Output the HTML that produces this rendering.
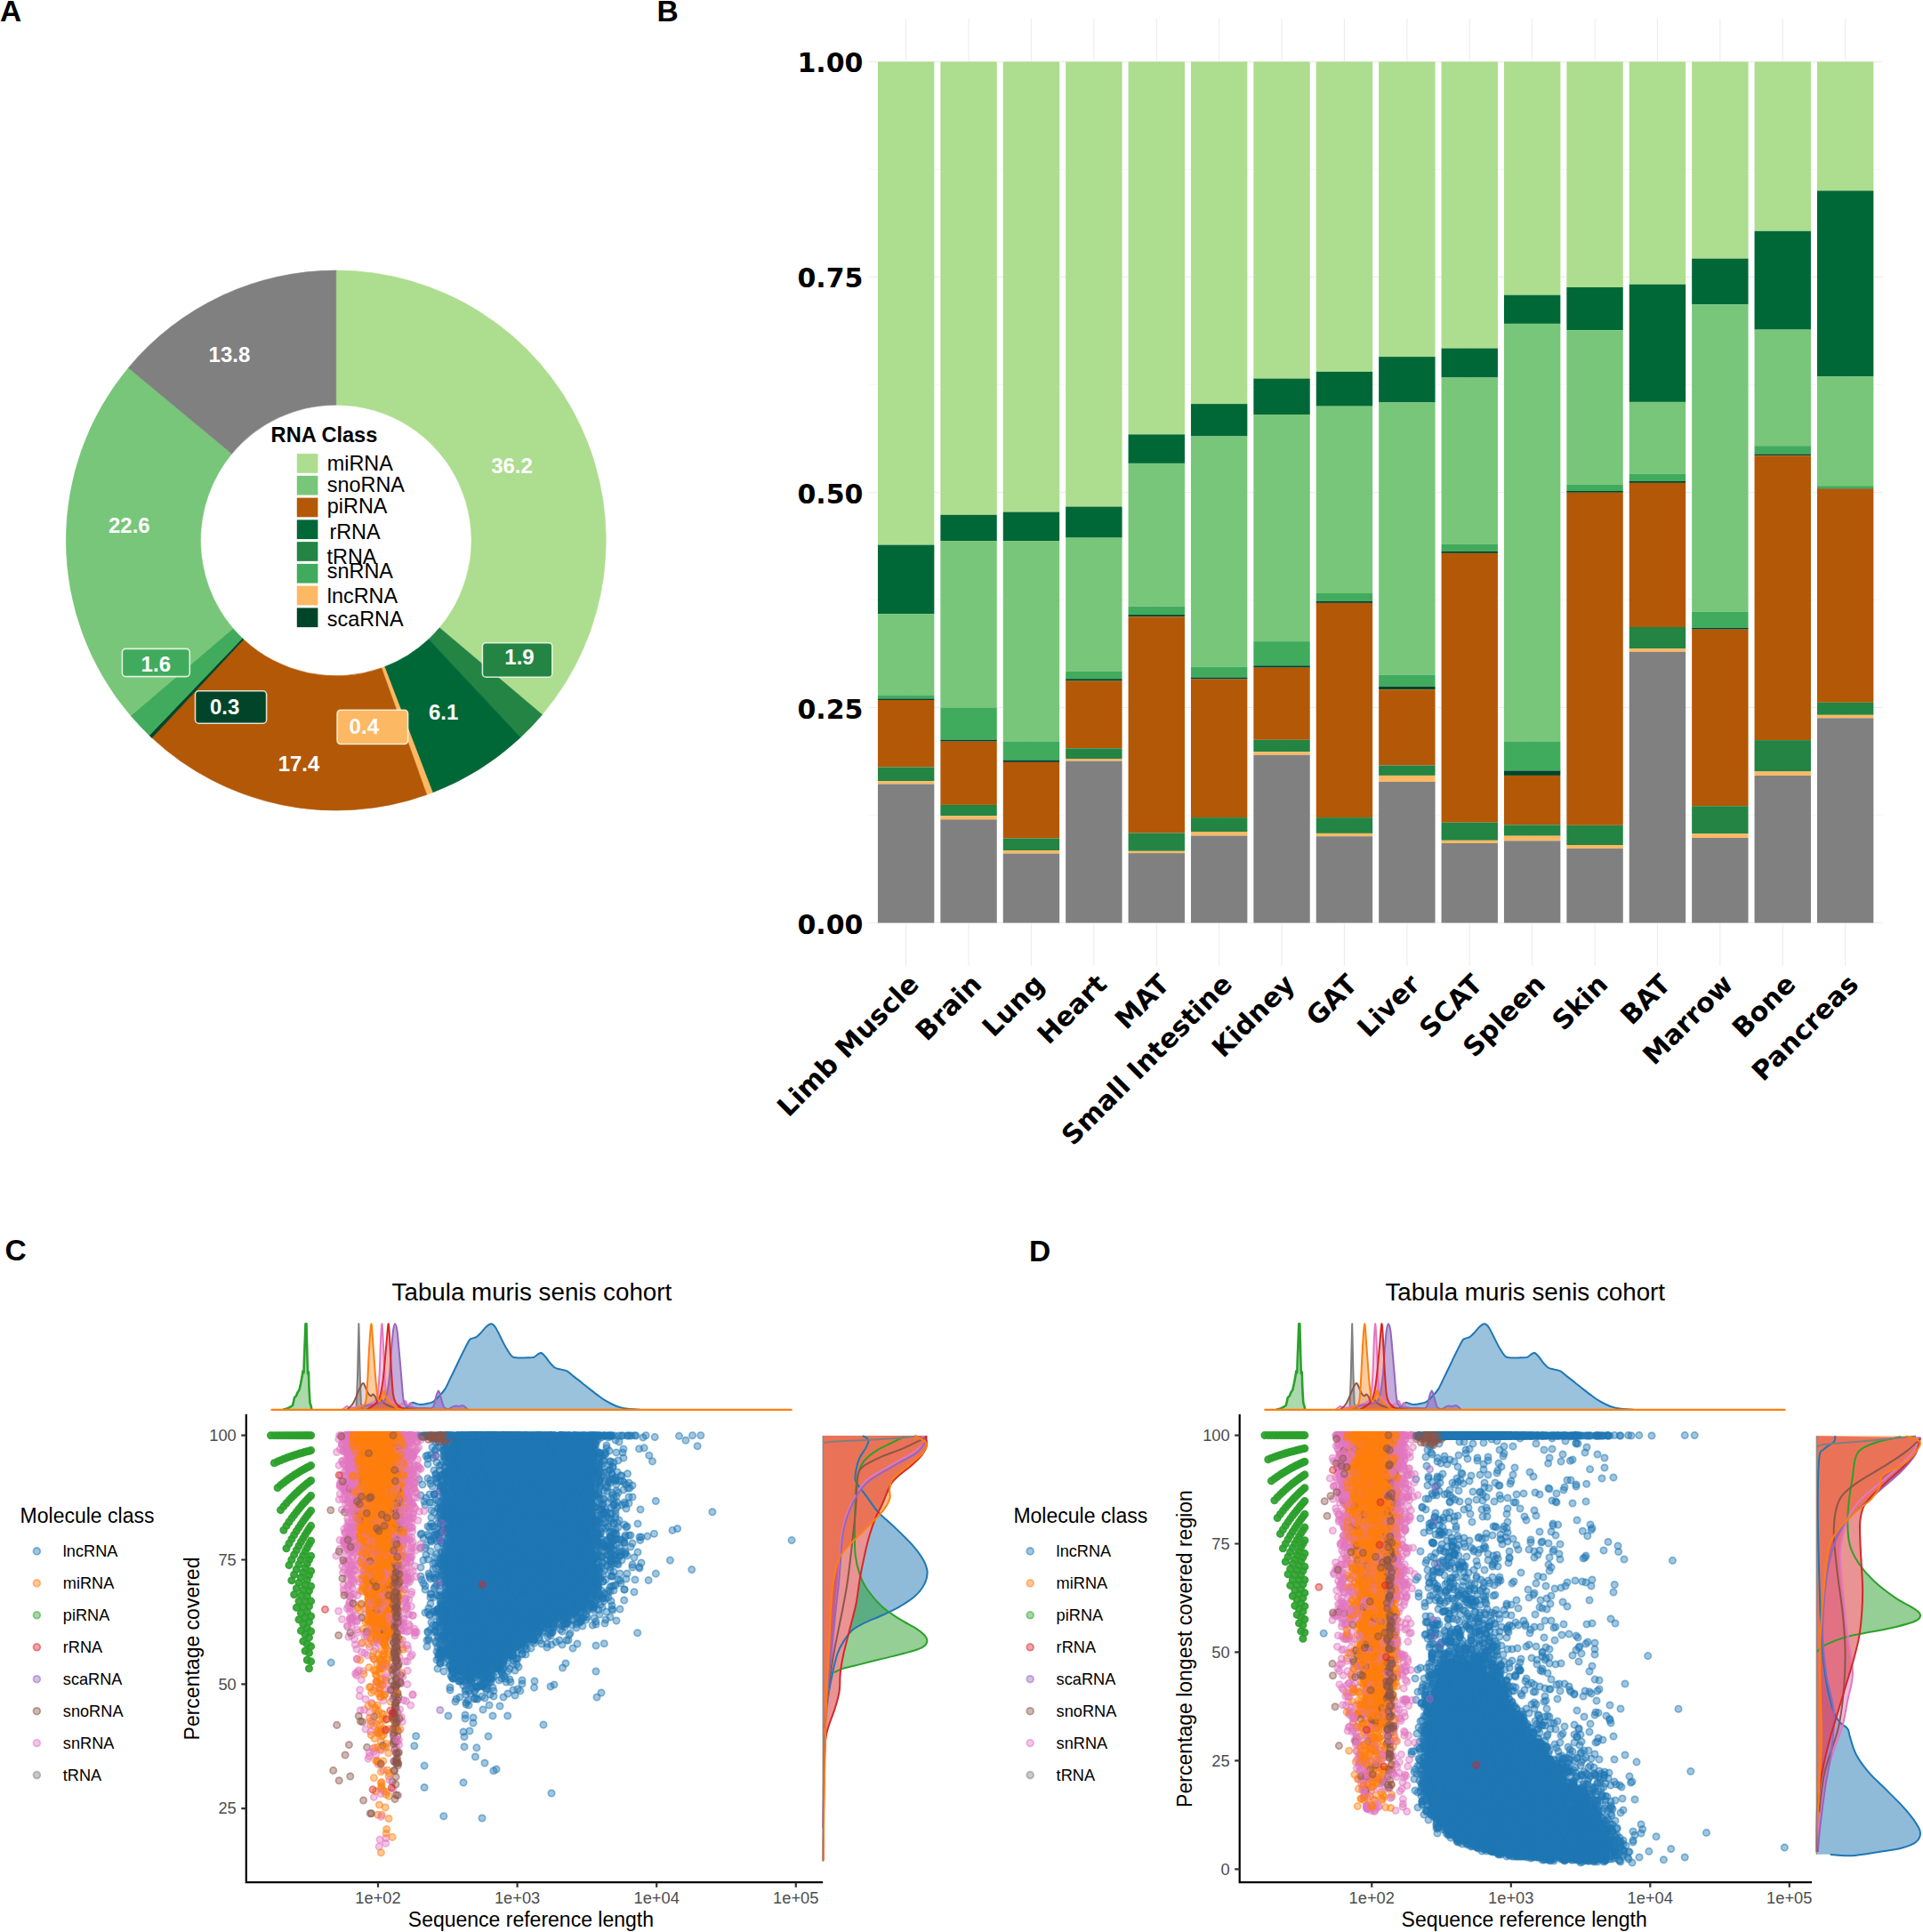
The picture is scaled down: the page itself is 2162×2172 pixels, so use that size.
<!DOCTYPE html>
<html><head><meta charset="utf-8"><title>Figure</title>
<style>
html,body{margin:0;padding:0;background:#fff}
svg{display:block}
.ls{font-family:"Liberation Sans",Arial,Helvetica,sans-serif}
.dj{font-family:"DejaVu Sans",Verdana,sans-serif;font-weight:bold}
</style></head><body>
<svg width="2162" height="2172" viewBox="0 0 2162 2172">
<rect width="2162" height="2172" fill="#fff"/>
<text x="0" y="23.7" font-size="33.5" font-weight="bold" class="ls">A</text><text x="738.6" y="24.2" font-size="33.5" font-weight="bold" class="ls">B</text><text x="5.5" y="1416.6" font-size="33.5" font-weight="bold" class="ls">C</text><text x="1157" y="1417.5" font-size="33.5" font-weight="bold" class="ls">D</text>
<g id="panelA"><path d="M377.80 304.00A303.5 303.5 0 0 1 609.61 803.40L494.13 705.80A152.3 152.3 0 0 0 377.80 455.20Z" fill="#addd8e" stroke="#addd8e" stroke-width="0.6"/>
<path d="M609.61 803.40A303.5 303.5 0 0 1 585.25 829.03L481.90 718.67A152.3 152.3 0 0 0 494.13 705.80Z" fill="#238443" stroke="#238443" stroke-width="0.6"/>
<path d="M585.25 829.03A303.5 303.5 0 0 1 486.32 890.94L432.26 749.73A152.3 152.3 0 0 0 481.90 718.67Z" fill="#006837" stroke="#006837" stroke-width="0.6"/>
<path d="M486.32 890.94A303.5 303.5 0 0 1 479.71 893.38L428.94 750.96A152.3 152.3 0 0 0 432.26 749.73Z" fill="#fdb863" stroke="#fdb863" stroke-width="0.6"/>
<path d="M479.71 893.38A303.5 303.5 0 0 1 170.85 829.50L273.95 718.90A152.3 152.3 0 0 0 428.94 750.96Z" fill="#b35806" stroke="#b35806" stroke-width="0.6"/>
<path d="M170.85 829.50A303.5 303.5 0 0 1 167.85 826.66L272.44 717.48A152.3 152.3 0 0 0 273.95 718.90Z" fill="#004529" stroke="#004529" stroke-width="0.6"/>
<path d="M167.85 826.66A303.5 303.5 0 0 1 146.98 804.57L261.97 706.39A152.3 152.3 0 0 0 272.44 717.48Z" fill="#41ab5d" stroke="#41ab5d" stroke-width="0.6"/>
<path d="M146.98 804.57A303.5 303.5 0 0 1 144.39 413.51L260.67 510.15A152.3 152.3 0 0 0 261.97 706.39Z" fill="#78c679" stroke="#78c679" stroke-width="0.6"/>
<path d="M144.39 413.51A303.5 303.5 0 0 1 377.80 304.00L377.80 455.20A152.3 152.3 0 0 0 260.67 510.15Z" fill="#808080" stroke="#808080" stroke-width="0.6"/>
<text x="304.6" y="496.6" font-size="23.6" font-weight="bold" class="ls">RNA Class</text>
<rect x="333.8" y="510.10" width="23.6" height="21.7" fill="#addd8e"/>
<text x="367.8" y="529.3" font-size="23.4" class="ls">miRNA</text>
<rect x="333.8" y="534.86" width="23.6" height="21.7" fill="#78c679"/>
<text x="367.8" y="552.9" font-size="23.4" class="ls">snoRNA</text>
<rect x="333.8" y="559.62" width="23.6" height="21.7" fill="#b35806"/>
<text x="367.8" y="577.4" font-size="23.4" class="ls">piRNA</text>
<rect x="333.8" y="584.38" width="23.6" height="21.7" fill="#006837"/>
<text x="370.4" y="606" font-size="23.4" class="ls">rRNA</text>
<rect x="333.8" y="609.14" width="23.6" height="21.7" fill="#238443"/>
<text x="367.5" y="633.6" font-size="23.4" class="ls">tRNA</text>
<rect x="333.8" y="633.90" width="23.6" height="21.7" fill="#41ab5d"/>
<text x="367.8" y="650" font-size="23.4" class="ls">snRNA</text>
<rect x="333.8" y="658.66" width="23.6" height="21.7" fill="#fdb863"/>
<text x="367.8" y="678.3" font-size="23.4" class="ls">lncRNA</text>
<rect x="333.8" y="683.42" width="23.6" height="21.7" fill="#004529"/>
<text x="367.8" y="704.3" font-size="23.4" class="ls">scaRNA</text>
<text x="257.9" y="406.8" font-size="24" font-weight="bold" fill="#fff" text-anchor="middle" class="ls">13.8</text>
<text x="145.3" y="599.4" font-size="24" font-weight="bold" fill="#fff" text-anchor="middle" class="ls">22.6</text>
<text x="575.5" y="531.5" font-size="24" font-weight="bold" fill="#fff" text-anchor="middle" class="ls">36.2</text>
<text x="336" y="866.5" font-size="24" font-weight="bold" fill="#fff" text-anchor="middle" class="ls">17.4</text>
<text x="498.7" y="809.3" font-size="24" font-weight="bold" fill="#fff" text-anchor="middle" class="ls">6.1</text>
<rect x="137.4" y="729.4" width="75.9" height="31.2" rx="4" fill="#41ab5d" stroke="#f7fcf0" stroke-opacity=".85" stroke-width="1.6"/>
<text x="175.3" y="755.2" font-size="24" font-weight="bold" fill="#fff" text-anchor="middle" class="ls">1.6</text>
<rect x="219.5" y="776.8" width="80.1" height="36.4" rx="4" fill="#004529" stroke="#f7fcf0" stroke-opacity=".85" stroke-width="1.6"/>
<text x="252.6" y="803.1" font-size="24" font-weight="bold" fill="#fff" text-anchor="middle" class="ls">0.3</text>
<rect x="379.1" y="798.2" width="79.5" height="38.3" rx="4" fill="#fdb863" stroke="#f7fcf0" stroke-opacity=".85" stroke-width="1.6"/>
<text x="409.3" y="824.9" font-size="24" font-weight="bold" fill="#fff" text-anchor="middle" class="ls">0.4</text>
<rect x="542.4" y="722.7" width="78.4" height="38.5" rx="4" fill="#238443" stroke="#f7fcf0" stroke-opacity=".85" stroke-width="1.6"/>
<text x="584" y="746.9" font-size="24" font-weight="bold" fill="#fff" text-anchor="middle" class="ls">1.9</text></g>
<g id="panelB"><path d="M1018.65 21.0V1086.0M1089.05 21.0V1086.0M1159.45 21.0V1086.0M1229.85 21.0V1086.0M1300.25 21.0V1086.0M1370.65 21.0V1086.0M1441.05 21.0V1086.0M1511.45 21.0V1086.0M1581.85 21.0V1086.0M1652.25 21.0V1086.0M1722.65 21.0V1086.0M1793.05 21.0V1086.0M1863.45 21.0V1086.0M1933.85 21.0V1086.0M2004.25 21.0V1086.0M2074.65 21.0V1086.0M976.4 1037.50H2116.9M976.4 795.48H2116.9M976.4 553.45H2116.9M976.4 311.42H2116.9M976.4 69.40H2116.9" stroke="#ededed" stroke-width="1.1" fill="none"/>
<path d="M976.4 916.49H2116.9M976.4 674.46H2116.9M976.4 432.44H2116.9M976.4 190.41H2116.9" stroke="#f2f2f2" stroke-width="0.7" fill="none"/>
<rect x="986.95" y="69.40" width="63.4" height="543.20" fill="#addd8e"/>
<rect x="986.95" y="612.60" width="63.4" height="77.80" fill="#006837"/>
<rect x="986.95" y="690.40" width="63.4" height="91.00" fill="#78c679"/>
<rect x="986.95" y="781.40" width="63.4" height="4.00" fill="#41ab5d"/>
<rect x="986.95" y="785.40" width="63.4" height="1.60" fill="#004529"/>
<rect x="986.95" y="787.00" width="63.4" height="75.50" fill="#b35806"/>
<rect x="986.95" y="862.50" width="63.4" height="15.80" fill="#238443"/>
<rect x="986.95" y="878.30" width="63.4" height="3.20" fill="#fdb863"/>
<rect x="986.95" y="881.50" width="63.4" height="156.00" fill="#808080"/>
<rect x="1057.35" y="69.40" width="63.4" height="509.40" fill="#addd8e"/>
<rect x="1057.35" y="578.80" width="63.4" height="29.30" fill="#006837"/>
<rect x="1057.35" y="608.10" width="63.4" height="187.30" fill="#78c679"/>
<rect x="1057.35" y="795.40" width="63.4" height="36.20" fill="#41ab5d"/>
<rect x="1057.35" y="831.60" width="63.4" height="2.10" fill="#004529"/>
<rect x="1057.35" y="833.70" width="63.4" height="71.20" fill="#b35806"/>
<rect x="1057.35" y="904.90" width="63.4" height="12.40" fill="#238443"/>
<rect x="1057.35" y="917.30" width="63.4" height="4.00" fill="#fdb863"/>
<rect x="1057.35" y="921.30" width="63.4" height="116.20" fill="#808080"/>
<rect x="1127.75" y="69.40" width="63.4" height="506.20" fill="#addd8e"/>
<rect x="1127.75" y="575.60" width="63.4" height="32.50" fill="#006837"/>
<rect x="1127.75" y="608.10" width="63.4" height="225.30" fill="#78c679"/>
<rect x="1127.75" y="833.40" width="63.4" height="21.10" fill="#41ab5d"/>
<rect x="1127.75" y="854.50" width="63.4" height="2.40" fill="#004529"/>
<rect x="1127.75" y="856.90" width="63.4" height="85.50" fill="#b35806"/>
<rect x="1127.75" y="942.40" width="63.4" height="13.70" fill="#238443"/>
<rect x="1127.75" y="956.10" width="63.4" height="3.50" fill="#fdb863"/>
<rect x="1127.75" y="959.60" width="63.4" height="77.90" fill="#808080"/>
<rect x="1198.15" y="69.40" width="63.4" height="500.20" fill="#addd8e"/>
<rect x="1198.15" y="569.60" width="63.4" height="35.00" fill="#006837"/>
<rect x="1198.15" y="604.60" width="63.4" height="149.90" fill="#78c679"/>
<rect x="1198.15" y="754.50" width="63.4" height="8.70" fill="#41ab5d"/>
<rect x="1198.15" y="763.20" width="63.4" height="2.40" fill="#004529"/>
<rect x="1198.15" y="765.60" width="63.4" height="75.70" fill="#b35806"/>
<rect x="1198.15" y="841.30" width="63.4" height="11.70" fill="#238443"/>
<rect x="1198.15" y="853.00" width="63.4" height="2.60" fill="#fdb863"/>
<rect x="1198.15" y="855.60" width="63.4" height="181.90" fill="#808080"/>
<rect x="1268.55" y="69.40" width="63.4" height="419.00" fill="#addd8e"/>
<rect x="1268.55" y="488.40" width="63.4" height="32.50" fill="#006837"/>
<rect x="1268.55" y="520.90" width="63.4" height="160.70" fill="#78c679"/>
<rect x="1268.55" y="681.60" width="63.4" height="9.50" fill="#41ab5d"/>
<rect x="1268.55" y="691.10" width="63.4" height="2.30" fill="#004529"/>
<rect x="1268.55" y="693.40" width="63.4" height="243.10" fill="#b35806"/>
<rect x="1268.55" y="936.50" width="63.4" height="20.30" fill="#238443"/>
<rect x="1268.55" y="956.80" width="63.4" height="2.30" fill="#fdb863"/>
<rect x="1268.55" y="959.10" width="63.4" height="78.40" fill="#808080"/>
<rect x="1338.95" y="69.40" width="63.4" height="384.70" fill="#addd8e"/>
<rect x="1338.95" y="454.10" width="63.4" height="36.40" fill="#006837"/>
<rect x="1338.95" y="490.50" width="63.4" height="259.10" fill="#78c679"/>
<rect x="1338.95" y="749.60" width="63.4" height="11.90" fill="#41ab5d"/>
<rect x="1338.95" y="761.50" width="63.4" height="2.10" fill="#004529"/>
<rect x="1338.95" y="763.60" width="63.4" height="155.50" fill="#b35806"/>
<rect x="1338.95" y="919.10" width="63.4" height="15.90" fill="#238443"/>
<rect x="1338.95" y="935.00" width="63.4" height="4.50" fill="#fdb863"/>
<rect x="1338.95" y="939.50" width="63.4" height="98.00" fill="#808080"/>
<rect x="1409.35" y="69.40" width="63.4" height="356.20" fill="#addd8e"/>
<rect x="1409.35" y="425.60" width="63.4" height="40.40" fill="#006837"/>
<rect x="1409.35" y="466.00" width="63.4" height="255.10" fill="#78c679"/>
<rect x="1409.35" y="721.10" width="63.4" height="27.20" fill="#41ab5d"/>
<rect x="1409.35" y="748.30" width="63.4" height="2.40" fill="#004529"/>
<rect x="1409.35" y="750.70" width="63.4" height="81.10" fill="#b35806"/>
<rect x="1409.35" y="831.80" width="63.4" height="13.50" fill="#238443"/>
<rect x="1409.35" y="845.30" width="63.4" height="3.50" fill="#fdb863"/>
<rect x="1409.35" y="848.80" width="63.4" height="188.70" fill="#808080"/>
<rect x="1479.75" y="69.40" width="63.4" height="348.50" fill="#addd8e"/>
<rect x="1479.75" y="417.90" width="63.4" height="38.80" fill="#006837"/>
<rect x="1479.75" y="456.70" width="63.4" height="210.30" fill="#78c679"/>
<rect x="1479.75" y="667.00" width="63.4" height="8.70" fill="#41ab5d"/>
<rect x="1479.75" y="675.70" width="63.4" height="2.20" fill="#004529"/>
<rect x="1479.75" y="677.90" width="63.4" height="241.20" fill="#b35806"/>
<rect x="1479.75" y="919.10" width="63.4" height="17.80" fill="#238443"/>
<rect x="1479.75" y="936.90" width="63.4" height="3.30" fill="#fdb863"/>
<rect x="1479.75" y="940.20" width="63.4" height="97.30" fill="#808080"/>
<rect x="1550.15" y="69.40" width="63.4" height="331.70" fill="#addd8e"/>
<rect x="1550.15" y="401.10" width="63.4" height="51.40" fill="#006837"/>
<rect x="1550.15" y="452.50" width="63.4" height="306.00" fill="#78c679"/>
<rect x="1550.15" y="758.50" width="63.4" height="13.20" fill="#41ab5d"/>
<rect x="1550.15" y="771.70" width="63.4" height="3.60" fill="#004529"/>
<rect x="1550.15" y="775.30" width="63.4" height="85.20" fill="#b35806"/>
<rect x="1550.15" y="860.50" width="63.4" height="11.40" fill="#238443"/>
<rect x="1550.15" y="871.90" width="63.4" height="7.00" fill="#fdb863"/>
<rect x="1550.15" y="878.90" width="63.4" height="158.60" fill="#808080"/>
<rect x="1620.55" y="69.40" width="63.4" height="322.20" fill="#addd8e"/>
<rect x="1620.55" y="391.60" width="63.4" height="32.90" fill="#006837"/>
<rect x="1620.55" y="424.50" width="63.4" height="187.40" fill="#78c679"/>
<rect x="1620.55" y="611.90" width="63.4" height="7.90" fill="#41ab5d"/>
<rect x="1620.55" y="619.80" width="63.4" height="2.10" fill="#004529"/>
<rect x="1620.55" y="621.90" width="63.4" height="302.80" fill="#b35806"/>
<rect x="1620.55" y="924.70" width="63.4" height="20.10" fill="#238443"/>
<rect x="1620.55" y="944.80" width="63.4" height="3.20" fill="#fdb863"/>
<rect x="1620.55" y="948.00" width="63.4" height="89.50" fill="#808080"/>
<rect x="1690.95" y="69.40" width="63.4" height="262.30" fill="#addd8e"/>
<rect x="1690.95" y="331.70" width="63.4" height="32.20" fill="#006837"/>
<rect x="1690.95" y="363.90" width="63.4" height="469.50" fill="#78c679"/>
<rect x="1690.95" y="833.40" width="63.4" height="33.00" fill="#41ab5d"/>
<rect x="1690.95" y="866.40" width="63.4" height="5.50" fill="#004529"/>
<rect x="1690.95" y="871.90" width="63.4" height="55.40" fill="#b35806"/>
<rect x="1690.95" y="927.30" width="63.4" height="12.40" fill="#238443"/>
<rect x="1690.95" y="939.70" width="63.4" height="5.60" fill="#fdb863"/>
<rect x="1690.95" y="945.30" width="63.4" height="92.20" fill="#808080"/>
<rect x="1761.35" y="69.40" width="63.4" height="253.60" fill="#addd8e"/>
<rect x="1761.35" y="323.00" width="63.4" height="48.20" fill="#006837"/>
<rect x="1761.35" y="371.20" width="63.4" height="173.70" fill="#78c679"/>
<rect x="1761.35" y="544.90" width="63.4" height="7.10" fill="#41ab5d"/>
<rect x="1761.35" y="552.00" width="63.4" height="1.80" fill="#004529"/>
<rect x="1761.35" y="553.80" width="63.4" height="374.00" fill="#b35806"/>
<rect x="1761.35" y="927.80" width="63.4" height="22.20" fill="#238443"/>
<rect x="1761.35" y="950.00" width="63.4" height="3.90" fill="#fdb863"/>
<rect x="1761.35" y="953.90" width="63.4" height="83.60" fill="#808080"/>
<rect x="1831.75" y="69.40" width="63.4" height="250.30" fill="#addd8e"/>
<rect x="1831.75" y="319.70" width="63.4" height="132.20" fill="#006837"/>
<rect x="1831.75" y="451.90" width="63.4" height="81.00" fill="#78c679"/>
<rect x="1831.75" y="532.90" width="63.4" height="7.90" fill="#41ab5d"/>
<rect x="1831.75" y="540.80" width="63.4" height="2.10" fill="#004529"/>
<rect x="1831.75" y="542.90" width="63.4" height="162.10" fill="#b35806"/>
<rect x="1831.75" y="705.00" width="63.4" height="24.30" fill="#238443"/>
<rect x="1831.75" y="729.30" width="63.4" height="3.50" fill="#fdb863"/>
<rect x="1831.75" y="732.80" width="63.4" height="304.70" fill="#808080"/>
<rect x="1902.15" y="69.40" width="63.4" height="221.30" fill="#addd8e"/>
<rect x="1902.15" y="290.70" width="63.4" height="51.70" fill="#006837"/>
<rect x="1902.15" y="342.40" width="63.4" height="345.10" fill="#78c679"/>
<rect x="1902.15" y="687.50" width="63.4" height="18.30" fill="#41ab5d"/>
<rect x="1902.15" y="705.80" width="63.4" height="1.90" fill="#004529"/>
<rect x="1902.15" y="707.70" width="63.4" height="198.50" fill="#b35806"/>
<rect x="1902.15" y="906.20" width="63.4" height="31.20" fill="#238443"/>
<rect x="1902.15" y="937.40" width="63.4" height="4.60" fill="#fdb863"/>
<rect x="1902.15" y="942.00" width="63.4" height="95.50" fill="#808080"/>
<rect x="1972.55" y="69.40" width="63.4" height="190.40" fill="#addd8e"/>
<rect x="1972.55" y="259.80" width="63.4" height="110.80" fill="#006837"/>
<rect x="1972.55" y="370.60" width="63.4" height="130.60" fill="#78c679"/>
<rect x="1972.55" y="501.20" width="63.4" height="9.30" fill="#41ab5d"/>
<rect x="1972.55" y="510.50" width="63.4" height="1.80" fill="#004529"/>
<rect x="1972.55" y="512.30" width="63.4" height="319.80" fill="#b35806"/>
<rect x="1972.55" y="832.10" width="63.4" height="35.30" fill="#238443"/>
<rect x="1972.55" y="867.40" width="63.4" height="4.60" fill="#fdb863"/>
<rect x="1972.55" y="872.00" width="63.4" height="165.50" fill="#808080"/>
<rect x="2042.95" y="69.40" width="63.4" height="145.00" fill="#addd8e"/>
<rect x="2042.95" y="214.40" width="63.4" height="209.00" fill="#006837"/>
<rect x="2042.95" y="423.40" width="63.4" height="122.80" fill="#78c679"/>
<rect x="2042.95" y="546.20" width="63.4" height="2.80" fill="#41ab5d"/>
<rect x="2042.95" y="549.00" width="63.4" height="0.60" fill="#004529"/>
<rect x="2042.95" y="549.60" width="63.4" height="240.20" fill="#b35806"/>
<rect x="2042.95" y="789.80" width="63.4" height="14.00" fill="#238443"/>
<rect x="2042.95" y="803.80" width="63.4" height="3.50" fill="#fdb863"/>
<rect x="2042.95" y="807.30" width="63.4" height="230.20" fill="#808080"/>
<text x="970.5" y="1049.5" font-size="30" text-anchor="end" class="dj">0.00</text>
<text x="970.5" y="807.5" font-size="30" text-anchor="end" class="dj">0.25</text>
<text x="970.5" y="565.5" font-size="30" text-anchor="end" class="dj">0.50</text>
<text x="970.5" y="323.4" font-size="30" text-anchor="end" class="dj">0.75</text>
<text x="970.5" y="81.4" font-size="30" text-anchor="end" class="dj">1.00</text>
<text transform="translate(1019.6 1093) rotate(-45)" x="0" y="21.7" font-size="30" text-anchor="end" class="dj">Limb Muscle</text>
<text transform="translate(1090.0 1093) rotate(-45)" x="0" y="21.7" font-size="30" text-anchor="end" class="dj">Brain</text>
<text transform="translate(1160.5 1093) rotate(-45)" x="0" y="21.7" font-size="30" text-anchor="end" class="dj">Lung</text>
<text transform="translate(1230.8 1093) rotate(-45)" x="0" y="21.7" font-size="30" text-anchor="end" class="dj">Heart</text>
<text transform="translate(1301.2 1093) rotate(-45)" x="0" y="21.7" font-size="30" text-anchor="end" class="dj">MAT</text>
<text transform="translate(1371.7 1093) rotate(-45)" x="0" y="21.7" font-size="30" text-anchor="end" class="dj">Small Intestine</text>
<text transform="translate(1442.0 1093) rotate(-45)" x="0" y="21.7" font-size="30" text-anchor="end" class="dj">Kidney</text>
<text transform="translate(1512.5 1093) rotate(-45)" x="0" y="21.7" font-size="30" text-anchor="end" class="dj">GAT</text>
<text transform="translate(1582.8 1093) rotate(-45)" x="0" y="21.7" font-size="30" text-anchor="end" class="dj">Liver</text>
<text transform="translate(1653.2 1093) rotate(-45)" x="0" y="21.7" font-size="30" text-anchor="end" class="dj">SCAT</text>
<text transform="translate(1723.7 1093) rotate(-45)" x="0" y="21.7" font-size="30" text-anchor="end" class="dj">Spleen</text>
<text transform="translate(1794.1 1093) rotate(-45)" x="0" y="21.7" font-size="30" text-anchor="end" class="dj">Skin</text>
<text transform="translate(1864.5 1093) rotate(-45)" x="0" y="21.7" font-size="30" text-anchor="end" class="dj">BAT</text>
<text transform="translate(1934.8 1093) rotate(-45)" x="0" y="21.7" font-size="30" text-anchor="end" class="dj">Marrow</text>
<text transform="translate(2005.2 1093) rotate(-45)" x="0" y="21.7" font-size="30" text-anchor="end" class="dj">Bone</text>
<text transform="translate(2075.7 1093) rotate(-45)" x="0" y="21.7" font-size="30" text-anchor="end" class="dj">Pancreas</text></g>
<defs>
<marker id="m_lncRNA" markerWidth="12" markerHeight="12" refX="6" refY="6" markerUnits="userSpaceOnUse"><circle cx="6" cy="6" r="3.7" fill="#1f77b4" fill-opacity=".42" stroke="#1f77b4" stroke-opacity=".5" stroke-width="1.7"/></marker>
<marker id="m_miRNA" markerWidth="12" markerHeight="12" refX="6" refY="6" markerUnits="userSpaceOnUse"><circle cx="6" cy="6" r="3.7" fill="#ff7f0e" fill-opacity=".42" stroke="#ff7f0e" stroke-opacity=".5" stroke-width="1.7"/></marker>
<marker id="m_piRNA" markerWidth="12" markerHeight="12" refX="6" refY="6" markerUnits="userSpaceOnUse"><circle cx="6" cy="6" r="3.7" fill="#2ca02c" fill-opacity=".9" stroke="#2ca02c" stroke-opacity=".9" stroke-width="1.7"/></marker>
<marker id="m_rRNA" markerWidth="12" markerHeight="12" refX="6" refY="6" markerUnits="userSpaceOnUse"><circle cx="6" cy="6" r="3.7" fill="#d62728" fill-opacity=".42" stroke="#d62728" stroke-opacity=".5" stroke-width="1.7"/></marker>
<marker id="m_scaRNA" markerWidth="12" markerHeight="12" refX="6" refY="6" markerUnits="userSpaceOnUse"><circle cx="6" cy="6" r="3.7" fill="#9467bd" fill-opacity=".42" stroke="#9467bd" stroke-opacity=".5" stroke-width="1.7"/></marker>
<marker id="m_snoRNA" markerWidth="12" markerHeight="12" refX="6" refY="6" markerUnits="userSpaceOnUse"><circle cx="6" cy="6" r="3.7" fill="#8c564b" fill-opacity=".42" stroke="#8c564b" stroke-opacity=".5" stroke-width="1.7"/></marker>
<marker id="m_snRNA" markerWidth="12" markerHeight="12" refX="6" refY="6" markerUnits="userSpaceOnUse"><circle cx="6" cy="6" r="3.7" fill="#e377c2" fill-opacity=".42" stroke="#e377c2" stroke-opacity=".5" stroke-width="1.7"/></marker>
<marker id="m_tRNA" markerWidth="12" markerHeight="12" refX="6" refY="6" markerUnits="userSpaceOnUse"><circle cx="6" cy="6" r="3.7" fill="#7f7f7f" fill-opacity=".42" stroke="#7f7f7f" stroke-opacity=".5" stroke-width="1.7"/></marker>
</defs>
<g id="panelC"><path d="M511.9 1612.5L518.9 1619.1L525.9 1614.6L532.9 1616.1L540.0 1615.9L547.0 1615.6L554.0 1618.3L561.0 1615.6L568.1 1616.5L575.1 1612.5L582.1 1614.9L589.2 1615.8L596.2 1615.7L603.2 1616.2L610.2 1616.8L617.3 1615.8L624.3 1614.5L631.3 1615.6L638.3 1613.8L645.4 1615.5L652.4 1615.2L661.7 1615.1L660.6 1622.3L659.5 1629.5L660.4 1636.6L661.9 1643.7L664.4 1650.7L661.5 1658.0L661.9 1665.2L664.2 1672.3L661.3 1679.4L662.1 1686.5L663.7 1693.7L663.1 1700.8L662.3 1707.9L663.1 1715.1L657.7 1722.1L663.4 1729.4L660.3 1736.4L659.1 1743.3L661.3 1750.7L661.2 1757.8L658.8 1764.7L657.2 1771.6L658.1 1778.9L657.3 1785.9L658.2 1794.5L650.6 1800.6L643.1 1806.9L636.9 1811.6L629.1 1813.3L621.8 1815.7L615.9 1821.2L609.1 1824.6L601.7 1827.0L593.9 1830.5L587.4 1836.1L577.7 1837.1L574.1 1845.6L567.5 1849.9L558.9 1852.1L553.9 1860.8L546.1 1866.4L540.8 1873.7L534.2 1875.1L522.0 1873.0L515.6 1869.1L510.1 1863.0L514.7 1855.1L511.8 1847.6L510.2 1840.0L511.2 1832.3L507.5 1824.8L511.3 1817.0L508.6 1809.4L510.7 1802.1L507.1 1794.8L509.3 1787.5L509.9 1780.2L512.0 1772.9L506.9 1765.5L508.4 1758.2L508.4 1750.9L507.9 1743.6L509.1 1736.3L510.7 1729.0L511.0 1721.7L511.0 1714.3L507.8 1707.0L512.1 1699.8L511.0 1692.7L510.7 1685.6L510.1 1678.6L509.7 1671.5L512.6 1664.6L513.5 1657.5L511.1 1650.4L509.4 1643.4L510.2 1636.3L511.2 1629.3L512.2 1622.3Z" fill="#1f77b4" stroke="#1f77b4" stroke-width="5" stroke-linejoin="round"/>
<polyline points="657,1770 515,1614 564,1862 663,1632 671,1716 511,1850 513,1866 499,1728 658,1695 630,1817 517,1616 505,1761 515,1869 591,1836 662,1629 505,1791 546,1880 665,1657 665,1749 542,1873 526,1881 661,1618 650,1617 674,1720 514,1802 545,1617 661,1723 578,1617 506,1650 669,1695 668,1765 510,1695 498,1849 547,1614 504,1691 509,1826 507,1729 501,1641 510,1877 508,1741 505,1703 512,1746 666,1637 512,1815 608,1826 493,1757 663,1663 588,1615 582,1845 557,1875 637,1813 517,1856 666,1699 661,1638 514,1878 510,1771 495,1796 666,1761 667,1627 513,1680 657,1754 637,1620 664,1674 548,1614 667,1677 565,1862 578,1616 542,1618 510,1661 666,1752 660,1622 648,1805 539,1877 599,1836 568,1851 622,1819 658,1776 494,1653 503,1670 571,1857 588,1836 662,1713 664,1729 580,1847 510,1784 498,1806 663,1700 507,1781 506,1661 669,1793 582,1850 663,1671 604,1832 510,1785 505,1719 568,1616 526,1617 511,1635 549,1869 577,1847 509,1695 501,1632 506,1800 510,1648 623,1824 663,1759 614,1615 598,1833 663,1656 642,1813 592,1834 503,1625 592,1614 509,1701 514,1726 506,1680 504,1780 624,1814 667,1732 663,1755 528,1881 532,1878 513,1663 504,1851 672,1655 509,1867 501,1844 507,1862 659,1649 499,1716 547,1870 507,1785 506,1794 495,1713 657,1711 508,1668 521,1615 499,1754 549,1877 515,1644 511,1738 656,1790 551,1862 514,1832 662,1618 657,1808 655,1800 514,1801 536,1878 501,1682 508,1803 661,1635 570,1852 663,1767 529,1879 497,1821 660,1631 592,1839 548,1871 508,1731 660,1744 667,1640 665,1683 499,1637 501,1709 668,1669 631,1816 563,1865 657,1642 674,1633 666,1645 663,1727 510,1725 663,1700 516,1873 570,1618 599,1836 536,1881 511,1699 557,1868 601,1825 498,1674 636,1810 556,1617 503,1852 674,1707 509,1705 642,1807 674,1665 502,1776 507,1821 582,1615 507,1828 508,1717 666,1654 504,1634 502,1774 528,1886 583,1615 509,1816 659,1742 507,1693 512,1630 575,1844 643,1821 539,1878 660,1788 589,1837 571,1860 558,1869 511,1774 501,1797 679,1685 507,1618 608,1615 622,1615 556,1872 512,1741 673,1663 501,1622 660,1734 509,1719 671,1727 575,1849 515,1843 655,1805 661,1760 629,1812 607,1831 571,1852 608,1614 511,1624 499,1771 664,1739 671,1724 507,1632 668,1743 507,1710 628,1817 676,1697 675,1664 505,1815 665,1644 505,1780 533,1614 510,1850 513,1874 511,1744 603,1826 525,1875 664,1789 664,1694 670,1649 609,1824 509,1689 582,1839 502,1809 560,1854 520,1617 636,1818 644,1805 661,1667 573,1846 526,1885 665,1714 664,1706 501,1637 559,1863 505,1717 626,1619 501,1833 655,1797 506,1778 598,1831 506,1872 664,1727 673,1638 503,1664 668,1628 664,1680 555,1861 506,1791 665,1707 571,1861 625,1815 645,1812 640,1807 562,1852 507,1708 512,1625 617,1820 662,1705 622,1817 513,1712 508,1618 662,1674 510,1682 664,1675 510,1783 510,1729 562,1615 511,1870 492,1809 505,1709 514,1838 511,1828 551,1616 509,1765 520,1880 508,1748 663,1719 627,1824 659,1759 502,1738 515,1653 500,1747 509,1640 621,1835 575,1845 506,1649 500,1840 506,1733 660,1777 658,1761 504,1764 504,1725 629,1621 617,1826 515,1628 654,1780 509,1767 576,1841 517,1872 676,1616 570,1849 666,1625 563,1855 512,1859 500,1621 660,1745 505,1727 644,1615 627,1816 502,1847 505,1780 501,1792 666,1685 586,1617 630,1620 570,1617 638,1809 501,1687 501,1790 656,1620 504,1745 653,1805 657,1765 517,1868 511,1856 663,1672 661,1800 542,1877 562,1618 548,1867 501,1619 640,1811 666,1692 545,1873 637,1812 657,1727 511,1646 601,1830 669,1616 666,1676 514,1615 641,1804 663,1659 653,1783 504,1643 664,1710 658,1778 557,1624 654,1739 624,1614 507,1746 670,1659 602,1829 512,1795 591,1840 670,1774 659,1764 593,1830 580,1849 660,1767 512,1668 633,1814 670,1656 677,1697 505,1808 504,1827 664,1647 499,1700 541,1870 671,1737 511,1819 509,1862 658,1702 614,1830 510,1852 620,1818 499,1811 663,1689 564,1859 648,1614 663,1655 663,1685 495,1673 666,1639 515,1622 671,1749 662,1675 668,1770 674,1666 662,1630 503,1822 510,1735 619,1824 662,1782 657,1783 609,1824 502,1832 502,1630 650,1803 513,1823 666,1733 593,1845 509,1858 659,1707 665,1743 584,1836 510,1753 505,1698 512,1673 495,1782 508,1647 511,1831 669,1752 570,1848 509,1676 675,1773 498,1657 676,1691 503,1802 507,1853 664,1741 664,1643 654,1652 503,1662 645,1802 600,1616 509,1761 510,1625 508,1750 677,1650 664,1715 502,1825 509,1671 645,1814 594,1618 545,1887 658,1787 619,1614 663,1687 677,1718 513,1685 510,1760 500,1813 562,1851 511,1617 571,1615 665,1757 636,1825 494,1820 508,1638 520,1615 661,1625 511,1690 662,1757 663,1721 506,1814 599,1829 553,1860 512,1645 670,1635 506,1847 511,1691 504,1720 502,1707 581,1838 666,1618 540,1614 664,1738 500,1690 675,1730 640,1812 660,1751 657,1792 646,1806 600,1832 647,1807 515,1857 653,1786 667,1714 667,1786 501,1810 511,1627 508,1836 510,1835 656,1776 510,1728 625,1820 667,1731 528,1615 673,1658 507,1793 635,1810 664,1781 672,1619 507,1731 512,1832 558,1856 511,1719 655,1803 650,1797 619,1836 514,1854 670,1662 540,1617 500,1656 653,1797 585,1847 570,1845 508,1812 499,1793 667,1784 518,1614 511,1680 537,1880 508,1711 505,1658 665,1691 628,1813 552,1864 666,1734 668,1753 510,1740 665,1745 671,1753 674,1653 664,1669 663,1728 660,1616 601,1615 673,1737 537,1882 669,1623 617,1827 506,1848 508,1623 675,1634 648,1809 510,1754 510,1616 580,1617 672,1762 510,1620 673,1704 509,1651 668,1652 506,1767 542,1876 493,1859 679,1701 509,1641 596,1614 666,1718 521,1877 657,1785 658,1746 665,1670 502,1692 503,1684 507,1675 559,1862 497,1759 517,1872 585,1842 673,1679 548,1869 505,1675 507,1634 514,1870 634,1618 587,1835 634,1816 508,1680 516,1865 664,1704 508,1795 597,1834 507,1856 666,1683 506,1758 669,1673 506,1734 503,1696 665,1624 497,1840 510,1632 499,1705 507,1743 501,1763 660,1746 672,1695 552,1856 508,1700 659,1796 503,1723 511,1816 502,1679 648,1809 660,1800 662,1698 501,1685 659,1772 671,1776 637,1616 569,1614 674,1647 662,1634 508,1665 514,1879 666,1720 616,1821 663,1769 651,1800 560,1873 532,1881 512,1829 513,1655 503,1645 511,1865 501,1774 503,1737 496,1843 653,1800 668,1717 505,1734 673,1679 661,1620 514,1666 506,1788 527,1878 497,1735 511,1782 650,1617 657,1789 505,1692 507,1821 605,1828 658,1614 581,1614 501,1649 563,1614 544,1868 508,1824 611,1825 659,1774 568,1853 508,1648 574,1851 514,1842 513,1642 513,1706 664,1781 608,1825 509,1824 587,1840 497,1806 628,1816 512,1761 501,1838 614,1825 510,1758 663,1643 511,1673 499,1679 503,1622 577,1849 558,1616 638,1818 526,1872 663,1665 497,1752 501,1784 502,1830 521,1874 665,1737 588,1615 538,1616 640,1615 619,1818 508,1642 666,1661 542,1870 496,1647 670,1713 673,1660 510,1722 513,1656 579,1851 668,1784 507,1766 511,1616 649,1804 508,1702 662,1620 664,1688 663,1792 656,1614 561,1867 564,1850 663,1633 518,1873 662,1730 665,1626 595,1838 676,1741 523,1881 607,1825 505,1638 619,1819 674,1792 512,1723 656,1771 659,1741 505,1686 632,1813 503,1786 601,1616 512,1615 665,1681 505,1801 665,1666 667,1690 567,1858 511,1755 508,1818 655,1807 505,1831 512,1747 662,1710 669,1621 661,1636 498,1827 600,1843 662,1645 506,1696 659,1717 670,1671 560,1860 504,1740 501,1750 658,1799 509,1731 496,1665 548,1863 495,1803 543,1618 533,1615 509,1806 664,1687 670,1630 583,1614 586,1848 655,1724 574,1614 502,1836 604,1832 511,1868 664,1773 509,1852 498,1716 623,1814 615,1817 506,1792 673,1724 614,1824 508,1798 506,1773 633,1822 664,1662 579,1837 502,1803 558,1860 504,1756 506,1710 656,1677 553,1870 513,1721 658,1764 545,1880 507,1765 566,1618 539,1870 642,1615 505,1860 651,1618 511,1687 505,1848 666,1640 507,1752 503,1760 587,1844 503,1733 590,1619 660,1640 670,1758 659,1770 504,1699 524,1873 513,1864 580,1616 500,1812 535,1870 504,1811 587,1618 510,1845 525,1877 665,1707 513,1752 593,1834 506,1837 518,1875 503,1683 669,1681 509,1654 665,1720 668,1681 595,1828 503,1757 503,1662 502,1838 508,1788 605,1825 511,1697 506,1859 543,1616 506,1671 505,1770 666,1767 507,1817 513,1713 510,1778 509,1802 678,1685 506,1770 665,1702 510,1714 670,1723 623,1826 502,1666 511,1627 509,1677 658,1794 664,1753 506,1768 595,1833 612,1821 534,1874 671,1733 658,1746 611,1834 664,1650 548,1873 673,1711 673,1734 497,1722 506,1841 664,1703 493,1695 502,1750 504,1787 505,1776 584,1839 603,1827 506,1702 655,1795 667,1708 508,1798 659,1626 572,1844 512,1631 666,1627 658,1749 674,1690 510,1870 512,1717 507,1771 532,1877 513,1659 578,1837 507,1629 503,1767 506,1688 564,1859 514,1862 509,1637 565,1851 604,1616 508,1636 501,1655 662,1646 670,1645 660,1678 512,1708 507,1668 514,1712 506,1796 588,1842 616,1821 506,1740 510,1653 500,1742 505,1677 653,1763 502,1777 620,1615 563,1855 659,1654 507,1776 502,1655 507,1854 552,1865 505,1740 506,1660 492,1725 594,1842 512,1667 658,1781 611,1826 668,1694 673,1757 666,1777 510,1844 524,1874" fill="none" stroke="none" marker-start="url(#m_lncRNA)" marker-mid="url(#m_lncRNA)" marker-end="url(#m_lncRNA)"/>
<polyline points="542,1835 610,1794 579,1802 552,1670 561,1756 705,1769 549,1727 519,1829 613,1614 601,1713 566,1818 639,1681 608,1698 537,1814 536,1745 504,1723 608,1614 623,1742 509,1835 665,1744 668,1785 558,1667 637,1813 634,1762 537,1672 557,1614 525,1828 513,1794 516,1843 556,1772 629,1669 574,1736 535,1843 721,1728 685,1749 564,1753 601,1736 554,1631 634,1821 550,1782 534,1771 547,1761 543,1731 668,1614 646,1655 615,1753 542,1771 579,1810 569,1810 632,1828 577,1867 614,1742 538,1855 558,1732 508,1821 574,1778 544,1710 558,1842 548,1735 552,1826 556,1767 505,1700 646,1691 526,1789 620,1615 540,1735 557,1614 631,1777 679,1676 562,1725 519,1827 559,1764 545,1718 563,1701 568,1887 632,1809 615,1803 511,1697 512,1710 534,1846 546,1749 687,1730 692,1731 552,1826 572,1644 558,1853 522,1688 564,1879 536,1792 529,1711 532,1761 490,1845 523,1665 615,1726 670,1710 655,1799 523,1699 650,1742 562,1802 619,1640 523,1614 568,1815 495,1800 693,1737 501,1657 523,1838 551,1614 560,1871 638,1614 585,1657 535,1798 569,1891 562,1745 649,1681 602,1742 549,1683 595,1830 563,1632 607,1727 516,1685 551,1860 527,1821 598,1666 612,1746 547,1768 636,1699 547,1626 539,1780 580,1734 563,1695 662,1659 549,1841 541,1792 608,1819 644,1705 704,1717 642,1614 506,1739 491,1770 604,1622 537,1808 541,1866 562,1704 488,1680 626,1766 514,1838 530,1804 532,1832 535,1813 526,1858 577,1900 569,1814 618,1629 528,1614 654,1614 629,1826 517,1814 527,1753 536,1795 579,1667 562,1839 509,1823 555,1789 590,1791 634,1802 588,1650 520,1855 612,1636 559,1783 537,1708 554,1661 532,1827 541,1667 517,1796 473,1681 593,1737 681,1697 514,1758 565,1614 665,1614 533,1614 497,1614 570,1844 580,1865 673,1784 597,1633 489,1833 625,1671 513,1845 574,1731 591,1614 531,1836 624,1714 505,1873 644,1781 529,1832 617,1638 692,1619 570,1849 699,1744 541,1720 562,1681 663,1708 627,1621 595,1713 512,1886 594,1769 596,1614 538,1699 635,1797 597,1703 521,1842 560,1711 508,1876 539,1716 578,1830 539,1758 566,1723 649,1773 527,1717 693,1725 584,1780 579,1878 561,1724 589,1705 605,1709 633,1693 511,1749 542,1862 496,1852 526,1813 604,1679 563,1711 586,1793 638,1621 549,1789 576,1751 550,1730 656,1756 544,1754 544,1614 544,1696 546,1823 587,1697 601,1807 535,1851 531,1832 654,1735 686,1729 660,1671 539,1780 632,1818 680,1700 538,1812 539,1650 518,1878 557,1819 645,1768 541,1844 670,1803 524,1713 689,1732 582,1743 570,1834 690,1712 670,1751 707,1726 619,1839 540,1617 558,1805 584,1693 540,1673 631,1734 539,1614 609,1631 527,1640 554,1877 661,1754 540,1749 552,1696 564,1809 675,1670 582,1671 511,1614 562,1821 593,1614 565,1676 572,1756 544,1628 546,1854 631,1705 600,1675 622,1831 680,1614 673,1683 498,1750 622,1682 595,1827 542,1678 565,1779 523,1928 481,1662 546,1614 524,1846 632,1695 583,1667 553,1627 541,1828 538,1796 575,1649 548,1811 626,1750 621,1702 510,1870 529,1758 519,1829 543,1806 534,1815 544,1894 574,1689 544,1779 541,1812 513,1880 567,1849 602,1805 687,1800 548,1636 533,1840 623,1627 519,1796 519,1837 548,1865 563,1678 570,1693 603,1728 602,1740 510,1879 660,1677 539,1695 621,1749 590,1695 545,1734 692,1782 510,1740 653,1823 518,1670 662,1799 562,1745 533,1825 534,1864 522,1771 639,1614 648,1811 641,1697 512,1779 553,1834 598,1717 560,1777 545,1806 575,1681 635,1716 566,1908 559,1853 506,1784 542,1799 551,1836 553,1807 527,1801 499,1879 529,1843 689,1810 523,1747 526,1766 579,1721 552,1811 531,1897 582,1614 563,1826 503,1829 553,1793 672,1763 525,1871 547,1765 607,1827 650,1824 547,1804 555,1769 589,1833 505,1721 569,1698 560,1629 536,1896 525,1807 666,1678 701,1675 499,1829 618,1694 544,1871 674,1645 580,1726 574,1699 603,1643 533,1901 572,1669 626,1783 615,1663 600,1747 660,1793 521,1699 550,1760 549,1772 705,1749 551,1784 502,1776 544,1781 643,1786 590,1852 499,1753 688,1614 570,1732 647,1614 579,1614 557,1614 497,1734 617,1837 630,1714 545,1777 637,1680 552,1806 533,1665 635,1756 616,1797 543,1820 605,1767 543,1882 690,1692 604,1614 557,1735 533,1727 579,1614 689,1649 564,1698 494,1676 621,1614 687,1685 551,1847 681,1634 524,1714 636,1780 619,1768 619,1819 568,1782 597,1789 565,1614 581,1733 611,1939 638,1642 665,1651 531,1802 513,1790 675,1795 645,1734 646,1753 550,1855 539,1739 559,1614 523,1769 564,1860 537,1721 556,1705 631,1797 567,1784 612,1708 669,1779 481,1812 478,1813 563,1699 632,1704 515,1833 559,1855 567,1705 576,1828 552,1629 559,1667 512,1837 589,1712 513,1633 568,1845 543,1896 545,1660 503,1720 578,1809 597,1669 640,1614 541,1718 690,1724 550,1712 585,1719 657,1811 527,1614 550,1854 554,1742 574,1839 574,1860 652,1824 697,1769 581,1815 503,1793 655,1686 553,1685 662,1717 649,1801 543,1892 619,1796 607,1614 613,1661 581,1816 548,1614 647,1626 683,1677 571,1725 656,1718 576,1845 495,1870 537,1614 638,1759 620,1727 685,1647 552,1779 592,1614 509,1851 583,1751 637,1669 717,1713 499,1751 556,1835 607,1669 669,1732 597,1836 521,1881 548,1777 594,1813 601,1844 604,1768 591,1711 592,1658 638,1822 542,1796 525,1768 546,1707 699,1614 548,1835 533,1614 636,1715 559,1836 496,1707 561,1816 650,1745 539,1874 548,1884 481,1640 691,1749 640,1733 509,1887 675,1775 717,1745 620,1805 565,1650 499,1843 546,1645 549,1851 637,1806 530,1763 557,1731 603,1694 577,1835 478,1740 653,1620 505,1746 702,1689 620,1774 640,1659 584,1614 548,1687 555,1836 493,1830 555,1801 502,1759 613,1826 523,1739 545,1805 647,1692 550,1614 548,1733 598,1804 569,1729 620,1614 537,1831 618,1691 614,1780 660,1755 577,1758 564,1738 561,1861 534,1743 537,1759 571,1669 554,1827 540,1627 617,1631 608,1688 542,1701 547,1732 564,1820 556,1773 534,1676 585,1671 673,1750 576,1787 552,1719 548,1844 526,1884 536,1741 534,1815 607,1652 550,1806 573,1818 607,1614 605,1697 618,1614 656,1637 582,1865 539,1632 581,1718 591,1815 692,1664 653,1738 584,1756 516,1852 641,1614 542,1721 627,1638 537,1697 576,1813 529,1756 544,1689 500,1810 578,1754 506,1614 562,1832 534,1653 585,1701 613,1772 512,1870 495,1779 664,1736 566,1783 576,1780 536,1644 581,1614 524,1760 624,1721 581,1814 580,1666 525,1696 595,1744 607,1772 530,1838 509,1642 537,1739 506,1719 644,1789 554,1693 624,1742 671,1764 588,1721 567,1741 635,1744 542,1834 655,1712 570,1820 595,1787 624,1804 530,1662 513,1754 552,1886 507,1770 547,1900 622,1807 621,1614 556,1755 527,1862 548,1674 494,1616 566,1832 589,1782 542,1732 650,1678 545,1677 521,1641 492,1696 580,1826 640,1794 551,1793 498,1719 609,1787 528,1806 663,1798 584,1778 616,1805 533,1837 676,1734 522,1817 509,1875 541,1614 609,1626 634,1792 578,1659 544,1749 606,1768 510,1776 536,1710 522,1778 549,1769 601,1672 546,1864 537,1783 524,1675 549,1614 576,1742 513,1712 567,1660 542,1731 646,1759 511,1809 597,1743 538,1614 613,1614 558,1869 553,1816 570,1857 529,1840 556,1836 580,1790 605,1795 539,1779 634,1634 503,1797 561,1739 554,1783 560,1767 572,1614 551,1793 564,1788 524,1899 532,1824 505,1758 579,1781 493,1861 542,1614 561,1717 589,1719 524,1757 546,1614 629,1815 489,1751 555,1679 514,1841 575,1614 618,1753 508,1614 662,1746 529,1764 612,1817 611,1760 669,1614 623,1781 650,1725 521,1698 568,1679 635,1680 574,1705 594,1713 616,1818 546,1885 575,1713 509,1830 633,1691 588,1658 518,1878 586,1726 606,1835 512,1761 551,1786 549,1779 618,1819 549,1614 530,1614 556,1752 599,1734 539,1725 698,1659 543,1866 617,1762 550,1855 552,1755 563,1683 540,1614 561,1778 617,1716 641,1736 601,1696 543,1699 536,1696 540,1758 569,1792 607,1777 556,1752 559,1761 493,1771 609,1771 559,1874 611,1772 560,1641 581,1697 561,1764 556,1741 674,1815 527,1763 612,1795 647,1670 606,1656 574,1747 564,1660 629,1614 536,1770 496,1614 496,1768 570,1838 641,1836 573,1625 636,1697 551,1773 573,1614 553,1809 516,1673 619,1817 621,1719 546,1760 619,1687 561,1716 546,1662 654,1774 573,1829 541,1614 532,1616 636,1730 569,1723 534,1732 666,1790 591,1626 523,1796 580,1640 671,1681 515,1829 583,1811 664,1618 519,1808 645,1793 615,1710 533,1768 558,1774 606,1614 657,1637 537,1862 649,1848 538,1687 667,1735 679,1800 533,1864 583,1697 695,1759 659,1815 614,1708 577,1703 531,1856 537,1862 651,1709 490,1813 626,1725 503,1766 666,1794 550,1709 660,1756 577,1667 545,1785 532,1819 523,1737 585,1654 552,1614 610,1820 554,1730 500,1799 557,1850 557,1745 526,1773 617,1735 513,1841 502,1823 523,1705 607,1763 583,1700 566,1756 582,1771 488,1716 547,1614 631,1734 560,1762 568,1674 573,1615 515,1761 625,1626 518,1725 577,1820 528,1894 558,1850 518,1794 608,1778 520,1827 664,1734 653,1632 506,1668 527,1876 588,1701 573,1876 612,1701 527,1882 590,1820 546,1880 703,1744 546,1646 557,1654 636,1797 543,1675 516,1645 529,1615 530,1614 655,1614 556,1842 513,1788 653,1733 499,1863 542,1715 624,1794 679,1655 574,1689 623,1794 671,1768 599,1795 573,1757 630,1614 565,1614 564,1754 579,1614 617,1668 629,1804 644,1802 567,1681 646,1712 508,1877 621,1678 564,1841 516,1858 542,1879 548,1677 552,1751 569,1786 539,1664 575,1824 531,1659 541,1756 558,1876 703,1728 545,1767 657,1631 557,1642 513,1872 619,1775 531,1614 521,1811 481,1716 550,1829 503,1694 519,1813 555,1668 572,1750 495,1689 672,1785 654,1614 570,1657 479,1637 547,1614 531,1648 589,1810 576,1713 489,1680 602,1730 606,1779 636,1703 545,1804 549,1754 561,1800 688,1809 531,1815 620,1757 540,1677 533,1624 609,1815 586,1740 558,1850 538,1614 574,1771 636,1685 513,1910 568,1831 581,1722 659,1710 523,1712 569,1682 678,1691 529,1715 526,1722 545,1669 535,1842 558,1871 510,1737 525,1846 527,1798 543,1773 692,1665 584,1614 559,1810 495,1759 673,1734 586,1614 512,1614 531,1614 533,1810 662,1726 565,1733 524,1683 570,1614 544,1686 527,1614 484,1614 546,1737 539,1864 582,1681 487,1827 662,1641 603,1831 541,1713 479,1737 523,1614 569,1806 544,1713 521,1798 621,1717 603,1794 520,1698 667,1808 680,1712 529,1819 532,1683 563,1795 640,1766 559,1862 675,1761 541,1614 588,1629 658,1756 553,1683 556,1767 543,1631 563,1837 578,1651 538,1800 599,1750 643,1724 648,1750 591,1700 562,1614 611,1646 610,1797 537,1794 568,1643 572,1767 532,1710 554,1839 552,1790 525,1672 559,1872 503,1830 603,1728 583,1662 572,1800 529,1826 636,1691 696,1709 575,1652 523,1614 570,1654 536,1675 689,1753 530,1847 559,1666 660,1691 567,1614 573,1854 586,1754 656,1819 668,1774 530,1789 538,1847 546,1664 552,1888 514,1872 519,1698 553,1853 558,1815 562,1875 605,1679 510,1627 578,1788 613,1673 687,1614 650,1614 574,1836 590,1614 524,1774 702,1734 553,1748 542,1802 619,1614 541,1689 532,1804 523,1708 548,1696 633,1784 582,1835 567,1692 539,1673 584,1777 499,1626 538,1876 553,1831 606,1770 505,1769 665,1703 596,1632 511,1878 648,1826 541,1865 496,1805 561,1775 574,1614 660,1788 566,1830 539,1719 530,1614 581,1864 570,1846 523,1637 532,1805 523,1764 645,1752 611,1614 626,1674 543,1764 516,1666 596,1701 521,1871 562,1802 671,1651 616,1743 543,1878 585,1618 565,1724 544,1632 641,1713 540,1815 556,1782 564,1688 557,1822 671,1614 596,1700 566,1645 571,1614 539,1783 591,1794 491,1857 543,1820 591,1655 586,1772 574,1812 485,1635 681,1718 544,1788 552,1738 553,1810 535,1830 614,1662 558,1771 585,1614 530,1785 551,1614 581,1697 517,1778 541,1803 533,1773 606,1741 613,1818 631,1694 523,1765 529,1825 550,1668 482,1844 596,1673 666,1807 586,1738 561,1683 488,1700 694,1655 500,1745 616,1701 661,1727 536,1724 568,1673 659,1762 576,1750 538,1780 594,1747 550,1614 666,1704 493,1761 588,1649 587,1849 501,1825 693,1682 498,1804 671,1709 535,1646 474,1776 496,1856 629,1614 571,1614 635,1792 536,1614 540,1711 637,1785 509,1872 626,1663 508,1846 579,1773 614,1614 548,1614 556,1815 596,1777 608,1683 533,1865 531,1825 498,1861 551,1688 666,1682 528,1710 576,1749 639,1682 580,1821 599,1711 595,1617 553,1797 684,1716 648,1647 529,1672 659,1661 509,1879 595,1829 631,1811 561,1705 593,1614 624,1614 539,1614 533,1763 553,1614 653,1714 565,1774 529,1892 549,1853 500,1779 565,1687 589,1734 605,1614 663,1670 552,1626 694,1689 523,1768 514,1765 558,1711 542,1875 607,1765 620,1726 554,1614 508,1828 549,1835 649,1669 556,1723 524,1833 589,1821 539,1728 557,1867 644,1795 516,1614 541,1614 542,1847 629,1811 496,1817 502,1801 588,1759 538,1719 587,1859 499,1636 559,1787 645,1614 549,1726 518,1800 609,1848 579,1656 558,1820 694,1712 635,1796 517,1814 524,1755 662,1732 604,1643 540,1752 556,1780 632,1614 581,1746 503,1856 562,1616 638,1757 484,1792 583,1614 649,1747 535,1723 620,1632 529,1705 550,1614 568,1698 568,1841 644,1745 540,1890 625,1791 609,1819 552,1644 670,1879 499,1835 513,1690 640,1614 628,1614 582,1817 667,1760 549,1799 678,1614 558,1784 559,1794 610,1760 542,1690 531,1797 487,1614 524,1914 531,1823 618,1832 530,1842 481,1725 528,1781 529,1849 573,1845 496,1695 648,1753 529,1847 663,1681 547,1696 620,1709 534,1660 567,1614 601,1754 564,1880 562,1728 573,1631 498,1709 671,1728 536,1780 521,1724 551,1697 541,1807 553,1815 564,1748 588,1723 526,1802 580,1773 562,1861 549,1721 627,1755 593,1668 626,1750 538,1783 584,1841 663,1764 545,1764 543,1836 605,1806 566,1818 535,1809 625,1766 556,1829 705,1614 635,1749 525,1627 556,1846 569,1762 631,1812 704,1669 564,1802 495,1723 559,1815 533,1797 530,1875 625,1629 485,1713 655,1703 637,1672 524,1720 624,1735 571,1803 592,1780 532,1677 661,1809 513,1735 541,1745 562,1772 494,1614 651,1756 523,1719 538,1693 544,1753 659,1775 566,1827 683,1655 623,1631 665,1690 677,1730 590,1737 521,1614 537,1781 528,1800 599,1742 544,1798 615,1826 624,1742 533,1873 634,1806 518,1720 510,1705 644,1688 636,1629 601,1655 502,1815 543,1764 582,1680 503,1861 615,1634 568,1646 566,1702 546,1871 597,1711 502,1635 601,1685 687,1709 624,1699 561,1614 583,1619 522,1854 541,1764 588,1793 611,1728 612,1773 633,1816 517,1786 538,1822 640,1614 544,1805 550,1837 584,1747 496,1754 507,1631 560,1770 563,1794 585,1786 638,1736 557,1855 573,1738 591,1860 593,1820 500,1765 556,1742 635,1743 492,1835 557,1709 576,1727 561,1675 495,1855 563,1695 550,1798 647,1709 520,1807 530,1786 543,1860 608,1745 534,1772 516,1707 504,1690 583,1789 501,1708 623,1614 633,1811 565,1755 676,1793 564,1817 580,1674 570,1734 534,1902 574,1795 629,1666 590,1689 550,1614 592,1782 602,1727 556,1855 567,1843 573,1696 600,1689 574,1614 685,1739 573,1739 578,1817 571,1879 566,1871 663,1627 683,1614 504,1756 669,1614 703,1691 550,1811 621,1693 555,1778 616,1840 687,1695 579,1694 566,1832 642,1809 618,1652 595,1811 588,1722 564,1777 545,1829 557,1700 612,1829 556,1713 538,1801 524,1689 565,1657 554,1824 496,1856 538,1614 532,1704 623,1614 550,1704 519,1614 483,1773 556,1859 545,1861 668,1777 563,1823 567,1661 650,1638 563,1877 656,1666 529,1630 667,1657 550,1844 596,1826 528,1789 558,1624 538,1755 553,1712 555,1796 545,1696 509,1815 552,1860 531,1809 529,1812 550,1860 670,1799 570,1772 555,1868 483,1717 557,1850 542,1802 685,1663 614,1750 554,1689 692,1753 620,1769 538,1765 531,1742 543,1614 555,1862 543,1880 544,1832 652,1683 581,1824 526,1740 534,1823 659,1689 569,1699 647,1715 609,1818 662,1715 630,1816 594,1741 639,1786 551,1631 629,1759 582,1794 583,1773 553,1825 680,1636 535,1858 650,1678 562,1852 518,1790 692,1724 588,1765 567,1676 496,1863 604,1614 550,1917 633,1709 580,1712 559,1652 614,1811 682,1700 580,1614 507,1839 649,1819 501,1805 637,1706 641,1794 492,1614 601,1814 547,1712 531,1746 541,1753 490,1827 559,1860 531,1659 529,1867 512,1881 560,1839 560,1876 536,1614 480,1851 552,1858 526,1740 569,1614 551,1642 506,1781 551,1778 563,1867 604,1753 559,1614 616,1614 539,1688 638,1663 579,1747 638,1692 551,1838 561,1780 573,1663 493,1842 645,1714 497,1671 629,1760 580,1676 586,1683 560,1662 649,1717 517,1807 631,1791 504,1820 566,1627 574,1812 674,1766 555,1871 667,1732 655,1759 508,1664 509,1833 535,1614 530,1855 651,1614 664,1750 517,1841 575,1691 637,1763 636,1870 676,1636 628,1755 543,1630 484,1744 527,1691 691,1690 587,1656 556,1833 523,1626 678,1796 571,1809 559,1866 544,1757 499,1677 547,1614 650,1671 561,1765 609,1712 544,1754 575,1819 551,1764 657,1634 556,1775 577,1817 625,1765 602,1679 585,1818 535,1630 708,1614 603,1802 549,1701 710,1614 690,1644 571,1749 590,1735 688,1657 556,1841 566,1727 620,1720 651,1742 600,1800 643,1765 538,1725 507,1629 581,1729 606,1835 546,1753 544,1846 549,1614 543,1761 636,1826 610,1709 520,1614 523,1815 608,1739 593,1663 477,1614 668,1728 568,1788 631,1682 629,1729 526,1726 501,1621 532,1862 562,1711 604,1659 562,1796 547,1882 574,1831 516,1890 544,1647 679,1614 539,1614 509,1869 611,1776 559,1690 679,1642 592,1843 666,1753 495,1839 595,1748 563,1754 541,1809 564,1762 600,1715 552,1771 598,1733 572,1864 611,1728 496,1614 553,1691 572,1674 555,1698 643,1785 585,1835 531,1793 576,1835 553,1832 566,1636 632,1749 597,1680 525,1786 664,1668 616,1734 512,1722 506,1748 542,1836 495,1614 670,1770 487,1758 544,1757 530,1682 503,1762 536,1713 534,1788 552,1680 623,1757 519,1888 500,1815 527,1842 573,1614 634,1758 551,1706 552,1662 608,1751 505,1614 624,1809 622,1784 600,1742 583,1704 700,1633 592,1706 583,1811 592,1854 551,1735 546,1734 523,1839 574,1815 575,1817 596,1795 525,1740 529,1637 565,1673 611,1802 542,1685 517,1877 647,1784 553,1705 666,1758 634,1636 492,1667 577,1852 566,1717 517,1908 626,1682 652,1793 548,1834 559,1718 593,1763 576,1689 566,1743 577,1816 564,1695 580,1766 501,1628 586,1677 545,1731 650,1774 622,1793 558,1835 639,1811 571,1800 692,1663 636,1654 557,1833 560,1734 525,1811 548,1862 543,1614 605,1668 611,1683 586,1826 592,1758 639,1692 544,1680 551,1695 586,1728 617,1820 568,1780 621,1678 561,1677 571,1776 601,1679 519,1614 500,1649 595,1728 562,1683 653,1746 530,1814 661,1657 694,1694 531,1862 678,1778 543,1708 561,1625 543,1771 507,1754 641,1685 542,1742 513,1763 605,1776 521,1895 541,1848 640,1722 629,1671 501,1845 535,1614 663,1614 524,1769 670,1733 481,1636 535,1627 683,1672 548,1810 496,1732 551,1694 597,1800 510,1727 569,1830 547,1841 628,1699 617,1787 534,1728 570,1729 567,1835 548,1852 557,1807 484,1731 554,1789 542,1825 555,1831 645,1768 585,1666 578,1825 580,1644 495,1758 610,1614 522,1784 518,1890 486,1716 671,1711 601,1768 667,1734 518,1843 511,1848 549,1822 630,1614 537,1772 670,1776 558,1831 566,1614 644,1662 638,1816 562,1614 537,1614 640,1717 562,1918 615,1729 539,1690 603,1800 633,1699 520,1749 538,1855 524,1757 549,1666 655,1651 502,1614 524,1774 568,1757 584,1705 583,1614 562,1802 505,1631 559,1704 552,1614 603,1821 521,1825 562,1660 541,1695 558,1879 538,1841 604,1831 560,1667 619,1793 560,1645 622,1817 527,1743 553,1754 626,1805 561,1729 529,1830 564,1887 511,1664 510,1875 633,1685 537,1869 527,1759 670,1744 537,1820 550,1614 613,1772 676,1661 566,1756 613,1614 551,1905 615,1757 558,1779 537,1805 558,1796 536,1614 498,1672 603,1691 522,1871 683,1716 494,1827 525,1826 666,1764 550,1660 576,1758 584,1697 575,1783 547,1846 571,1761 564,1856 534,1835 529,1837 616,1791 530,1829 535,1716 647,1730 616,1779 536,1671 590,1630 545,1825 551,1745 544,1771 515,1614 569,1835 590,1850 666,1623 543,1809 635,1657 607,1755 621,1814 590,1817 536,1648 579,1653 518,1723 638,1779 582,1754 560,1788 524,1746 557,1666 613,1680 509,1773 585,1674 516,1776 567,1689 553,1825 537,1813 505,1805 566,1732 530,1717 552,1614 506,1793 624,1780 609,1800 559,1739 662,1705 559,1847 593,1771 530,1843 667,1718 591,1792 619,1807 557,1839 581,1813 609,1820 611,1714 546,1707 511,1832 574,1765 678,1797 659,1671 612,1700 586,1614 537,1774 569,1677 586,1696 519,1703 650,1779 555,1819 544,1883 585,1791 648,1760 577,1810 529,1614 537,1850 532,1723 513,1705 671,1908 608,1750 520,1647 587,1654 605,1751 492,1739 552,1827 541,1674 560,1773 564,1814 660,1811 487,1639 511,1839 682,1738 565,1639 653,1811 644,1659 543,1786 529,1782 509,1805 555,1614 673,1797 560,1684 493,1812 603,1669 526,1789 561,1742 513,1865 514,1844 542,1660 591,1700 640,1772 678,1770 559,1708 660,1818 587,1893 585,1825 660,1681 651,1680 678,1736 603,1651 572,1859 586,1743 646,1628 541,1674 578,1651 566,1614 553,1665 508,1885 615,1638 576,1725 620,1685 499,1822 612,1759 549,1952 554,1679 540,1614 633,1667 512,1658 535,1691 618,1774 501,1614 616,1825 564,1769 591,1651 604,1635 607,1776 550,1768 538,1651 616,1695 528,1946 667,1634 539,1865 544,1668 537,1710 573,1741 562,1628 539,1848 542,1723 545,1614 496,1745 593,1831 508,1681 603,1634 561,1828 660,1777 608,1765 630,1698 585,1842 529,1866 541,1834 672,1710 596,1808 666,1777 699,1659 570,1806 573,1645 577,1614 582,1795 614,1816 561,1845 686,1755 576,1640 641,1685 551,1664 629,1733 614,1614 570,1803 550,1871 598,1702 473,1762 625,1777 629,1777 641,1677 555,1749 625,1737 505,1692 568,1712 497,1853 516,1786 603,1839 633,1794 548,1785 546,1877 532,1808 640,1775 620,1819 683,1760 633,1754 503,1694 527,1744 554,1876 540,1795 621,1830 626,1707 663,1715 629,1706 639,1666 527,1856 585,1852 561,1731 490,1817 630,1730 603,1740 530,1880 527,1614 549,1614 572,1861 491,1614 526,1687 507,1631 637,1781 538,1830 498,1681 504,1695 527,1614 555,1614 619,1749 523,1748 578,1776 632,1769 566,1774 697,1777 531,1875 682,1739 612,1740 566,1614 514,1832 604,1753 496,1707 641,1739 518,1853 558,1614 618,1701 543,1668 593,1707 651,1675 627,1735 552,1614 515,1850 607,1761 514,1614 497,1861 499,1764 587,1752 678,1659 593,1629 604,1799 550,1614 650,1743 520,1760 592,1636 526,1799 598,1726 533,1635 609,1734 559,1765 592,1735 690,1692 585,1833 553,1833 551,1741 585,1656 516,1732 613,1699 540,1702 536,1817 562,1639 505,1745 571,1732 683,1748 569,1681 509,1677 549,1766 585,1754 642,1784 535,1744 576,1843 544,1886 661,1702 682,1748 553,1799 557,1673 697,1665 552,1725 637,1777 547,1768 538,1746 581,1685 532,1826 656,1614 484,1664 580,1760 555,1614 676,1712 610,1700 653,1741 535,1839 664,1657 547,1818 684,1689 544,1822 576,1846 536,1700 586,1681 545,1844 591,1619 579,1727 564,1794 647,1810 638,1614 604,1649 492,1661 634,1669 566,1766 473,1740 542,1828 630,1641 674,1671 558,1801 548,1652 568,1781 629,1800 636,1664 497,1696 558,1796 607,1711 569,1614 618,1614 483,1689 553,1667 572,1794 576,1693 531,1853 639,1745 713,1751 564,1810 577,1675 634,1656 566,1746 520,1858 554,1791 583,1778 528,1802 559,1718 534,1777 653,1820 544,1872 494,1824 533,1849 558,1789 506,1835 641,1664 543,1829 685,1631 533,1663 559,1649 554,1725 599,1614 505,1722 634,1614 530,1679 592,1693 498,1763 554,1781 565,1819 648,1793 610,1713 552,1731 546,1870 605,1614 495,1659 644,1789 532,1745 520,1614 601,1837 599,1774 558,1782 533,1854 547,1758 652,1614 558,1614 502,1813 533,1841 576,1616 595,1687 485,1733 565,1786 596,1766 552,1800 549,1833 543,1732 586,1620 693,1669 630,1810 650,1619 661,1633 554,1844 616,1717 501,1739 548,1797 557,1865 527,1819 532,1614 527,1704 618,1785 556,1850 557,1645 598,1614 568,1835 633,1720 560,1694 595,1658 578,1853 570,1614 518,1739 636,1618 641,1798 608,1671 538,1830 471,1663 545,1860 576,1862 543,1629 524,1781 550,1706 575,1614 664,1750 560,1737 536,1746 624,1757 656,1660 560,1693 553,1737 573,1809 606,1771 552,1678 536,1832 505,1754 567,1705 572,1703 550,1859 483,1771 563,1840 584,1703 503,1856 580,1642 555,1798 612,1797 632,1679 537,1818 658,1750 633,1773 491,1782 688,1740 547,1730 562,1614 556,1777 607,1786 555,1633 541,1869 535,1774 503,1653 597,1699 557,1730 553,1650 519,1614 565,1814 506,1900 565,1883 626,1754 554,1722 560,1856 522,1748 652,1703 664,1687 625,1653 540,1791 562,1765 596,1821 580,1847 593,1659 489,1631 534,1665 649,1768 627,1689 664,1758 671,1715 543,1769 645,1729 550,1887 613,1778 700,1614 615,1787 591,1760 599,1639 571,1843 618,1759 535,1856 641,1647 484,1832 509,1850 577,1741 550,1818 546,1815 508,1824 544,1849 498,1860 530,1614 634,1614 513,1631 518,1818 614,1685 548,1820 558,1798 520,1813 687,1747 676,1750 690,1684 545,1823 554,1897 602,1657 538,1806 596,1814 550,1791 582,1694 556,1710 560,1869 500,1639 596,1785 519,1654 577,1754 621,1628 574,1767 605,1671 556,1799 550,1816 565,1852 521,1668 555,1687 533,1656 538,1695 522,1844 695,1642 623,1648 692,1720 500,1855 653,1758 560,1818 525,1862 515,1614 548,1845 524,1777 575,1753 558,1652 665,1704 570,1820 553,1762 536,1676 527,1797 507,1693 580,1664 538,1735 649,1666 559,1665 649,1614 613,1818 496,1820 497,1804 515,1861 576,1614 542,1821 558,1811 549,1715 524,1689 624,1808 638,1704 612,1650 677,1750 524,1675 560,1846 602,1798 481,1753 646,1666 535,1798 681,1797 645,1696 606,1816 635,1791 504,1752 614,1810 571,1827 686,1789 643,1778 570,1697 564,1619 571,1752 660,1745 499,1752 653,1822 544,1674 524,1745 625,1790 519,1690 617,1628 588,1797 562,1625 601,1699 596,1832 557,1719 514,1614 592,1765 680,1739 534,1753 537,1624 544,1639 551,1764 549,1750 655,1624 528,1675 543,1659 536,1673 545,1751 584,1837 543,1699 529,1664 554,1844 522,1649 519,1861 551,1754 574,1823 681,1672 525,1735 533,1697 538,1825 626,1745 582,1732 532,1614 555,1831 558,1989 658,1654 556,1614 540,1835 644,1730 630,1767 555,1614 591,1798 548,1849 579,1728 493,1706 578,1841 681,1821 514,1781 606,1841 616,1744 659,1788 552,1618 648,1644 588,1699 534,1678 707,1667 592,1614 511,1853 662,1762 625,1614 680,1614 552,1719 645,1650 579,1710 509,1818 584,1838 554,1697 604,1772 621,1772 653,1785 614,1798 664,1807 565,1614 581,1624 544,1804 555,1807 620,1668 553,1796 607,1614 619,1614 668,1802 530,1790 541,1895 619,1712 560,1836 593,1694 592,1614 598,1757 530,1614 578,1743 703,1746 600,1614 579,1684 682,1812 529,1817 566,1759 562,1658 509,1797 633,1793 538,1773 531,1808 664,1634 544,1868 641,1812 526,1614 645,1683 561,1825 563,1864 609,1685 572,1851 558,1857 609,1614 642,1719 504,1745 634,1674 476,1780 650,1645 568,1678 578,1717 607,1614 566,1850 687,1756 624,1759 533,1614 563,1837 491,1732 509,1733 564,1640 524,1617 547,1760 639,1638 651,1643 635,1619 549,1869 512,1805 507,1696 508,1614 563,1675 570,1844 607,1790 628,1732 511,1725 611,1643 578,1614 618,1700 603,1728 615,1848 568,1832 564,1857 563,1729 499,1858 631,1706 542,1864 606,1721 612,1764 695,1678 555,1787 648,1644 501,1618 642,1675 566,1858 573,1614 483,1680 653,1712 556,1687 689,1722 550,1807 566,1692 549,1684 519,1877 529,1678 518,1830 546,1887 620,1765 485,1706 534,1667 566,1822 622,1776 595,1686 612,1741 598,1775 549,1888 557,1646 546,1794 513,1800 522,1678 542,1802 633,1692 598,1674 502,1817 661,1723 509,1808 531,1673 560,1872 663,1711 669,1793 558,1805 559,1774 563,1792 532,1858 618,1819 559,1743 543,1750 500,1656 555,1740 557,1760 671,1785 629,1720 552,1747 588,1822 597,1792 580,1637 670,1823 621,1742 613,1813 607,1776 590,1787 507,1643 548,1784 570,1614 581,1746 577,1702 491,1812 573,1614 637,1761 629,1702 597,1746 678,1778 563,1781 527,1691 530,1885 568,1740 660,1687 560,1839 671,1770 572,1852 587,1733 621,1768 654,1700 531,1691 600,1701 581,1761 548,1820 640,1723 556,1669 549,1806 565,1848 515,1614 665,1746 554,1813 538,1766 530,1803 575,1697 546,1818 564,1660 541,1838 488,1835 645,1749 526,1710 555,1614 499,1614 495,1716 541,1623 582,1692 520,1614 645,1736 548,1827 669,1695 580,1735 552,1676 557,1663 541,1884 673,1654 711,1762 546,1814 482,1842 592,1714 557,1714 569,1655 539,1661 557,1720 550,1716 616,1826 605,1784 547,1655 573,1815 564,1734 553,1823 514,1660 505,1695 663,1633 673,1779 610,1758 678,1757 612,1703 617,1779 588,1614 532,1668 508,1853 526,1858 553,1884 548,1693 581,1661 507,1884 536,1861 636,1614 559,1614 544,1745 639,1671 530,1783 493,1614 563,1841 614,1697 572,1772 495,1614 599,1812 537,1702 510,1754 662,1663 558,1631 663,1659 616,1614 593,1751 556,1614 555,1789 626,1713 672,1614 542,1759 603,1623 643,1715 659,1659 550,1696 578,1839 560,1651 561,1739 646,1717 532,1778 554,1817 539,1815 479,1748 629,1614 559,1841 553,1698 531,1779 631,1614 610,1763 540,1683 602,1614 539,1717 671,1795 585,1815 528,1807 495,1752 615,1710 523,1815 586,1614 643,1687 554,1643 688,1783 542,1787 576,1794 534,1865 695,1717 561,1839 518,1864 558,1827 545,1845 661,1784 495,1671 605,1732 537,1704 551,1614 568,1713 573,1705 637,1733 520,1705 556,1771 503,1660 573,1822 567,1864 541,1773 552,1614 636,1754 557,1695 574,1727 602,1828 565,1775 661,1709 610,1770 654,1744 528,1859 615,1716 619,1802 621,1790 532,1795 565,1635 557,1683 651,1665 601,1824 566,1854 542,1814 499,1813 523,1775 555,1656 515,1848 517,1860 590,1792 635,1689 499,1839 526,1659 510,1674 652,1805 605,1690 512,1913 644,1765 548,1898 644,1795 659,1795 503,1712 498,1823 615,1765 558,1614 493,1794 551,1771 654,1795 519,1767 567,1720 631,1614 521,1775 519,1879 653,1808 694,1730 537,1746 549,1838 609,1722 547,1743 585,1767 671,1618 527,1763 671,1682 624,1760 574,1832 611,1786 588,1724 525,1701 579,1727 628,1656 504,1819 519,1728 562,1646 502,1770 520,1679 529,1763 509,1759 537,1865 685,1614 664,1697 554,1817 580,1799 571,1771 535,1614 670,1624 572,1614 550,1785 691,1614 601,1796 510,1778 614,1617 568,1614 515,1825 637,1789 578,1793 598,1712 549,1836 616,1773 622,1658 522,1614 542,1887 529,1735 541,1766 600,1816 592,1786 532,1728 684,1616 567,1884 567,1690 628,1771 559,1747 541,1825 542,1657 614,1700 515,1614 553,1809 513,1840 583,1623 516,1752 537,1853 605,1789 540,1740 577,1679 569,1614 551,1741 591,1833 623,1614 614,1632 548,1782 540,1875 483,1816 524,1821 536,1910 558,1677 532,1647 703,1726 550,1827 562,1811 589,1839 645,1614 610,1662 564,1614 524,1614 514,1839 662,1757 493,1864 502,1629 558,1744 548,1659 558,1765 589,1619 502,1826 554,1691 540,1705 582,1699 514,1714 558,1640 575,1824 507,1740 641,1706 637,1706 600,1781 662,1681 563,1678 607,1614 515,1766 649,1775 529,1627 602,1623 674,1614 537,1666 556,1614 517,1802 576,1662 598,1712 516,1763 711,1670 583,1654 526,1730 519,1742 566,1831 544,1732 599,1748 546,1838 566,1823 600,1614 512,1697 533,1858 620,1729 630,1702 539,1822 509,1765 654,1728 603,1680 504,1746 534,1614 557,1783 542,1674 576,1856 564,1711 689,1662 487,1796 577,1809 555,1812 514,1624 539,1614 503,1614 530,1869 540,1893 556,1770 528,1763 676,1788 520,1805 550,1634 558,1848 685,1665 532,1673 521,1726 622,1806 567,1661 557,1717 536,1690 541,1809 507,1872 531,1854 581,1797 537,1614 589,1817 491,1666 573,1820 543,1662 586,1855 692,1706 548,1660 547,1776 563,1850 547,1714 548,1686 524,1916 632,1817 598,1750 524,1694 537,1614 620,1767 481,1834 543,1633 547,1891 521,1614 639,1645 597,1679 560,1862 643,1745 673,1810 573,1822 554,1929 610,1764 503,1836 651,1673 572,1823 519,1800 549,1614 622,1688 545,1768 618,1614 561,1846 645,1708 642,1748 668,1763 636,1614 613,1826 663,1772 573,1838 616,1708 577,1774 560,1614 588,1805 534,1736 607,1844 648,1830 529,1886 552,1816 562,1724 547,1772 572,1646 515,1849 653,1699 503,1721 517,1734 530,1870 659,1821 551,1630 675,1614 600,1807 672,1747 510,1743 643,1681 588,1757 550,1614 555,1901 535,1782 543,1869 506,1770 522,1658 654,1748 528,1889 590,1614 536,1856 591,1656 517,1669 691,1758 519,1769 534,1850 614,1664 525,1855 621,1826 562,1700 595,1782 606,1796 563,1664 626,1802 652,1774 584,1681 518,1878 542,1614 587,1846 548,1851 620,1807 485,1824 583,1620 501,1758 482,1769 599,1614 539,1865 614,1630 560,1649 561,1750 597,1828 553,1860 610,1705 634,1826 515,1804 597,1741 582,1619 550,1858 686,1765 668,1793 551,1708 584,1780 613,1658 509,1773 643,1827 622,1766 591,1835 510,1749 599,1635 674,1674 556,1836 550,1880 663,1700 560,1849 620,1757 552,1655 535,1884 666,1804 547,1688 563,1867 521,1827 551,1774 541,1895 579,1788 580,1744 601,1890 706,1614 559,1856 559,1740 506,1783 689,1681 601,1798 613,1800 598,1830 638,1669 659,1741 555,1670 647,1760 555,1859 648,1678 685,1653 503,1761 558,1846 666,1776 563,1714 547,1724 614,1699 552,1614 670,1731 522,1698 644,1655 537,1691 557,1825 498,1684 599,1766 540,1842 558,1739 537,1614 642,1714 640,1724 551,1619 517,1682 568,1770 523,1819 640,1655 600,1842 620,1792 567,1709 602,1614 558,1817 549,1781 535,1701 557,1754 569,1836 541,1864 572,1750 518,1688 642,1745 686,1727 554,1754 625,1813 569,1836 544,1668 526,1614 503,1779 561,1688 589,1614 587,1846 526,1755 515,1878 490,1834 503,1729 584,1614 643,1792 634,1798 714,1776 585,1785 531,1796 613,1768 566,1816 591,1614 679,1708 607,1614 520,1844 584,1614 592,1834 662,1614 564,1766 569,1702 641,1791 551,1718 536,1795 593,1818 606,1808 632,1660 532,1756 517,1686 614,1668 670,1850 532,1773 566,1614 608,1647 602,1764 517,1813 615,1614 642,1708 537,1861 485,1792 623,1894 547,1765 632,1685 496,1806 571,1813 638,1794 564,1770 485,1698 568,1753 585,1826 649,1700 620,1766 652,1799 599,1845 601,1641 521,1890 625,1655 543,1614 563,1637 524,1846 562,1702 507,1863 490,1658 662,1764 564,1667 645,1666 494,1731 516,1828 657,1772 620,1753 541,1854 582,1836 498,1815 644,1672 561,1744 547,1733 588,1614 589,1644 506,1641 646,1667 548,1812 580,1737 573,1807 568,1727 551,1616 642,1803 553,1758 582,1614 603,1756 536,1882 593,1749 609,1818 552,1857 653,1686 654,1712 568,1653 539,1866 653,1801 504,1690 531,1698 537,1655 583,1750 602,1674 533,1680 570,1614 647,1751 544,1862 575,1669 604,1790 642,1737 545,1666 628,1622 588,1837 579,1799 558,1859 529,1659 604,1758 537,1854 551,1816 639,1791 544,1837 559,1840 608,1774 572,1768 509,1827 667,1642 493,1812 565,1838 609,1710 527,1710 645,1822 575,1651 559,1614 641,1700 547,1881 653,1799 675,1804 503,1865 572,1820 534,1830 556,1795 564,1791 556,1614 561,1867 649,1801 542,1834 607,1737 583,1614 535,1847 529,1882 530,1795 555,1641 539,1673 528,1674 639,1784 581,1693 519,1614 611,1661 616,1644 486,1671 538,1634 542,1708 628,1749 583,1770 542,1724 490,1662 531,1614 585,1614 701,1639 638,1648 555,1814 613,1614 560,1710 576,1858 518,1693 665,1722 637,1758 549,1727 676,1903 667,1810 676,1737 556,1614 688,1657 590,1633 598,1775 536,1629 549,1831 514,1821 550,1732 548,1811 585,1755 539,1614 595,1843 537,1855 657,1628 632,1711 560,1758 575,1655 481,1646 490,1629 487,1812 635,1807 562,1777 538,1696 539,1793 554,1675 573,1614 577,1861 537,1877 565,1804 545,1661 578,1723 721,1757 677,1807 560,1833 529,1639 559,1699 555,1794 588,1614 631,1814 519,1854 675,1749 539,1749 628,1631 498,1687 562,1771 652,1762 548,1634 614,1619 686,1643 625,1686 501,1779 596,1811 528,1881 583,1734 553,1857 554,1841 518,1817 570,1830 686,1643 556,1805 555,1769 503,1817 526,1755 535,1725 582,1748 672,1782 522,1742 543,1791 520,1675 580,1619 709,1726 518,1784 634,1732 538,1785 571,1837 561,1816 623,1772 594,1801 549,1718 654,1765 523,1614 473,1772 551,1623 528,1741 610,1676 647,1682 639,1727 615,1730 535,1765 610,1799 639,1844 514,1762 549,1849 513,1883 549,1641 520,1854 503,1614 580,1684 674,1712 510,1878 553,1614 509,1663 504,1666 593,1680 585,1767 584,1735 531,1800 629,1702 511,1631 551,1843 525,1640 497,1844 552,1634 601,1626 548,1836 544,1697 531,1795 549,1725 510,1614 665,1655 699,1754 566,1876 531,1669 536,1614 576,1650 551,1735 567,1763 530,1614 668,1614 586,1723 489,1756 556,1812 533,1910 594,1643 653,1645 582,1755 536,1656 602,1644 556,1793 477,1688 485,1614 557,1725 672,1773 547,1614 538,1635 547,1752 560,1821 547,1857 570,1792 605,1711 638,1825 537,1770 639,1628 573,1776 506,1735 692,1698 615,1763 602,1757 610,1699 572,1751 594,1778 566,1645 637,1674 506,1767 595,1753 640,1767 698,1748 547,1653 603,1614 546,1833 544,1715 547,1758 575,1792 558,1815 702,1714 559,1728 542,1822 544,1716 670,1826 537,1631 636,1691 531,1671 622,1754 542,1683 541,1767 533,1798 535,1788 509,1722 575,1736 513,1626 532,1699 618,1674 484,1796 547,1853 591,1743 504,1798 595,1746 686,1614 661,1658 572,1785 655,1661 654,1705 531,1893 501,1794 667,1650 493,1621 543,1805 528,1718 571,1666 571,1680 673,1614 556,1821 588,1737 682,1663 602,1828 545,1849 519,1644 550,1863 542,1648 684,1707 609,1747 547,1614 653,1671 587,1666 535,1896 626,1749 521,1678 561,1889 613,1643 576,1794 615,1816 545,1625 588,1771 511,1814 538,1879 610,1726 635,1829 593,1825 629,1796 542,1672 551,1881 671,1723 531,1614 571,1904 622,1763 673,1643 509,1823 596,1766 644,1638 603,1741 564,1759 552,1856 707,1683 551,1869 553,1638 573,1614 491,1827 672,1633 591,1811 690,1743 533,1796 578,1659 603,1816 658,1723 551,1868 567,1824 523,1823 584,1840 563,1840 525,1816 497,1858 581,1701 539,1877 542,1661 677,1646 558,1714 538,1786 557,1700 598,1659 549,1614 573,1697 559,1776 592,1724 570,1822 520,1885 687,1759 567,1661 555,1811 526,1792 575,1830 623,1614 553,1840 683,1792 587,1662 678,1757 556,1834 677,1693 660,1737 550,1645 602,1755 686,1728 700,1665 554,1749 645,1778 538,1779 543,1808 530,1627 527,1783 541,1614 628,1675 567,1820 557,1667 669,1680 616,1774 720,1697 657,1630 562,1631 517,1798 660,1658 620,1716 552,1614 547,1709 581,1736 547,1779 605,1776 596,1830 547,1880 528,1866 499,1630 659,1736 508,1854 603,1795 551,1677 551,1698 641,1717 543,1729 612,1830 682,1754 613,1664 523,1659 625,1821 530,1873 597,1773 499,1669 519,1840 568,1818 549,1744 541,1826 690,1749 564,1855 549,1712 546,1876 553,1742 569,1856 668,1805 639,1802 537,1675 552,1833 556,1745 652,1813 563,1716 497,1746 635,1732 702,1787 565,1869 667,1634 677,1762 508,1876 696,1750 578,1687 529,1872 591,1820 529,1657 662,1678 541,1806 661,1754 568,1785 671,1777 495,1829 595,1673 530,1758 631,1810 568,1631 538,1896 697,1749 654,1728 605,1726 672,1668 515,1822 550,1834 564,1818 606,1768 675,1655 490,1847 547,1651 499,1869 662,1731 561,1778 582,1899 615,1695 534,1671 556,1850 646,1614 609,1734 604,1722 619,1792 490,1657 537,1866 526,1760 643,1721 652,1733 579,1711 601,1843 591,1651 538,1724 593,1777 501,1614 553,1614 655,1705 554,1857 597,1614 500,1758 543,1693 652,1711 567,1827 597,1693 515,1732 557,1853 529,1614 639,1737 661,1667 568,1817 624,1731 546,1685 655,1628 658,1801 597,1832 561,1838 562,1614 600,1668 534,1715 508,1738 478,1692 488,1774 545,1762 528,1785 609,1675 581,1832 645,1789 523,1656 554,1792 510,1785 613,1662 559,1789 544,1724 688,1772 489,1775 516,1890 539,1846 498,1766 535,1819 557,1797 608,1757 634,1772 577,1829 668,1819 530,1770 557,1829 573,1731 491,1773 522,1867 490,1636 647,1812 551,1802 558,1795 528,1756 577,1703 546,1875 591,1779 566,1806 582,1790 658,1737 541,1835 534,1844 568,1824 579,1796 577,1614 650,1751 636,1759 657,1699 623,1737 662,1617 651,1713 653,1650 576,1815 665,1784 567,1834 582,1826 601,1708 624,1727 544,1807 639,1741 550,1838 572,1819 555,1748 510,1809 538,1859 672,1614 564,1856 561,1869 560,1864 643,1647 521,1840 619,1896 601,1733 643,1813 581,1817 543,1702 531,1673 509,1708 593,1820 545,1688 643,1706 554,1614 518,1858 631,1694 624,1675 584,1638 579,1696 635,1782 586,1822 684,1742 539,1866 636,1768 505,1614 587,1761 654,1630 588,1834 556,1846 687,1746 499,1776 531,1856 561,1673 659,1760 565,1651 602,1822 647,1751 605,1768 668,1732 637,1768 671,1785 648,1698 592,1790 535,1675 686,1740 560,1859 541,1832 577,1816 589,1614 666,1793 661,1643 644,1745 495,1790 560,1807 639,1681 577,1871 536,1614 643,1672 623,1787 659,1758 563,1758 632,1849 543,1684 602,1798 632,1694 562,1868 562,1784 586,1687 519,1877 565,1854 499,1632 680,1825 515,1765 549,1736 573,1835 508,1790 528,1806 561,1779 687,1722 534,1822 564,1859 565,1614 565,1712 602,1759 538,1779 596,1635 610,1762 573,1839 551,1793 523,1726 567,1844 598,1614 565,1614 539,1614 535,1877 539,1792 625,1790 600,1614 605,1754 496,1614 603,1759 541,1757 568,1683 605,1640 570,1758 617,1712 553,1822 480,1614 544,1625 577,1731 566,1768 554,1821 615,1706 599,1722 526,1912 512,1672 679,1700 541,1821 530,1697 648,1773 602,1807 553,1721 635,1656 495,1698 648,1766 566,1863 635,1819 529,1881 535,1614 612,1728 542,1780 623,1807 534,1797 584,1614 603,1689 635,1759 649,1763 672,1648 585,1731 569,1815 576,1825 599,1772 658,1765 620,1782 662,1777 521,2004 624,1815 627,1686 479,1684 581,1849 527,1651 637,1734 577,1784 547,1631 600,1759 554,1857 549,1810 615,1800 582,1789 613,1704 569,1847 582,1761 560,1693 538,1821 615,1724 685,1740 547,1864 597,1785 564,1614 570,1781 642,1815 548,1867 566,1711 547,1870 531,1692 592,1827 636,1786 482,1614 540,1848 588,1794 536,1778 654,1648 519,1623 522,1826 563,1729 597,1800 578,1791 584,1797 546,1801 502,1718 575,1715 543,1614 516,1804 548,1745 594,1614 573,1854 494,1627 560,1758 601,1629 672,1787 511,1869 545,1677 690,1738 613,1814 557,1724 526,1653 590,1721 588,1757 521,1837 598,1691 597,1743 542,1823 647,1766 537,1656 533,1819 609,1784 546,1645 643,1786 523,1901 553,1614 545,1836 506,1738 644,1656 512,1855 560,1682 533,1843 526,1614 545,1616 515,1694 560,1780 606,1614 478,1783 507,1803 532,1887 535,1859 530,1732 590,1844 550,1843 517,1712 550,1734 602,1614 587,1827 547,1711 569,1738 624,1765 505,1685 686,1784 558,1824 592,1813 546,1767 602,1761 548,1742 528,1744 530,1687 584,1673 507,1865 646,1756 497,1721 558,1712 501,1707 593,1705 533,1878 690,1788 575,1723 495,1614 585,1716 631,1614 526,1803 635,1614 555,1798 549,1816 557,1662 513,1812 582,1842 582,1810 641,1733 520,1674 557,1859 570,1631 576,1780 577,1614 562,1718 491,1793 539,1674 508,1805 649,1639 561,1709 535,1830 695,1776 565,1706 518,1848 664,1763 614,1786 493,1688 613,1639 608,1738 629,1747 630,1755 525,1689 487,1764 613,1672 587,1680 519,1750 581,1666 529,1844 616,1796 543,1848 555,1826 547,1833 609,1770 619,1788 533,1726 600,1622 504,1644 539,1725 530,1647 554,1753 623,1700 583,1779 552,1847 553,1734 528,1614 547,1707 526,1866 586,1648 514,1800 580,1614 581,1770 711,1683 564,1719 538,1676 510,1626 526,1794 590,1778 549,1799 534,1772 589,1637 634,1712 571,1806 586,1744 609,1813 676,1722 597,1853 529,1834 587,1678 574,1665 609,1707 587,1762 570,1839 501,1679 558,1818 577,1684 515,1783 595,1662 685,1723 567,1737 640,1765 541,1785 656,1686 508,1718 501,1705 515,1715 564,1742 632,1834 647,1721 648,1781 622,1684 501,1693 588,1741 603,1808 596,1753 569,1814 533,1614 626,1692 570,1688 663,1678 615,1852 633,1670 569,1726 515,1782 701,1629 576,1641 595,1699 599,1614 574,1836 625,1764 570,1705 693,1822 675,1634 597,1808 693,1633 567,1665 554,1757 550,1865 537,1869 556,1799 654,1729 566,1614 548,1828 550,1799 616,1801 565,1790 658,1724 541,1849 590,1756 647,1721 604,1766 516,1764 621,1787 524,1755 566,1686 567,1687 500,1614 527,1716 514,1841 542,2044 596,1614 537,1614 539,1865 576,1706 683,1731 570,1658 579,1843 636,1666 518,1742 693,1747 559,1853 639,1726 564,1851 550,1820 597,1707 648,1675 547,1822 515,1822 697,1731 572,1763 554,1768 556,1870 547,1717 548,1760 647,1653 592,1688 563,1690 626,1655 565,1812 505,1716 626,1700 547,1647 550,1721 564,1756 575,1662 523,1614 641,1707 555,1744 562,1784 512,1707 589,1796 524,1860 671,1742 533,1666 502,1806 552,1645 574,1815 496,1664 611,1782 530,1848 555,1907 514,1755 664,1652 688,1614 520,1820 533,1815 593,1791 558,1731 517,1768 568,1614 524,1845 639,1805 551,1731 503,1691 621,1696 503,1614 550,1818 589,1839 594,1680 604,1686 570,1721 601,1796 595,1750 548,1852 543,1660 564,1614 539,1614 513,1863 519,1767 558,1775 540,1690 660,1644 680,1633 511,1841 574,1614 693,1676 719,1728 604,1812 574,1678 635,1651 645,1771 644,1811 482,1727 484,1803 589,1781 571,1766 539,1773 653,1729 554,1650 670,1772 573,1838 508,1755 594,1769 588,1805 532,1815 603,1614 638,1694 624,1761 590,1756 526,1887 553,1845 547,1820 572,1702 604,1831 652,1708 533,1810 549,1749 552,1835 643,1678 495,1870 543,1777 531,1681 657,1772 490,1763 566,1848 524,1687 653,1761 684,1796 578,1697 531,1853 589,1814 581,1690 601,1704 532,1621 592,1744 532,1785 557,1689 665,1614 608,1821 591,1820 532,1676 511,1655 489,1722 656,1761 551,1723 570,1683 711,1759 640,1730 612,1694 640,1685 639,1716 484,1668 557,1683 528,1646 540,1869 520,1703 492,1724 552,1869 485,1732 521,1793 514,1733 655,1828 575,1842 580,1806 666,1785 534,1614 640,1712 557,1819 612,1750 566,1810 563,1701 524,1862 605,1823 530,1805 561,1653 507,1786 541,1761 554,1627 653,1715 559,1839 597,1781 609,1645 685,1614 654,1682 591,1707 509,1875 480,1844 570,1816 533,1703 628,1737 647,1755 655,1727 587,1696 642,1795 626,1818 558,1724 622,1767 547,1698 517,1835 569,1843 611,1675 534,1735 539,1753 564,1697 649,1729 527,1917 555,1725 682,1628 566,1730 629,1713 554,1845 545,1704 547,1757 504,1666 537,1789 653,1729 539,1806 511,1747 563,1804 571,1856 639,1766 572,1774 640,1813 555,1740 507,1614 527,1760 581,1871 606,1614 508,1614 594,1684 538,1726 605,1823 570,1843 541,1739 551,1814 581,1757 677,1637 574,1770 609,1799 639,1614 659,1789 568,1823 545,1982 553,1787 572,1730 531,1815 583,1795 576,1794 559,1687 633,1699 612,1809 642,1766 527,1673 593,1799 620,1808 559,1703 619,1712 639,1704 675,1724 636,1626 615,1737 541,1651 577,1663 537,1646 546,1898 545,1805 512,1703 659,1627 505,1839 581,1752 545,1866 612,1691 615,1823 676,1703 635,1808 569,1823 543,1764 554,1783 603,1614 590,1802 539,1746 640,1647 509,1800 632,1673 540,1806 590,1614 577,1614 565,1750 527,1701 551,1709 517,1813 578,1742 563,1851 549,1769 536,1711 630,1695 541,1776 661,1750 545,1802 617,1810 645,1697 636,1622 513,1830 557,1684 579,1614 532,1820 550,1787 511,1811 583,1750 541,1638 541,1657 513,1614 687,1756 534,1824 640,1727 538,1753 491,1747 626,1658 519,1830 679,1791 530,1742 694,1758 556,1673 494,1849 549,1823 552,1671 604,1768 538,1614 532,1937 539,1727 555,1672 603,1793 510,1749 629,1754 663,1614 576,1719 548,1666 638,1764 550,1805 519,1787 505,1844 559,1782 652,1785 588,1718 649,1728 511,1810 544,1834 621,1835 672,1782 533,1861 532,1614 544,1699 512,1788 503,1680 647,1749 608,1709 531,1614 528,1865 513,1815 609,1676 560,1834 603,1676 541,1845 598,1793 563,1783 539,1808 663,1627 555,1748 601,1793 511,1701 623,1787 596,1614 584,1767 496,1793 664,1614 510,1757 506,1653 640,1838 665,1628 577,1708 545,1792 620,1849 562,1850 548,1714 590,1664 667,1626 601,1727 657,1739 534,1875 553,1654 698,1780 645,1749 527,1830 566,1805 577,1614 563,1711 618,1639 539,1844 672,1738 564,1614 594,1722 519,1847 569,1753 488,1786 524,1892 591,1674 636,1802 567,1772 606,1796 659,1732 556,1641 544,1704 494,1648 520,1783 527,1777 636,1727 608,1724 566,1829 587,1766 598,1812 634,1683 667,1635 640,1762 569,1777 576,1621 634,1710 554,1719 550,1797 545,1755 555,1713 600,1785 525,1744 632,1614 584,1708 601,1785 601,1847 563,1772 536,1748 536,1848 522,1759 563,1870 583,1874 616,1662 559,1803 563,1682 489,1725 560,1820 576,1679 567,1742 545,1732 495,1724 585,1665 639,1683 651,1759 667,1763 612,1664 658,1614 578,1835 674,1698 583,1809 541,1698 638,1722 562,1679 509,1652 528,1655 627,1685 532,1828 628,1816 635,1765 687,1707 702,1735 568,1659 579,1674 499,1699 655,1819 633,1714 557,1819 581,1851 592,1804 639,1649 595,1829 636,1670 583,1695 629,1644 543,1884 601,1824 519,1622 665,1699 572,1835 509,1832 591,1633 561,1781 529,1684 644,1676 540,1723 534,1886 597,1770 633,1695 523,1932 621,1614 575,1815 541,1756 606,1835 524,1795 592,1614 573,1765 540,1768 533,1768 633,1686 613,1675 513,1870 637,1844 643,1798 549,1845 584,1697 535,1614 656,1782 522,1817 648,1614 570,1762 682,1738 554,1878 544,1865 613,1689 638,1819 536,1898 585,1833 643,1692 549,1874 531,1614 496,1771 689,1649 617,1798 540,1881 658,1708 628,1779 544,1880 504,1700 587,1889 536,1842 561,1832 547,1760 565,1839 697,1740 543,1682 624,1707 658,1686 496,1617 535,1629 596,1654 550,1775 582,1696 556,1618 590,1805 568,1698 533,1746 681,1776 554,1785 540,1798 620,2016 570,1647 561,1777 552,1724 517,1741 603,1614 659,1787 523,1614 628,1816 558,1698 572,1840 614,1640 702,1787 587,1696 594,1732 625,1819 556,1697 521,1744 583,1641 678,1642 552,1629 496,1660 597,1756 546,1630 600,1820 558,1811 561,1614 535,1732 673,1725 555,1818 547,1788 706,1673 606,1770 640,1667 637,1810 538,1843 538,1665 627,1760 542,1907 646,1650 692,1661" fill="none" stroke="none" marker-start="url(#m_lncRNA)" marker-mid="url(#m_lncRNA)" marker-end="url(#m_lncRNA)"/>
<polyline points="403.0,1615.9 403.4,1639.0 401.8,1631.5 400.9,1633.0 404.6,1630.9 404.1,1620.3 402.5,1625.3 405.1,1615.6 402.8,1650.6 402.6,1615.0 404.8,1621.6 403.9,1646.0 404.6,1620.8 403.1,1638.2 406.3,1630.1 403.7,1620.4 404.1,1617.8 402.3,1619.5 404.1,1622.7 401.7,1626.6 404.6,1641.1 405.3,1649.1 405.3,1616.5 407.0,1622.3 406.4,1633.5 401.1,1636.1 402.1,1614.7 404.2,1620.2 403.0,1617.8 401.5,1631.6 404.6,1616.7 401.3,1613.9 404.3,1626.2 403.9,1637.1 405.3,1643.6 403.1,1629.7 404.4,1631.8 402.5,1626.4 400.9,1618.9 403.8,1619.0 404.1,1620.0 403.2,1616.9 403.9,1626.3 406.7,1614.8 403.0,1624.2 406.6,1615.0 404.8,1620.5 405.8,1617.7 407.6,1616.2 405.1,1620.6 408.9,1653.4 404.2,1634.4 406.7,1615.7 406.4,1622.2 407.3,1614.6 401.6,1615.6 400.8,1625.1 405.9,1619.2 402.9,1617.0 404.2,1618.1" fill="none" stroke="none" marker-start="url(#m_tRNA)" marker-mid="url(#m_tRNA)" marker-end="url(#m_tRNA)"/>
<polyline points="397.2,1699.3 415.5,1851.4 460.9,1648.2 409.8,1698.2 393.6,1821.1 448.8,1639.9 437.3,1713.8 457.8,1663.9 458.3,1661.0 403.3,1667.3 386.8,1617.2 455.9,1630.0 401.6,1679.9 406.0,1669.3 399.0,1618.1 435.1,1613.7 438.0,1657.4 450.5,1655.0 424.0,1626.1 403.6,1641.7 425.0,1638.4 445.3,1765.5 416.3,1681.7 432.0,1713.8 391.5,1635.4 443.9,1782.9 424.8,1652.5 454.1,1652.7 429.3,1653.1 433.6,1681.6 420.2,1633.1 397.6,1792.0 430.0,1758.3 428.1,1635.4 395.0,1617.8 456.1,1752.0 422.1,1631.2 403.5,1877.8 388.6,1620.9 428.1,1740.0 448.0,1945.7 402.2,1751.1 450.4,1672.5 443.4,1661.4 451.7,1618.3 455.5,1730.7 426.1,1702.0 410.1,1703.3 458.6,1645.2 456.7,1797.1 430.5,1887.4 413.2,1861.0 395.0,1632.4 412.0,1613.7 448.0,1820.5 407.8,1613.7 421.2,1613.7 457.7,1621.7 430.0,1624.4 440.8,1727.2 417.3,1713.1 400.6,1744.8 454.8,1658.7 408.8,1682.7 396.8,1650.8 402.8,1735.5 453.8,1716.1 466.9,1696.0 392.9,1613.7 455.7,1668.5 416.1,1687.0 401.9,1793.2 422.5,1654.7 455.1,1806.3 464.0,1904.9 406.3,1707.0 418.4,1679.2 458.3,1615.0 422.2,1771.1 410.5,1758.5 419.8,1940.1 400.2,1613.7 386.6,1731.4 393.2,1726.5 420.4,2020.4 457.7,1631.0 393.5,1811.8 437.4,1839.1 457.7,1618.7 413.0,1737.1 390.5,1636.7 451.9,1644.4 439.4,1633.3 402.4,1616.4 439.2,1843.6 414.6,1812.7 457.6,1752.1 419.7,1662.9 410.7,1615.7 397.4,1818.4 456.2,1808.5 396.6,1771.0 386.9,1790.2 435.5,1640.4 426.6,1622.3 386.8,1719.1 415.1,1677.1 426.0,1807.5 418.4,1691.2 426.8,1690.8 422.3,1633.8 446.4,1710.1 448.8,1753.8 391.8,1781.7 426.3,1658.0 418.7,1935.6 427.6,1947.8 446.3,1622.7 450.1,1664.5 450.7,1892.3 428.6,1795.1 399.7,1730.5 466.9,1834.2 383.4,1665.1 424.7,1614.6 433.6,1622.4 385.6,1642.1 467.0,1667.3 404.6,1634.1 418.4,1634.3 453.0,1679.9 436.8,1782.1 453.1,1660.3 391.9,1754.0 461.5,1862.2 391.5,1613.7 436.0,1822.9 450.6,1747.9 399.7,1655.1 394.0,1738.9 420.9,1673.3 433.7,1892.8 429.4,1615.3 394.7,1737.3 434.5,1803.1 455.3,1631.2 381.1,1647.4 431.7,1690.8 431.6,1622.8 407.1,1817.8 387.2,1764.7 393.6,1619.4 425.9,1636.6 466.4,1838.8 447.7,1799.8 451.9,1639.5 419.9,1715.6 454.1,1640.0 453.9,1695.5 428.4,1627.5 451.0,1627.4 455.8,1656.0 389.6,1696.6 392.1,1731.7 422.7,1703.9 417.7,1620.4 388.1,1674.8 413.8,1768.4 462.1,1613.7 420.3,1969.1 466.4,1613.7 451.7,1737.3 451.0,1624.8 454.1,1777.0 393.2,1794.9 442.2,1631.8 461.3,1654.5 463.6,1616.1 409.5,1665.0 451.1,1752.9 397.3,1643.0 438.7,1899.9 389.8,1722.4 461.2,1750.7 423.5,1653.6 419.3,1672.2 426.8,1738.5 422.2,1786.5 392.5,1767.1 391.1,1650.3 414.3,1613.7 464.4,1702.7 453.3,1685.6 384.9,1618.1 421.8,1748.0 450.1,1636.9 447.0,1958.2 397.5,1616.4 391.9,1765.0 397.6,1746.1 410.8,1613.7 449.1,1638.0 396.1,1613.7 450.3,1613.7 384.7,1624.1 402.9,1626.1 390.4,1613.7 430.8,1688.2 426.4,1619.8 380.9,1618.0 451.7,1637.7 410.8,1687.1 400.7,1613.7 446.2,1826.5 393.3,1739.9 407.4,1701.2 457.1,1618.0 390.5,1669.9 428.1,1702.8 425.2,1654.2 390.7,1827.2 452.1,1852.3 390.7,1631.6 422.7,1890.4 464.4,1636.3 461.5,1687.8 452.1,1678.1 415.5,1773.1 415.5,1773.9 393.1,1630.9 414.9,1758.6 452.1,1849.0 439.2,1631.9 422.1,1644.0 461.1,1615.5 441.7,1613.7 469.9,1652.9 468.9,1660.8 428.5,1627.0 393.0,1613.7 435.1,1780.0 417.3,1712.5 460.2,1691.4 394.9,1618.3 421.4,1701.3 446.5,1679.0 432.1,1662.1 390.3,1808.3 456.8,1634.5 389.7,1631.1 425.2,1639.4 409.7,1808.8 448.3,1618.3 393.2,1629.0 458.9,1613.7 432.3,1613.7 452.1,1653.4 413.6,1613.7 390.7,1729.1 447.3,1793.1 391.0,1624.8 455.4,1645.5 437.6,1797.7 401.5,1754.4 446.3,1613.9 429.9,1742.7 432.1,1642.7 430.4,1613.7 435.7,1639.0 442.2,1717.5 396.9,1613.7 452.1,1736.3 392.4,1618.0 392.0,1630.4 447.0,1702.1 391.0,1668.2 389.3,1659.9 433.9,2066.5 464.5,1816.0 444.0,1662.6 392.2,1673.6 387.0,1613.7 427.4,1622.9 398.2,1727.3 460.0,1833.4 448.0,1870.3 459.9,1686.3 439.3,1899.5 462.3,1805.9 425.1,1822.6 417.5,1691.7 399.6,1881.5 445.6,1613.7 452.5,1613.7 415.8,1654.7 445.1,1643.8 457.6,1807.3 457.6,1629.9 401.9,1645.5 391.1,1675.3 413.6,1656.2 428.4,1730.8 457.9,1849.5 448.5,1785.0 394.9,1628.4 451.9,1650.3 462.0,1639.0 459.5,1825.7 390.0,1670.6 435.0,1685.1 431.7,1644.1 393.7,1672.1 452.4,1843.8 420.3,1865.1 428.8,1647.2 428.7,1613.7 449.6,1637.1 399.1,1661.7 433.9,1652.4 454.9,1613.7 442.1,1950.0 400.8,1883.6 393.5,1801.4 378.6,1632.5 451.3,1701.9 461.2,1664.9 388.8,1627.0 446.7,1635.1 389.1,1756.9 418.9,1798.8 404.8,1620.8 417.7,1751.4 420.7,1631.9 415.9,1646.7 404.0,1621.1 435.3,1670.5 396.6,1710.4 392.3,1675.8 386.4,1734.7 468.8,1620.6 449.2,1670.8 396.5,1624.5 422.3,1628.4 443.1,1642.0 456.2,1721.7 421.2,1629.1 425.6,1948.3 449.9,1613.7 463.6,1655.3 418.4,1659.5 437.7,1671.9 430.6,1823.9 423.5,1742.5 391.1,1768.4 392.0,1649.6 425.4,1648.1 393.1,1652.1 387.1,1756.5 416.7,1946.8 422.9,1687.4 433.0,1769.2 448.7,1961.6 400.4,1731.3 396.5,1706.6 413.4,1628.2 417.6,1613.7 389.8,1775.1 386.2,1751.2 459.6,1682.5 422.1,1618.4 471.2,1613.7 456.9,1665.9 462.0,1774.8 392.9,1712.5 438.9,1714.7 398.3,1764.3 384.9,1760.9 451.3,1833.3 454.6,1674.8 436.4,1732.0 425.5,1776.7 447.7,1738.5 471.7,1650.5 451.0,1724.6 458.8,1623.4 387.5,1735.8 432.4,1625.3 441.1,1736.3 397.8,1613.7 411.5,1658.4 416.0,1615.4 398.7,1696.6 414.7,1615.2 431.0,1679.4 388.1,1671.4 427.1,1636.8 440.1,1638.8 433.3,1742.3 457.1,1630.6 425.2,1983.5 395.7,1675.0 390.4,1731.5 390.3,1666.6 400.5,1759.6 397.5,1653.7 391.9,1840.2 403.1,1631.5 392.4,1638.3 390.1,1671.3 426.0,1759.3 382.3,1629.2 402.1,1658.3 393.5,1770.8 390.7,1741.0 387.9,1731.6 397.3,1718.2 459.0,1621.6 409.5,1676.1 396.8,1613.7 439.9,1878.4 456.1,1632.3 463.0,1749.8 441.5,1808.6 402.7,1743.4 394.0,1701.8 416.2,1759.7 439.3,1778.2 427.7,1807.4 386.5,1617.1 452.7,1726.7 399.1,1613.7 454.8,1648.4 399.7,1687.6 441.2,1641.5 430.2,1713.9 385.8,1630.8 438.2,1663.9 428.7,1652.4 431.6,1656.8 445.4,1722.3 443.6,1653.3 397.9,1635.4 416.8,1613.7 454.2,1673.2 401.3,1648.3 458.2,1779.9 460.6,1731.4 429.5,1744.4 463.0,1736.4 445.0,1789.9 413.8,1787.8 420.9,1632.2 464.0,1613.7 454.1,1723.6 428.1,1643.5 450.7,1642.0 448.7,1624.8 410.7,1662.5 434.4,1744.5 429.6,1618.1 441.9,2011.3 408.3,1878.7 395.0,1664.9 451.6,1639.5 415.1,1624.9 440.2,1817.2 467.2,1677.9 400.4,1685.9 443.4,1627.6 393.2,1613.7 416.9,1662.5 464.5,1671.9 402.5,1613.8 390.0,1671.3 394.2,1634.8 433.5,1716.4 458.8,1853.8 445.4,1955.8 424.4,1682.7 444.1,1863.5 391.5,1631.3 466.3,1662.1 431.1,1641.1 452.2,1632.0 420.5,1619.0 393.5,1667.5 414.5,1677.8 431.2,1652.3 458.4,1670.0 433.2,1698.1 427.5,1872.3 399.6,1727.0 392.9,1801.2 399.8,1732.8 415.5,1743.6 451.3,1728.3 417.6,1670.8 403.5,1613.7 398.6,1843.0 432.1,1796.9 450.2,1630.4 462.1,1744.5 396.2,1614.9 447.3,1683.4 462.9,1711.0 448.9,1642.6 416.0,1823.1 457.9,1699.0 452.0,1683.4 468.9,1613.7 448.5,1613.7 427.9,1753.3 395.3,1744.5 468.9,1648.1 437.2,1613.7 399.9,1717.8 430.0,1644.4 437.7,1640.7 444.2,1662.0 411.6,1613.7 449.8,1709.5 424.1,1822.2 399.3,1630.6 426.7,1688.6 443.9,1659.7 394.6,1675.9 449.0,1863.2 456.8,1677.4 401.4,1865.5 422.4,1756.3 462.9,1789.6 429.3,1636.8 390.0,1665.4 467.4,1630.6 452.5,1645.0 424.0,1662.4 397.1,1721.6 452.7,1668.6 395.4,1614.3 450.7,1619.9 419.2,1659.8 416.7,1696.3 460.8,1645.5 411.3,1714.1 422.3,1618.3 384.5,1672.3 462.5,1664.7 417.6,1657.6 421.8,1615.1 386.1,1614.7 440.5,1684.6 454.8,1716.1 395.4,1647.1 386.3,1782.0 455.3,1786.8 453.9,1767.5 406.4,1847.9 447.3,1650.3 446.8,1934.7 449.6,1616.4 394.0,1790.7 390.7,1665.9 429.4,1617.9 418.0,1682.0 381.2,1685.9 430.6,1628.9 442.7,1661.5 393.6,1648.2 397.7,1779.1 408.1,1628.2 388.8,1642.1 390.8,1707.2 455.3,1867.8 454.3,1613.7 418.3,1615.1 393.8,1647.3 395.2,1613.7 428.1,1624.1 461.7,1917.1 422.5,1703.9 399.6,1613.7 411.9,1664.8 460.2,1716.7 415.7,1698.0 432.8,1692.8 431.8,1614.4 418.2,1638.2 447.4,1614.9 445.0,1613.7 427.8,2010.7 390.9,1613.7 425.5,1683.2 451.7,1626.7 390.5,1678.7 444.5,1907.4 421.5,1640.4 454.2,1614.1 422.1,1786.8 390.1,1741.7 418.8,1681.2 388.4,1613.7 420.0,1689.0 456.6,1624.8 466.3,1835.7 435.4,1696.1 418.4,1613.7 427.5,1631.5 458.6,1657.8 426.1,1726.0 420.6,1632.8 463.4,1669.2 400.7,1633.1 406.8,1857.4 431.2,1911.9 423.0,1668.6 458.2,1814.6 400.6,1678.0 469.1,1683.6 456.2,1719.4 426.2,1640.0 407.6,1706.4 414.6,1623.8 463.2,1692.8 453.0,1689.1 395.4,1838.8 407.4,1782.6 413.5,1613.7 399.7,1739.4 403.7,1698.4 452.8,1677.9 404.3,1681.1 398.4,1727.2 458.0,1642.0 423.8,1613.7 399.8,1650.6 433.0,1820.3 418.6,1794.9 456.4,1649.3 473.1,1651.4 459.8,1774.6 419.6,1644.0 400.7,1704.1 433.5,1683.1 454.6,1619.8 437.9,1671.8 385.5,1768.3 428.4,1907.9 434.6,1618.1 382.1,1669.9 392.3,1636.5 417.9,1648.6 420.3,1699.7 457.8,1730.1 398.3,1720.8 391.4,1615.1 410.4,1834.9 404.1,1620.2 432.8,1645.9 460.8,1778.0 434.6,1643.9 425.2,1718.2 458.9,1751.0 451.7,1613.7 455.0,1673.2 402.3,1835.2 397.5,1676.1 399.1,1661.7 450.4,1684.0 435.8,1666.0 397.6,1627.0 391.3,1622.4 468.0,1677.9 471.4,1699.3 421.4,1773.5 414.3,1811.6 390.5,1828.8 433.4,1886.0 405.7,1649.4 441.9,1672.8 439.3,1646.5 409.2,1649.1 452.7,1619.0 396.2,1785.2 421.9,1618.0 406.6,1654.5 406.3,1888.6 396.5,1621.4 388.2,1673.9 454.0,1721.1 399.5,1765.7 400.2,1706.7 426.3,1616.5 456.8,1772.4 414.7,1647.0 427.4,1798.7 458.3,1772.7 386.2,1645.8 460.1,1728.1 398.4,1701.5 402.2,1662.5 423.7,1695.1 396.2,1742.2 392.8,1674.4 411.9,1703.4 403.1,1619.9 410.5,1613.7 439.1,1641.9 437.6,1681.2 432.3,1647.0 386.8,1625.3 445.1,1627.7 450.9,1660.1 424.9,1696.0 469.0,1621.3 416.4,1614.6 433.0,1651.6 383.4,1613.7 459.7,1680.2 397.6,1716.1 413.4,1637.3 394.5,1716.7 444.4,1689.3 389.5,1613.7 399.2,1816.0 433.5,1677.1 445.6,1633.0 395.2,1650.0 415.2,1660.3 456.0,1750.8 392.2,1625.7 454.1,1745.3 457.5,1663.4 413.6,1741.7 412.6,1642.0 416.6,1665.2 465.5,1648.8 458.2,1708.5 449.0,1667.4 420.4,1626.9 396.3,1636.1 420.7,1717.3 423.2,1618.7 401.9,1628.0 457.5,1682.3 389.1,1671.4 387.3,1675.9 428.0,1637.9 421.4,1659.3 418.0,1630.7 388.5,1690.4 408.8,1613.7 453.0,1635.2 392.3,1725.9 436.7,1840.8 453.1,1618.1 418.6,1708.4 440.8,1768.9 392.9,1637.2 393.8,1684.0 429.0,1835.2 392.8,1619.9 426.8,1772.5 396.4,1618.5 454.1,1833.5 405.3,1922.8 453.6,1640.8 469.2,1613.7 448.8,1652.3 450.5,1750.3 401.4,1626.1 408.5,1623.5 428.5,1649.5 416.4,1649.1 392.2,1671.6 426.8,1730.6 432.2,1632.7 418.3,1619.1 405.0,1642.5 401.6,1832.3 450.8,1831.3 393.6,1820.2 415.2,1692.5 431.2,1645.6 450.6,1719.3 388.6,1685.7 424.2,1718.6 461.3,1613.7 432.4,1946.3 453.6,1652.8 427.4,1613.7 464.2,1733.7 435.9,1657.5 412.0,1702.4 439.9,1638.1 398.3,1727.1 429.4,1630.8 428.0,1682.4 455.7,1705.2 430.2,1618.9 454.1,1820.5 384.3,1697.2 445.5,1965.0 393.2,1644.5 448.7,1654.7 393.4,1638.1 420.5,1654.8 427.8,1893.8 449.5,1707.6 462.5,1634.1 431.2,1632.9 435.4,1615.3 390.8,1619.7 460.4,1632.8 462.8,1674.5 384.5,1820.4 394.6,1616.5 431.5,1710.6 463.6,1613.7 421.8,1773.2 422.4,1684.6 388.2,1629.2 458.1,1760.5 401.4,1700.8 453.1,1664.1 446.1,1613.7 430.4,1629.8 446.9,1697.9 467.2,1616.9 393.1,1685.1 396.0,1777.2 418.0,1844.5 419.3,1613.7 429.3,1613.7 430.1,1616.2 454.9,1625.5 389.0,1677.7 464.0,1905.5 401.0,1616.7 431.5,1651.9 392.3,1637.0 451.0,1831.9 438.2,1684.0 431.3,1720.4 399.4,1804.3 394.7,1698.1 397.5,1694.8 468.6,1629.4 421.1,1613.7 411.0,1649.2 462.9,1619.4 460.1,1617.0 469.9,1709.3 439.7,1615.5 447.4,1659.6 427.0,1650.0 462.0,1622.7 389.4,1671.9 440.7,1613.7 442.9,1979.2 392.5,1669.1 394.7,1689.8 417.8,1696.5 460.1,1814.9 431.0,1990.1 396.2,1620.2 406.0,1770.7 414.3,1640.9 416.1,1734.8 436.0,1722.4 426.3,1655.8 401.0,1854.0 421.4,1718.2 459.7,1798.2 404.3,1671.6 434.2,1755.5 416.5,1935.0 423.2,1726.0 401.3,1644.8 466.0,1673.9 465.3,1739.9 452.8,1885.0 408.4,1771.7 396.6,1797.1 417.0,1695.2 442.2,1647.1 394.2,1616.8 441.1,1749.6 420.5,1748.3 447.7,1810.2 437.0,1657.8 446.3,1708.0 393.7,1615.2 410.7,1680.1 462.3,1634.4 411.5,1649.6 421.6,1668.4 450.3,1811.8 445.9,1618.1 394.5,1782.5 395.4,1618.1 424.7,1731.5 462.2,1634.6 463.3,1638.5 391.5,1686.1 460.4,1625.2 465.8,1694.3 434.3,1884.1 418.3,1643.8 463.6,1721.4 442.3,1626.4 426.4,1755.9 400.4,1704.5 390.1,1630.8 434.6,1785.4 397.7,1667.9 403.5,1643.1 418.6,1655.2 432.3,1693.7 426.3,1615.2 455.3,1685.2 384.5,1622.7 437.0,1703.4 463.3,1860.3 403.4,1642.7 398.6,1687.4 455.3,1797.6 393.1,1746.1 391.2,1736.3 457.7,1834.4 445.7,1700.3 457.6,1613.7 416.4,1682.9 456.9,1777.4 456.3,1728.1 464.2,1766.1 392.5,1661.6 459.2,1689.1 447.2,1613.7 442.7,1731.7 457.3,1664.8 419.1,1641.2 406.2,1753.1 395.0,1774.7 413.2,1724.2 449.7,1763.1 447.3,1911.6 452.8,1635.2 418.5,1674.1 464.3,1706.1 452.6,1713.5 430.8,1823.2 423.7,1819.5 394.3,1728.0 392.2,1613.7 447.5,1724.2 390.3,1642.0 461.9,1792.3 444.8,1940.4 439.2,1671.6 450.8,1666.8 448.2,1676.6 463.1,1623.1 442.3,1743.0 393.7,1648.0 401.0,1672.2 397.0,1810.8 467.6,1620.8 403.6,1615.0 383.3,1658.9 458.0,1775.2 409.1,1720.8 437.5,1661.2 426.2,2076.0 395.1,1636.3 436.9,1624.9 412.2,1686.4 423.0,1613.7 401.4,1864.5 418.5,1617.0 459.0,1685.0 428.7,1807.8 449.4,1678.4 423.1,1618.9 417.7,1696.4 378.0,1749.1 465.4,1646.9 398.5,1613.7 388.0,1723.8 462.2,1740.9 412.8,1623.6 435.1,1634.3 411.0,1683.8 419.3,1614.3 460.3,1619.3 395.1,1768.9 382.3,1671.3 458.4,1614.1 404.6,1788.5 434.5,1613.7 436.4,1742.4" fill="none" stroke="none" marker-start="url(#m_snRNA)" marker-mid="url(#m_snRNA)" marker-end="url(#m_snRNA)"/>
<path d="M402.2 1616.5L410.0 1617.2L417.8 1615.9L425.6 1615.1L433.4 1614.2L441.2 1615.4L448.3 1615.6L447.9 1623.2L449.5 1630.9L450.4 1638.6L448.6 1646.3L446.6 1653.9L446.7 1661.6L449.6 1669.3L447.7 1677.0L445.2 1684.6L447.0 1692.3L445.3 1699.7L445.6 1707.3L445.4 1714.8L444.8 1722.2L445.9 1729.8L444.8 1737.3L443.8 1744.7L444.6 1752.3L444.7 1759.8L441.4 1767.1L442.6 1774.2L441.3 1781.2L441.8 1788.3L440.0 1795.2L441.1 1802.3L440.5 1809.3L439.7 1816.3L438.5 1822.8L434.5 1832.5L431.4 1841.5L427.0 1832.0L420.6 1823.4L421.3 1816.2L417.6 1809.5L417.2 1802.4L419.5 1795.0L415.9 1788.3L416.6 1781.1L414.3 1774.2L413.4 1767.2L415.1 1759.5L412.4 1752.2L411.7 1744.7L409.6 1737.4L411.5 1729.6L408.5 1722.4L410.0 1714.7L408.4 1707.3L408.4 1699.7L404.9 1692.4L405.5 1684.7L402.9 1677.1L404.6 1669.3L403.9 1661.7L403.4 1654.0L404.7 1646.2L403.6 1638.6L401.5 1631.0L403.1 1623.2Z" fill="#ff7f0e" stroke="#ff7f0e" stroke-width="4" stroke-linejoin="round"/>
<polyline points="450.2,1671.5 405.9,1675.4 434.0,1841.0 453.9,1737.6 417.4,1822.5 405.7,1615.8 447.6,1617.8 401.6,1662.1 418.1,1812.7 405.2,1696.2 446.5,1712.9 416.0,1810.1 414.6,1794.4 395.9,1624.0 406.0,1660.4 447.1,1801.6 409.1,1703.1 437.2,1828.7 448.9,1644.8 446.2,1676.2 402.9,1694.3 416.0,1780.6 446.6,1767.8 404.1,1709.3 402.2,1686.9 451.9,1670.0 453.6,1644.2 417.1,1614.6 408.7,1781.3 445.5,1679.2 449.6,1641.1 405.3,1656.0 414.0,1755.0 444.4,1804.0 445.9,1784.2 425.2,1821.4 406.6,1658.8 452.7,1660.7 434.3,1615.4 449.9,1676.0 412.3,1769.2 404.2,1688.5 441.3,1824.6 427.7,1841.6 406.4,1680.2 450.3,1669.0 419.7,1803.3 444.2,1748.0 397.7,1630.3 403.0,1616.8 404.7,1621.7 446.9,1729.1 448.0,1719.6 396.8,1638.1 448.4,1782.0 452.4,1759.2 409.8,1730.5 443.2,1760.0 449.0,1682.5 449.9,1674.3 415.2,1777.7 432.8,1615.0 409.8,1767.3 403.5,1699.3 449.6,1641.9 407.6,1653.5 450.0,1690.1 404.7,1734.9 449.0,1618.9 407.5,1669.7 444.6,1727.9 409.3,1696.5 448.5,1625.4 398.4,1619.3 396.2,1620.8 411.1,1743.1 445.7,1736.1 419.0,1824.6 447.4,1700.4 447.1,1667.5 441.5,1803.5 443.2,1820.8 411.8,1725.0 401.8,1630.9 415.0,1761.0 446.8,1731.5 409.0,1772.9 446.8,1684.7 413.8,1797.7 435.8,1826.1 403.3,1644.1 408.5,1760.3 415.2,1617.7 432.9,1615.4 447.6,1687.2 405.3,1667.2 417.0,1773.6 405.4,1700.5 445.8,1701.6 433.7,1842.3 408.0,1735.4 444.5,1748.8 436.0,1834.5 443.4,1762.7 449.5,1652.1 403.7,1706.7 399.4,1668.4 405.4,1616.4 410.9,1704.3 415.0,1803.1 453.4,1626.0 455.2,1651.1 452.5,1665.4 436.4,1617.3 447.1,1766.2 452.9,1621.0 454.6,1664.0 439.7,1820.8 401.2,1683.6 412.0,1775.4 440.9,1815.6 402.6,1624.5 402.3,1650.3 398.1,1643.8 446.5,1716.0 406.6,1676.9 411.3,1715.0 433.7,1619.0 450.4,1658.4 398.1,1645.7 419.9,1614.8 420.4,1830.4 411.8,1684.4 423.7,1835.6 402.5,1673.0 401.1,1656.9 441.2,1802.6 442.7,1798.3 442.8,1814.5 444.4,1792.3 413.7,1789.0 447.2,1756.7 444.7,1749.2 437.3,1832.7 413.5,1784.1 450.0,1630.4 446.6,1746.0 448.9,1616.6 448.0,1680.8 451.0,1650.6 443.4,1721.3 447.2,1697.4 445.7,1630.9 404.3,1681.6 444.8,1816.1 444.4,1752.3 451.3,1723.0 442.9,1706.3 406.7,1719.1 436.6,1838.4 456.0,1696.1 441.2,1713.2 447.7,1698.0 409.4,1764.5 449.3,1636.9 404.9,1693.7 415.8,1807.3 411.2,1746.1 409.5,1730.0 442.5,1785.3 421.5,1823.5 441.4,1812.6 445.7,1798.1 419.6,1817.9 415.1,1764.1 440.8,1822.8 412.0,1767.2 442.3,1615.2 442.6,1779.0 421.0,1807.9 428.6,1833.7 422.8,1827.3 443.8,1708.2 407.2,1749.2 447.5,1764.5 455.6,1695.2 404.0,1712.4 407.2,1775.6 404.6,1659.3 449.6,1778.8 445.0,1615.9 451.5,1636.0 428.4,1836.6 408.7,1753.4 452.2,1626.0 409.9,1733.5 447.1,1742.6 446.7,1771.2 400.9,1691.8 406.3,1724.8 412.9,1791.7 402.1,1677.4 418.4,1797.9 411.4,1729.4 428.7,1617.2 444.2,1756.9 415.6,1767.2 456.4,1654.6 404.6,1684.4 418.5,1806.6 445.3,1810.1 448.9,1664.7 417.2,1817.0 409.8,1736.3 409.4,1712.5 413.9,1747.9 442.3,1795.0 450.5,1635.6 448.5,1788.2 407.2,1756.7 408.8,1614.7 414.9,1785.5 412.7,1614.5 403.2,1707.2 445.3,1640.7 449.6,1652.0 406.1,1745.4 448.2,1765.6 416.9,1783.2 407.4,1717.8 421.4,1828.5 397.3,1627.9 422.1,1838.1 442.6,1760.0 439.9,1777.0 396.2,1635.5 406.1,1639.5 450.5,1620.1 454.1,1680.5 408.4,1740.4 445.1,1740.9 420.4,1790.7 446.6,1726.4 442.7,1754.9 444.6,1710.6 429.7,1840.1 441.9,1820.6 399.5,1666.6 445.6,1738.0 445.8,1785.5 438.4,1828.6 408.7,1722.0 410.8,1759.2 445.2,1777.4 449.3,1689.7 451.4,1621.0 447.3,1797.9 403.6,1637.7 402.0,1646.6 405.1,1635.8 443.2,1790.4 453.3,1642.8 442.6,1768.9 444.2,1774.2 449.3,1631.7 447.2,1725.2 401.7,1654.5 449.3,1739.9 404.5,1675.0 407.0,1613.7 415.2,1770.7 446.9,1658.4 414.3,1741.7 449.2,1647.8 414.1,1797.8 407.8,1738.9 406.2,1700.3 398.9,1621.6 441.8,1770.6 406.0,1672.6 445.6,1773.8 432.0,1835.2 411.0,1728.9 423.4,1615.6 440.3,1826.5 436.2,1834.8 413.5,1751.4 415.4,1795.1 440.9,1784.7 440.1,1614.8 405.7,1664.7 448.4,1648.5 415.1,1788.5 444.8,1753.8 425.7,1828.7 448.5,1717.1 449.6,1714.7 448.0,1662.6 447.1,1730.9 453.2,1629.6 415.6,1787.6 440.9,1794.8 412.4,1777.3 419.5,1820.7 444.7,1719.9 445.7,1743.5 444.9,1750.6 399.8,1640.9 413.3,1805.2 422.8,1813.5 408.0,1711.1 410.0,1739.6 403.2,1671.7 447.8,1709.3 409.4,1707.8 402.7,1632.4 432.5,1838.7 429.9,1841.0 444.0,1694.3 441.0,1806.5 411.5,1689.8 421.1,1833.0 402.3,1688.9 401.6,1649.3 414.3,1777.8 451.2,1678.9 420.2,1818.3 403.1,1648.4 407.5,1744.0 441.0,1790.0 449.9,1688.7 437.7,1614.4 403.0,1715.8 415.8,1812.8 441.1,1806.3 421.0,1814.7 452.6,1623.5 444.9,1735.9 404.2,1663.6 447.8,1661.3 448.9,1656.5 424.6,1831.9 438.1,1781.0 448.4,1636.4 403.2,1627.4 446.7,1674.0 439.8,1816.5 410.4,1757.4 407.8,1721.4 442.0,1731.1 444.1,1725.5 396.7,1632.8 442.7,1808.5 444.1,1812.1 436.9,1831.1 427.2,1840.2 450.8,1705.3 413.2,1753.0 408.8,1726.9 450.2,1703.6 450.1,1705.6 451.1,1618.0 420.8,1802.1 404.2,1713.8 399.4,1654.2 404.8,1724.3 412.4,1752.1 442.7,1744.8 431.2,1836.9 449.4,1691.2 407.2,1698.8 442.9,1829.3 401.5,1641.5 442.9,1796.1 449.5,1699.4 448.5,1683.0 414.6,1800.3" fill="none" stroke="none" marker-start="url(#m_miRNA)" marker-mid="url(#m_miRNA)" marker-end="url(#m_miRNA)"/>
<polyline points="431.4,1758.1 428.3,1668.2 432.1,1708.3 419.1,1613.7 428.8,1615.9 412.5,1624.1 410.0,1660.4 439.5,1622.1 413.0,1658.3 431.1,1686.4 434.6,1692.9 431.8,1698.5 421.4,1613.7 434.1,1772.3 442.5,1717.8 444.8,1760.1 428.2,1651.4 429.7,1781.6 441.0,1645.5 416.2,1655.1 425.6,1768.0 404.0,1616.9 453.2,1623.1 447.7,1676.5 445.4,1629.6 423.0,1664.3 428.4,1613.7 412.7,1616.7 414.0,1742.6 421.7,1613.8 440.7,1793.4 444.8,1613.7 418.2,1755.8 430.9,1859.7 433.5,1708.7 427.5,1613.7 424.6,1645.1 428.5,1692.3 412.7,1720.9 420.5,1640.2 408.7,1613.7 443.0,1694.4 417.5,1767.6 431.6,1711.0 423.7,1614.6 432.5,1654.9 420.8,1620.5 436.8,1634.2 413.4,1738.5 450.6,1670.4 416.1,1613.7 415.8,1716.7 448.1,1637.3 428.8,1643.1 412.2,1655.0 410.3,1706.5 436.7,1710.0 427.5,1769.5 431.2,1613.7 423.2,1642.0 396.8,1613.7 418.9,1722.3 453.2,1770.1 435.9,1680.2 424.9,1695.6 440.1,1622.4 416.2,1678.2 437.4,1772.2 423.6,1628.5 413.9,1825.5 441.6,1671.5 441.1,1613.7 435.0,1778.7 427.9,1613.7 425.9,1730.9 409.0,1622.5 424.7,1734.1 426.6,1880.8 414.0,1613.7 418.8,1678.9 418.8,1664.8 440.2,1734.5 417.8,1744.4 449.4,1682.6 415.1,1613.7 408.9,1683.1 407.7,1644.8 416.2,1765.9 438.3,1662.9 429.0,1673.8 409.0,1675.0 428.8,1741.0 415.0,1625.3 438.6,1659.3 406.6,1620.8 407.2,1697.3 433.4,1841.4 420.2,1632.3 418.9,1671.7 440.3,1671.5 414.8,1631.4 429.0,1729.2 435.6,1613.7 417.1,1688.2 435.7,1675.5 425.6,1623.1 433.1,1615.7 415.9,1623.9 405.6,1633.4 411.8,1647.0 429.2,2010.6 421.9,1817.3 436.5,1677.0 430.0,1734.3 404.5,1613.7 441.9,1739.0 425.3,1633.6 408.7,1712.3 409.7,1636.6 432.7,1676.0 430.2,1733.7 429.6,1698.4 431.3,1700.1 426.7,1646.8 443.2,1614.4 423.4,1617.2 425.6,1710.8 433.3,1659.1 427.3,1628.2 425.4,1625.7 437.9,1668.3 425.2,1613.7 453.2,1684.5 426.8,1638.9 411.9,1650.0 430.2,1731.0 446.6,1671.3 431.2,1729.1 431.8,1652.8 434.0,1645.8 438.9,1695.7 413.6,1665.0 431.3,1927.6 421.8,1651.8 424.3,1682.6 425.7,1676.4 422.0,1748.9 425.6,1643.5 452.1,1664.0 428.1,1613.7 419.1,1616.8 421.4,1661.9 427.7,1640.6 441.7,1738.9 434.0,1754.4 437.7,1618.0 418.8,1696.1 431.3,1613.7 436.4,1706.5 429.5,1624.9 440.4,1929.8 435.1,1644.2 434.5,1690.3 435.1,1724.1 427.8,1673.0 411.3,1634.2 411.1,1742.0 422.4,1617.6 408.2,1831.4 434.2,1755.1 431.2,1876.2 424.8,1661.6 430.4,1707.1 396.8,1613.7 420.9,1656.2 434.2,1751.7 444.0,1655.6 424.4,1647.9 439.1,1623.2 423.8,1736.5 430.0,1624.1 426.5,1618.4 413.9,1648.0 417.2,1820.8 414.2,1660.1 418.9,1862.0 413.3,1651.3 424.8,1679.2 422.8,1636.9 423.2,1736.1 421.2,1627.6 419.9,1792.3 423.2,1628.3 433.8,1650.3 425.8,1727.5 414.5,1613.7 412.1,1707.9 436.8,1613.7 446.5,1623.4 431.3,1613.7 435.1,1616.1 424.6,1650.0 413.1,1673.8 431.7,1623.0 440.6,1613.7 414.9,1663.3 418.5,1622.0 427.0,1758.4 428.5,1736.4 407.0,1626.0 427.3,1727.0 430.3,1722.5 427.7,1733.7 446.9,1717.0 422.8,1680.7 418.8,1649.6 429.4,1618.1 416.2,1663.8 416.7,1686.6 450.6,1720.8 423.3,1682.8 420.2,1820.7 447.8,1767.9 423.3,1641.2 403.8,1678.6 420.1,1684.4 453.2,1720.2 451.0,1628.5 404.1,1659.2 414.2,1637.4 439.0,1630.6 409.4,1672.3 431.7,1709.2 433.1,1617.4 433.7,1658.8 425.3,1670.0 428.0,1650.0 415.0,1649.8 426.5,1777.9 417.7,1638.6 415.7,1700.7 444.7,1679.0 433.4,1631.0 444.4,1642.7 443.6,1714.4 427.6,1755.5 400.1,1633.6 417.7,1903.0 436.9,1696.2 426.8,1792.4 429.8,1865.7 435.9,1620.4 408.8,1706.3 420.9,1650.0 425.7,1666.6 421.9,1767.1 422.0,1669.1 437.1,1621.4 438.2,1657.2 419.9,1680.9 433.2,1650.4 438.1,1664.5 408.1,1691.8 414.0,1637.6 432.5,1721.2 438.4,1617.4 430.7,1655.0 430.2,1750.9 438.1,1613.7 430.1,1689.8 448.0,1811.1 409.1,1652.9 445.2,1797.0 423.9,1659.2 439.7,1663.0 429.0,1827.2 436.6,1732.0 426.6,1688.2 427.4,1630.4 420.2,1837.0 424.4,1639.7 439.9,1627.5 434.4,1698.8 422.1,1757.8 428.0,1613.7 396.8,1642.9 424.5,1676.2 412.2,1781.5 444.5,1684.6 444.2,1837.4 447.3,1615.4 426.0,1657.4 425.2,1629.4 428.8,1945.1 421.9,1624.9 438.5,1650.1 431.5,1613.7 409.2,1643.1 407.1,1634.7 440.5,1727.4 419.7,1684.2 417.1,1732.4 424.0,1946.8 416.0,1623.6 423.2,1656.2 431.5,1613.7 418.2,1613.7 424.3,1614.6 436.8,1748.6 436.6,1634.5 451.1,1706.6 425.5,1814.9 428.6,1613.7 423.4,1786.0 426.0,1669.5 423.0,1708.7 447.1,1680.6 420.3,1623.9 422.3,1613.7 424.1,1777.0 421.5,1625.1 427.1,1674.5 432.1,1629.4 423.0,1630.4 410.6,1776.4 453.2,1646.4 427.1,1650.0 420.6,1748.2 422.4,1800.6 417.8,1671.9 403.3,1624.0 412.7,1693.7 436.5,1789.2 437.4,1658.9 424.1,1639.3 428.1,1679.5 435.6,1795.7 421.7,1624.4 433.9,1662.6 427.3,1664.1 413.2,1613.7 423.7,1668.8 440.9,1669.7 425.5,1673.8 442.4,1641.0 429.2,1621.2 425.5,1688.4 413.1,1790.9 421.8,1650.4 433.7,1613.7 419.1,1625.5 433.9,1613.7 418.7,1670.1 431.8,1619.7 437.6,1943.9 424.6,1655.1 428.8,1630.9 418.6,1716.5 424.3,1682.4 445.4,1630.6 420.1,1636.5 413.2,1624.6 420.7,1615.3 437.2,1720.8 427.7,1982.6 407.8,1663.9 424.6,1691.0 418.2,1670.7 424.7,1633.1 424.4,1842.6 422.9,1843.1 423.8,1613.7 411.0,1652.5 428.1,1675.3 411.5,1746.3 453.2,1623.3 433.0,1626.9 418.8,1718.9 423.2,1704.0 415.8,1751.2 429.9,1676.4 431.7,1613.7 439.7,1634.1 439.7,1685.7 423.6,1705.1 426.5,1689.3 421.8,1618.4 427.1,1625.7 437.3,1729.6 424.9,1656.9 418.4,1639.7 426.6,1648.9 419.9,1659.4 414.1,1697.2 417.1,1615.4 420.2,1856.4 423.8,1631.4 426.8,1750.5 406.1,1726.6 427.5,1731.6 433.2,1638.5 430.3,1791.4 409.4,1725.1 416.5,1658.9 409.5,1618.7 432.4,1699.5 448.5,1621.3 432.4,1778.0 453.2,1723.4 425.8,1638.5 429.9,1642.8 423.7,1870.0 423.7,1616.0 409.0,1881.9 432.2,1616.9 440.4,1615.6 397.7,1738.7 428.7,1613.7 424.9,1680.1 431.1,2013.2 417.8,1680.7 427.5,1615.3 420.5,1644.9 418.9,1653.2 426.3,1613.7 419.1,1819.8 429.2,1652.4 453.2,1635.9 409.8,1698.5 419.6,1636.9 407.6,1683.2 406.8,1613.7 427.5,1788.3 429.7,1875.3 426.6,1629.9 425.2,1658.0 417.9,1654.9 435.6,1613.7 429.6,1634.1 429.3,1692.8 418.4,1737.8 419.3,1659.2 417.4,1613.7 433.1,1677.1 437.0,1614.3 440.2,1640.0 407.3,1721.1 411.3,1672.6 430.8,1762.2 425.2,1654.7 439.2,1913.2 434.5,1675.9 422.0,1752.1 434.2,2014.6 416.4,1638.1 429.4,1708.6 428.4,2082.7 412.9,1616.0 440.2,1627.4 440.1,1716.5 411.1,1823.8 453.2,1641.5 429.9,1658.4 438.7,1803.6 426.4,1613.7 424.8,1749.8 443.3,1659.1 430.7,1619.2 430.5,1717.2 444.1,1640.3 419.8,1778.1 426.8,1647.0 432.4,1660.2 423.1,1628.7 420.1,1709.1 442.9,1637.9 442.3,1613.7 408.1,1681.7 428.3,1615.5 422.7,1668.9 436.9,1613.7 434.7,1705.4 418.5,1655.8 416.7,1633.4 420.8,1758.0 422.1,1676.6 434.3,1633.2 422.0,1613.7 411.8,1613.7 434.0,1765.3 437.4,1624.8 439.0,1740.6 424.5,1671.1 434.5,1660.1 419.1,1656.4 442.2,1741.9 408.3,1655.6 436.8,1970.8 418.2,1616.9 422.6,1768.1 418.5,1617.1 432.1,1641.9 430.8,1826.9 444.9,1686.7 422.3,1882.6 435.4,1676.5 419.5,1667.9 437.7,1654.2 427.9,1629.0 443.6,1613.7 422.6,1613.7 415.0,1729.8 448.0,1795.2 436.1,1705.4 434.4,1695.9 422.3,1614.3 421.5,1613.7 418.7,1639.6 430.4,1613.7 417.4,1613.8 400.4,1616.6 436.8,1664.8 450.4,1630.6 432.9,1613.7 407.2,1629.4 419.4,1738.2 428.9,1728.2 440.6,1643.3 421.9,1644.1 407.7,1613.8 425.1,1674.6 413.5,1803.0 420.6,1633.9 431.7,1618.0 431.0,1828.9 420.8,1800.8 419.0,1618.6 418.7,1681.4 419.3,1613.7 422.0,1757.9 430.1,1615.7 422.7,1656.6 431.5,1655.5 435.2,1617.0 440.9,1679.5 447.5,1740.5 427.3,1864.5 440.7,1649.6 413.9,1667.9 441.9,1687.2 437.3,1814.4 420.4,1618.6 425.0,1659.7 406.3,1613.7 423.4,1621.2 409.1,1615.9 442.6,1613.7 431.8,1613.7 422.0,1613.7 430.3,1665.7 423.0,1619.7 423.7,1622.0 431.4,1613.7 417.8,1613.7 415.1,1816.1 440.0,1625.8 429.5,1845.5 437.6,1613.7 425.4,1949.1 436.7,1709.6 401.3,1640.5 409.5,1613.7 422.4,1791.5 410.6,1663.9 420.7,1643.0 429.5,1643.1 429.3,1623.3 417.4,1771.0 434.7,2056.5 435.7,1613.7 425.7,1660.1 413.3,1613.7 412.2,1659.5 432.6,1789.7 418.7,1614.2 411.3,1627.7 420.3,1808.0 413.9,1664.6 447.3,1613.7 417.2,1686.5 429.3,1626.2 431.5,1617.2 426.1,1633.1 417.2,1632.0 427.8,1703.5 415.9,1774.5 419.0,1659.4 428.0,1839.0 433.7,1742.1 427.9,1613.7 421.6,1721.0 424.3,1664.6 425.1,1613.7 422.7,1803.8 426.2,1634.5 417.6,1806.2 417.7,1636.0 423.5,1677.2 438.3,1631.4 417.0,1803.5 434.6,1614.9 421.4,1659.5 421.5,1675.3 434.1,1694.0 425.5,1616.9 437.2,1648.9 415.1,1693.6 420.6,1845.9 422.3,1698.4 422.8,1621.7 437.3,1769.4 441.5,1651.3 453.2,1617.1 428.7,1832.2 421.9,1671.9 403.7,1640.7 423.6,1683.0 425.5,1709.6 444.2,1626.3 432.2,1643.5 435.6,1702.4 431.4,1674.6 413.2,1619.5 421.0,1954.6 427.7,1655.9 425.3,1923.5 407.6,1626.1 423.9,1655.1 431.0,1646.2 432.9,1696.0 408.7,1626.8 442.7,1670.7 420.2,1631.1 442.9,1727.9 417.3,1615.2 427.9,1621.9 417.6,1629.0 433.0,1797.9 411.5,1677.4 425.5,1689.1 436.5,1704.2 423.1,1613.7 435.6,1779.4 428.0,1711.4 439.7,1735.8 443.2,1613.7 413.6,1630.6 424.8,1616.6 409.3,1615.9 425.2,1754.7 422.7,1753.0 420.9,1630.4 412.2,1660.1 450.5,1619.7 426.8,1645.4 415.6,1809.0 426.7,1635.0 423.5,1613.7 433.6,1627.1 452.7,1654.7 447.5,1645.0 416.1,1711.3 430.5,1713.0 426.5,1674.7 431.0,1613.7 416.6,1678.9 409.8,1613.7 434.6,1634.2 438.2,1679.8 424.2,1697.8 439.8,1688.9 409.2,1688.7 421.1,1643.3 433.1,1628.7 429.4,1772.3 419.6,1615.8 423.5,1685.1 434.9,1637.2 400.1,1642.2 438.2,1784.4 414.9,1682.2 427.3,1678.1 434.1,1869.9 427.9,1613.7 432.5,1964.1 418.9,1774.9 407.6,1618.9 445.5,1631.2 426.4,1614.9 434.1,1613.7 435.4,1660.8 450.6,1652.7 413.0,1737.8 453.2,1613.7 431.4,1726.7 407.9,1663.0 409.7,1624.7 417.4,1707.8 412.0,1617.6 427.7,1738.1 427.1,1700.1 416.8,1742.8 426.9,1687.6 450.7,1658.4 411.8,1613.7 431.6,1831.2 417.5,1726.5 433.3,1654.2 425.6,1697.5 443.6,1631.7 410.9,1613.7 409.7,1632.1 421.3,1617.8 426.3,1682.3 433.0,1725.8 429.7,1657.2 412.4,1641.3 415.7,1717.5 418.3,1797.0 435.3,1614.4 419.7,1802.9 424.0,1639.0 437.5,1616.3 429.8,1667.6 421.1,1663.1 432.1,1631.0 434.2,1617.2 420.9,1674.6 420.4,1683.1 406.7,1704.4 433.6,1653.4 437.6,1617.7 431.0,1745.5 433.4,1613.7 430.9,1871.4 414.4,1615.7 425.9,1721.9 449.2,1690.9 433.6,1667.3 415.9,1617.9 423.5,1640.1 427.0,1627.8 430.9,1613.7 441.6,1824.8 416.0,1614.1 431.9,1652.5 425.8,1773.7 421.9,1655.2 413.4,1718.4 418.2,1639.8 414.3,1628.4 425.8,1655.7 435.8,1613.7 407.2,1732.1 433.3,1613.7 436.2,1719.5 430.3,1622.9 435.8,1642.2 437.1,1649.1 422.5,1765.9 425.0,1613.7 420.0,1756.9 440.5,1634.6 431.1,1724.8 418.5,1729.0 412.3,1684.6 431.8,1667.7 443.1,1764.4 430.5,1613.9 424.7,1777.5 432.7,1817.2 444.7,1689.1 433.0,1683.2 434.4,1656.6 421.5,1655.0 426.0,1791.9 428.7,1631.3 423.6,1891.0 430.5,1626.9 419.4,1783.9 452.7,1633.3 436.0,1644.5 428.0,1783.1 435.0,1720.9 430.1,1671.9 439.6,1740.0 418.1,1619.7 423.4,1705.0 414.6,1614.8 433.2,1613.7 418.4,1613.7 425.5,1613.7 433.8,1613.7 414.0,1630.9 453.2,1727.7 427.6,1672.5 404.6,1632.1 440.4,1721.7 404.0,1727.5 413.8,1613.7 406.5,1625.9 443.5,1624.7 416.2,1668.5 416.4,1664.2 430.2,1615.6 427.0,1683.5 418.5,1634.7 407.6,1636.4 409.6,1676.3 449.4,1695.7 433.1,1627.4 443.9,1613.7 418.1,1653.0 434.1,1763.3 431.0,1613.7 442.2,1732.6 429.3,1617.5 427.3,1668.8 430.6,1691.2 413.6,1786.0 423.7,1622.8 423.6,1744.4 449.0,1650.2 421.0,1693.8 440.1,1682.7 446.1,1613.7 420.1,1613.7 418.5,1813.2 413.1,1650.3 431.7,1776.3 418.2,1684.4 424.8,1657.6 429.5,1668.9 425.3,1613.7 412.1,1789.5 406.0,1720.2 426.3,1840.9 427.8,1875.2 421.6,1816.6 439.6,1659.2 437.0,1997.0 426.3,1712.2 422.4,1662.1 433.1,1613.7 427.7,1769.5 410.5,1613.9 438.0,1627.8 419.3,1633.6 410.1,1613.7 418.9,1742.1 408.4,1663.2 429.4,1654.9 430.2,1613.7 417.2,1950.6 446.2,1613.7 431.0,1613.7 431.6,1716.4 402.1,1807.5 449.4,1694.2 449.6,1843.0 434.6,1639.9 427.6,1796.9 419.3,1787.4 414.1,1644.8 405.2,1621.6 424.9,1980.8 433.9,1685.8 433.8,1889.0 432.9,1613.7 450.4,1688.5 428.0,1613.7 413.5,1649.8 437.6,1617.3 432.5,1613.7 429.9,1666.3 421.4,1635.7 439.2,1635.6 430.5,1751.6 442.9,1646.1 431.8,1844.7 412.7,1663.3 421.1,1682.3 440.1,1877.3 419.9,1659.4 420.8,1702.7 440.5,1715.9 424.7,1650.2 411.6,1659.2 411.3,1658.5 424.8,1624.7 430.8,1613.7 431.1,1786.2 421.9,1675.0 413.0,1840.6 438.6,1626.9 428.7,1717.9 423.2,1679.7 429.6,1633.7 406.5,1625.8 409.9,1615.8 425.1,1708.7 418.5,1687.8 432.6,1613.7 421.8,1638.4 423.3,1632.0 429.8,1753.8 427.3,1637.4 425.4,1642.8 421.7,1665.6 420.9,1627.5 431.0,1681.9 422.1,1828.2 414.5,1739.9 417.1,1738.2 436.2,1625.6 420.8,1693.4 426.3,1613.7 426.7,1661.3 446.7,1616.1 415.0,1636.9 438.3,1677.3 413.5,1620.1 432.2,1646.9 442.8,1838.7 437.8,1743.3 426.5,1616.0 445.7,1656.3 411.5,1642.5 425.0,1674.6 418.9,1613.7 440.8,1672.2 425.3,1660.3 425.4,1685.6 434.7,1852.5 411.9,1649.1 446.8,1775.7 414.0,1642.2 422.3,1618.1 425.5,1716.9 432.4,1613.7 435.8,1722.6 423.9,1762.0 414.9,1613.7 438.8,1613.7 440.3,1712.9 426.0,1657.5 396.8,1613.7 439.7,1681.1 446.2,1613.7 404.7,1619.5 416.6,1615.0 436.3,1694.7 433.7,1704.2 423.6,1613.7 401.7,1627.6 429.9,1743.4 431.9,1614.1 413.9,1650.5 424.9,1626.5 423.1,1627.5 428.2,1633.0 415.5,1620.1 447.2,1694.3 408.1,1643.0 424.0,1761.7 435.4,1765.9 428.9,1618.1 417.9,1628.4 410.8,1613.7 414.3,1650.3 431.6,1657.3 426.9,1680.2 414.0,1660.6 399.9,1642.9 430.6,1656.3 428.1,1868.2 435.7,1859.5 407.2,1846.7 432.5,1698.3 418.8,1735.1 429.6,1664.7 418.5,1703.4 425.2,1621.3 403.4,1638.5 435.8,1633.5 436.8,1659.6 420.9,1645.7 399.7,1613.7 440.2,1755.2 438.3,1667.3 428.5,1692.8 436.7,1689.5 413.6,1660.2 445.7,1777.0 425.8,1702.7 452.1,1880.7 420.2,1641.3 431.9,1651.4 428.1,1957.5 429.4,1809.1 418.2,1749.4 423.0,1613.7 431.4,1703.3 429.5,1643.3 435.9,1626.8 410.6,1630.0 438.2,1743.0 398.0,1619.0 419.7,1613.7 427.6,1678.3 413.2,1727.6 396.8,1693.5 422.4,1622.8 419.2,1647.4 433.4,1762.6 432.4,1626.5 405.0,1623.4 428.5,1613.7 425.3,1835.7 423.6,1883.7 436.7,1613.7 417.7,1613.7 435.1,1613.7 422.1,1615.8 403.5,1613.7 423.3,1628.3 409.3,1615.8 413.9,1634.9 399.7,1614.5 419.0,1678.0 437.7,1634.1 431.8,1674.4 431.1,1943.0 419.4,1693.9 407.5,1673.3 421.4,1628.8 428.8,1705.3 419.1,1623.2 412.3,1616.5 435.4,1643.5 436.0,1622.3 435.1,1768.0 429.9,1613.7 431.4,1950.4 433.9,1693.7 396.8,1627.0 427.0,1613.7 435.0,1736.2 425.1,1623.9 415.8,1731.4 423.7,1695.3 453.2,1854.4 440.1,1640.9 413.6,1644.8 435.1,1680.1 446.1,1660.0 416.9,1729.4 427.6,1655.5 409.1,1657.3 424.1,1697.6 429.3,1653.2 436.3,1646.3 409.0,1616.8 415.9,1614.6 433.2,1828.0 441.8,1678.8 434.7,1724.9 440.0,1780.7 422.3,1641.6 451.1,1628.5 412.2,1647.9 422.8,1618.6 431.5,1861.4 404.8,1717.3 404.1,1708.5 446.3,1613.7 428.9,1671.9 436.0,1682.6 409.3,1635.1 406.4,1662.7 402.8,1644.6 423.3,1787.7 410.9,1625.0 427.8,1683.2 439.2,1688.8 428.0,1661.2 432.9,1905.2 399.8,1629.6 410.4,1724.4 451.3,1641.2 425.9,1613.7 418.8,1673.9 407.5,1734.8 447.9,1857.1 412.7,1777.1 415.6,1613.7 418.4,1619.6 415.0,1740.8 429.6,1617.3 435.4,1656.3 437.4,1705.2 424.7,1617.2 426.7,1702.9 401.9,1699.2 409.6,1627.1 412.4,1689.7 429.7,1704.4 415.1,1758.9 433.2,1681.3 419.1,1617.0 405.4,1613.7 426.3,1649.8 439.8,1620.5 434.2,1619.4 407.8,1616.5 438.4,1818.7 417.0,1614.4 432.4,1656.6 425.2,1829.1 433.4,1794.2 407.6,1623.8 422.2,1613.7 421.1,1693.7 440.1,1623.7 412.9,1625.2 420.7,1634.4 411.3,1702.0 426.2,1733.8 429.7,1653.3 401.8,1613.7 411.6,1653.9 433.6,1715.2 433.5,1872.5 436.5,1683.9 442.1,1709.0 425.1,1613.7 411.4,1620.1 439.3,1613.8 435.8,1680.7 411.4,1613.7 412.2,1636.3 431.3,1779.6 426.5,1671.0 440.1,1613.7 429.3,1651.8 426.8,1635.4 416.4,1648.7 448.1,1679.6 426.2,1761.9 421.8,1619.2 426.5,1613.7 421.5,1650.0 420.9,1643.0 424.5,1615.3 425.8,1613.7 420.8,1645.3 423.8,1690.8 420.5,1865.1 422.4,1697.3 453.2,1624.8 433.2,1623.5 425.7,1642.4 434.9,1667.4 430.5,1662.0 414.3,1703.5 430.9,1637.1 411.3,1660.6 451.3,1615.8 423.7,1647.9 429.4,1721.5 415.8,1620.0 417.3,1734.9 429.5,1712.7 431.2,1643.8 413.0,1694.7 430.1,1931.7 399.3,1634.2 429.6,1813.9 417.1,1653.6 424.2,1644.5 439.6,1827.1 440.2,1625.1 437.0,1755.9 425.8,1613.7 419.6,1615.6 439.5,1613.7 429.1,1692.7 439.7,1678.3 439.3,1643.1 430.5,1637.9 412.4,1613.7 418.3,1823.6 434.6,1645.3 409.5,1620.8 433.0,1722.4 415.4,1896.7 424.3,1679.0 410.2,1665.7 428.8,1718.1 413.8,1691.6 429.5,1926.2 425.0,1964.4 413.7,1613.7 419.8,1632.0 425.7,1624.1 414.3,1642.2 418.9,1730.0 424.7,1647.5 412.7,1628.7 414.4,1704.7 430.7,1769.3 423.7,1828.3 430.5,1668.5 420.9,1699.2 436.5,1687.3 441.3,1837.8 431.3,1648.2 426.4,1742.3 417.5,1638.8 437.2,2019.3 422.4,1755.2 436.1,1737.9 422.9,1685.6 433.4,1662.0 416.8,1638.9 399.1,1621.8 432.5,1759.2 419.9,1679.7 449.5,1785.9 412.6,1646.6 434.2,1666.5 444.9,1613.7 431.7,1798.3 426.7,1897.5 447.5,1613.7 422.3,1679.0 440.7,1687.9 396.8,1689.1 427.2,1624.2 422.2,1635.4 416.2,1626.5 409.1,1613.7 410.8,1617.1 443.6,1677.0 425.2,1700.1 429.0,1855.9 434.8,1789.1 432.9,1747.3 408.9,1683.0 439.7,1778.2 421.6,1704.8 437.8,1782.3 414.4,1634.4 414.1,1613.7 424.1,1653.8 440.9,1678.2 429.1,2007.6 433.7,1613.7 429.7,1715.0 403.6,1687.8 418.7,1634.2 404.4,1718.5 421.6,1613.7 424.6,1634.6 425.2,1635.0 414.2,1613.7 452.0,1746.1 436.5,1636.1 428.7,1675.9 416.7,1700.1 403.2,1641.2 425.2,1825.4 424.5,1637.1 426.5,1683.9 413.9,1614.6 414.9,1641.4 419.4,1688.6 427.3,1613.7 420.0,1613.7 427.1,1635.0 424.1,1722.5 402.2,1674.4 436.2,1622.7 403.9,1633.8 410.0,1613.7 425.8,1663.7 409.8,1757.5 419.4,1687.7 414.5,1719.3 434.2,1678.1 433.9,1755.4 443.7,1649.2 426.4,1628.5 427.0,1634.4 420.4,1703.8 407.6,1627.2 435.7,1743.7 428.5,1633.2 420.6,1633.9 427.8,1621.0 425.3,1945.7 438.3,1823.3 403.1,1613.7 416.2,1801.3 412.7,1660.9 424.3,1653.2 413.5,1613.7 444.4,1751.9 422.4,1805.4 424.6,1671.6 416.9,1819.6 418.9,1636.8 418.8,1744.4 422.9,1614.7 402.9,1662.2 406.8,1618.0 445.7,1613.7 418.9,1803.5 423.5,1626.0 441.6,1650.3 420.3,1618.4 435.2,1703.2 430.7,1658.8 421.2,1656.3 431.3,1613.7 443.8,1633.8 430.3,1617.9 429.9,1626.0 418.0,1655.5 430.4,1695.6 424.8,1661.2 412.5,1661.8 411.5,1638.9 411.8,1613.7 429.6,1616.1 420.3,1702.2 426.1,1808.5 411.0,1722.7 439.8,1613.7 408.2,1641.4 441.6,1629.8 429.1,1706.8 418.2,1726.2 437.0,2044.5 433.1,1641.5 424.1,1777.2 431.6,1755.0 444.7,1820.1 425.0,1640.5 429.9,1688.6 426.4,1626.4 421.1,1690.6 423.1,1617.9 436.3,1729.6 427.2,1667.5 427.6,1695.6 436.7,1682.0 422.4,1727.8 439.7,1640.5 433.4,1647.9 429.2,1613.7 427.5,1638.0 423.2,1802.5 422.7,1979.8 425.5,1859.8 427.7,1658.0 417.5,1688.1 416.6,1748.9 429.9,1619.9 418.7,1642.5 433.3,1641.3 431.0,1731.9 417.6,1629.0 421.2,1619.1 435.0,1823.0 423.3,1938.0 433.1,1724.9 426.1,1640.6 428.3,1698.1 437.2,1623.9 419.5,1656.7 397.5,1613.7 424.2,1676.7 431.7,1793.0 414.1,1613.7 453.2,1626.3 430.9,1979.9 422.0,1679.8 428.9,1818.5 448.9,1729.7 420.4,1613.7 442.9,1622.2 433.4,1639.7 402.0,1627.8 396.8,1660.7 453.2,1790.1 415.8,1613.7 444.0,1812.9 434.9,1650.1 453.2,1613.7 420.2,1690.2 404.7,1613.7 415.7,1824.2 410.4,1626.5 420.4,1667.3 439.7,1812.4 396.8,1616.9 410.5,1627.5 438.7,1628.4 424.2,1690.9 430.6,1669.9 418.6,1726.1 396.8,1642.0 426.9,1622.7 422.9,1670.1 425.5,1613.7 425.9,1613.7 427.6,1613.7 426.0,1709.0 429.8,1716.6 412.8,1675.5 446.1,1748.0 438.0,1653.5 418.3,1614.8 412.1,1662.0 438.1,1627.9 437.6,1640.1 424.3,1917.0 412.5,1622.8 432.4,1856.6 398.3,1633.8 427.4,1876.3 419.2,1660.2 443.8,1798.9 422.2,1921.8 428.5,1613.7 414.1,1613.7 404.9,1866.2 446.9,1652.0 409.3,1664.5 413.2,1692.0 437.2,1856.0 428.9,1613.7 417.1,1708.0 416.7,1613.7 424.0,1710.6 411.3,1734.1 420.8,1656.7 421.6,1654.6 434.4,1668.9 436.5,1613.7 444.9,1629.1 437.7,1828.4 434.2,1613.7 427.2,1639.3 418.1,1631.8 414.8,1620.5 426.5,1613.7 427.3,1755.0 420.7,1641.8 409.7,1625.5 432.1,1656.2 417.7,1664.8 435.9,1613.7 421.1,1615.2 445.6,1650.5 427.4,1661.0 432.6,1848.5 423.9,1979.2 433.0,1933.7 431.8,1660.0 426.0,1729.2 417.1,1613.7 416.1,1648.6 444.3,1725.3 409.9,1727.0 420.4,1615.5 419.6,1770.5 439.0,1684.5 426.0,1646.1 415.7,1613.7 403.9,1628.8 434.0,1638.5 439.7,1669.0 421.3,1655.8 430.3,1613.7 429.7,1657.7 433.5,1664.0 427.2,1669.9 407.5,1676.8 426.9,1713.4 425.2,1620.8 426.9,1866.5 432.5,1614.2 438.0,1635.3 437.8,1700.3 436.9,1613.7 427.3,1655.0 432.0,1613.7 418.3,1623.9 418.1,1665.5 434.4,1668.5 436.7,1780.7 422.8,1621.1 412.7,1613.7 434.6,1626.1 418.5,1626.3 426.6,1630.4 405.2,1629.0 429.3,1793.8 419.9,1734.2 421.6,1783.9 436.8,1613.7 425.0,1613.7 427.2,1776.7 433.8,1960.3 430.3,1659.7 414.5,1639.5 419.0,1673.6 422.8,1699.2 425.0,1659.2 427.3,1753.6 403.7,1714.1 432.5,1669.7 440.3,1661.3 399.9,1624.7 422.2,1843.0 419.1,1643.3 422.2,1878.3 426.3,1732.5 403.7,1641.0 424.7,1613.7 425.4,1683.8 422.5,2013.7 406.7,1789.0 428.3,1634.7 415.3,1706.6 440.8,1646.4 425.3,1613.7 415.3,1633.3 440.3,1633.4 427.2,1779.5 419.0,1697.1 417.5,1613.7 415.8,1672.7 421.2,1626.6 414.8,1624.9 428.0,1759.4 432.3,1643.3 422.9,1651.8 434.0,1613.7 415.5,1710.3 417.3,1735.0 418.7,1682.6 419.5,1613.7 439.6,1613.7 420.5,1676.2 413.6,1613.7 431.5,1667.9 396.8,1677.5 433.9,1669.2 402.3,1651.2 416.4,1624.2 417.8,1644.0 411.2,1613.7 414.0,1777.9 439.5,1615.4 396.8,1698.5 417.7,1642.3 414.1,1613.7 427.2,1624.0 404.5,1775.1 429.1,1666.1 446.3,1716.9 432.8,1682.9 432.4,1619.4 425.3,1613.7 428.4,1704.6 427.3,1613.7 428.2,1625.9 430.7,1807.1 419.6,1685.6 401.0,1620.1 442.1,1618.7 440.0,1662.0 421.8,1613.7 443.8,1668.7 402.9,1711.8 425.1,1683.3 439.0,1777.2 421.7,1754.3 436.9,1691.0 418.6,1679.1 448.3,1794.4 440.1,1687.9 431.4,1643.4 411.2,1613.7 420.9,1648.1 415.8,1659.3 415.4,1613.7 424.8,1650.0 438.1,1683.8 405.3,1638.2 438.0,1673.2 409.9,1629.4 396.9,1648.1 434.9,1752.6 433.1,1803.0 422.8,1775.2 421.6,1643.6 415.6,1613.7 422.5,1615.4 414.3,1619.0 418.6,1630.7 417.3,1656.3 445.6,1613.7 427.8,1613.7 410.2,1716.7 423.4,1682.6 415.9,1793.5 427.2,1624.1 428.5,1665.6 432.9,1613.7 407.6,1639.6 438.0,1709.6 433.9,1655.2 424.3,1613.7 446.8,1626.5 413.9,1613.7 437.4,1664.2 434.3,1657.3 421.2,1626.7 423.9,1616.2 422.9,1780.5 422.2,1623.4 429.5,1698.3 428.0,1636.9 441.6,1697.1 417.5,1624.0 432.4,1673.9 423.2,1613.7 435.7,1677.8 416.5,1661.1 424.2,1623.6 431.4,1648.0 416.4,1814.5 435.6,1741.1 426.9,1613.7 413.0,1634.4 421.8,1642.1 408.6,1670.1 431.8,1631.5 424.4,1649.5 407.5,1623.5 445.3,1815.2 434.5,1640.2 432.9,1622.2 411.3,1642.0 412.9,1750.9 435.6,1712.3 430.0,1623.3 428.3,1635.5 407.3,1661.9 430.8,1778.8 432.7,1617.3 438.1,1679.1 400.5,1613.7 415.9,1684.3 432.0,1680.7 416.6,1832.0 412.4,1668.0 438.1,1638.8 419.6,1624.3 429.4,1952.0 416.2,1684.4 433.2,2031.9 411.8,1659.3 406.6,1613.7 430.3,1815.3 424.9,1616.9 427.5,1731.2 432.1,1657.8 421.1,1630.8 425.6,1624.3 453.2,1613.7 431.6,1697.5 420.1,1649.7 420.4,1629.3 426.5,1716.4 432.1,1905.2 420.3,1651.2 434.5,1615.1 429.3,1808.6 423.6,1649.2 433.9,1617.5 409.1,1613.7 413.8,1659.7 431.6,1623.6 401.3,1613.7 415.1,1613.7 415.9,1613.7 424.5,1628.5 405.4,1707.3 451.1,1641.8 413.2,1623.6 425.9,1685.1 441.5,1617.9 440.5,1807.6 428.2,1642.8 435.4,1866.9 423.1,1927.6 412.2,1616.6 412.3,1613.7 417.7,1644.0 423.7,1635.3 438.1,1655.4 436.1,1649.2 430.7,1663.4 440.6,1740.3 426.7,1615.2 424.2,1615.3 425.9,1613.7 434.7,1789.0 421.8,1637.1 426.4,1622.7 425.6,1630.3 426.4,2029.0 418.4,1613.7 428.3,1711.1 427.1,1771.7 414.3,1619.5 435.3,1739.2 445.2,1757.2 424.0,1621.4 420.8,1783.1 419.3,1743.7 430.3,1613.7 444.2,1614.4 422.5,1627.8 423.5,1642.4 420.5,1663.3 425.1,1677.8 432.3,1808.8 420.3,1645.0 428.8,1645.4 415.1,1729.5 403.6,1613.7 433.7,2017.4 420.7,1623.5 427.4,1707.6 432.7,1617.1 428.8,1613.7 401.4,1685.3 449.8,1623.3 422.4,1615.4 427.1,1630.6 414.5,1615.1 424.4,1650.9 419.9,1630.6 435.4,1669.2 411.0,1669.2 422.5,1717.1 430.2,1613.7 428.7,1694.3 414.7,1710.9 424.1,1678.7 414.3,1836.1 423.4,1837.4 430.8,1661.7 430.4,1635.3 418.1,1683.6 437.5,1730.0 426.3,1622.1 430.0,1690.3 429.2,2040.2 419.7,1633.1 424.7,1703.8 424.0,1687.2 414.6,1616.1 428.0,1728.5 424.7,2040.3 404.7,1677.9 433.3,1614.6 407.6,1660.4 416.2,1692.6 405.8,1677.8 443.7,1726.2 412.4,1690.4 420.6,1668.4 427.2,1720.0 423.1,1613.7 418.3,1735.7 426.6,1689.5 421.9,1648.3 406.8,1634.2 428.6,1772.5 425.8,1713.3 433.9,1662.0 426.4,1628.8 409.5,1613.7 425.6,1626.2 417.5,1660.2 441.6,1763.1 448.6,1775.1 416.3,1841.8 419.0,1711.7 404.0,1616.1 435.4,1616.8 432.2,1847.7 407.7,1671.8 428.3,1801.5 426.1,1623.9 407.3,1763.4 418.5,1618.1 409.0,1627.5 410.8,1613.7 423.7,1785.7 411.9,1673.8 414.6,1736.0 431.0,1718.1 425.8,1613.7 416.7,1641.2 434.8,1613.7 401.1,1613.7 435.7,1710.8 416.0,1613.7 426.3,1710.2 418.8,1613.7 417.7,1618.6 441.1,2065.4 437.1,1650.1 405.3,1756.2 430.7,1735.4 424.3,1630.4 423.6,1650.6 413.9,1734.0 418.1,1708.0 407.2,1681.1 432.9,1626.0 406.4,1646.4 429.0,1613.7 430.2,1761.9 413.3,1790.9 429.5,1693.6 436.0,1629.0 421.7,1675.5 408.8,1658.9 420.9,1712.6 427.1,1743.5 409.0,1738.9 410.2,1684.9 432.4,1621.0 414.4,1613.7 419.5,1649.5 410.9,1738.8 413.4,1631.9 413.0,1651.6 426.6,1669.6 420.2,1661.4 416.4,1756.1 430.4,1625.7 428.7,1674.8 453.2,1660.6 424.8,1706.7 418.6,1628.3 407.6,1641.1 440.8,1657.0 410.2,1709.7 420.2,1622.0 431.1,1622.5 420.9,1719.3 433.7,1680.9 425.0,1651.1 438.1,1613.7 424.9,1613.7 440.5,1631.8 425.2,1627.8 427.4,1613.7 437.1,1696.9 439.9,1715.4 417.8,1678.3 413.3,1821.7 430.7,1671.5 440.8,1613.7 430.4,1614.3 423.7,1613.7 412.2,1755.5 427.2,1619.1 421.7,1699.3 425.7,1624.5" fill="none" stroke="none" marker-start="url(#m_miRNA)" marker-mid="url(#m_miRNA)" marker-end="url(#m_miRNA)"/>
<polyline points="443.6,1697.7 443.0,1704.3 445.2,1692.2 493.7,1779.9 441.0,1633.8 437.1,1623.8 443.8,1757.9 435.5,1626.6 490.2,1637.5 443.2,1629.4 490.3,1678.9 442.1,1630.7 446.4,1693.8 450.7,1709.5 445.9,1641.4 439.1,1634.0 449.3,1717.9 445.6,1677.7 442.1,1737.5 441.7,1909.6 443.2,1730.1 496.3,1712.5 447.6,1815.7 449.1,1622.3 437.9,1677.6 447.0,1658.1 442.3,1685.8 498.7,1721.9 494.5,1731.1 438.7,1638.5 443.7,1685.3 494.8,1922.5 452.7,1631.5 445.0,1621.6 500.7,1615.9 443.1,1621.5 441.0,1657.8 442.3,1648.2 445.2,1651.9 444.9,1647.2" fill="none" stroke="none" marker-start="url(#m_scaRNA)" marker-mid="url(#m_scaRNA)" marker-end="url(#m_scaRNA)"/>
<polyline points="444.8,1958.2 432.5,1786.3 406.3,1803.1 442.5,1951.8 490.7,1614.7 418.9,1615.2 447.8,1821.8 489.1,1613.9 491.4,1615.5 444.4,1776.6 403.1,1699.1 484.4,1614.8 417.6,2038.7 443.3,1926.2 419.8,1777.5 447.7,1840.9 488.9,1615.2 442.5,1772.2 415.8,1755.4 449.3,1761.0 494.8,1614.4 484.0,1614.3 408.6,2024.0 445.4,1845.1 442.7,1846.3 446.4,1865.1 425.4,1743.6 442.2,1847.3 444.1,1917.2 499.9,1618.2 416.3,2038.7 412.6,1834.2 445.2,1942.3 446.9,1803.3 444.7,1806.2 496.8,1615.9 491.8,1614.0 447.1,1911.4 388.1,1973.0 444.9,1860.7 442.4,1960.6 446.7,1795.3 444.6,1731.0 393.8,1997.0 494.7,1614.8 447.2,1825.8 404.9,1709.0 417.9,1664.3 426.6,1637.6 407.2,1632.0 450.6,1883.1 446.0,1867.2 498.1,1614.2 418.4,1622.3 445.6,1888.1 445.4,1816.3 488.3,1616.5 445.9,1865.9 477.3,1613.7 500.6,1614.9 444.1,1938.7 444.1,1927.3 489.1,1617.0 487.7,1614.0 444.6,1835.0 497.0,1615.5 442.6,1629.8 490.9,1614.3 444.2,1944.1 425.9,1801.7 446.9,1675.3 431.5,1832.8 507.6,1614.4 493.3,1621.3 419.0,1655.4 405.3,1935.0 423.3,1810.1 499.0,1614.2 488.8,1615.4 406.9,1662.9 446.9,1809.1 445.0,1808.5 445.1,1826.6 502.9,1613.9 444.7,1733.7 499.5,1614.8 444.5,1774.0 449.3,1771.1 494.5,1614.3 492.8,1614.3 445.3,1731.3 493.4,1614.4 445.4,1714.9 428.3,1983.0 420.8,1626.3 445.9,1882.2 445.2,1826.2 508.0,1615.3 441.1,2003.1 447.2,1819.5 420.7,1929.9 490.3,1616.2 446.2,1856.1 496.2,1614.2 436.4,1634.1 447.0,1945.7 409.3,1652.2 412.6,1964.4 429.8,1639.5 443.9,1702.1 493.2,1616.8 445.1,1997.8 445.4,1978.8 446.0,1873.3 443.7,1966.4 444.7,1768.9 497.6,1614.1 406.7,1818.6 418.2,1703.3 445.0,1897.3 443.7,1654.9 443.0,1699.1 498.9,1615.1 393.8,1835.5 444.7,1794.9 446.7,1689.6 446.4,1893.8 445.2,1613.7 446.7,1904.5 498.6,1615.0 499.1,1614.5 446.2,1814.8 447.1,1982.0 443.6,1990.9 403.3,1929.3 442.8,1792.3 501.2,1620.2 499.1,1616.1 443.5,1895.0 426.6,1719.1 446.9,1925.2 447.7,1982.2 445.4,1937.3 482.3,1613.9 374.7,1990.4 445.0,1791.5 445.3,1769.0 447.0,1760.6 445.1,1735.4 441.6,1877.0 445.2,1760.6 412.3,1634.2 440.7,1890.0 387.4,1700.0 444.1,1924.3 497.2,1614.8 499.7,1614.0 444.9,1852.0 442.8,1948.4 446.2,1731.3 446.4,1845.5 481.7,1618.4 450.3,1892.4 381.2,2001.8 444.1,1824.1 478.1,1614.9 444.8,1844.2 446.9,1951.8 445.4,1840.1 392.8,1673.2 430.2,1962.4 407.4,1658.4 445.3,1920.3 442.3,1804.4 484.3,1614.0 444.1,1904.7 445.1,1821.9 445.6,1970.6 446.4,1856.2 445.5,1804.2 418.9,1627.9 443.2,1853.7 448.1,1871.4 445.7,1889.7 444.9,1646.1 489.5,1614.2 475.2,1615.8 427.7,1655.4 371.8,1697.8 443.3,1956.8 485.8,1618.2 425.3,1722.7 418.7,1639.4 446.2,1851.4 426.2,1673.0 447.2,1903.3 416.0,1713.3 444.5,1826.1 449.2,1685.7 445.4,1879.2 444.3,1840.0 407.6,1935.7 443.0,1980.6 495.2,1614.1 442.2,1863.5 443.3,1831.6 442.7,1697.5 446.1,1787.6 480.2,1614.7 493.7,1616.0 477.0,1615.2 442.0,1958.1 445.9,1978.9 445.8,1932.8 444.9,1918.2 422.5,1784.4 485.4,1613.8 444.6,1850.2 444.9,1914.2 441.6,1782.6" fill="none" stroke="none" marker-start="url(#m_snoRNA)" marker-mid="url(#m_snoRNA)" marker-end="url(#m_snoRNA)"/>
<polyline points="514,1789 534,1838 636,1777 546,1835 512,1741 549,1778 648,1772 608,1810 538,1736 667,1634 538,1832 560,1811 554,1657 543,1738 519,1854 655,1657 616,1741 644,1796 630,1692 546,1769 608,1652 697,1809 513,1743 567,1846 632,1614 564,1820 556,1751 664,1668 556,1822 521,1811 651,1818 549,1794 530,1673 532,1748 554,1815 658,1714 544,1837 547,1721 647,1661 687,1772 707,1690 661,1614 539,1717 554,1830 564,1790 566,1734 562,1727 599,1628 559,1692 512,1870 545,1848 649,1669 545,1672 639,1813 481,1835 612,1777 547,1709 662,1783 613,1774 514,1784 607,1655 574,1755 598,1839 590,1782 478,1787 580,1669 596,1641 571,1662 533,1637 592,1820 669,1623 548,1763 645,1754 602,1812 503,1614 543,1727 515,1707 508,1859 578,1829 498,1810 596,1840 541,1686 535,1701 541,1792 579,1836 508,1761 554,1760 488,1653 527,1865 645,1722 621,1628 611,1740 627,1625 557,1746 536,1628 531,1864 513,1851 506,1614 551,1614 541,1883 563,1638 507,1824 719,1763 679,1744 608,1732 659,1640 537,1632 529,1716 609,1674 558,1810 650,1815 554,1826 566,1720 614,1655 599,1747 621,1723 623,1698 544,1736 598,1650 546,1640 511,1814 555,1733 563,1632 715,1614 601,1685 511,1687 512,1802 627,1785 699,1692 538,1876 570,1674 575,1663 522,1669 522,1881 641,1782 594,1614 526,1817 549,1834 579,1763 573,1682 594,1817 529,1808 564,1785 564,1700 545,1843 581,1720 654,1729 704,1696 574,1614 565,1810 542,1737 555,1766 529,1706 654,1767 529,1821 535,1656 544,1846 546,1694 530,1890 631,1742 583,1719 617,1717 615,1657 699,1731 519,1841 590,1834 530,1674 553,1687 567,1822 504,1929 673,1773 492,1713 510,1646 537,1771 564,1614 541,1706 608,1696 536,1806 537,1845 549,1878 586,1800 567,1799 561,1708 608,1700 689,1732 532,1850 578,1840 645,1733 533,1623 568,1680 558,1756 610,1676 546,1767 639,1782 521,1872 627,1690 514,1859 605,1614 555,1859 528,1754 550,1791 639,1792 583,1776 654,1714 657,1687 589,1755 690,1713 665,1717 600,1702 545,1745 555,1614 504,1719 551,1815 654,1684 550,1614 509,1798 508,1878 615,1816 540,1667 486,1627 537,1758 564,1847 495,1614 647,1811 558,1821 548,1808 530,1857 492,1810 569,1692 505,1614 610,1633 509,1806 519,1614 625,1736 540,1731 553,1855 597,1767 675,1686 518,1614 596,1822 572,1797 564,1781 582,1855 551,1844 565,1870 506,1768 669,1776 679,1766 550,1711 552,1665 538,1614 668,1637 610,1823 616,1658 561,1775 561,1742 623,1653 669,1614 605,1685 538,1791 560,1771 571,1844 588,1614 559,1672 599,1832 544,1682 572,1690 595,1740 559,1665 513,1876 519,1738 534,1812 536,1700 517,1867 601,1783 516,1661 583,1696 568,1614 507,1814 497,1662 541,1667 531,1633 533,1781 592,1688 635,1614 476,1729 585,1754 483,1815 569,1673 556,1763 505,1752 598,1750 600,1765 589,1755 600,1836 556,1795 492,1876 606,1818 652,1718 565,1614 640,1731 560,1845 634,1643 653,1742 541,1772 552,1700 542,1837 559,1744 545,1725 635,1671 529,1828 612,1766 544,1747 608,1650 518,1843 611,1819 648,1790 563,1764 723,1616 544,1725 505,1835 603,1719 657,1614 629,1713 683,1732 569,1872 571,1808 543,1720 564,1740 609,1836 559,1740 604,1667 568,1849 507,1680 578,1835 600,1633 577,1689 686,1818 616,1762 547,1741 600,1657 535,1819 609,1721 555,1748 559,1614 537,1863 532,1931 556,1699 533,1784 557,1861 548,1878 507,1695 653,1667 569,1797 564,1846 625,1846 525,1838 542,1707 511,1887 488,1680 579,1906 617,1614 666,1657 566,1787 501,1701 678,1739 514,1827 662,1802 647,1782 603,1630 529,1904 623,1688 562,1844 581,1851 599,1692 631,1781 553,1704 534,1738 550,1682 546,1663 632,1771 506,1852 585,1755 626,1765 515,1614 644,1614 509,1614 569,1841 595,1778 630,1614 566,1781 542,1703 635,1681 545,1810 666,1614 563,1774 513,1662 578,1824 561,1826 599,1816 529,1819 587,1766 557,1614 619,1621 617,1747 558,1865 499,1818 548,1838 599,1833 497,1801 552,1852 572,1790 567,1764 573,1717 531,1763 577,1768 575,1786 564,1857 620,1643 638,1717 582,1647 639,1760 589,1766 560,1874 502,1703 574,1662 508,1808 650,1797 585,1827 573,1774 562,1704 545,1862 543,1644 500,1856 569,1804 645,1715 595,1633 558,1874 522,1820 577,1861 542,1614 630,1785 576,1731 638,1796 570,1813 560,1857 475,1669 558,1748 518,1710 558,1758 629,1804 665,1684 543,1922 600,1659 548,1737 580,1717 557,1826 537,1767 553,1750 615,1761 535,1781 569,1638 546,1614 535,1726 539,1828 528,1863 682,1670 646,1662 553,1862 578,1711 551,1842 610,1759 498,1630 555,1713 566,1786 625,1757 628,1817 573,1745 604,1669 541,1862 558,1873 569,1858 512,1738 542,1753 537,1614 645,1614 609,1614 518,1872 586,1809 511,1708 517,1876 532,1814 545,1703 549,1691 559,1697 711,1735 530,1769 569,1850 600,1816 611,1622 543,1691 570,1715 566,1799 652,1614 590,1725 567,1819 604,1765 686,1762 638,1798 561,1663 537,1791 590,1614 494,1614 569,1643 543,1822 545,1614 635,1630 583,1722 566,1867 611,1614 492,1809 606,1772 555,1826 564,1814 572,1729 524,1905 649,1667 585,1689 523,1786 539,1669 593,1623 544,1835 542,1614 533,1768 686,1667 611,1674 537,1910 502,1698 557,1803 673,1764 633,1614 574,1891 540,1703 577,1833 592,1835 610,1614 538,1614 556,1659 526,1779 605,1650 556,1746 494,1860 519,1698 581,1735 491,1866 582,1755 600,1646 682,1625 530,1667 552,1760 529,1812 615,1747 653,1797 538,1813 554,1821 558,1642 674,1639 549,1754 508,1780 533,1805 596,1697 552,1785 515,1796 587,1672 562,1722 652,1690 559,1813 629,1680 541,1826 530,1831 558,1760 556,1797 569,1739 595,1777 574,1742 529,1887 553,1854 545,1909 573,1815 592,1625 548,1701 543,1855 651,1742 523,1870 561,1735 512,1844 570,1614 630,1708 572,1731 517,1643 507,1705 542,1737 557,1855 550,1726 540,1818 557,1784 632,1797 571,1639 647,1634 571,1720 517,1853 533,1732 560,1718 528,1775 664,1614 505,1720 656,1753 557,1770 541,1637 652,1766 549,1663 502,1614 539,1795 534,1852 631,1805 684,1666 573,1614 547,1754 654,1629 658,1623 506,1753 584,1621 623,1828 583,1742 561,1791 515,1748 513,1725 521,1797 521,1947 500,1691 565,1741 517,1832 621,1807 544,1862 571,1860 658,1790 556,1813 666,1723 574,1714 557,1761 684,1735 527,1901 543,1776 602,1827 512,1837 532,1715 565,1841 501,1659 642,1670 665,1651 517,1830 539,1896 563,1770 667,1614 476,1614 586,1719 540,1869 585,1711 484,1775 573,1826 658,1747 696,1614 526,1732 704,1775 538,1672 610,1727 574,1711 560,1774 613,1614 609,1808 521,1780 498,1643 555,1639 581,1789 519,1863 560,1797 665,1635 524,1868 547,1785 580,1614 538,1677 512,1726 625,1760 572,1744 548,1869 566,1682 519,1731 537,1872 536,1720 495,1868 519,1691 688,1678 573,1728 703,1747 578,1830 632,1700 559,1722 490,1726 617,1744 655,1725 592,1847 623,1671 544,1660 551,1688 529,1851 648,1729 550,1808 533,1865 626,1811 525,1731 530,1861 516,1811 473,1614 705,1716 560,1748 660,1777 656,1794 514,1786 556,1831 529,1724 608,1792 644,1853 588,1668 603,1733 549,1796 542,1825 546,1795 591,1659 594,1732 578,1802 576,1623 577,1822 506,1897 629,1796 661,1769 502,1678 556,1825 665,1614 512,1663 589,1614 548,1758 544,1886 596,1732 552,1614 522,1697 570,1836 608,1668 611,1745 584,1723 474,1724 602,1807 540,1675 502,1614 640,1621 651,1674 596,1662 558,1760 577,1692 516,1641 600,1695 642,1692 548,1895 539,1786 652,1694 646,1614 630,1812 546,1690 501,1784 507,1739 696,1745 547,1696 503,1772 665,1761 550,1817 573,1888 597,1838 584,1614 674,1665 553,1773 560,1700 491,1644 617,1703 621,1723 572,1795 675,1614 547,1846 575,1830 701,1733 613,1755 526,1819 505,1776 576,1739 532,1772 572,1863 620,1804 500,1836 571,1805 609,1801 527,1762 621,1742 509,1838 611,1804 573,1726 629,1844 667,1614 617,1740 625,1623 552,1839 603,1666 570,1821 580,1749 511,1770 608,1750 561,1765 503,1704 608,1705 569,1762 515,1702 604,1807 627,1722 508,1818 655,1718 533,1828 620,1712 657,1784 626,1684 522,1736 564,1752 579,1843 527,1839 619,1614 579,1627 539,1738 626,1754 630,1614 546,1786 638,1668 604,1651 546,1879 665,1762 666,1662 690,1783 569,1632 541,1838 599,1800 499,1672 559,1656 555,1816 619,1614 528,1614 554,1701 651,1732 574,1830 606,1760 542,1705 558,1780 557,1708 548,1715 559,1854 554,1614 505,1796 533,1809 686,1652 566,1637 568,1614 530,1817 530,1734 611,1816 631,1651 549,1771 570,1802 575,1614 559,1804 548,1614 581,1614 529,1879 516,1628 587,1748 605,1721 565,1774 587,1860 632,1664 531,1614 573,1614 530,1645 570,1641 513,1771 646,1763 515,1758 567,1750 571,1805 555,1681 523,1780 530,1816 558,1698 539,1720 524,1862 582,1826 566,1644 527,1614 562,1828 495,1693 517,1682 591,1701 498,1860 662,1677 679,1614 623,1648 663,1655 575,1825 651,1667 564,1751 522,1889 536,1656 545,1614 620,1816 574,1778 537,1776 642,1752 526,1758 511,1831 592,1760 659,1784 692,1730 594,1641 551,1825 657,1614 554,1809 564,1707 490,1686 591,1734 612,1752 554,1780 517,1614 489,1811 486,1689 604,1767 512,1854 545,1773 620,1774 545,1625 508,1806 576,1793 629,1699 539,1860 595,1837 690,1767 664,1757 536,1880 514,1848 637,1733 612,1713 591,1806 512,1767 671,1795 613,1705 642,1756 555,1695 509,1835 659,1693 523,1700 498,1858 549,1639 571,1649 600,1714 514,1699 535,1867 694,1755 492,1852 640,1721 569,1725 592,1693 583,1782 644,1695 513,1727 536,1833 654,1797 514,1701 563,1655 541,1674 562,1632 653,1791 637,1696 550,1734 523,1757 575,1628 560,1722 591,1656 563,1642 571,1816 550,1891 566,1834 610,1802 554,1709 596,1790 533,1818 579,1677 534,1703 632,1745 667,1614 490,1621 632,1677 513,1816 518,1888 644,1724 556,1725 602,1777 637,1739 519,1817 639,1776 553,1644 541,1648 554,1736 679,1703 542,1662 644,1749 560,1637 555,1885 569,1843 644,1733 543,1621 584,1802 577,1855 546,1809 564,1614 574,1839 509,1812 513,1837 571,1620 663,1699 560,1685 631,1618 639,1791 568,1658 590,1799 547,1705 585,1614 605,1807 514,1787 533,1786 696,1621 609,1614 535,1774 517,1646 554,1747 603,1825 541,1810 641,1742 603,1722 608,1712 549,1614 577,1831 549,1679 671,1614 573,1845 630,1695 509,1887 547,1769 529,1624 534,1635 567,1740 532,1871 618,1781 504,1663 539,1649 595,1622 498,1838 579,1852 619,1643 561,1767 666,1751 566,1640 545,1799 565,1861 548,1719 495,1701 482,1808 545,1800 651,1737 596,1711 583,1824 536,1674 534,1803 547,1630 564,1742 524,1750 543,1683 643,1809 579,1763 494,1704 515,1741 545,1682 597,1827 523,1759 520,1835 507,1614 578,1614 554,1750 532,1845 643,1743 602,1760 708,1673 534,1909 648,1626 480,1614 560,1759 647,1614 514,1787 631,1614 625,1775 584,1839 574,1819 562,1864 692,1702 534,1706 531,1819 600,1809 537,1854 686,1737 688,1805 519,1798 537,1614 492,1839 542,1692 608,1796 565,1755 618,1614 594,1614 560,1614 564,1650 504,1656 643,1640 558,1775 686,1702 626,1674 529,1762 618,1715 551,1805 598,1738 601,1733 589,1657 536,1881 512,1798 605,1614 551,1757 488,1730 612,1768 579,1734 574,1680 508,1817 605,1715 554,1766 518,1749 588,1787 566,1801 562,1687 659,1739 561,1698 643,1809 577,1790 546,1715 566,1866 550,1693 535,1877 596,1675 639,1639 565,1739 600,1748 615,1772 595,1824 709,1739 500,1755 668,1807 568,1857 664,1804 687,1753 616,1614 507,1856 551,1671 623,1737 568,1828 517,1735 558,1837 511,1709 577,1749 552,1742 533,1876 590,1640 527,1775 543,1704 688,1701 558,1777 645,1728 580,1634 524,1673 599,1685 521,1711 656,1807 637,1825 642,1691 538,1739 532,1711 565,1794 563,1638 539,1747 543,1745 516,1680 536,1653 532,1725 684,1788 577,1614 601,1740 564,1684 608,1782 571,1677 666,1764 519,1812 665,1797 570,1760 584,1729 558,1863 605,1835 473,1725 558,1872 682,1704 611,1619 489,1784 570,1710 575,1772 572,1860 657,1734 559,1866 496,1697 643,1654 541,1837 570,1826 545,1866 623,1743 548,1871 601,1671 577,1844 609,1796 603,1614 608,1827 546,1864 548,1645 647,1814 660,1614 518,1662 554,1812 525,1614 554,1753 555,1622 628,1657 683,1614 689,1772 542,1692 653,1669 588,1787 567,1622 586,1797 632,1703 543,1805 512,1876 630,1832 496,1815 542,1660 552,1891 533,1689 551,1614 561,1808 606,1775 555,1749 671,1704 660,1666 604,1623 639,1691 607,1801 505,1614 652,1733 582,1614 546,1881 476,1754 510,1631 653,1704 522,1635 550,1614 539,1614 554,1754 553,1887" fill="none" stroke="none" marker-start="url(#m_lncRNA)" marker-mid="url(#m_lncRNA)" marker-end="url(#m_lncRNA)"/>
<polyline points="390.2,1619.4 393.9,1636.1 404.7,1696.9 431.3,1635.1 445.8,1634.9 466.6,1632.2 391.4,1792.9 427.1,2068.1 409.5,1668.1 391.7,1617.7 393.5,1738.1 409.9,1743.1 469.5,1640.9 420.5,1641.9 464.7,1632.8 411.5,1646.5 462.3,1613.7 442.2,1629.5 419.5,1965.7 454.2,1732.3 398.6,1765.1 455.8,1662.5 382.3,1679.6 409.4,1922.2 410.0,1858.5 427.3,1613.7 452.6,1828.6 395.8,1653.9 438.1,2001.2 476.7,1698.8 385.2,1670.9 397.4,1621.7 444.6,1675.2 426.8,1698.0 418.4,1690.7 398.6,1679.6 454.2,1696.1 401.6,1678.4 384.5,1624.5 412.4,1627.5 395.2,1739.8 445.4,1613.7 428.7,1782.9 396.0,1667.5 407.1,1674.0 415.1,1970.0 441.5,1681.8 449.2,1619.1 392.5,1756.4 395.9,1750.1 396.8,1741.8 392.1,1631.1 433.0,1748.4 412.4,1615.5 449.6,1889.8 384.9,1616.4 397.4,1664.6 473.5,1618.6 423.8,1613.7 458.5,1620.5 426.7,1723.5 392.4,1629.9 454.6,1781.6 393.7,1700.8 390.9,1624.7 454.9,1655.2 429.5,1627.8 465.6,1615.4 422.7,1738.1 427.4,1796.0 460.6,1670.7 442.2,1615.1 391.5,1626.8 387.3,1680.2 389.5,1613.7 424.2,1646.6 400.0,1646.0 393.7,1616.4 396.5,1691.2 434.3,1624.5 402.5,1738.0 461.5,1613.7 459.7,1652.5 395.8,1646.1 428.6,1740.8 463.1,1689.2 426.9,1625.7 466.0,1831.3 427.8,1652.5 407.9,1766.8 393.7,1718.4 450.2,1747.9 459.6,1699.5 390.1,1626.3 425.1,1655.6 441.7,1692.7 457.9,1867.9 394.2,1618.4 396.6,1635.5 449.3,1767.7 401.3,1662.0 430.0,1647.4 462.4,1717.7 423.6,1642.4 393.0,1653.4 392.6,1657.2 436.8,1900.2 452.5,1616.9 399.2,1686.9 425.0,1845.0 420.3,1708.4 396.2,1663.1 440.4,1747.0 449.4,1638.5 461.5,1754.5 462.4,1662.2 465.6,1673.9 452.4,1633.0 406.1,1695.6 454.5,1706.4 422.7,1613.7 435.0,1831.1 462.4,1619.3 454.6,1702.4 423.4,1645.4 423.8,1657.9 396.1,1651.7 415.4,1613.7 444.8,1821.4 424.1,1687.1 396.4,1759.6 430.8,1776.3 411.1,1741.4 396.6,1818.8 393.8,1649.8 464.6,1655.9 418.0,1705.1 388.7,1735.0 436.9,1654.5 401.1,1823.0 391.8,1652.2 410.4,1654.4 453.4,1664.1 400.2,1633.6 428.2,1624.7 393.2,1754.1 415.8,1631.0 440.4,1633.2 457.3,1769.1 448.9,1649.5 452.3,1737.6 394.0,1759.9 461.8,1708.1 391.0,1717.5 437.4,1817.8 448.9,1761.6 461.3,1618.3 399.8,1714.1 450.5,1613.7 393.5,1808.2 428.2,2016.6 393.7,1698.1 456.3,1626.1 422.9,1613.7 382.3,1667.7 391.8,1805.5 402.4,1655.8 411.2,1666.6 411.3,1723.9 397.8,1645.0 454.7,1634.9 444.8,1728.4 425.7,1648.4 467.1,1743.0 457.2,1615.0 429.9,1843.2 401.8,1625.1 425.5,1629.3 389.9,1733.7 428.9,1779.7 453.3,1730.7 452.9,1819.7 404.2,1906.7 461.8,1702.1 431.7,1662.7 387.8,1722.6 388.4,1735.4 421.8,1643.2 388.0,1658.6 459.7,1616.2 390.9,1613.7 429.7,1708.6 394.3,1763.1 396.7,1670.6 447.6,1698.2 389.0,1647.9 464.9,1652.3 418.9,1673.9 441.5,1665.2 452.3,1935.6 457.9,1893.5 451.6,1661.4 464.2,1691.3 387.3,1616.5 400.5,1663.1 445.3,1636.1 424.8,1650.0 456.5,1632.1 415.8,1716.6 412.2,1613.7 434.2,1640.9 421.0,1613.7 395.2,1669.7 445.6,1643.4 419.9,1613.7 451.6,1823.9 460.0,1717.9 465.0,1636.8 427.1,1620.8 402.1,1741.0 386.0,1732.5 456.6,1638.3 387.7,1743.0 398.0,1696.9 438.0,1641.3 461.5,1768.3 403.0,1617.1 393.0,1640.2 456.5,1912.4 446.0,1614.1 453.5,1825.5 399.5,1668.3 395.7,1637.1 459.8,1613.7 459.9,1706.2 399.5,1707.7 399.4,1623.0 445.1,1747.0 447.6,1623.8 448.7,1783.8 391.6,1613.7 426.1,1811.6 401.3,1688.4 459.7,1620.3 396.1,1644.5 426.5,1613.7 392.7,1648.8 416.6,1732.4 460.9,1756.6 394.7,1739.6 432.3,1802.6 399.2,1849.0 415.5,1833.0 430.3,1774.3 391.3,1741.5 397.2,1642.0 394.4,1716.2 399.4,1613.7 420.5,1680.4 454.9,1613.7 436.4,1676.2 404.8,1677.1 392.1,1737.8 382.0,1731.4 381.6,1613.7 430.8,1793.0 396.4,1684.3 391.2,1783.8 448.2,1781.4 443.9,1648.2 455.7,1774.9 418.6,1616.7 446.4,1647.1 423.9,1642.9 455.7,1801.4 393.7,1793.9 443.2,1676.8 414.0,1977.1 473.2,1741.3 470.2,1648.4 397.1,1630.1 449.1,1659.4 449.7,1710.7 453.8,1708.7 457.2,1754.6 409.9,1840.0 392.7,1614.9 391.8,1616.3 459.3,1613.7 440.1,1637.7 455.9,1623.0 395.7,1643.5 411.7,1644.8 386.3,1787.2 393.3,1613.7 457.6,1734.9 448.8,1633.6 426.3,1745.2 399.3,1673.3 396.3,1619.8 415.8,1662.7 402.4,1628.1 425.0,1753.4 436.6,1703.2 414.0,1624.1 391.8,1633.0 453.2,1726.7 431.9,1768.0 432.7,1657.9 428.5,1967.7 431.3,1630.1 395.7,1716.9 422.8,1703.8 450.5,1685.7 462.9,1728.2 381.9,1741.5 448.1,1648.1 415.4,1974.2 448.3,1955.9 460.8,1641.3 393.4,1819.2 455.4,1772.8 389.1,1613.7 424.4,1676.9 455.4,1799.1 410.6,1700.3 451.1,1613.7 395.6,1818.7 422.3,1896.7 429.1,1806.3 423.5,1634.9 425.2,1613.7 395.1,1722.5 442.4,1724.5 434.3,1664.8 419.9,1805.5 395.5,1824.1 447.5,1619.0 393.4,1744.6 437.4,1650.6 394.0,1621.0 410.2,1758.0 402.1,1659.1 461.1,1666.4 391.7,1699.4 464.2,1701.0 402.1,1620.7 416.2,1688.2 434.4,1613.7 462.3,1653.7 420.0,1631.1 423.3,1624.2 391.3,1613.7 444.2,1663.2 397.7,1740.7 451.4,1930.5 391.2,1689.1 435.4,1789.9 458.4,1743.7 434.5,1681.1 386.8,1631.5 412.5,1648.1 397.2,1639.7 445.6,1956.1 429.6,1635.5 417.4,1625.0 416.3,1623.6 462.1,1658.4 418.5,1744.8 445.5,1671.0 419.5,1721.6 413.4,1699.4 422.0,1852.9 459.0,1633.7 390.2,1715.5 428.5,2042.4 401.6,1619.0 457.6,1805.6 455.3,1770.0 461.0,1613.7 442.8,1657.9 400.9,1615.6 462.5,1635.2 465.6,1668.5 461.2,1688.5 399.3,1659.9 415.2,1925.1 409.0,1749.8 425.2,1724.4 449.8,1645.7 395.4,1828.1 411.0,1910.3 463.7,1632.6 398.3,1694.3 463.5,1636.6 398.3,1618.4 457.6,1677.0 443.5,1645.3 446.2,1705.1 468.1,1772.6 448.9,1750.0 450.4,1646.4 449.5,1614.3 429.8,1894.0 447.7,1712.0 424.6,1623.9 412.6,1613.7 445.0,1969.5 441.7,1631.0 437.6,1770.4 412.1,1838.4 402.6,1710.3 427.8,1692.6 432.2,1630.6 390.7,1633.4 417.2,1801.0 431.1,1711.6 416.3,1758.7 414.6,1641.9 454.5,1651.3 392.9,1661.4 391.5,1710.7 396.3,1613.7 429.5,1651.1 395.8,1819.4 454.6,1787.0 422.4,1972.7 402.2,1615.5 472.7,1736.1 449.6,1826.9 433.1,1637.6 408.1,1691.1 415.7,1714.1 442.2,1731.4 398.7,1821.9 453.6,1631.4 431.9,1646.1 463.7,1657.3 391.0,1686.4 431.9,1646.1 461.9,1751.1 466.4,1760.7 456.4,1762.2 418.2,1640.4 458.6,1680.9 419.4,1696.0 460.2,1709.8 439.5,1613.7 445.8,1673.2 411.0,1647.5 425.0,1847.6 391.9,1668.2 424.8,1690.6 457.6,1632.9 389.1,1653.3 449.4,1616.1 406.4,1615.8 440.6,1613.7 395.7,1613.7 456.3,1709.7 418.6,1640.3 397.4,1775.6 452.9,1614.3 397.0,1721.0 461.5,1613.7 427.2,1713.9 449.8,1613.7 390.8,1620.7 430.8,1636.5 423.4,1668.9 410.9,1944.0 423.6,1771.0 390.6,1657.9 420.7,1616.5 414.9,1694.0 395.6,1672.6 448.6,1882.4 401.9,1636.9 445.6,1636.3 430.6,1653.8 442.8,1704.3 397.5,1653.9 458.1,1878.3 393.0,1645.0 452.3,1697.7 435.8,1718.4 453.6,1911.4 463.7,1717.1 415.5,1661.7 392.2,1730.7 433.6,2072.4 391.8,1634.5 429.6,1624.3 451.3,1825.1 420.2,1633.2 394.1,1613.7 433.5,1639.8 423.2,1676.9 393.0,1644.9 425.5,1626.8 433.5,1873.5 421.7,1731.5 397.4,1618.7 458.8,1636.5 395.3,1613.7 386.1,1645.7 429.0,1618.0 393.9,1763.5 425.2,1830.9 454.7,1615.1 415.2,1699.7 465.3,1667.1 430.3,1664.2 403.4,1677.2 404.2,1778.4 417.2,1770.6 389.1,1617.6 386.1,1631.8 468.4,1835.0 384.3,1642.7 380.7,1811.3 459.2,1694.3 432.1,1651.2 414.2,1630.5 428.1,1899.2 392.7,1663.7 423.1,1613.7 418.8,1767.5 447.4,1734.1 388.7,1676.3 387.6,1654.3 405.0,1646.6 444.0,1872.9 421.7,1668.0 422.1,1740.2 458.0,1678.6 460.5,1827.9 423.7,1749.7 398.1,1637.3 416.4,1787.2 437.6,1826.2 455.3,1715.8 465.5,1683.4 415.0,1763.1 453.2,1748.8 421.3,1629.7 459.6,1629.8 449.6,1921.7 427.9,1635.4 397.5,1622.8 421.0,1660.5 458.2,1637.3 419.8,1688.4 391.8,1648.5 429.3,1619.4 435.2,1615.3 432.9,1664.1 394.6,1647.0 403.8,1613.7 443.2,1649.7 399.5,1688.4 412.6,1665.0 392.8,1721.5 433.6,1613.7 390.8,1695.0 436.3,1613.7 470.6,1627.4 415.8,1652.8 434.2,1684.3 401.7,1879.7 433.3,1664.5 407.6,1696.9 401.2,1822.1 433.0,1627.5 404.6,1899.8 389.5,1633.2 454.7,1632.6 452.3,1613.7 455.0,1613.7 463.7,1816.4 442.7,1738.8 392.3,1631.7 417.9,1698.6 403.4,1699.9 430.6,1613.7 395.2,1613.7 385.5,1685.4 422.3,1665.8 426.6,1743.8 443.1,1632.7 457.3,1673.9 422.0,1637.1 395.0,1650.4 406.0,1740.0 418.0,1914.4 399.7,1758.4 398.9,1660.9 427.9,1613.7 399.8,1633.1 456.1,1757.3" fill="none" stroke="none" marker-start="url(#m_snRNA)" marker-mid="url(#m_snRNA)" marker-end="url(#m_snRNA)"/>
<polyline points="448.1,1682.0 421.7,1788.2 429.7,1635.7 419.6,1621.2 427.2,1701.0 419.2,1816.2 424.1,1692.8 427.8,1817.7 446.2,1678.2 416.2,1614.3 414.9,1713.1 421.8,1646.7 416.1,1719.0 415.8,1613.7 414.8,1613.7 424.0,1613.7 414.7,1629.0 426.2,1670.9 429.5,1614.7 423.6,1665.2 408.9,1648.4 443.1,1686.2 423.4,1668.0 429.1,1626.4 423.4,1613.7 436.3,1646.8 416.7,1652.4 422.7,1679.1 407.0,1622.6 424.6,1639.3 434.7,1628.9 419.9,1615.0 424.9,1631.5 434.5,1663.5 433.6,1619.5 426.7,1734.7 415.7,1691.4 418.3,1699.3 429.4,1656.7 426.5,1683.2 433.2,1697.2 431.3,1648.3 428.3,1627.9 413.0,1680.7 403.6,1626.5 430.4,1623.8 405.4,1615.1 426.3,1618.8 422.2,1645.1 438.1,1651.4 412.7,1820.4 417.5,1626.1 424.2,1613.7 417.6,1671.7 418.5,1696.4 428.7,1723.2 427.7,1770.0 415.9,1666.6 432.2,1640.1 431.9,1703.4 426.2,1613.7 415.1,1706.6 435.0,1622.3 412.1,1654.9 427.7,1888.7 432.9,1613.7 421.7,1725.1 431.6,1634.6 442.4,1630.4 439.7,1681.1 420.2,1705.2 408.2,1634.2 438.6,1833.1 428.5,1773.8 426.6,1613.7 414.8,1707.5 444.3,1754.7 429.3,1636.4 424.7,1613.7 435.7,1684.8 420.6,1787.2 422.7,1804.0 411.1,1615.3 436.5,1713.7 439.5,1635.6 428.8,1625.0 425.1,1776.1 422.3,1685.6 423.7,1683.9 412.3,1660.5 423.7,1635.4 422.8,1657.6 426.5,1738.0 433.1,1626.7 404.7,1613.7 435.6,1638.4 396.8,1615.9 423.4,1618.0 426.1,1630.1 431.3,1907.0 433.5,1841.9 432.5,1744.7 424.8,1751.7 423.3,1672.8 433.7,1695.8 415.0,1685.1 445.3,1658.9 427.2,1907.8 421.7,1681.3 438.2,1791.0 431.3,1625.7 421.3,1719.8 412.8,1653.8 424.2,1613.7 410.7,1662.5 432.9,1631.1 421.6,1964.6 442.0,1789.6 429.6,1642.6 429.3,1672.4 415.4,1634.5 421.9,1656.6 446.1,1903.5 415.7,1624.9 415.9,1632.2 415.4,1670.5 429.1,1801.6 438.9,1634.3 424.8,1690.0 437.2,1740.9 453.2,1658.1 426.3,1678.2 412.7,1716.6 426.5,1771.7 429.5,1633.8 422.4,1673.8 431.7,1617.3 422.0,1639.2 432.1,1626.7 411.3,1713.8 421.2,1671.5 428.4,1758.5 429.6,1654.1 429.8,1652.4 425.6,1661.1 429.5,1826.4 418.9,1763.1 428.7,1640.6 429.6,1613.7 430.1,1752.6 418.5,1660.7 403.1,1625.7 429.6,1827.7 429.4,1621.1 437.7,1752.3 421.2,1693.1 427.2,1939.7 422.8,1777.8 431.8,1711.1 402.5,1620.3 418.2,1741.5 416.7,1938.6 437.8,1993.4 430.6,1743.2 411.4,1698.3 407.0,1622.9 418.0,1676.4 415.6,1931.3 413.1,1629.4 432.7,1659.4 425.0,1613.7 434.4,1963.8 422.9,1691.6 427.6,1749.6 408.3,1669.6 443.6,1656.5 419.6,1732.8 411.3,1651.3 402.5,1613.7 404.0,1619.9 441.7,1659.6 433.8,1850.5 431.0,1636.4 427.2,1639.4 421.5,1631.4 431.6,1623.3 420.5,1637.0 425.7,1797.6 417.8,1622.2 433.2,1789.6 422.9,1795.3 409.8,1617.6 443.0,1639.1 432.4,1627.4 425.7,1613.7 419.8,1698.9 436.7,1714.7 441.3,1673.3 407.3,1652.8 438.6,1690.7 450.8,1620.6 423.0,1678.7 421.3,1802.3 422.4,1675.9 428.2,1613.7 439.7,1620.1 406.3,1714.7 418.5,1684.8 423.9,1641.2 421.8,1654.2 419.2,1697.5 431.7,1668.1 420.1,1716.5 418.2,1613.7 409.7,1622.2 442.3,1613.7 407.2,1670.4 435.0,1616.5 427.5,1903.5 425.3,1636.0 429.1,1660.9 416.2,1669.5 418.7,1630.1 433.4,1631.1 429.3,1628.6 429.7,1629.7 432.2,1656.3 432.6,1662.0 407.6,1698.2 429.1,2003.6 438.0,1655.6 440.3,1637.2 419.6,1637.6 428.5,1669.8 415.2,1793.8 450.9,1617.0 435.8,1663.8 423.0,1782.6 444.2,1613.7 406.2,1620.3 434.8,1664.2 428.8,1703.0 423.2,1668.1 405.8,1613.7 442.1,1613.7 426.4,1633.6 432.2,1649.2 415.1,1635.9 408.7,1662.6 421.5,1724.7 424.4,1674.4 430.7,1633.2 416.8,1896.4 423.0,1659.5 405.1,1622.1 407.8,1624.6 418.3,1834.9 408.4,1656.4 424.0,1633.7 422.4,1680.9 432.1,1618.7 425.3,1633.0 435.9,1691.7 416.6,1683.0 430.3,1624.4 425.6,1613.7 411.8,1678.8 404.0,1613.7 419.0,1629.9 443.8,1716.1 417.7,1636.7 420.0,1900.5 440.1,1710.8 428.1,1740.3 420.1,1658.0 414.1,1677.6 417.6,1683.1 433.8,1656.9 443.5,1942.7 415.2,1679.7 401.5,1706.9 440.5,1613.7 430.6,1630.0 411.7,1613.7 416.0,1679.5 423.4,1628.8 406.8,1618.9 424.3,1689.1 440.6,1657.6 433.7,1668.8 417.4,1613.7 427.4,1630.3 411.9,1747.6 413.8,1764.2 439.9,1629.3 437.8,1647.5 433.8,1737.4 422.6,1830.8 430.3,1634.4 419.0,1672.8 419.6,1613.7 444.8,1643.9 429.9,1683.4 437.8,1648.2 419.4,1773.8 428.1,1755.8 431.9,1685.7 433.1,1688.7 422.5,1663.9 429.7,1640.5 453.2,1625.0 415.5,1660.8 425.3,1704.9 434.9,1638.1 442.1,1618.4 415.2,1616.1 432.4,1622.3 416.3,1662.8 438.8,1732.2 430.2,1625.9 416.7,1701.9 434.0,1828.3 426.0,1613.7 436.5,1728.5 436.7,1613.7 425.3,1663.0 424.3,1830.6 429.1,1655.5 426.5,1899.1 429.5,1770.9 427.4,1667.9 439.8,1684.1 435.7,1691.9 440.9,1772.3 430.3,1894.6 426.2,1613.7 414.5,1620.4 443.6,1753.0 450.7,1648.2 418.3,1643.2 421.2,1620.3 397.4,1622.6 409.1,1657.7 439.5,1668.7 439.0,1694.6 450.8,1635.5 416.8,1657.8 447.9,1638.3 411.0,1614.8 421.4,1656.9 451.9,1749.3 442.5,1707.8 430.3,1645.7 421.1,1701.0 445.6,1637.8 406.5,1632.8 431.2,1688.1 418.5,1648.9 422.5,1624.4 428.7,1671.5 410.1,1625.9 403.4,1648.2 417.9,1722.7 421.7,1613.7 427.9,1762.9 435.4,1613.7 399.4,1631.8 422.2,1644.7 425.5,1753.7 414.1,1613.7 431.0,1675.3 420.1,1815.3 427.6,1618.3 447.6,1613.7 409.0,1745.5 420.1,1625.4 433.4,1738.1 424.1,1614.5 425.1,1613.9 448.7,1664.8 420.4,1998.7 409.6,1613.7 410.9,1618.2 422.0,1680.0 440.5,1641.1 412.0,1711.5 427.7,1966.4 425.5,1712.9 434.5,1720.8 431.6,1847.9 442.4,1739.8 409.8,1645.5 405.5,1641.6 425.8,1732.5 411.9,1648.1 403.6,1659.3 435.9,1723.3 421.8,1688.4 425.7,1619.4 432.7,1616.5 429.2,1772.3 421.4,1622.0 436.2,1864.2 438.1,1695.7 434.6,1625.4 423.0,1807.2 421.1,1613.7 420.7,1665.2 438.0,1621.2 444.6,1692.6 442.0,1933.4 418.7,1668.1 436.7,1613.7 437.3,1633.3 396.8,1621.8 427.7,1672.5 421.2,1667.8 433.5,1613.7 431.4,1625.5 417.4,1677.0 410.0,1613.7 437.5,1613.7 434.2,1615.4 401.3,1621.4 410.7,1702.9 434.1,1696.5 432.6,1849.4 410.3,1613.7 414.0,1640.7 442.5,1672.1 434.9,1685.9 415.7,1616.7 425.3,1724.3 424.0,1676.7 445.9,1620.8 428.2,1725.2 428.4,1672.8 422.3,1617.2 432.6,1673.2 427.1,1761.7 412.6,1692.1 402.9,1621.3 399.7,1677.9 441.9,1795.7 424.9,1613.7 402.8,1641.0 453.2,1721.5 402.9,1690.9 396.8,1659.7 429.2,1704.3 437.5,1613.7 422.6,1665.0 402.6,1675.5 437.8,1630.7 420.3,1626.0 429.9,1648.8 437.4,1613.7 440.7,1663.2 423.7,1647.0 412.2,1679.4 433.4,1613.7 409.1,1651.9 416.8,1822.4 443.4,1613.7 405.6,1810.8 422.9,1772.1 442.4,1642.5 420.2,1670.8 412.6,1640.0 425.4,1724.7 436.8,1778.9 440.2,1621.5 431.1,1720.3 407.3,1720.7 429.5,1651.7 426.5,1636.2 442.1,1626.1 396.8,1625.3 420.8,1644.4 435.0,1622.0 435.0,1838.9 396.8,1613.7 428.1,1646.7 427.6,1620.8 402.9,1613.7 432.1,1615.9 414.0,1613.7 423.2,1633.1 439.7,1663.3 424.9,1665.7 444.0,1658.8 416.0,1639.9 429.8,1638.9 424.8,1654.1 415.3,1618.0 414.8,1636.3 431.5,1615.8 441.3,1720.5 431.2,1613.7 428.6,1613.7 441.9,1931.9 417.6,1724.2 418.1,1915.7 431.2,1621.2 425.1,1640.3 396.8,1658.9 402.0,1614.0 437.0,1618.2 448.6,1738.9 433.9,1638.6 439.2,1633.6 416.3,1664.5 426.7,1699.1 420.8,1678.2 412.1,1642.6 420.2,1681.9 431.2,1661.9 438.1,1707.7 422.0,1613.7 435.1,1613.7 423.0,1613.7 414.9,1874.5 431.3,1781.5 429.3,1683.6 411.1,1676.9 443.4,1717.2 450.0,1944.3 433.9,1664.7 410.6,1760.1 402.4,1641.5 416.8,1621.5 433.9,1651.6 428.8,1648.6 408.2,1657.8 419.6,1647.9 434.0,1635.5 407.8,1619.3 426.4,1696.4 413.6,1613.7 422.0,1644.2 439.5,1657.8 428.3,1991.9 438.8,1614.4 407.4,1786.2 435.1,1677.7 424.0,1890.6 431.2,1624.3 425.7,1747.4 441.3,1637.7 412.1,1669.0 397.7,1616.4 416.3,1659.4 426.6,1613.7 423.1,1653.9 420.4,1766.9 415.6,1763.8 417.3,1766.3 425.0,1725.6 412.1,1668.5 444.6,1637.7 414.1,1629.1 432.2,1624.1 427.9,1736.6 440.3,1720.2 431.0,1687.9 426.2,1645.1 436.0,1618.0 404.8,1613.7 411.6,1709.9 437.1,1631.5 432.9,1620.7 408.2,1613.7 405.3,1803.8 429.9,1615.1 438.7,1833.9 437.5,1636.8 433.9,1830.8 412.2,1630.1 428.4,1631.4 420.9,1613.7 427.7,1719.5 427.1,1842.7 434.1,2061.1 426.3,1933.4 411.6,1718.7 436.3,1743.7 453.2,1658.6 429.6,1632.0 419.8,1621.2 422.2,1680.7 443.2,1650.3 418.4,1715.9 426.4,1613.7 438.2,1619.6 438.8,1616.4 428.2,2004.5 410.1,1657.1 432.8,1681.9 414.7,1848.1 425.7,1619.5 427.8,1613.7 428.4,1732.2 413.8,1721.0 435.6,1644.7 434.9,1870.3 405.2,1635.1 436.8,1650.7 420.0,1877.2 426.3,1650.7 434.4,1838.0 425.2,1635.4 424.5,1613.7 425.7,1652.4 429.5,1694.6 427.0,1671.9 437.6,1642.7 406.7,1641.8 427.3,1735.4 441.6,1751.7 396.8,1613.7 423.8,1640.8 425.7,1891.7 410.9,1691.3 429.0,1843.6 417.8,1705.9 413.9,1917.9 425.3,1613.7 441.6,1653.9 428.8,1657.8 423.8,1613.7 412.8,1634.6 425.1,1617.1 427.8,1784.8 431.0,1785.0 410.5,1630.6 428.3,1623.2 432.4,1839.6 427.1,1620.8 421.9,1919.6 434.4,1686.6 435.5,1990.0 436.4,1829.1 439.6,1656.8 430.2,1680.8 425.7,1904.0 428.5,1656.0 416.8,1631.7 427.6,1672.2 421.3,1669.4 440.8,1647.8 407.1,1663.9 408.2,1613.7 426.0,1622.6 426.2,1656.5 431.1,1642.5 427.8,1713.8 416.9,1630.3 434.4,1704.6 429.1,1659.5 416.7,1644.4 403.2,1613.7 432.5,1690.9 416.5,1645.5 419.2,1692.2 421.5,1638.7 425.2,1626.4 404.5,1643.4 426.3,1613.7 411.9,1649.3 416.1,1791.3 426.4,1613.7 442.0,1799.7 427.0,1671.4 429.2,1631.4 431.0,1723.5 423.9,1649.4 417.0,1645.7 421.1,1741.5 423.2,1613.7 436.6,1613.7 447.6,1615.9 443.8,1613.7 406.6,1702.6 413.1,1613.7 429.8,1685.4 437.1,1647.3 430.8,1616.8 425.3,1721.0 439.4,1703.2 439.7,1683.1 430.9,1724.1 413.9,1708.1 418.8,1613.7 402.6,1613.7 436.8,1657.4 409.4,1785.0 423.1,1663.2 409.4,1740.8 428.3,1642.9 427.2,1737.5" fill="none" stroke="none" marker-start="url(#m_miRNA)" marker-mid="url(#m_miRNA)" marker-end="url(#m_miRNA)"/>
<polyline points="495.6,1613.9 378.7,1939.4 480.4,1614.2 484.3,1615.2 492.9,1614.7 446.3,1835.7 448.4,1970.0 445.1,1896.5 439.6,1899.9 444.7,1931.7 432.2,1715.4 445.0,1861.0 474.9,1615.3 444.4,1920.6 383.8,1614.8 446.6,1976.9 447.3,2018.4 445.7,1799.2 442.0,1943.5 445.5,1971.0 442.1,1882.1 443.2,1906.6 443.6,1652.6 442.4,1795.7 445.6,1981.6 447.2,1781.2 443.1,1857.5 380.7,1838.5 422.8,1783.5 394.1,1739.1 446.2,1936.8 445.1,1767.6 444.1,1810.7 495.0,1614.7 449.1,1932.0 414.6,1633.7 437.0,1793.5 445.5,1852.6 488.8,1615.1 447.4,1984.7 442.6,1873.5 429.3,1702.8 443.2,1798.9 445.1,1914.3 442.0,1613.7 486.6,1616.5 444.5,1665.1 487.0,1615.6 391.1,1731.1 443.6,1828.8 445.1,1887.0 442.5,1933.4 385.3,1665.5 447.4,1873.5 401.6,1687.9 445.3,1790.0 492.0,1616.4 404.2,1690.8 445.3,1982.4 445.2,1704.3 492.8,1618.5 449.1,1778.8 441.8,1925.1 442.5,1894.8 435.3,1706.2 443.2,1858.6 406.4,1682.5 444.6,1867.0 445.4,1806.9 485.5,1616.6 396.8,1802.5 441.9,1930.5 443.6,1856.7 443.7,1779.2 499.4,1613.9 445.0,2006.0 445.1,1817.5 417.0,1683.0 385.7,1754.0 446.9,1750.4 385.0,1774.5 442.9,1990.3 423.7,1718.3 445.7,1807.3 387.0,1793.6 444.0,2022.6 447.4,1823.9 445.9,1735.9 381.2,1744.2 485.6,1614.4 446.3,1818.8 495.8,1615.6 449.6,1890.7 448.1,1908.0 425.9,1721.1 444.1,1875.2 415.1,1684.2 444.1,1862.5 445.4,2018.0 442.7,1743.1 492.5,1615.9 443.8,1773.6 447.5,1971.1 448.8,1769.5 445.7,1894.7 494.4,1615.5 445.1,1867.2 392.4,1961.6 443.7,1789.7 412.2,1701.3" fill="none" stroke="none" marker-start="url(#m_snoRNA)" marker-mid="url(#m_snoRNA)" marker-end="url(#m_snoRNA)"/>
<polyline points="381.2,1658.4 365.5,1809.4 542.5,1781.5 438.8,1923.1 434.7,1932.7 419.1,2011.9 441.1,1926.2 433.7,1944.9 440.2,2009.7" fill="none" stroke="none" marker-start="url(#m_rRNA)" marker-mid="url(#m_rRNA)" marker-end="url(#m_rRNA)"/>
<polyline points="713.7,1613.7 726.1,1613.7 736.2,1615.6 763.5,1614.4 771.0,1619.3 778.5,1613.7 787.8,1613.7 784.1,1625.7 718.6,1628.7 724.2,1627.9 729.8,1636.2 733.5,1642.9 705.5,1656.8 701.7,1666.9 737.3,1687.5 800.9,1699.8 761.6,1718.5 756.0,1720.4 735.4,1724.2 727.9,1727.1 719.7,1731.6 890.1,1731.6 753.4,1754.1 777.7,1764.6 718.6,1761.6 737.3,1769.1 729.1,1776.6 713.0,1789.7 701.7,1799.0 716.7,1835.7 679.3,1847.7 666.2,1827.1 632.5,1875.0 600.6,1897.1 584.9,1900.9 570.7,1929.0 554.9,1990.7 534.4,1975.0 535.9,1964.9 522.0,1963.8 522.0,1952.5 477.1,1985.1 477.1,2009.5 498.8,2041.7 465.8,1962.7 467.7,1951.8 372.2,1869.1" fill="none" stroke="none" marker-start="url(#m_lncRNA)" marker-mid="url(#m_lncRNA)" marker-end="url(#m_lncRNA)"/>
<polyline points="304.5,1613.7 308.4,1613.7 308.4,1644.8 312.1,1613.7 312.1,1643.1 312.1,1672.6 315.5,1613.7 315.5,1641.7 315.5,1669.6 315.5,1697.6 318.9,1613.7 318.9,1640.3 318.9,1667.0 318.9,1693.6 318.9,1720.2 322.0,1613.7 322.0,1639.1 322.0,1664.5 322.0,1690.0 322.0,1715.4 322.0,1740.8 325.0,1613.7 325.0,1638.0 325.0,1662.3 325.0,1686.6 325.0,1711.0 325.0,1735.3 325.0,1759.6 327.9,1613.7 327.9,1637.0 327.9,1660.3 327.9,1683.6 327.9,1706.9 327.9,1730.2 327.9,1753.5 327.9,1776.8 330.7,1613.7 330.7,1636.1 330.7,1658.4 330.7,1680.8 330.7,1703.2 330.7,1725.5 330.7,1747.9 330.7,1770.3 330.7,1792.6 333.4,1613.7 333.4,1635.2 333.4,1656.7 333.4,1678.2 333.4,1699.7 333.4,1721.2 333.4,1742.7 333.4,1764.3 333.4,1785.8 333.4,1807.3 336.0,1613.7 336.0,1634.4 336.0,1655.1 336.0,1675.8 336.0,1696.5 336.0,1717.3 336.0,1738.0 336.0,1758.7 336.0,1779.4 336.0,1800.1 336.0,1820.8 338.4,1613.7 338.4,1633.7 338.4,1653.6 338.4,1673.6 338.4,1693.6 338.4,1713.6 338.4,1733.5 338.4,1753.5 338.4,1773.5 338.4,1793.4 338.4,1813.4 338.4,1833.4 340.8,1613.7 340.8,1633.0 340.8,1652.3 340.8,1671.5 340.8,1690.8 340.8,1710.1 340.8,1729.4 340.8,1748.7 340.8,1768.0 340.8,1787.2 340.8,1806.5 340.8,1825.8 340.8,1845.1 343.1,1613.7 343.1,1632.3 343.1,1651.0 343.1,1669.6 343.1,1688.3 343.1,1706.9 343.1,1725.5 343.1,1744.2 343.1,1762.8 343.1,1781.5 343.1,1800.1 343.1,1818.7 343.1,1837.4 343.1,1856.0 345.3,1613.7 345.3,1631.7 345.3,1649.8 345.3,1667.8 345.3,1685.9 345.3,1703.9 345.3,1721.9 345.3,1740.0 345.3,1758.0 345.3,1776.0 345.3,1794.1 345.3,1812.1 345.3,1830.2 345.3,1848.2 345.3,1866.2 347.5,1613.7 347.5,1631.2 347.5,1648.7 347.5,1666.1 347.5,1683.6 347.5,1701.1 347.5,1718.5 347.5,1736.0 347.5,1753.5 347.5,1771.0 347.5,1788.5 347.5,1805.9 347.5,1823.4 347.5,1840.9 347.5,1858.3 347.5,1875.8 349.6,1613.7 349.6,1630.6 349.6,1647.6 349.6,1664.5 349.6,1681.5 349.6,1698.4 349.6,1715.4 349.6,1732.3 349.6,1749.3 349.6,1766.2 349.6,1783.2 349.6,1800.1 349.6,1817.0 349.6,1834.0 349.6,1850.9 349.6,1867.9" fill="none" stroke="none" marker-start="url(#m_piRNA)" marker-mid="url(#m_piRNA)" marker-end="url(#m_piRNA)"/>
<path d="M276.8 1591.0V2116.2H924.0" fill="none" stroke="#000" stroke-width="2.2" stroke-linecap="square"/>
<path d="M425.0 2116.2v5.5M581.6 2116.2v5.5M738.2 2116.2v5.5M894.8 2116.2v5.5M276.8 1613.7h-5.5M276.8 1753.5h-5.5M276.8 1893.3h-5.5M276.8 2033.1h-5.5" stroke="#333" stroke-width="2.2" fill="none"/>
<text x="425.0" y="2140.3" font-size="18.3" fill="#4d4d4d" text-anchor="middle" class="ls">1e+02</text>
<text x="581.6" y="2140.3" font-size="18.3" fill="#4d4d4d" text-anchor="middle" class="ls">1e+03</text>
<text x="738.2" y="2140.3" font-size="18.3" fill="#4d4d4d" text-anchor="middle" class="ls">1e+04</text>
<text x="894.8" y="2140.3" font-size="18.3" fill="#4d4d4d" text-anchor="middle" class="ls">1e+05</text>
<text x="265.8" y="1620.0" font-size="18.3" fill="#4d4d4d" text-anchor="end" class="ls">100</text>
<text x="265.8" y="1759.8" font-size="18.3" fill="#4d4d4d" text-anchor="end" class="ls">75</text>
<text x="265.8" y="1899.6" font-size="18.3" fill="#4d4d4d" text-anchor="end" class="ls">50</text>
<text x="265.8" y="2039.4" font-size="18.3" fill="#4d4d4d" text-anchor="end" class="ls">25</text>
<text x="596.9" y="2166.3" font-size="23" text-anchor="middle" class="ls">Sequence reference length</text>
<text transform="translate(223.5 1853.5) rotate(-90)" font-size="23" text-anchor="middle" class="ls">Percentage covered</text>
<text x="597.9" y="1461.5" font-size="27.75" text-anchor="middle" class="ls">Tabula muris senis cohort</text>
<text x="22.6" y="1712.3" font-size="23" class="ls">Molecule class</text>
<circle cx="41.4" cy="1743.9" r="3.9" fill="#1f77b4" fill-opacity=".42" stroke="#1f77b4" stroke-opacity=".5" stroke-width="1.8"/>
<text x="70.8" y="1750.4" font-size="18.2" class="ls">lncRNA</text>
<circle cx="41.4" cy="1779.9" r="3.9" fill="#ff7f0e" fill-opacity=".42" stroke="#ff7f0e" stroke-opacity=".5" stroke-width="1.8"/>
<text x="70.8" y="1786.4" font-size="18.2" class="ls">miRNA</text>
<circle cx="41.4" cy="1815.8" r="3.9" fill="#2ca02c" fill-opacity=".42" stroke="#2ca02c" stroke-opacity=".5" stroke-width="1.8"/>
<text x="70.8" y="1822.3" font-size="18.2" class="ls">piRNA</text>
<circle cx="41.4" cy="1851.8" r="3.9" fill="#d62728" fill-opacity=".42" stroke="#d62728" stroke-opacity=".5" stroke-width="1.8"/>
<text x="70.8" y="1858.2" font-size="18.2" class="ls">rRNA</text>
<circle cx="41.4" cy="1887.7" r="3.9" fill="#9467bd" fill-opacity=".42" stroke="#9467bd" stroke-opacity=".5" stroke-width="1.8"/>
<text x="70.8" y="1894.2" font-size="18.2" class="ls">scaRNA</text>
<circle cx="41.4" cy="1923.7" r="3.9" fill="#8c564b" fill-opacity=".42" stroke="#8c564b" stroke-opacity=".5" stroke-width="1.8"/>
<text x="70.8" y="1930.2" font-size="18.2" class="ls">snoRNA</text>
<circle cx="41.4" cy="1959.6" r="3.9" fill="#e377c2" fill-opacity=".42" stroke="#e377c2" stroke-opacity=".5" stroke-width="1.8"/>
<text x="70.8" y="1966.1" font-size="18.2" class="ls">snRNA</text>
<circle cx="41.4" cy="1995.6" r="3.9" fill="#7f7f7f" fill-opacity=".42" stroke="#7f7f7f" stroke-opacity=".5" stroke-width="1.8"/>
<text x="70.8" y="2002.1" font-size="18.2" class="ls">tRNA</text>
<path d="M455.0 1584.8C456.2 1583.5 460.3 1578.2 462.5 1577.1C464.7 1576.0 466.3 1577.7 468.0 1578.0C469.7 1578.4 470.8 1579.0 472.8 1579.0C474.8 1579.0 477.7 1578.5 480.0 1578.0C482.3 1577.6 484.3 1577.4 486.5 1576.1C488.7 1574.8 490.7 1572.7 493.0 1570.3C495.3 1567.9 498.0 1565.3 500.3 1561.6C502.6 1557.9 504.7 1552.8 507.0 1548.1C509.3 1543.5 511.7 1538.5 514.0 1533.7C516.3 1528.8 518.7 1523.7 521.0 1519.2C523.3 1514.7 526.0 1509.0 527.7 1506.6C529.4 1504.2 529.6 1505.3 531.0 1504.7C532.4 1504.1 534.3 1503.9 536.0 1502.8C537.7 1501.6 539.2 1499.9 541.0 1498.0C542.8 1496.0 545.1 1492.8 547.0 1491.2C548.9 1489.6 550.7 1488.1 552.4 1488.3C554.1 1488.5 555.2 1489.6 557.0 1492.2C558.8 1494.7 561.0 1499.9 563.0 1503.7C565.0 1507.6 566.9 1511.8 569.0 1515.3C571.1 1518.9 573.6 1523.1 575.8 1525.0C578.0 1526.8 579.6 1526.2 582.0 1526.4C584.4 1526.7 587.0 1526.5 590.0 1526.4C593.0 1526.3 597.5 1526.5 599.8 1525.9C602.1 1525.4 602.6 1523.8 604.0 1523.0C605.4 1522.2 606.9 1520.8 608.4 1521.1C609.9 1521.4 611.4 1523.2 613.0 1525.0C614.6 1526.7 616.2 1529.6 618.0 1531.7C619.8 1533.8 621.8 1536.2 623.8 1537.5C625.8 1538.8 627.7 1538.8 630.0 1539.4C632.3 1540.1 634.8 1539.9 637.5 1541.4C640.2 1542.8 643.1 1545.9 646.0 1548.1C648.9 1550.4 651.9 1552.6 654.7 1554.9C657.5 1557.1 660.1 1559.4 663.0 1561.6C665.9 1563.9 669.1 1566.3 671.9 1568.4C674.7 1570.5 677.1 1572.4 680.0 1574.2C682.9 1576.0 686.0 1577.6 689.0 1579.0C692.0 1580.4 695.2 1581.6 698.0 1582.4C700.8 1583.2 702.3 1583.4 706.0 1583.8C709.7 1584.2 717.7 1584.6 720.0 1584.8Z" fill="#1f77b4" fill-opacity="0.45" stroke="none"/>
<path d="M318.0 1584.8L322.0 1583.8L326.0 1581.9L329.0 1580.0L331.0 1571.3L333.0 1569.4L334.5 1565.5L336.5 1562.6L338.0 1555.8L339.5 1548.1L340.5 1541.4L341.5 1543.3L342.0 1526.9L342.8 1507.6L343.5 1488.3L344.5 1488.3L345.0 1507.6L345.5 1526.9L346.0 1544.3L347.0 1542.3L347.5 1560.7L348.5 1577.1L349.5 1580.0L350.5 1584.8Z" fill="#2ca02c" fill-opacity="0.4" stroke="none"/>
<path d="M398.0 1584.8L400.7 1581.9L402.0 1546.2L403.4 1488.3L404.6 1541.4L405.8 1577.1L407.0 1582.9L410.0 1584.8Z" fill="#7f7f7f" fill-opacity="0.5" stroke="none"/>
<path d="M385.0 1584.8C385.8 1584.2 388.7 1581.3 390.0 1580.9C391.3 1580.6 391.3 1582.7 393.0 1582.9C394.7 1583.0 397.2 1582.4 400.0 1581.9C402.8 1581.4 407.0 1580.8 410.0 1580.0C413.0 1579.2 415.7 1578.5 418.0 1577.1C420.3 1575.6 422.6 1576.4 424.0 1571.3C425.4 1566.1 425.8 1556.8 426.5 1546.2C427.2 1535.6 427.5 1517.2 428.0 1507.6C428.5 1497.9 429.0 1487.5 429.5 1488.3C430.0 1489.1 430.5 1502.8 431.0 1512.4C431.5 1522.1 432.0 1537.4 432.5 1546.2C433.0 1555.0 433.2 1561.0 434.0 1565.5C434.8 1570.0 435.7 1571.3 437.0 1573.2C438.3 1575.2 440.3 1576.0 442.0 1577.1C443.7 1578.2 445.3 1579.8 447.0 1580.0C448.7 1580.1 450.5 1578.8 452.0 1578.0C453.5 1577.2 455.0 1574.8 456.0 1575.1C457.0 1575.5 457.0 1579.7 458.0 1580.0C459.0 1580.3 461.0 1576.8 462.0 1577.1C463.0 1577.4 462.7 1580.9 464.0 1581.9C465.3 1582.9 467.3 1582.4 470.0 1582.9C472.7 1583.4 478.3 1584.5 480.0 1584.8Z" fill="#e377c2" fill-opacity="0.4" stroke="none"/>
<path d="M390.0 1584.8C391.0 1583.8 394.3 1581.3 396.0 1579.0C397.7 1576.8 398.7 1574.2 400.0 1571.3C401.3 1568.4 402.6 1564.4 404.0 1561.6C405.4 1558.9 407.0 1555.2 408.2 1554.9C409.4 1554.6 410.0 1557.8 411.0 1559.7C412.0 1561.6 413.0 1564.9 414.0 1566.5C415.0 1568.1 416.1 1569.2 417.0 1569.4C417.9 1569.5 418.7 1567.3 419.5 1567.4C420.3 1567.6 421.2 1569.0 422.0 1570.3C422.8 1571.6 423.0 1574.7 424.0 1575.1C425.0 1575.6 426.8 1572.9 428.0 1573.2C429.2 1573.5 429.7 1576.0 431.0 1577.1C432.3 1578.2 434.2 1579.2 436.0 1580.0C437.8 1580.8 439.7 1581.4 442.0 1581.9C444.3 1582.4 445.3 1582.5 450.0 1582.9C454.7 1583.2 465.8 1583.8 470.0 1583.8C474.2 1583.8 473.3 1582.9 475.0 1582.9C476.7 1582.9 478.3 1583.5 480.0 1583.8C481.7 1584.2 484.2 1584.6 485.0 1584.8Z" fill="#8c564b" fill-opacity="0.25" stroke="none"/>
<path d="M398.0 1584.8C400.0 1584.2 406.3 1581.9 410.0 1580.9C413.7 1580.0 417.0 1579.7 420.0 1579.0C423.0 1578.4 425.7 1578.4 428.0 1577.1C430.3 1575.8 432.3 1576.4 434.0 1571.3C435.7 1566.1 437.0 1555.2 438.0 1546.2C439.0 1537.2 439.3 1525.6 440.0 1517.2C440.7 1508.9 441.3 1500.8 442.0 1496.0C442.7 1491.2 443.2 1488.3 444.0 1488.3C444.8 1488.3 445.7 1490.4 446.5 1496.0C447.3 1501.6 448.2 1512.9 449.0 1522.1C449.8 1531.2 450.8 1542.5 451.5 1551.0C452.2 1559.5 452.8 1568.4 453.5 1573.2C454.2 1578.0 454.9 1578.5 456.0 1580.0C457.1 1581.4 457.7 1581.4 460.0 1581.9C462.3 1582.4 465.8 1582.7 470.0 1582.9C474.2 1583.0 482.0 1583.5 485.0 1582.9C488.0 1582.2 487.1 1581.3 488.0 1579.0C488.9 1576.8 489.7 1571.9 490.5 1569.4C491.3 1566.8 492.2 1563.4 493.0 1563.6C493.8 1563.7 494.7 1567.8 495.5 1570.3C496.3 1572.9 497.2 1576.9 498.0 1579.0C498.8 1581.1 498.8 1582.1 500.0 1582.9C501.2 1583.7 503.7 1584.0 505.0 1583.8C506.3 1583.7 506.8 1582.5 508.0 1581.9C509.2 1581.3 510.7 1580.6 512.0 1580.5C513.3 1580.3 514.7 1581.0 516.0 1580.9C517.3 1580.9 518.8 1579.8 520.0 1580.0C521.2 1580.1 522.0 1581.1 523.0 1581.9C524.0 1582.7 525.5 1584.3 526.0 1584.8Z" fill="#9467bd" fill-opacity="0.55" stroke="none"/>
<path d="M412.0 1584.8C413.3 1584.0 417.7 1581.9 420.0 1580.0C422.3 1578.0 424.3 1577.2 426.0 1573.2C427.7 1569.2 428.8 1563.6 430.0 1555.8C431.2 1548.1 432.1 1536.5 433.0 1526.9C433.9 1517.2 434.9 1504.4 435.5 1498.0C436.1 1491.5 436.4 1487.5 436.8 1488.3C437.2 1489.1 437.5 1493.9 438.0 1502.8C438.5 1511.6 439.3 1530.6 440.0 1541.4C440.7 1552.2 441.2 1561.5 442.0 1567.4C442.8 1573.4 443.7 1574.7 445.0 1577.1C446.3 1579.5 448.3 1580.6 450.0 1581.9C451.7 1583.2 454.2 1584.3 455.0 1584.8Z" fill="#d62728" fill-opacity="0.35" stroke="none"/>
<path d="M396.0 1584.8C397.5 1584.3 402.5 1583.2 405.0 1581.9C407.5 1580.6 409.6 1581.4 410.9 1577.1C412.2 1572.7 412.3 1565.8 413.0 1555.8C413.7 1545.9 414.3 1528.5 415.0 1517.2C415.7 1506.0 416.6 1489.1 417.4 1488.3C418.1 1487.5 418.7 1502.8 419.5 1512.4C420.3 1522.1 421.2 1536.5 422.0 1546.2C422.8 1555.9 423.7 1565.5 424.5 1570.3C425.3 1575.2 426.1 1575.6 427.0 1575.1C427.9 1574.7 429.2 1569.4 430.0 1567.4C430.8 1565.5 431.3 1563.1 432.0 1563.6C432.7 1564.1 433.0 1568.2 434.0 1570.3C435.0 1572.4 436.7 1574.5 438.0 1576.1C439.3 1577.7 440.7 1578.8 442.0 1580.0C443.3 1581.1 444.3 1582.1 446.0 1582.9C447.7 1583.7 451.0 1584.5 452.0 1584.8Z" fill="#ff7f0e" fill-opacity="0.4" stroke="none"/>
<path d="M455.0 1584.8C456.2 1583.5 460.3 1578.2 462.5 1577.1C464.7 1576.0 466.3 1577.7 468.0 1578.0C469.7 1578.4 470.8 1579.0 472.8 1579.0C474.8 1579.0 477.7 1578.5 480.0 1578.0C482.3 1577.6 484.3 1577.4 486.5 1576.1C488.7 1574.8 490.7 1572.7 493.0 1570.3C495.3 1567.9 498.0 1565.3 500.3 1561.6C502.6 1557.9 504.7 1552.8 507.0 1548.1C509.3 1543.5 511.7 1538.5 514.0 1533.7C516.3 1528.8 518.7 1523.7 521.0 1519.2C523.3 1514.7 526.0 1509.0 527.7 1506.6C529.4 1504.2 529.6 1505.3 531.0 1504.7C532.4 1504.1 534.3 1503.9 536.0 1502.8C537.7 1501.6 539.2 1499.9 541.0 1498.0C542.8 1496.0 545.1 1492.8 547.0 1491.2C548.9 1489.6 550.7 1488.1 552.4 1488.3C554.1 1488.5 555.2 1489.6 557.0 1492.2C558.8 1494.7 561.0 1499.9 563.0 1503.7C565.0 1507.6 566.9 1511.8 569.0 1515.3C571.1 1518.9 573.6 1523.1 575.8 1525.0C578.0 1526.8 579.6 1526.2 582.0 1526.4C584.4 1526.7 587.0 1526.5 590.0 1526.4C593.0 1526.3 597.5 1526.5 599.8 1525.9C602.1 1525.4 602.6 1523.8 604.0 1523.0C605.4 1522.2 606.9 1520.8 608.4 1521.1C609.9 1521.4 611.4 1523.2 613.0 1525.0C614.6 1526.7 616.2 1529.6 618.0 1531.7C619.8 1533.8 621.8 1536.2 623.8 1537.5C625.8 1538.8 627.7 1538.8 630.0 1539.4C632.3 1540.1 634.8 1539.9 637.5 1541.4C640.2 1542.8 643.1 1545.9 646.0 1548.1C648.9 1550.4 651.9 1552.6 654.7 1554.9C657.5 1557.1 660.1 1559.4 663.0 1561.6C665.9 1563.9 669.1 1566.3 671.9 1568.4C674.7 1570.5 677.1 1572.4 680.0 1574.2C682.9 1576.0 686.0 1577.6 689.0 1579.0C692.0 1580.4 695.2 1581.6 698.0 1582.4C700.8 1583.2 702.3 1583.4 706.0 1583.8C709.7 1584.2 717.7 1584.6 720.0 1584.8" fill="none" stroke="#1f77b4" stroke-width="2.0" stroke-linejoin="round"/>
<path d="M318.0 1584.8L322.0 1583.8L326.0 1581.9L329.0 1580.0L331.0 1571.3L333.0 1569.4L334.5 1565.5L336.5 1562.6L338.0 1555.8L339.5 1548.1L340.5 1541.4L341.5 1543.3L342.0 1526.9L342.8 1507.6L343.5 1488.3L344.5 1488.3L345.0 1507.6L345.5 1526.9L346.0 1544.3L347.0 1542.3L347.5 1560.7L348.5 1577.1L349.5 1580.0L350.5 1584.8" fill="none" stroke="#2ca02c" stroke-width="2.6" stroke-linejoin="round"/>
<path d="M398.0 1584.8L400.7 1581.9L402.0 1546.2L403.4 1488.3L404.6 1541.4L405.8 1577.1L407.0 1582.9L410.0 1584.8" fill="none" stroke="#7f7f7f" stroke-width="2.0" stroke-linejoin="round"/>
<path d="M385.0 1584.8C385.8 1584.2 388.7 1581.3 390.0 1580.9C391.3 1580.6 391.3 1582.7 393.0 1582.9C394.7 1583.0 397.2 1582.4 400.0 1581.9C402.8 1581.4 407.0 1580.8 410.0 1580.0C413.0 1579.2 415.7 1578.5 418.0 1577.1C420.3 1575.6 422.6 1576.4 424.0 1571.3C425.4 1566.1 425.8 1556.8 426.5 1546.2C427.2 1535.6 427.5 1517.2 428.0 1507.6C428.5 1497.9 429.0 1487.5 429.5 1488.3C430.0 1489.1 430.5 1502.8 431.0 1512.4C431.5 1522.1 432.0 1537.4 432.5 1546.2C433.0 1555.0 433.2 1561.0 434.0 1565.5C434.8 1570.0 435.7 1571.3 437.0 1573.2C438.3 1575.2 440.3 1576.0 442.0 1577.1C443.7 1578.2 445.3 1579.8 447.0 1580.0C448.7 1580.1 450.5 1578.8 452.0 1578.0C453.5 1577.2 455.0 1574.8 456.0 1575.1C457.0 1575.5 457.0 1579.7 458.0 1580.0C459.0 1580.3 461.0 1576.8 462.0 1577.1C463.0 1577.4 462.7 1580.9 464.0 1581.9C465.3 1582.9 467.3 1582.4 470.0 1582.9C472.7 1583.4 478.3 1584.5 480.0 1584.8" fill="none" stroke="#e377c2" stroke-width="2.0" stroke-linejoin="round"/>
<path d="M390.0 1584.8C391.0 1583.8 394.3 1581.3 396.0 1579.0C397.7 1576.8 398.7 1574.2 400.0 1571.3C401.3 1568.4 402.6 1564.4 404.0 1561.6C405.4 1558.9 407.0 1555.2 408.2 1554.9C409.4 1554.6 410.0 1557.8 411.0 1559.7C412.0 1561.6 413.0 1564.9 414.0 1566.5C415.0 1568.1 416.1 1569.2 417.0 1569.4C417.9 1569.5 418.7 1567.3 419.5 1567.4C420.3 1567.6 421.2 1569.0 422.0 1570.3C422.8 1571.6 423.0 1574.7 424.0 1575.1C425.0 1575.6 426.8 1572.9 428.0 1573.2C429.2 1573.5 429.7 1576.0 431.0 1577.1C432.3 1578.2 434.2 1579.2 436.0 1580.0C437.8 1580.8 439.7 1581.4 442.0 1581.9C444.3 1582.4 445.3 1582.5 450.0 1582.9C454.7 1583.2 465.8 1583.8 470.0 1583.8C474.2 1583.8 473.3 1582.9 475.0 1582.9C476.7 1582.9 478.3 1583.5 480.0 1583.8C481.7 1584.2 484.2 1584.6 485.0 1584.8" fill="none" stroke="#8c564b" stroke-width="2.0" stroke-linejoin="round"/>
<path d="M398.0 1584.8C400.0 1584.2 406.3 1581.9 410.0 1580.9C413.7 1580.0 417.0 1579.7 420.0 1579.0C423.0 1578.4 425.7 1578.4 428.0 1577.1C430.3 1575.8 432.3 1576.4 434.0 1571.3C435.7 1566.1 437.0 1555.2 438.0 1546.2C439.0 1537.2 439.3 1525.6 440.0 1517.2C440.7 1508.9 441.3 1500.8 442.0 1496.0C442.7 1491.2 443.2 1488.3 444.0 1488.3C444.8 1488.3 445.7 1490.4 446.5 1496.0C447.3 1501.6 448.2 1512.9 449.0 1522.1C449.8 1531.2 450.8 1542.5 451.5 1551.0C452.2 1559.5 452.8 1568.4 453.5 1573.2C454.2 1578.0 454.9 1578.5 456.0 1580.0C457.1 1581.4 457.7 1581.4 460.0 1581.9C462.3 1582.4 465.8 1582.7 470.0 1582.9C474.2 1583.0 482.0 1583.5 485.0 1582.9C488.0 1582.2 487.1 1581.3 488.0 1579.0C488.9 1576.8 489.7 1571.9 490.5 1569.4C491.3 1566.8 492.2 1563.4 493.0 1563.6C493.8 1563.7 494.7 1567.8 495.5 1570.3C496.3 1572.9 497.2 1576.9 498.0 1579.0C498.8 1581.1 498.8 1582.1 500.0 1582.9C501.2 1583.7 503.7 1584.0 505.0 1583.8C506.3 1583.7 506.8 1582.5 508.0 1581.9C509.2 1581.3 510.7 1580.6 512.0 1580.5C513.3 1580.3 514.7 1581.0 516.0 1580.9C517.3 1580.9 518.8 1579.8 520.0 1580.0C521.2 1580.1 522.0 1581.1 523.0 1581.9C524.0 1582.7 525.5 1584.3 526.0 1584.8" fill="none" stroke="#9467bd" stroke-width="2.0" stroke-linejoin="round"/>
<path d="M412.0 1584.8C413.3 1584.0 417.7 1581.9 420.0 1580.0C422.3 1578.0 424.3 1577.2 426.0 1573.2C427.7 1569.2 428.8 1563.6 430.0 1555.8C431.2 1548.1 432.1 1536.5 433.0 1526.9C433.9 1517.2 434.9 1504.4 435.5 1498.0C436.1 1491.5 436.4 1487.5 436.8 1488.3C437.2 1489.1 437.5 1493.9 438.0 1502.8C438.5 1511.6 439.3 1530.6 440.0 1541.4C440.7 1552.2 441.2 1561.5 442.0 1567.4C442.8 1573.4 443.7 1574.7 445.0 1577.1C446.3 1579.5 448.3 1580.6 450.0 1581.9C451.7 1583.2 454.2 1584.3 455.0 1584.8" fill="none" stroke="#d62728" stroke-width="2.0" stroke-linejoin="round"/>
<path d="M396.0 1584.8C397.5 1584.3 402.5 1583.2 405.0 1581.9C407.5 1580.6 409.6 1581.4 410.9 1577.1C412.2 1572.7 412.3 1565.8 413.0 1555.8C413.7 1545.9 414.3 1528.5 415.0 1517.2C415.7 1506.0 416.6 1489.1 417.4 1488.3C418.1 1487.5 418.7 1502.8 419.5 1512.4C420.3 1522.1 421.2 1536.5 422.0 1546.2C422.8 1555.9 423.7 1565.5 424.5 1570.3C425.3 1575.2 426.1 1575.6 427.0 1575.1C427.9 1574.7 429.2 1569.4 430.0 1567.4C430.8 1565.5 431.3 1563.1 432.0 1563.6C432.7 1564.1 433.0 1568.2 434.0 1570.3C435.0 1572.4 436.7 1574.5 438.0 1576.1C439.3 1577.7 440.7 1578.8 442.0 1580.0C443.3 1581.1 444.3 1582.1 446.0 1582.9C447.7 1583.7 451.0 1584.5 452.0 1584.8" fill="none" stroke="#ff7f0e" stroke-width="2.0" stroke-linejoin="round"/>
<path d="M304.6 1584.8H890.5" stroke="#ff7f0e" stroke-width="2.2"/>
<path d="M969.9 1614.1C971.0 1614.9 975.8 1616.9 976.4 1619.1C977.0 1621.3 975.2 1624.2 973.6 1627.5C971.9 1630.7 968.5 1634.5 966.6 1638.7C964.7 1642.8 963.2 1648.4 962.4 1652.6C961.6 1656.8 960.9 1660.5 961.6 1663.8C962.3 1667.1 964.4 1668.9 966.6 1672.2C968.8 1675.4 971.5 1678.7 975.0 1683.4C978.5 1688.0 982.4 1694.5 987.5 1700.1C992.7 1705.7 999.4 1710.8 1005.7 1716.9C1012.0 1722.9 1019.9 1730.4 1025.3 1736.4C1030.6 1742.5 1034.9 1748.1 1037.8 1753.2C1040.7 1758.3 1042.3 1762.5 1042.6 1767.2C1042.8 1771.8 1041.6 1776.5 1039.2 1781.1C1036.8 1785.8 1032.7 1790.9 1028.0 1795.1C1023.4 1799.3 1017.3 1802.8 1011.3 1806.3C1005.2 1809.7 998.2 1813.0 991.7 1816.0C985.2 1819.1 977.8 1821.6 972.2 1824.4C966.6 1827.2 962.2 1829.3 958.2 1832.8C954.3 1836.3 951.2 1840.9 948.4 1845.4C945.6 1849.8 943.5 1853.3 941.5 1859.3C939.4 1865.4 937.5 1874.2 935.9 1881.7C934.2 1889.1 932.8 1896.1 931.7 1904.0C930.5 1911.9 929.7 1918.0 928.9 1929.2C928.1 1940.3 927.5 1950.1 926.9 1971.1C926.4 1992.0 925.8 2040.9 925.5 2054.9L925.3 2054.9L925.3 1614.0Z" fill="#1f77b4" fill-opacity=".5"/>
<path d="M1016.9 1614.9C1014.5 1616.1 1008.0 1619.3 1002.9 1621.9C997.8 1624.5 991.3 1627.0 986.1 1630.3C981.0 1633.5 975.7 1637.3 972.2 1641.5C968.7 1645.6 966.8 1650.3 965.2 1655.4C963.6 1660.5 963.0 1666.1 962.4 1672.2C961.8 1678.2 961.8 1683.8 961.6 1691.7C961.3 1699.6 961.0 1710.4 961.0 1719.7C961.0 1729.0 960.6 1739.2 961.6 1747.6C962.5 1756.0 964.4 1763.4 966.6 1769.9C968.8 1776.5 970.8 1780.7 975.0 1786.7C979.2 1792.8 985.7 1800.7 991.7 1806.3C997.8 1811.8 1004.8 1816.0 1011.3 1820.2C1017.8 1824.4 1025.9 1828.1 1030.8 1831.4C1035.7 1834.7 1038.8 1837.2 1040.6 1839.8C1042.5 1842.3 1042.7 1844.7 1042.0 1846.8C1041.3 1848.9 1040.1 1850.5 1036.4 1852.3C1032.7 1854.2 1027.1 1855.8 1019.7 1857.9C1012.2 1860.0 1001.0 1862.6 991.7 1864.9C982.4 1867.2 971.2 1870.0 963.8 1871.9C956.4 1873.8 951.4 1874.7 947.0 1876.1C942.7 1877.5 939.4 1879.6 937.8 1880.3L925.3 1880.3L925.3 1614.0Z" fill="#2ca02c" fill-opacity=".5"/>
<path d="M1040.6 1614.1C1040.8 1615.8 1042.7 1621.1 1042.0 1624.7C1041.3 1628.3 1039.2 1632.1 1036.4 1635.9C1033.6 1639.6 1029.4 1643.3 1025.3 1647.0C1021.1 1650.8 1015.0 1655.0 1011.3 1658.2C1007.6 1661.5 1005.2 1663.3 1002.9 1666.6C1000.6 1669.9 999.2 1673.6 997.3 1677.8C995.5 1682.0 993.8 1687.1 991.7 1691.7C989.6 1696.4 987.1 1700.1 984.7 1705.7C982.4 1711.3 979.9 1718.3 977.8 1725.3C975.7 1732.2 974.0 1739.2 972.2 1747.6C970.3 1756.0 968.2 1766.2 966.6 1775.5C965.0 1784.8 964.3 1794.2 962.4 1803.5C960.5 1812.8 957.7 1822.1 955.4 1831.4C953.1 1840.7 950.2 1851.2 948.4 1859.3C946.7 1867.5 945.6 1873.3 944.8 1880.3C944.0 1887.3 944.7 1894.5 943.7 1901.2C942.7 1908.0 940.7 1914.3 938.7 1920.8C936.7 1927.3 933.4 1934.3 931.7 1940.3C929.9 1946.4 928.9 1947.3 928.0 1957.1C927.2 1966.9 926.8 1976.6 926.4 1999.0C925.9 2021.3 925.7 2075.8 925.5 2091.2L925.3 2091.2L925.3 1614.0Z" fill="#fff"/>
<path d="M1028.0 1614.1C1030.3 1615.4 1039.8 1618.7 1041.5 1621.9C1043.1 1625.1 1040.5 1629.3 1037.8 1633.1C1035.1 1636.8 1029.7 1640.5 1025.3 1644.2C1020.8 1648.0 1015.0 1652.2 1011.3 1655.4C1007.6 1658.7 1004.8 1660.5 1002.9 1663.8C1001.0 1667.1 1000.5 1671.7 1000.1 1675.0C999.7 1678.2 1001.1 1680.6 1000.7 1683.4C1000.2 1686.1 999.3 1688.5 997.3 1691.7C995.4 1695.0 992.7 1698.7 988.9 1702.9C985.2 1707.1 980.1 1711.8 975.0 1716.9C969.9 1722.0 963.3 1728.0 958.2 1733.6C953.1 1739.2 947.7 1743.4 944.2 1750.4C940.8 1757.4 938.9 1766.7 937.3 1775.5C935.6 1784.4 935.4 1789.5 934.5 1803.5C933.5 1817.4 932.6 1840.7 931.7 1859.3C930.7 1878.0 929.7 1891.9 928.9 1915.2C928.1 1938.5 927.5 1969.4 926.9 1999.0C926.4 2028.6 925.8 2077.0 925.5 2092.6L925.3 2092.6L925.3 1614.0Z" fill="#fff"/>
<clipPath id="clipR925"><path d="M1028.0 1614.1C1030.3 1615.4 1039.8 1618.7 1041.5 1621.9C1043.1 1625.1 1040.5 1629.3 1037.8 1633.1C1035.1 1636.8 1029.7 1640.5 1025.3 1644.2C1020.8 1648.0 1015.0 1652.2 1011.3 1655.4C1007.6 1658.7 1004.8 1660.5 1002.9 1663.8C1001.0 1667.1 1000.5 1671.7 1000.1 1675.0C999.7 1678.2 1001.1 1680.6 1000.7 1683.4C1000.2 1686.1 999.3 1688.5 997.3 1691.7C995.4 1695.0 992.7 1698.7 988.9 1702.9C985.2 1707.1 980.1 1711.8 975.0 1716.9C969.9 1722.0 963.3 1728.0 958.2 1733.6C953.1 1739.2 947.7 1743.4 944.2 1750.4C940.8 1757.4 938.9 1766.7 937.3 1775.5C935.6 1784.4 935.4 1789.5 934.5 1803.5C933.5 1817.4 932.6 1840.7 931.7 1859.3C930.7 1878.0 929.7 1891.9 928.9 1915.2C928.1 1938.5 927.5 1969.4 926.9 1999.0C926.4 2028.6 925.8 2077.0 925.5 2092.6L1065.3 2092.6L1065.3 1614.0Z"/></clipPath>
<path d="M1036.4 1614.1C1037.1 1614.9 1041.5 1616.4 1040.6 1619.1C1039.7 1621.8 1035.3 1626.8 1030.8 1630.3C1026.4 1633.8 1020.6 1636.3 1014.1 1640.1C1007.6 1643.8 997.8 1649.1 991.7 1652.6C985.7 1656.1 981.5 1658.2 977.8 1661.0C974.0 1663.8 972.2 1665.7 969.4 1669.4C966.6 1673.1 963.6 1678.7 961.0 1683.4C958.4 1688.0 956.1 1692.2 954.0 1697.3C951.9 1702.4 949.8 1708.0 948.4 1714.1C947.0 1720.1 946.2 1728.0 945.6 1733.6C945.0 1739.2 945.3 1740.6 944.8 1747.6C944.3 1754.6 943.6 1766.2 942.8 1775.5C942.1 1784.8 941.2 1789.5 940.1 1803.5C938.9 1817.4 937.5 1840.7 935.9 1859.3C934.2 1878.0 931.9 1891.9 930.3 1915.2C928.6 1938.5 926.9 1975.7 926.1 1999.0C925.3 2022.3 925.6 2045.5 925.5 2054.9L925.3 2054.9L925.3 1614.0Z" fill="#e377c2" fill-opacity=".5" clip-path="url(#clipR925)"/>
<path d="M1042.0 1614.1C1041.6 1615.4 1041.6 1618.7 1039.8 1621.9C1037.9 1625.1 1035.6 1629.3 1030.8 1633.1C1026.1 1636.8 1017.8 1640.5 1011.3 1644.2C1004.8 1648.0 997.8 1651.7 991.7 1655.4C985.7 1659.1 979.6 1662.4 975.0 1666.6C970.3 1670.8 967.1 1675.4 963.8 1680.6C960.5 1685.7 957.7 1691.7 955.4 1697.3C953.1 1702.9 951.3 1708.0 949.8 1714.1C948.3 1720.1 947.3 1727.1 946.5 1733.6C945.7 1740.1 945.7 1745.3 945.1 1753.2C944.5 1761.1 943.9 1770.4 942.8 1781.1C941.8 1791.8 940.1 1804.4 938.7 1817.4C937.3 1830.5 935.9 1845.4 934.5 1859.3C933.1 1873.3 931.4 1889.6 930.3 1901.2C929.2 1912.9 928.4 1924.5 928.0 1929.2L925.3 1929.2L925.3 1614.0Z" fill="#9467bd" fill-opacity=".5" clip-path="url(#clipR925)"/>
<path d="M1028.0 1614.1C1030.3 1615.4 1039.8 1618.7 1041.5 1621.9C1043.1 1625.1 1040.5 1629.3 1037.8 1633.1C1035.1 1636.8 1029.7 1640.5 1025.3 1644.2C1020.8 1648.0 1015.0 1652.2 1011.3 1655.4C1007.6 1658.7 1004.8 1660.5 1002.9 1663.8C1001.0 1667.1 1000.5 1671.7 1000.1 1675.0C999.7 1678.2 1001.1 1680.6 1000.7 1683.4C1000.2 1686.1 999.3 1688.5 997.3 1691.7C995.4 1695.0 992.7 1698.7 988.9 1702.9C985.2 1707.1 980.1 1711.8 975.0 1716.9C969.9 1722.0 963.3 1728.0 958.2 1733.6C953.1 1739.2 947.7 1743.4 944.2 1750.4C940.8 1757.4 938.9 1766.7 937.3 1775.5C935.6 1784.4 935.4 1789.5 934.5 1803.5C933.5 1817.4 932.6 1840.7 931.7 1859.3C930.7 1878.0 929.7 1891.9 928.9 1915.2C928.1 1938.5 927.5 1969.4 926.9 1999.0C926.4 2028.6 925.8 2077.0 925.5 2092.6L925.3 2092.6L925.3 1614.0Z" fill="#ff7f0e" fill-opacity=".5"/>
<path d="M1040.6 1614.1C1040.8 1615.8 1042.7 1621.1 1042.0 1624.7C1041.3 1628.3 1039.2 1632.1 1036.4 1635.9C1033.6 1639.6 1029.4 1643.3 1025.3 1647.0C1021.1 1650.8 1015.0 1655.0 1011.3 1658.2C1007.6 1661.5 1005.2 1663.3 1002.9 1666.6C1000.6 1669.9 999.2 1673.6 997.3 1677.8C995.5 1682.0 993.8 1687.1 991.7 1691.7C989.6 1696.4 987.1 1700.1 984.7 1705.7C982.4 1711.3 979.9 1718.3 977.8 1725.3C975.7 1732.2 974.0 1739.2 972.2 1747.6C970.3 1756.0 968.2 1766.2 966.6 1775.5C965.0 1784.8 964.3 1794.2 962.4 1803.5C960.5 1812.8 957.7 1822.1 955.4 1831.4C953.1 1840.7 950.2 1851.2 948.4 1859.3C946.7 1867.5 945.6 1873.3 944.8 1880.3C944.0 1887.3 944.7 1894.5 943.7 1901.2C942.7 1908.0 940.7 1914.3 938.7 1920.8C936.7 1927.3 933.4 1934.3 931.7 1940.3C929.9 1946.4 928.9 1947.3 928.0 1957.1C927.2 1966.9 926.8 1976.6 926.4 1999.0C925.9 2021.3 925.7 2075.8 925.5 2091.2L925.3 2091.2L925.3 1614.0Z" fill="#d62728" fill-opacity=".5"/>
<path d="M969.9 1614.1C971.0 1614.9 975.8 1616.9 976.4 1619.1C977.0 1621.3 975.2 1624.2 973.6 1627.5C971.9 1630.7 968.5 1634.5 966.6 1638.7C964.7 1642.8 963.2 1648.4 962.4 1652.6C961.6 1656.8 960.9 1660.5 961.6 1663.8C962.3 1667.1 964.4 1668.9 966.6 1672.2C968.8 1675.4 971.5 1678.7 975.0 1683.4C978.5 1688.0 982.4 1694.5 987.5 1700.1C992.7 1705.7 999.4 1710.8 1005.7 1716.9C1012.0 1722.9 1019.9 1730.4 1025.3 1736.4C1030.6 1742.5 1034.9 1748.1 1037.8 1753.2C1040.7 1758.3 1042.3 1762.5 1042.6 1767.2C1042.8 1771.8 1041.6 1776.5 1039.2 1781.1C1036.8 1785.8 1032.7 1790.9 1028.0 1795.1C1023.4 1799.3 1017.3 1802.8 1011.3 1806.3C1005.2 1809.7 998.2 1813.0 991.7 1816.0C985.2 1819.1 977.8 1821.6 972.2 1824.4C966.6 1827.2 962.2 1829.3 958.2 1832.8C954.3 1836.3 951.2 1840.9 948.4 1845.4C945.6 1849.8 943.5 1853.3 941.5 1859.3C939.4 1865.4 937.5 1874.2 935.9 1881.7C934.2 1889.1 932.8 1896.1 931.7 1904.0C930.5 1911.9 929.7 1918.0 928.9 1929.2C928.1 1940.3 927.5 1950.1 926.9 1971.1C926.4 1992.0 925.8 2040.9 925.5 2054.9" fill="none" stroke="#1f77b4" stroke-width="2.0"/>
<path d="M1016.9 1614.9C1014.5 1616.1 1008.0 1619.3 1002.9 1621.9C997.8 1624.5 991.3 1627.0 986.1 1630.3C981.0 1633.5 975.7 1637.3 972.2 1641.5C968.7 1645.6 966.8 1650.3 965.2 1655.4C963.6 1660.5 963.0 1666.1 962.4 1672.2C961.8 1678.2 961.8 1683.8 961.6 1691.7C961.3 1699.6 961.0 1710.4 961.0 1719.7C961.0 1729.0 960.6 1739.2 961.6 1747.6C962.5 1756.0 964.4 1763.4 966.6 1769.9C968.8 1776.5 970.8 1780.7 975.0 1786.7C979.2 1792.8 985.7 1800.7 991.7 1806.3C997.8 1811.8 1004.8 1816.0 1011.3 1820.2C1017.8 1824.4 1025.9 1828.1 1030.8 1831.4C1035.7 1834.7 1038.8 1837.2 1040.6 1839.8C1042.5 1842.3 1042.7 1844.7 1042.0 1846.8C1041.3 1848.9 1040.1 1850.5 1036.4 1852.3C1032.7 1854.2 1027.1 1855.8 1019.7 1857.9C1012.2 1860.0 1001.0 1862.6 991.7 1864.9C982.4 1867.2 971.2 1870.0 963.8 1871.9C956.4 1873.8 951.4 1874.7 947.0 1876.1C942.7 1877.5 939.4 1879.6 937.8 1880.3" fill="none" stroke="#2ca02c" stroke-width="2.0"/>
<path d="M926.1 1621.9C927.7 1621.7 928.2 1621.2 935.9 1620.8C943.5 1620.3 958.2 1619.9 972.2 1619.1C986.1 1618.3 1009.9 1616.6 1019.7 1615.8C1029.4 1614.9 1029.0 1614.4 1030.8 1614.1" fill="none" stroke="#7f7f7f" stroke-width="2.0"/>
<path d="M1036.4 1614.1C1037.1 1614.9 1041.5 1616.4 1040.6 1619.1C1039.7 1621.8 1035.3 1626.8 1030.8 1630.3C1026.4 1633.8 1020.6 1636.3 1014.1 1640.1C1007.6 1643.8 997.8 1649.1 991.7 1652.6C985.7 1656.1 981.5 1658.2 977.8 1661.0C974.0 1663.8 972.2 1665.7 969.4 1669.4C966.6 1673.1 963.6 1678.7 961.0 1683.4C958.4 1688.0 956.1 1692.2 954.0 1697.3C951.9 1702.4 949.8 1708.0 948.4 1714.1C947.0 1720.1 946.2 1728.0 945.6 1733.6C945.0 1739.2 945.3 1740.6 944.8 1747.6C944.3 1754.6 943.6 1766.2 942.8 1775.5C942.1 1784.8 941.2 1789.5 940.1 1803.5C938.9 1817.4 937.5 1840.7 935.9 1859.3C934.2 1878.0 931.9 1891.9 930.3 1915.2C928.6 1938.5 926.9 1975.7 926.1 1999.0C925.3 2022.3 925.6 2045.5 925.5 2054.9" fill="none" stroke="#e377c2" stroke-width="2.0"/>
<path d="M1040.6 1616.3C1036.2 1618.4 1022.2 1625.4 1014.1 1628.9C1005.9 1632.4 998.2 1634.5 991.7 1637.3C985.2 1640.1 979.2 1643.1 975.0 1645.6C970.8 1648.2 968.5 1649.6 966.6 1652.6C964.7 1655.7 964.5 1657.3 963.8 1663.8C963.1 1670.3 963.3 1680.1 962.4 1691.7C961.5 1703.4 959.7 1719.7 958.2 1733.6C956.7 1747.6 954.8 1763.9 953.2 1775.5C951.6 1787.2 950.2 1794.2 948.4 1803.5C946.7 1812.8 944.7 1822.1 942.8 1831.4C941.0 1840.7 938.9 1850.0 937.3 1859.3C935.6 1868.6 934.3 1878.0 933.1 1887.3C931.8 1896.6 930.7 1905.9 929.7 1915.2C928.8 1924.5 927.9 1938.5 927.5 1943.1" fill="none" stroke="#8c564b" stroke-width="2.0"/>
<path d="M1042.0 1614.1C1041.6 1615.4 1041.6 1618.7 1039.8 1621.9C1037.9 1625.1 1035.6 1629.3 1030.8 1633.1C1026.1 1636.8 1017.8 1640.5 1011.3 1644.2C1004.8 1648.0 997.8 1651.7 991.7 1655.4C985.7 1659.1 979.6 1662.4 975.0 1666.6C970.3 1670.8 967.1 1675.4 963.8 1680.6C960.5 1685.7 957.7 1691.7 955.4 1697.3C953.1 1702.9 951.3 1708.0 949.8 1714.1C948.3 1720.1 947.3 1727.1 946.5 1733.6C945.7 1740.1 945.7 1745.3 945.1 1753.2C944.5 1761.1 943.9 1770.4 942.8 1781.1C941.8 1791.8 940.1 1804.4 938.7 1817.4C937.3 1830.5 935.9 1845.4 934.5 1859.3C933.1 1873.3 931.4 1889.6 930.3 1901.2C929.2 1912.9 928.4 1924.5 928.0 1929.2" fill="none" stroke="#9467bd" stroke-width="2.0"/>
<path d="M1040.6 1614.1C1040.8 1615.8 1042.7 1621.1 1042.0 1624.7C1041.3 1628.3 1039.2 1632.1 1036.4 1635.9C1033.6 1639.6 1029.4 1643.3 1025.3 1647.0C1021.1 1650.8 1015.0 1655.0 1011.3 1658.2C1007.6 1661.5 1005.2 1663.3 1002.9 1666.6C1000.6 1669.9 999.2 1673.6 997.3 1677.8C995.5 1682.0 993.8 1687.1 991.7 1691.7C989.6 1696.4 987.1 1700.1 984.7 1705.7C982.4 1711.3 979.9 1718.3 977.8 1725.3C975.7 1732.2 974.0 1739.2 972.2 1747.6C970.3 1756.0 968.2 1766.2 966.6 1775.5C965.0 1784.8 964.3 1794.2 962.4 1803.5C960.5 1812.8 957.7 1822.1 955.4 1831.4C953.1 1840.7 950.2 1851.2 948.4 1859.3C946.7 1867.5 945.6 1873.3 944.8 1880.3C944.0 1887.3 944.7 1894.5 943.7 1901.2C942.7 1908.0 940.7 1914.3 938.7 1920.8C936.7 1927.3 933.4 1934.3 931.7 1940.3C929.9 1946.4 928.9 1947.3 928.0 1957.1C927.2 1966.9 926.8 1976.6 926.4 1999.0C925.9 2021.3 925.7 2075.8 925.5 2091.2" fill="none" stroke="#d62728" stroke-width="2.0"/>
<path d="M1028.0 1614.1C1030.3 1615.4 1039.8 1618.7 1041.5 1621.9C1043.1 1625.1 1040.5 1629.3 1037.8 1633.1C1035.1 1636.8 1029.7 1640.5 1025.3 1644.2C1020.8 1648.0 1015.0 1652.2 1011.3 1655.4C1007.6 1658.7 1004.8 1660.5 1002.9 1663.8C1001.0 1667.1 1000.5 1671.7 1000.1 1675.0C999.7 1678.2 1001.1 1680.6 1000.7 1683.4C1000.2 1686.1 999.3 1688.5 997.3 1691.7C995.4 1695.0 992.7 1698.7 988.9 1702.9C985.2 1707.1 980.1 1711.8 975.0 1716.9C969.9 1722.0 963.3 1728.0 958.2 1733.6C953.1 1739.2 947.7 1743.4 944.2 1750.4C940.8 1757.4 938.9 1766.7 937.3 1775.5C935.6 1784.4 935.4 1789.5 934.5 1803.5C933.5 1817.4 932.6 1840.7 931.7 1859.3C930.7 1878.0 929.7 1891.9 928.9 1915.2C928.1 1938.5 927.5 1969.4 926.9 1999.0C926.4 2028.6 925.8 2077.0 925.5 2092.6" fill="none" stroke="#ff7f0e" stroke-width="2.0"/>
<path d="M925.3 1614.0V2092.6" stroke="#7f7f7f" stroke-width="1.6" stroke-opacity=".8"/></g>
<g id="panelD"><path d="M1621.4 1875.1L1630.2 1879.6L1635.8 1873.3L1643.1 1872.6L1649.3 1870.3L1655.9 1875.0L1660.6 1882.2L1668.6 1885.0L1672.4 1892.4L1682.2 1895.8L1682.9 1905.3L1685.8 1912.5L1689.6 1919.3L1692.7 1926.5L1695.9 1933.6L1700.4 1940.0L1705.0 1946.0L1709.8 1951.2L1716.4 1954.2L1720.8 1960.0L1726.5 1964.1L1734.0 1967.3L1736.6 1974.3L1739.2 1981.4L1743.5 1987.4L1748.4 1993.1L1754.0 1998.3L1755.2 2006.3L1759.1 2012.6L1766.0 2017.4L1769.4 2025.3L1775.6 2030.8L1782.3 2035.6L1787.5 2042.0L1792.4 2049.8L1798.6 2056.6L1799.1 2064.8L1805.5 2074.0L1804.6 2082.3L1797.4 2081.5L1790.3 2084.8L1783.1 2085.8L1775.9 2084.4L1768.7 2083.0L1761.2 2084.2L1753.9 2083.6L1746.5 2085.3L1739.2 2083.9L1732.0 2082.6L1722.7 2083.1L1713.7 2080.2L1704.8 2078.2L1695.3 2079.1L1686.1 2077.7L1677.2 2075.2L1670.6 2072.3L1663.3 2071.7L1657.6 2065.7L1649.2 2068.1L1642.9 2064.2L1638.1 2057.8L1630.4 2056.3L1626.5 2049.8L1619.6 2046.1L1618.3 2038.7L1614.0 2032.0L1608.9 2025.6L1605.5 2017.9L1610.2 2010.6L1607.4 2003.6L1605.9 1996.5L1607.0 1989.3L1603.4 1982.0L1608.2 1975.3L1606.5 1968.1L1609.2 1961.2L1606.1 1953.8L1608.8 1946.9L1609.9 1939.9L1612.5 1933.2L1608.5 1924.8L1611.0 1917.3L1612.1 1909.6L1612.6 1901.9L1614.9 1894.2L1619.7 1886.6Z" fill="#1f77b4" stroke="#1f77b4" stroke-width="5" stroke-linejoin="round"/>
<polyline points="1692,2078 1680,1893 1730,1966 1793,2087 1631,2058 1609,1882 1655,2067 1695,2083 1764,2011 1763,2085 1603,1987 1733,2082 1775,2018 1757,2008 1748,1961 1646,2069 1674,2075 1689,2081 1659,1870 1794,2050 1790,2054 1658,2071 1738,1985 1678,2076 1610,1913 1694,1925 1738,1967 1627,2053 1800,2054 1602,1905 1627,2055 1628,1877 1603,2000 1639,2063 1600,2002 1692,1911 1747,2088 1663,2073 1749,2087 1699,1930 1682,1914 1680,1891 1691,1911 1806,2062 1774,2087 1620,2047 1738,1975 1693,1920 1611,1975 1648,1870 1710,1931 1608,1911 1744,2084 1685,2080 1743,2087 1609,1996 1680,2075 1735,1971 1602,1909 1606,1989 1738,1977 1713,2081 1659,1874 1721,1948 1675,1897 1625,1872 1613,1906 1738,1973 1788,2029 1769,2029 1605,1910 1696,1944 1784,2036 1603,1940 1608,1956 1615,1914 1611,2029 1609,2035 1758,1977 1657,2073 1796,2043 1666,2074 1610,1933 1658,2070 1769,2002 1597,1969 1603,2001 1783,2086 1704,1939 1667,2075 1700,1932 1752,2083 1747,1978 1667,1876 1688,1917 1779,2033 1609,1928 1653,1874 1801,2076 1602,1966 1741,2082 1616,2040 1668,2074 1606,1920 1757,1983 1695,1917 1707,1938 1773,2024 1781,2088 1688,1906 1716,1945 1604,1952 1664,2074 1617,1887 1623,1885 1608,1890 1604,1986 1737,2084 1723,1955 1775,2085 1613,2039 1721,2083 1757,1993 1789,2041 1662,2075 1773,2023 1701,2078 1798,2051 1650,2067 1757,2084 1601,1959 1692,1922 1612,1954 1718,2083 1776,2019 1678,2076 1624,1877 1615,2027 1704,2080 1671,2074 1712,2082 1766,2018 1743,1979 1605,1993 1712,1938 1605,1972 1802,2059 1613,1912 1609,1888 1665,1871 1755,2084 1599,2029 1602,1906 1773,2087 1604,2011 1803,2072 1647,1868 1643,1872 1654,2071 1679,1904 1741,1971 1601,1948 1728,1964 1685,2077 1644,1864 1681,2078 1602,1944 1629,1874 1689,1896 1631,2059 1697,1910 1632,1868 1673,1871 1700,2078 1604,1985 1801,2053 1613,1882 1780,2088 1611,1925 1764,2087 1708,2082 1612,1974 1645,2065 1599,2025 1746,2084 1732,2082 1757,2085 1734,1964 1603,1902 1791,2038 1616,1876 1607,2010 1782,2013 1770,2021 1636,2061 1801,2083 1679,2081 1594,1964 1738,2083 1749,1993 1605,2035 1648,2068 1755,1997 1607,1938 1700,1929 1657,1864 1602,2014 1720,2084 1795,2084 1624,2050 1610,1968 1737,2086 1670,1891 1636,1865 1610,1924 1700,1901 1756,2083 1679,1884 1608,2030 1712,2081 1790,2085 1734,1961 1616,2042 1740,1979 1615,1897 1722,1943 1740,1995 1711,1932 1753,2086 1723,1957 1609,2023 1655,1871 1810,2083 1705,1921 1732,1959 1675,2078 1682,1892 1619,2046 1709,2082 1703,1936 1661,2070 1614,1909 1601,1964 1610,1960 1804,2060 1626,2053 1799,2051 1604,1963 1769,2085 1698,1944 1715,1957 1777,2085 1637,2059 1638,1870 1687,1916 1724,1960 1680,1898 1644,2062 1600,1894 1666,1870 1781,2033 1768,2010 1606,1944 1724,1957 1615,2039 1714,2084 1713,1940 1687,1912 1798,2049 1778,2023 1611,1931 1683,1878 1773,2012 1711,1941 1636,1867 1708,2080 1750,2084 1612,1934 1664,1881 1681,1889 1758,2007 1754,2002 1692,2080 1604,1994 1727,2081 1605,1967 1787,2033 1596,2002 1596,1985 1728,2083 1648,1871 1626,1868 1603,1940 1676,2077 1640,2061 1702,1919 1607,1921 1610,1922 1760,2083 1702,1947 1756,1990 1712,1927 1794,2086 1605,1976 1815,2075 1650,1872 1609,1937 1617,2042 1601,1952 1706,1944 1666,2072 1599,1955 1756,2085 1761,2003 1711,1924 1682,1894 1715,2081 1601,1919 1615,2045 1605,2029 1664,1866 1630,1875 1611,1946 1723,2085 1686,1912 1800,2087 1755,2003 1758,2001 1603,2035 1756,2002 1639,1869 1715,1951 1612,1928 1696,2083 1689,1891 1762,1991 1774,2028 1612,1904 1782,2038 1787,2024 1774,2034 1786,2042 1600,1984 1621,2049 1607,2020 1802,2064 1729,1954 1712,1942 1771,2085 1624,2049 1641,1860 1780,2084 1677,2076 1644,2067 1767,2085 1642,1871 1606,1979 1614,1920 1680,1900 1615,1937 1693,1911 1777,2011 1767,2011 1703,1942 1750,1983 1631,1878 1608,2026 1609,1939 1747,2084 1628,2054 1808,2077 1634,2062 1669,1883 1721,2082 1621,1871 1806,2078 1675,1892 1753,1999 1697,1940 1640,2062 1611,2032 1602,1947 1686,1907 1632,2060 1614,1880 1632,1869 1694,1915 1611,1960 1787,2087 1620,2047 1768,2006 1722,2084 1604,1988 1666,2073 1698,1929 1791,2087 1615,2029 1640,1870 1600,1962 1744,1988 1789,2085 1735,2083 1638,2060 1608,1904 1680,1909 1739,1982 1722,1955 1797,2084 1663,1862 1656,1866 1614,2037 1677,1898 1793,2049 1675,1885 1613,2026 1636,2057 1759,2087 1606,2008 1765,2015 1802,2044 1646,1862 1695,1928 1806,2056 1807,2067 1620,2047 1605,1938 1640,2066 1791,2043 1778,2029 1720,1942 1686,1905 1763,2016 1696,2078 1763,2088 1713,2080 1610,2015 1599,1934 1601,1929 1606,1942 1623,2054 1706,2080 1802,2085 1694,1917 1784,2040 1622,1887 1604,1946 1800,2056 1608,1905 1606,1942 1621,1878 1619,1886 1735,1972 1776,2030 1652,2071 1683,1902 1773,2086 1776,2086 1603,1997 1780,2087 1721,2081 1711,1943 1669,2075 1597,1994 1739,2082 1804,2062 1783,2034 1674,1894 1598,1915 1645,2066 1618,1892 1631,1869 1691,2079 1688,1906 1765,2085 1792,2085 1732,2082 1615,1910 1779,2010 1793,2084 1611,1895 1704,1934 1710,2080 1673,2073 1736,2085 1788,2027 1750,2086 1689,1908 1767,2086 1613,1903 1604,1992 1608,1932 1693,1917 1664,2071 1817,2077 1600,1976 1793,2041 1731,1971 1746,1984 1660,2074 1602,1917 1729,1944 1730,2087 1683,1905 1808,2074 1791,2045 1638,2060 1810,2055 1619,1879 1658,1872 1632,1871 1761,2009 1729,2082 1605,1962 1793,2047 1725,2082 1640,1864 1598,1989 1771,2022 1616,2035 1650,2069 1619,2047 1603,1895 1757,1987 1759,2015 1749,1987 1597,1935 1650,2072 1648,2065 1704,1933 1709,1953 1725,2082 1612,2037 1758,2006 1644,1865 1699,1925 1709,1949 1723,1948 1682,1890 1698,1933 1662,2072 1786,2086 1606,2016 1617,2045 1767,2020 1789,2034 1734,2086 1785,2053 1699,1934 1721,1954 1797,2087 1803,2083 1766,2017 1638,1860 1657,1877 1800,2051 1605,1991 1659,1874 1785,2085 1602,2020 1808,2057 1598,1945 1735,1964 1759,1997 1689,2077 1594,2032 1794,2040 1615,2047 1722,1955 1612,1902 1669,1886 1816,2064 1726,1964 1667,1883 1785,2044 1768,2087 1770,2013 1599,2025 1759,2010 1771,2085 1661,1881 1622,1878 1597,2014 1609,2040 1604,2037 1652,2068 1600,1998 1795,2053 1714,1944 1624,1871 1599,2004 1743,1985 1803,2080 1698,1922 1600,2017 1779,2031 1662,1878 1670,1888 1657,1874 1636,2060 1712,1946 1683,2075 1701,2080 1611,2006 1741,2085 1706,1946 1686,2079 1703,1934 1778,2089 1609,1951 1712,1941 1704,2081 1677,1870 1604,2008 1638,2060 1710,1951 1696,1927 1772,2085 1607,1937 1677,1894 1812,2069 1782,2020 1604,1875 1807,2074 1669,1883 1687,2077 1703,1951 1662,1876 1631,2060 1750,1992 1687,1900 1751,2086 1795,2045 1616,1881 1604,1917 1785,2037 1609,1988 1610,1916 1763,2014 1751,1997 1729,1965 1756,1974 1654,1866 1606,1971 1614,1907 1604,1912 1661,2073 1700,2080 1619,1895 1633,2060 1594,2015 1595,1942 1605,1927 1806,2051 1757,2086 1760,2085 1614,1925 1605,1925 1743,1990 1735,2082 1811,2051 1604,2036 1719,2082 1642,2063 1764,2019 1739,2082 1706,2080 1605,1966 1614,1917 1776,2087 1605,1950 1643,2064 1613,2032 1602,1970 1607,1968 1751,2003 1757,1999 1625,2050 1782,2086 1659,2071 1611,1892 1601,1981 1768,2009 1641,2064 1628,2054 1790,2051 1656,2071 1725,1962 1675,2074 1605,1957 1663,1870 1627,2054 1774,2085 1609,2039 1748,2083 1636,1871 1749,1993 1799,2085 1802,2059 1803,2086 1605,1975 1686,1895 1763,2083 1662,1878 1728,2086 1751,2086 1685,1902 1710,1946 1705,1929 1683,1899 1768,2022 1738,1976 1746,2083 1607,1886 1702,1926 1657,2071 1590,2000 1611,2012 1788,2085 1608,2002 1696,2081 1649,2067 1672,2075 1734,1971 1614,2043 1800,2085 1785,2030 1730,2082 1604,1954 1629,2055 1618,1881 1753,2000 1658,1862 1603,1899 1744,1986 1666,1876 1803,2084 1606,1998 1608,1883 1676,1883 1793,2041 1764,2014 1701,2082 1626,2050 1739,1979 1599,1897 1691,1899 1767,1999 1697,2079 1783,2083 1624,1871 1698,1923 1780,2027 1791,2034 1706,2080 1738,1977 1742,2085 1652,2069 1766,2032 1608,1985 1599,2028 1754,2085 1597,1980 1745,1995 1668,1887 1716,2084 1644,1867 1716,1954 1625,1875 1598,1995 1789,2043 1625,1869 1725,1962 1587,1969 1716,2084 1665,1881 1602,2010 1620,1890 1619,1879 1618,2043 1608,1958 1780,2085 1665,1885 1689,1916 1726,2081 1804,2084 1593,1949 1820,2073 1602,2012 1803,2080 1605,1958 1790,2048 1714,1935 1614,1919 1716,1959 1629,1869 1598,2009 1603,1930 1776,2030 1787,2040 1753,1992 1715,1948 1705,1942 1677,1886 1682,2076 1725,2083 1727,1958 1742,1977 1606,1960 1601,1984 1673,2078 1696,1910 1760,2011 1606,1997 1619,2045 1631,2058 1818,2067 1598,1915 1620,2046 1683,1884 1595,1977 1590,1992 1606,1948 1816,2080 1638,1873 1604,2024 1692,1901 1606,1953 1739,2083 1740,1978 1812,2072 1707,2080 1815,2082 1610,1944 1784,2022 1717,2081 1693,1889 1787,2083 1728,1962 1625,2051 1751,1983 1720,1953 1605,1934 1822,2070 1684,2078 1730,1955 1633,1863 1802,2067 1603,2022 1656,1873 1699,2080 1671,1891 1602,1975 1605,1924 1668,1878 1797,2085 1790,2084 1801,2070 1598,2005 1611,2017 1735,1974 1750,1965 1770,2087 1757,2008 1755,1997 1693,1923 1644,2064 1689,2077 1711,1952 1693,2078 1718,1964 1802,2057 1587,1972 1798,2082 1743,1979 1749,1986 1654,2069 1715,1953 1679,2077 1746,2086 1741,2084 1796,2087 1649,1873 1616,1900 1686,2076 1726,2085 1731,1970 1677,1888 1618,1896 1599,2025 1608,2005 1634,2057 1672,1879 1730,1959 1803,2057 1629,2056 1613,1897 1703,2079 1670,2074 1669,2076 1608,2007 1596,1978 1800,2053 1606,1969 1673,2075 1802,2086 1790,2088 1692,2077 1650,1874 1709,2078 1690,2081 1777,2016 1663,2071 1647,2069 1630,1873 1601,1976 1693,1918 1734,1961 1765,2008 1683,1911 1602,1990 1719,1949 1602,2024 1602,1980 1772,2029 1742,1968 1757,2004 1810,2065 1637,1870 1765,2089 1742,1982 1603,1930 1627,2058 1756,2085 1697,1921 1752,1995 1600,2007 1695,2079 1623,2048 1766,2084 1812,2078 1814,2070 1620,1890 1646,2069 1755,1991 1719,2082 1622,2050 1785,2086 1695,1920 1615,1901 1683,2081 1610,1955 1764,2085 1802,2065 1699,1916 1611,1887 1789,2037 1778,2037 1735,1965 1610,1926 1762,2009 1619,1899 1697,1928 1635,1873" fill="none" stroke="none" marker-start="url(#m_lncRNA)" marker-mid="url(#m_lncRNA)" marker-end="url(#m_lncRNA)"/>
<polyline points="1673,2045 1763,2045 1680,2069 1644,2073 1697,2051 1663,1994 1683,1946 1665,1897 1753,2035 1641,1926 1658,1970 1760,2028 1683,1944 1701,1982 1689,1614 1766,2046 1729,2088 1771,2071 1694,2020 1647,2053 1735,2004 1792,2043 1786,2067 1813,2059 1685,2037 1771,2081 1753,1893 1777,2074 1630,1614 1653,1614 1628,1614 1718,2007 1633,1869 1664,2031 1669,2074 1630,1949 1679,1968 1785,2035 1631,1845 1749,2071 1657,1889 1633,1737 1679,1971 1611,2027 1766,2036 1746,2044 1697,2076 1716,2079 1710,2063 1737,2026 1835,2094 1642,1614 1649,1926 1775,2037 1730,2072 1703,1960 1603,1983 1620,1846 1804,2092 1679,1999 1768,2070 1706,2020 1695,2042 1752,1994 1722,2060 1742,1994 1689,2052 1758,2074 1610,1896 1639,2024 1702,1995 1626,2030 1825,2080 1784,2046 1679,1852 1821,2084 1770,2072 1659,1981 1651,2072 1690,2037 1700,1979 1717,2036 1698,1955 1673,2054 1641,1957 1747,2059 1685,1953 1636,1882 1721,2068 1740,2079 1672,1856 1751,2072 1682,2043 1692,1974 1680,2054 1663,1614 1714,2041 1779,2075 1741,2070 1631,1836 1608,1614 1776,2000 1605,1842 1623,1979 1672,2044 1626,1911 1666,1901 1713,2053 1633,1820 1828,2075 1645,1984 1707,1946 1618,1614 1698,1668 1706,2065 1684,2035 1739,2083 1697,1985 1623,1614 1696,2085 1667,2055 1744,2087 1644,1925 1676,1614 1668,2033 1676,1614 1683,1614 1760,2054 1716,2059 1663,2027 1658,2035 1623,2057 1678,1940 1639,2013 1743,2092 1680,2054 1696,2031 1648,1630 1721,2079 1647,1965 1710,1959 1656,1945 1676,1897 1608,1614 1812,2041 1794,2024 1657,1995 1640,2046 1793,2031 1734,1985 1624,1987 1716,2007 1678,1879 1781,2089 1702,1901 1657,1975 1714,2035 1678,1988 1640,1923 1652,1957 1721,2083 1727,2016 1699,1985 1654,2022 1669,1841 1618,1676 1691,2035 1596,1958 1679,1916 1723,2007 1777,1971 1667,1893 1627,1753 1661,2063 1780,1907 1669,2060 1666,1844 1668,1911 1721,1832 1773,2063 1781,2081 1691,2029 1691,1999 1752,2042 1810,1614 1679,1614 1656,1957 1657,1742 1660,1772 1636,1835 1701,1987 1660,1904 1602,1614 1765,1967 1634,1733 1643,1848 1720,2069 1786,2070 1651,1830 1631,2034 1668,2050 1688,1614 1687,1982 1751,2052 1779,2074 1762,2028 1749,2028 1621,1923 1826,2081 1657,2063 1827,1893 1668,2038 1770,1614 1625,1790 1779,2052 1794,2045 1736,2069 1629,1614 1715,2085 1667,1979 1681,2064 1689,2083 1682,1980 1608,1835 1769,1614 1756,2036 1788,2074 1652,1871 1683,2024 1652,2056 1644,1965 1744,1937 1741,1735 1611,1771 1680,1965 1638,1614 1625,1877 1666,2017 1736,2066 1805,2084 1655,1711 1679,2020 1676,1987 1741,2067 1652,1986 1653,1800 1664,2013 1633,1614 1788,2053 1675,1824 1730,2014 1689,2041 1665,2059 1780,2021 1615,2052 1709,2072 1726,2029 1608,1979 1634,1787 1709,2057 1662,2047 1772,2091 1748,2069 1660,1686 1780,2087 1684,1614 1630,1841 1599,1695 1648,1954 1762,2088 1798,2066 1647,1875 1617,2054 1639,1908 1664,1889 1748,2083 1606,1614 1652,1614 1667,1926 1760,2054 1723,2083 1632,1729 1743,2086 1683,1981 1689,1972 1664,2003 1734,2082 1722,2083 1774,2015 1777,2026 1787,2072 1717,2015 1642,1860 1667,2000 1728,2060 1709,1878 1648,1957 1657,1974 1780,2008 1619,1955 1768,2080 1644,1971 1697,2077 1710,1614 1661,1614 1646,2007 1720,2019 1711,2035 1643,2039 1779,2093 1822,2076 1680,2077 1669,2012 1752,2044 1681,2064 1799,2077 1693,2012 1782,2036 1648,1884 1817,2006 1664,1925 1637,1614 1602,1802 1720,1967 1646,1955 1655,1971 1640,2018 1657,1614 1734,2080 1768,2016 1703,2058 1796,2046 1673,1981 1628,1820 1606,2016 1677,1614 1670,1987 1617,1976 1678,1993 1749,2071 1801,2063 1654,2062 1702,1925 1658,1994 1669,2044 1638,2068 1686,1972 1664,2066 1717,2046 1758,2090 1606,1614 1635,1897 1741,2078 1645,1668 1665,2074 1814,1790 1653,1614 1654,1740 1778,2046 1659,1614 1674,2041 1693,2069 1799,2024 1623,1756 1607,1927 1660,1614 1663,2065 1625,1745 1704,1928 1671,1614 1622,2034 1671,1974 1735,2046 1655,1984 1656,2000 1697,2082 1749,2064 1598,2019 1775,2055 1722,2029 1747,2038 1641,1621 1751,2077 1658,1614 1661,2047 1691,2052 1661,1865 1754,1614 1664,2035 1734,2041 1691,1982 1625,1614 1641,1927 1673,1829 1643,1788 1656,1924 1742,1990 1676,1914 1710,2001 1651,2056 1613,1971 1694,1983 1787,2064 1832,1997 1661,1614 1706,2017 1658,1894 1711,1614 1649,1614 1768,2023 1623,1932 1703,1650 1674,1614 1614,1832 1798,2071 1643,1966 1638,2041 1666,2064 1690,2038 1632,1937 1717,2073 1660,1989 1680,1614 1681,2024 1700,1854 1646,1949 1717,2081 1707,2070 1656,2002 1671,2045 1785,1614 1660,1614 1660,1916 1670,1614 1721,2024 1632,1614 1636,1877 1692,2073 1663,1614 1663,2006 1606,1941 1687,2032 1660,1980 1649,1918 1673,1962 1653,1896 1690,1955 1795,1614 1705,2082 1705,2041 1771,2078 1689,1917 1682,2042 1670,2059 1641,1976 1683,1852 1755,1983 1738,2089 1651,1934 1688,2006 1785,2084 1664,1614 1616,1614 1778,1970 1679,1994 1632,1614 1695,1614 1595,1614 1630,1614 1620,2032 1715,2079 1640,1737 1666,1730 1627,2025 1761,2086 1784,2081 1611,2026 1695,1959 1734,1614 1604,1965 1664,2059 1632,2014 1715,2013 1723,1977 1671,1957 1654,1614 1668,1935 1608,1830 1645,2049 1749,2073 1666,2001 1656,1959 1657,1934 1670,1980 1624,1771 1754,1992 1762,2029 1619,1919 1771,1614 1808,2058 1664,1970 1677,1822 1632,1914 1622,1717 1787,2083 1643,1930 1774,2061 1702,2054 1660,2014 1684,1881 1691,1924 1662,2018 1693,2075 1676,1984 1755,2082 1696,1982 1610,1666 1697,2056 1814,1952 1691,1964 1672,1939 1795,2084 1662,2053 1712,2084 1654,1945 1650,2065 1668,1784 1668,1905 1701,2061 1656,1998 1699,2053 1794,2087 1739,2006 1699,1614 1783,1688 1743,2089 1706,1614 1620,1886 1665,1921 1695,2031 1773,1952 1776,2083 1649,2002 1659,2071 1804,2047 1659,2002 1781,2080 1696,1835 1694,1841 1672,2034 1626,1893 1628,1844 1825,2035 1682,1959 1624,1802 1643,1908 1763,2070 1628,1828 1630,1681 1665,2065 1639,2056 1690,2010 1635,1614 1723,2079 1674,2020 1669,1919 1642,2051 1792,2032 1728,1993 1780,1978 1764,1977 1794,2025 1780,2038 1643,1974 1679,2068 1781,2076 1663,1614 1716,2055 1660,1964 1621,1614 1627,1679 1643,1955 1769,2004 1663,2028 1649,2003 1726,2076 1776,2036 1793,1847 1661,2075 1668,1913 1660,1977 1800,2089 1654,1880 1651,1997 1718,1992 1676,2043 1676,1958 1642,1838 1663,2008 1690,2075 1685,1947 1776,2028 1636,1669 1825,2069 1638,2061 1789,2070 1641,1851 1700,2055 1739,2090 1652,2000 1710,1984 1710,2023 1619,1614 1705,1799 1710,2055 1646,1729 1760,2066 1737,2025 1630,1675 1646,2070 1641,2027 1676,2056 1765,2062 1679,1905 1691,1994 1609,1750 1791,2092 1694,2009 1699,1804 1692,2070 1667,1910 1673,1614 1653,1937 1645,1902 1714,2026 1714,1972 1692,2021 1704,2040 1759,2044 1597,1744 1706,2070 1745,1614 1741,2070 1724,2063 1656,2035 1657,1937 1603,1685 1636,1891 1677,2005 1619,1614 1711,1968 1794,2052 1736,2051 1678,1990 1812,2058 1649,1946 1740,2072 1635,1755 1703,1614 1626,1951 1629,1859 1639,1954 1687,1614 1684,2019 1811,1820 1649,2028 1691,1911 1666,1999 1756,2079 1650,2038 1735,2076 1664,1926 1772,2078 1731,2073 1805,2060 1677,2072 1745,2082 1749,2045 1671,2073 1649,2061 1736,2071 1619,1932 1722,1614 1787,2069 1787,2073 1667,1614 1727,2078 1807,2044 1765,1979 1757,2065 1633,1948 1770,1614 1711,2018 1668,2038 1658,2011 1682,2068 1676,1968 1624,1894 1691,2027 1808,2046 1729,2060 1656,2040 1687,1969 1776,2068 1716,2009 1660,1937 1650,1929 1681,1614 1640,1614 1630,1641 1785,2063 1645,1877 1669,2060 1785,2083 1613,1827 1636,1748 1681,2066 1790,1825 1769,2006 1729,1614 1669,1983 1705,2070 1631,1909 1679,1929 1627,1614 1727,2074 1653,1931 1748,1844 1662,1965 1730,2073 1664,2053 1625,1614 1612,1766 1706,1853 1656,2016 1644,2011 1674,2079 1638,1614 1671,1614 1617,2054 1734,2003 1719,1849 1650,1986 1669,2016 1805,2080 1690,2002 1661,2067 1695,1895 1675,2054 1677,1614 1694,1890 1761,1993 1680,2053 1625,1811 1655,1998 1646,1762 1786,2079 1688,2031 1733,2008 1651,2050 1732,2058 1659,1989 1674,1911 1651,2068 1660,1933 1666,1923 1609,2038 1669,1886 1706,1927 1681,1890 1746,2072 1671,2060 1636,1614 1699,2078 1676,1965 1712,2053 1652,1954 1788,2082 1677,2065 1804,2081 1781,2051 1802,2020 1799,2070 1669,1992 1633,2053 1671,1868 1652,1913 1733,2087 1673,2053 1715,1828 1687,2029 1796,1901 1732,2065 1770,2033 1758,2034 1750,2041 1649,1917 1720,2068 1728,1866 1758,2058 1649,1997 1719,2011 1646,1936 1639,1981 1803,1614 1661,2074 1787,2084 1696,1975 1736,1614 1677,1614 1699,2024 1747,2037 1664,1969 1656,2012 1796,2044 1705,2015 1741,2066 1723,1979 1661,1958 1671,2028 1622,1935 1682,1810 1626,1614 1780,2055 1759,2069 1778,2047 1766,1614 1655,2057 1611,1681 1723,2042 1715,2077 1639,1992 1776,2085 1657,1744 1735,2068 1687,2033 1802,1614 1631,1982 1671,1997 1677,2040 1652,1995 1632,2015 1714,1900 1672,2042 1707,2059 1719,2078 1652,1789 1654,2040 1659,2011 1780,2041 1665,1898 1679,1974 1644,1657 1747,2050 1703,2017 1679,2036 1721,2080 1729,2075 1674,2030 1747,1614 1638,2070 1638,1614 1684,2046 1635,1930 1668,2028 1740,2065 1636,2054 1704,2042 1647,1916 1730,1966 1663,1985 1808,2069 1672,1944 1697,1614 1794,1925 1698,1973 1778,2067 1663,1834 1624,2009 1649,1909 1645,1991 1649,1985 1734,2067 1737,1614 1690,1995 1663,1921 1666,1978 1731,2079 1697,2009 1771,2011 1681,1614 1716,1614 1636,2039 1736,2056 1664,1877 1746,1715 1776,2076 1638,1963 1626,2027 1679,1614 1635,1813 1646,2017 1652,1920 1714,1965 1617,1988 1712,1614 1656,1614 1708,2081 1687,1871 1614,1614 1639,1838 1659,1954 1630,1614 1762,2045 1724,2062 1720,2056 1701,2072 1626,1614 1677,1865 1786,2076 1684,2084 1775,2060 1679,1749 1640,2065 1660,1829 1637,1846 1635,1987 1816,2082 1634,2009 1693,1999 1676,1991 1707,2002 1612,1614 1630,1958 1719,2027 1810,1934 1626,2024 1667,1614 1669,2079 1619,1799 1629,1751 1717,2073 1709,1869 1708,2070 1745,2065 1671,2070 1630,1614 1767,2033 1674,1614 1816,2047 1762,1614 1645,2065 1752,2052 1612,1751 1722,2033 1669,1827 1690,2042 1632,1614 1749,1871 1688,2083 1626,1946 1595,1614 1767,2075 1659,2035 1665,1836 1791,2085 1657,1968 1673,1928 1649,2049 1803,1995 1695,1614 1655,1614 1695,1614 1757,2041 1612,2032 1703,2029 1688,2031 1615,2036 1663,1614 1634,2004 1640,1614 1774,2038 1798,1899 1627,2031 1677,2065 1661,2073 1656,1985 1687,2047 1661,1614 1652,1889 1698,1985 1789,2034 1674,1829 1687,2008 1626,1789 1725,1894 1650,1614 1655,2023 1627,2013 1675,2080 1783,2081 1692,2059 1798,1889 1669,1911 1779,2088 1689,1614 1660,2029 1722,2085 1684,2083 1658,1968 1696,2038 1728,1614 1758,2020 1656,1936 1662,2029 1754,2042 1651,1858 1765,2030 1669,1978 1669,2049 1754,2065 1699,1614 1619,2016 1690,2038 1628,1614 1606,1614 1775,2081 1680,2071 1704,2048 1669,2018 1781,2062 1701,2055 1682,2044 1646,2010 1608,1794 1630,1814 1734,2074 1715,2066 1797,1954 1669,1821 1691,1955 1625,1845 1657,2042 1623,1987 1640,2063 1701,1658 1675,1847 1657,1862 1721,2025 1689,1954 1739,2086 1653,1614 1705,2087 1760,2065 1704,2016 1696,2017 1710,2075 1672,1939 1711,1929 1734,1614 1697,2034 1656,1829 1664,1932 1668,1932 1772,1622 1631,1614 1719,2042 1784,2039 1651,1929 1669,1988 1733,2036 1709,1617 1685,1906 1795,1912 1684,2045 1759,2085 1678,1852 1774,2019 1740,2089 1665,2040 1698,2068 1639,1649 1734,1974 1690,2021 1689,2073 1626,1614 1714,2075 1748,1786 1659,1800 1703,1948 1749,2066 1783,2035 1659,2069 1723,2052 1706,2006 1668,1646 1656,2015 1674,1614 1650,2022 1731,2054 1681,1897 1691,2075 1672,2055 1733,2055 1783,1749 1609,2040 1631,1904 1698,1614 1802,2088 1682,1930 1802,2075 1660,2068 1667,1957 1625,1903 1726,2069 1773,2071 1684,1614 1752,2036 1679,1614 1659,2061 1647,1852 1615,1934 1637,2055 1790,2070 1631,1843 1760,2060 1615,1786 1657,1915 1779,2050 1710,1953 1761,2021 1700,2061 1640,1943 1713,1614 1764,1896 1699,2075 1682,1975 1606,1773 1721,2059 1662,1922 1668,1614 1629,1614 1656,1804 1789,2088 1675,2077 1673,1754 1697,1744 1683,1614 1665,2024 1737,1986 1607,1874 1644,2067 1734,1992 1770,2049 1661,1614 1644,1998 1714,2073 1635,1806 1681,1667 1724,2041 1633,2000 1760,2021 1788,2017 1639,1614 1761,2052 1717,1614 1632,1745 1712,2020 1691,2073 1683,2033 1653,1860 1629,1899 1683,1938 1761,2084 1664,2059 1712,2082 1754,1736 1660,2059 1687,1614 1777,1614 1658,1614 1688,2020 1638,2053 1659,1989 1654,2036 1663,2011 1677,1990 1625,1960 1747,2046 1727,2071 1715,2038 1671,1905 1606,1614 1627,1614 1676,1977 1676,2081 1642,1614 1706,1945 1691,1963 1782,2049 1777,2053 1767,2056 1606,1973 1835,2003 1646,2001 1724,2075 1703,2035 1750,1999 1725,2069 1736,1913 1614,1941 1699,1972 1650,1899 1677,1982 1654,2075 1721,2043 1650,1892 1691,2080 1703,2021 1769,2079 1679,2077 1650,2074 1698,2073 1672,1987 1703,2002 1674,1953 1700,2066 1676,1614 1675,2055 1631,1777 1699,1665 1753,2040 1805,2089 1724,1614 1613,1614 1636,1920 1619,1791 1664,2022 1614,1614 1623,1812 1734,1862 1762,2069 1737,2077 1704,1614 1616,1614 1783,2041 1669,1899 1755,1870 1650,1614 1695,2078 1708,2080 1653,2027 1665,2062 1660,1614 1812,2090 1693,2012 1669,2061 1794,1996 1684,2004 1773,2066 1670,1948 1695,2000 1680,1986 1668,1614 1646,1614 1662,2057 1660,1896 1697,1896 1680,2044 1733,1734 1773,1709 1631,1951 1624,1869 1730,2043 1671,1837 1667,2066 1693,2056 1678,1870 1658,2049 1676,1980 1603,1614 1740,2019 1680,1977 1589,1969 1730,2028 1661,1948 1729,1614 1610,1734 1753,2075 1668,1795 1682,1907 1702,1986 1742,2065 1653,1942 1801,2019 1656,2069 1706,1955 1632,1931 1625,2057 1727,2029 1719,2056 1696,2080 1711,2036 1689,2034 1708,2071 1663,1614 1666,1864 1675,2002 1651,1614 1639,1963 1682,1922 1607,1852 1677,2057 1742,2057 1640,2047 1776,2076 1716,2052 1644,2012 1666,1876 1659,2067 1664,1942 1758,2040 1668,1902 1706,1614 1672,1969 1696,2055 1622,1614 1737,1976 1650,1814 1650,1966 1717,2065 1688,1952 1723,2083 1758,2088 1706,2071 1647,1853 1712,2075 1672,1614 1678,1726 1797,2032 1651,2053 1678,2065 1731,1807 1697,1614 1677,2040 1745,2075 1755,2088 1624,1860 1659,1946 1624,1864 1731,1980 1636,1614 1718,2067 1640,1999 1649,2059 1662,2078 1621,1614 1663,2014 1667,2038 1615,1906 1657,2064 1670,1885 1803,2062 1718,1995 1662,1958 1724,2088 1732,1988 1647,1995 1685,2010 1614,1746 1641,1614 1821,2007 1771,2055 1646,1614 1616,1952 1624,2035 1695,2036 1707,2069 1784,2043 1746,1713 1687,1873 1796,1614 1693,2060 1722,2088 1615,2050 1673,1973 1676,1932 1701,1730 1623,1614 1658,1956 1664,1984 1697,1827 1655,2056 1684,2009 1758,2087 1760,2073 1755,2090 1671,1951 1725,2077 1765,2044 1787,2058 1600,1614 1642,2039 1755,2069 1672,1975 1718,2085 1714,2065 1822,2073 1654,1906 1736,1630 1643,1656 1702,1986 1775,2078 1650,2029 1746,2084 1685,2031 1733,2066 1785,2017 1651,1960 1688,1988 1720,1614 1650,2002 1654,2048 1659,2020 1619,1614 1770,2052 1771,2090 1693,1614 1741,2014 1669,1858 1705,1994 1637,1614 1681,1973 1667,1614 1636,2002 1690,1719 1629,1614 1762,2050 1657,2028 1724,2077 1653,1965 1796,2091 1755,2074 1684,2054 1647,1614 1767,2027 1676,2006 1689,1736 1777,1985 1655,2045 1709,2026 1662,1824 1701,2082 1793,2091 1659,1879 1753,2087 1737,2058 1662,1729 1690,2051 1671,1803 1689,2016 1647,1798 1636,1858 1793,1994 1629,2033 1672,2057 1703,2040 1656,2006 1663,1614 1652,2072 1650,1923 1680,1983 1761,2055 1696,1940 1788,2053 1731,1940 1762,2053 1632,1896 1622,2044 1705,2080 1655,1875 1651,1906 1617,2042 1617,1614 1764,2080 1625,2034 1668,2048 1798,1614 1676,2067 1762,1806 1727,2038 1609,1614 1658,1614 1688,1829 1682,1980 1734,2087 1712,1614 1629,1723 1767,2047 1790,2009 1644,1757 1639,1995 1674,2066 1773,1923 1643,1898 1649,2032 1689,2079 1708,1614 1672,1614 1661,2077 1684,1653 1614,2042 1741,1999 1747,2032 1671,1614 1680,1614 1669,1614 1610,1862 1627,1760 1665,1997 1785,1846 1789,1977 1800,2087 1636,1686 1645,2038 1658,1930 1627,1899 1667,2054 1721,1734 1726,2076 1689,1986 1628,1976 1761,1614 1673,2048 1745,2045 1734,2089 1781,2058 1789,2056 1793,2046 1660,2062 1601,1887 1667,2032 1798,1614 1665,1974 1782,1751 1756,2086 1751,2048 1750,1979 1676,1614 1643,1950 1696,1967 1658,2073 1602,1966 1806,2080 1723,2020 1699,2040 1716,1887 1682,2063 1618,1614 1681,2070 1783,2073 1625,1614 1660,1970 1785,1995 1603,1638 1702,1614 1669,2011 1693,1981 1625,1614 1689,2023 1708,2060 1753,2030 1667,1847 1713,2005 1744,2063 1656,2005 1737,2071 1656,2071 1715,1976 1690,2078 1765,1972 1630,1689 1713,2075 1663,1614 1794,2059 1695,2064 1786,2062 1710,1614 1717,2076 1606,1785 1717,1995 1629,2018 1794,2089 1692,2043 1636,1976 1622,2038 1627,1739 1660,2033 1657,1973 1760,2078 1658,1614 1716,2036 1657,1614 1664,2014 1668,2069 1629,2062 1664,2053 1716,1614 1618,1981 1743,1614 1665,2024 1668,1972 1609,1614 1707,2058 1729,2077 1667,2072 1684,1895 1709,2044 1636,2021 1632,1962 1648,1614 1703,2058 1735,2065 1713,1936 1670,2010 1666,2023 1686,1670 1772,2034 1672,2060 1770,1614 1752,2059 1631,2046 1736,2045 1789,2077 1697,2041 1800,2011 1670,1798 1641,1875 1680,1850 1738,2031 1661,1614 1692,1614 1732,2018 1663,2066 1679,1986 1647,1895 1763,2021 1767,2065 1804,1639 1740,1964 1673,1614 1650,1614 1822,1921 1607,1713 1723,2074 1645,2033 1659,1800 1644,1928 1693,1614 1799,2072 1725,2083 1746,2047 1647,1954 1707,2049 1665,1614 1672,1614 1794,2081 1673,2057 1639,1614 1671,1899 1818,2063 1732,2045 1696,2085 1674,2049 1683,2036 1619,1614 1658,2069 1781,2078 1675,2041 1649,1614 1636,1614 1803,2051 1710,2026 1775,1944 1683,2082 1676,1614 1652,1614 1659,1614 1700,1828 1775,2073 1632,2017 1663,2034 1772,1614 1659,1821 1699,1948 1671,1908 1793,2091 1672,2076 1683,1856 1720,2000 1602,1962 1656,2037 1627,1976 1654,1947 1712,2017 1762,2080 1783,2084 1669,2043 1683,1899 1701,2070 1675,1972 1715,2047 1772,2083 1699,1958 1633,1684 1669,1960 1676,2019 1698,2085 1760,2047 1637,1614 1830,2088 1720,1614 1652,1970 1678,1952 1689,2061 1781,2091 1619,1855 1705,2053 1619,1952 1696,1956 1771,2069 1652,1962 1694,2009 1675,1919 1672,1614 1728,2071 1654,1614 1696,1973 1685,2085 1679,2009 1669,1738 1674,2046 1743,2053 1728,2024 1642,1936 1603,1614 1771,2036 1631,1837 1790,2060 1729,2029 1752,2083 1693,1815 1642,1923 1633,1923 1715,1988 1755,2002 1676,1614 1636,2043 1690,1989 1640,1676 1614,1614 1690,2075 1681,2024 1758,2090 1787,2089 1682,2035 1638,1614 1643,1883 1687,2014 1702,2062 1724,2074 1803,2082 1664,2065 1668,2021 1677,1990 1627,2021 1666,1614 1682,1978 1680,1614 1676,1816 1666,1948 1597,1614 1655,1614 1668,2027 1649,2055 1701,2014 1697,2057 1737,1866 1639,1704 1677,1888 1622,1614 1615,1987 1686,1883 1616,2042 1647,2060 1731,1896 1619,1800 1668,2060 1805,2063 1601,1948 1664,2008 1782,2063 1803,2066 1703,1946 1735,2052 1657,2030 1657,1614 1722,1614 1622,1657 1672,1902 1783,2058 1661,1892 1720,2026 1678,1981 1706,2060 1665,2062 1715,1826 1677,1982 1694,2072 1667,1983 1646,1899 1678,2050 1643,1879 1790,2077 1671,2074 1801,2084 1766,2073 1621,2002 1774,2057 1692,2068 1722,2071 1671,1955 1721,2079 1701,2069 1689,2070 1636,1878 1660,2077 1693,2070 1670,2011 1655,1905 1704,2073 1674,1845 1788,1714 1611,1614 1785,2079 1789,2027 1656,1623 1761,1987 1782,2043 1710,1981 1636,1950 1697,2080 1672,2011 1682,2020 1789,2030 1742,2071 1653,2054 1651,1906 1605,1630 1741,2062 1735,1995 1708,1934 1741,2069 1774,1614 1733,1990 1641,1881 1749,2023 1631,1981 1760,2033 1743,2073 1755,1951 1672,2020 1683,1614 1718,2045 1645,1614 1694,1805 1604,2015 1747,2018 1727,2043 1648,1887 1693,1954 1661,1881 1653,1614 1709,1927 1677,2078 1642,2038 1722,2020 1611,1793 1640,1908 1725,2029 1732,2082 1667,1907 1717,2033 1604,1754 1679,2036 1625,2006 1632,1970 1774,2049 1760,1620 1725,1744 1737,1930 1739,2080 1694,2019 1607,1944 1750,2077 1796,1958 1772,1669 1788,2066 1665,1614 1645,2020 1666,1960 1655,1819 1684,1614 1671,1614 1659,1971 1725,2059 1709,2056 1760,2091 1758,1826 1741,2041 1660,1950 1654,1841 1627,1614 1722,1978 1690,2018 1836,2071 1688,2071 1749,2005 1681,1930 1707,1808 1639,1614 1715,1614 1713,1957 1768,2007 1650,1896 1710,2071 1658,2059 1647,1773 1685,2026 1697,1997 1674,2060 1651,2025 1740,2031 1662,2044 1659,2063 1685,2083 1680,1825 1759,2072 1697,1875 1634,1882 1660,1899 1648,1614 1759,1893 1676,1892 1688,1614 1616,1783 1753,1747 1661,1614 1752,2040 1691,2063 1672,1993 1664,1960 1713,2085 1631,1984 1596,1966 1741,2086 1680,2016 1767,2062 1671,2003 1672,2034 1809,2073 1773,2066 1643,1614 1668,2012 1709,2066 1671,1614 1604,1907 1733,2056 1724,2014 1676,1950 1642,1900 1635,1746 1706,2086 1786,2073 1693,1614 1632,1878 1650,1924 1770,2075 1674,1977 1619,1870 1619,1788 1692,1897 1753,2036 1824,2022 1768,1861 1605,1994 1666,2065 1668,1614 1622,1990 1714,2064 1639,1856 1694,2076 1749,2070 1731,1743 1697,2014 1657,1765 1662,1952 1674,2030 1745,2060 1663,1904 1693,2044 1617,2041 1705,2065 1687,1614 1672,1705 1666,1978 1754,1753 1745,2063 1685,1876 1723,2082 1664,1677 1661,1881 1731,1994 1698,1968 1782,1901 1595,1614 1650,1942 1667,1857 1635,1614 1668,1614 1662,1998 1660,1986 1684,1614 1655,1805 1655,2057 1663,1838 1656,1614 1723,2042 1636,1614 1718,2079 1622,2001 1776,2024 1686,1943 1655,1923 1682,2033 1660,1614 1670,1836 1681,2041 1787,1614 1744,2066 1696,2060 1626,2044 1667,2040 1706,2086 1747,1614 1665,1933 1643,1614 1665,1916 1732,2001 1643,1614 1713,1999 1645,1866 1695,2077 1671,2045 1682,2075 1731,1959 1746,2014 1691,2054 1685,1614 1697,2055 1625,1961 1681,2056 1746,2044 1679,1614 1689,2068 1702,1689 1690,2031 1640,1636 1625,1843 1673,1968 1689,2052 1617,1786 1640,1793 1624,1929 1706,1991 1616,1969 1663,2000 1650,1879 1662,2013 1714,2059 1711,1961 1663,2040 1729,1772 1656,1919 1665,2043 1681,2064 1655,1894 1669,2021 1688,2085 1757,2018 1628,1846 1674,2072 1610,1939 1661,1614 1737,2053 1654,1798 1637,1719 1694,1614 1666,2044 1710,1865 1755,2049 1666,1614 1652,2056 1738,1614 1673,1747 1623,1614 1719,2044 1625,1840 1698,1614 1668,1853 1661,1614 1601,2040 1695,2069 1716,1940 1661,1907 1803,2071 1609,1924 1667,1926 1665,1985 1769,2086 1720,2040 1657,1991 1781,2028 1699,1614 1767,2086 1793,2092 1752,2045 1730,2063 1659,2057 1722,1972 1673,2075 1671,1982 1704,2013 1678,2000 1674,1614 1614,1701 1725,2011 1757,2065 1625,1893 1755,2034 1785,2078 1771,2069 1687,2055 1721,2081 1773,2080 1747,2085 1662,1916 1611,1735 1721,2011 1703,2042 1745,2080 1617,1859 1672,1979 1741,2028 1635,1614 1624,1641 1779,2084 1800,2080 1762,2048 1693,1931 1789,2077 1661,2015 1695,2082 1647,2025 1779,1614 1794,2088 1677,1910 1622,2052 1715,2059 1697,1997 1666,1880 1680,1951 1634,2057 1651,2033 1770,2036 1698,2056 1617,1837 1793,1854 1733,2017 1681,1995 1648,1634 1624,1866 1734,1614 1739,2044 1700,2040 1692,2012 1734,2076 1625,1922 1600,2005 1683,2048 1668,1979 1669,2031 1676,2044 1628,2063 1770,2082 1643,1923 1694,2018 1709,2060 1658,1952 1721,2008 1699,2047 1716,2067 1794,1959 1717,2088 1592,1911 1677,1977 1684,2032 1676,1980 1655,2072 1691,1614 1679,1981 1729,2061 1662,2038 1689,1933 1666,2064 1646,2035 1690,1927 1705,2074 1645,2006 1746,2065 1749,1688 1702,1977 1606,1685 1766,1614 1628,1857 1748,2038 1704,2036 1755,1785 1722,2086 1673,2038 1657,1614 1629,1614 1790,2017 1736,2070 1755,2053 1787,2074 1662,2027 1662,1746 1666,1963 1761,2064 1796,2089 1652,2034 1739,2032 1676,2046 1759,2054 1718,2078 1645,1614 1682,2068 1785,2051 1768,2021 1626,1859 1690,1970 1781,2028 1638,2006 1757,2067 1754,2064 1733,2053 1641,1614 1688,2042 1682,2067 1637,1974 1669,2042 1610,2020 1637,1935 1677,2054 1781,2043 1692,1946 1777,2081 1759,2051 1766,2087 1754,1959 1736,2091 1671,2062 1711,2052 1776,2085 1618,2008 1663,1728 1765,2070 1716,1851 1789,2059 1732,1999 1621,2035 1617,1990 1674,1978 1727,1614 1615,1968 1757,2027 1663,1988 1739,2048 1697,2054 1677,2081 1768,2074 1653,1946 1623,1891 1658,2070 1677,2001 1717,2059 1614,1614 1687,1878 1686,1614 1700,1983 1648,2067 1683,1984 1672,2072 1673,2013 1758,2052 1755,2041 1669,1986 1671,1614 1652,1967 1721,2017 1743,2007 1743,1988 1693,2067 1684,2032 1678,1614 1813,2051 1755,2072 1707,2039 1655,1911 1778,1981 1739,2059 1719,1993 1696,2052 1759,2072 1636,1894 1680,1614 1639,2066 1649,1774 1784,2074 1638,2058 1670,1859 1663,1978 1737,1898 1695,2018 1691,1973 1730,2076 1743,1944 1736,2053 1671,2067 1669,1983 1713,1975 1655,1854 1649,1974 1739,2079 1647,1900 1805,2024 1811,2068 1643,1865 1606,2000 1654,2067 1721,1731 1747,2082 1654,1844 1668,2058 1628,2007 1683,1974 1772,2011 1699,2060 1707,2008 1741,2076 1656,2058 1705,1614 1678,2068 1750,1679 1668,2066 1805,2047 1661,2055 1690,1956 1646,1855 1779,2090 1648,2027 1734,2074 1652,1968 1721,2023 1742,1987 1777,2040 1727,1704 1642,1614 1615,1614 1686,2065 1676,2056 1666,2014 1750,2074 1663,1864 1731,1614 1752,2060 1689,1974 1721,2019 1707,2023 1701,1980 1667,1898 1660,1877 1661,2061 1666,1912 1643,2047 1725,1921 1653,2062 1640,1933 1802,2085 1674,2065 1731,1680 1669,2064 1668,2059 1749,2035 1742,2030 1652,1933 1610,1836 1698,2063 1707,2056 1767,2044 1765,2035 1640,1749 1678,2075 1659,2022 1675,1886 1745,2073 1762,2081 1734,2015 1662,2044 1771,2084 1742,2044 1650,1802 1706,2004 1778,1958 1682,1969 1664,2032 1669,2002 1697,2052 1668,1614 1659,1967 1613,1706 1668,1652 1773,1997 1726,2007 1633,1614 1731,2088 1632,1866 1758,2038 1688,1985 1780,2006 1662,1614 1616,2026 1704,2062 1620,1849 1657,2040 1667,2029 1680,1782 1678,2077 1734,1986 1634,1902 1647,1995 1605,1614 1769,2031 1779,2085 1814,2075 1710,2078 1741,2053 1662,2034 1747,2059 1667,1926 1672,1989 1662,2043 1662,2054 1688,2007 1662,2057 1663,1614 1669,1667 1616,1643 1746,2080 1647,1792 1625,1882 1726,1976 1698,2053 1647,2029 1667,1979 1637,1916 1624,1919 1741,2086 1786,2080 1759,1941 1612,1997 1665,2013 1658,2067 1783,2086 1772,2053 1674,1976 1669,2068 1719,2044 1664,2036 1643,1950 1757,1801 1657,2027 1760,2053 1747,1937 1657,2074 1677,2063 1620,1983 1660,1614 1628,1974 1643,2016 1775,2050 1672,1614 1700,2071 1734,1940 1637,1951 1693,2057 1631,1946 1676,2028 1703,2062 1717,2017 1645,1614 1688,1948 1663,2044 1647,1760 1706,2064 1650,1854 1628,1797 1660,1980 1719,1926 1788,1997 1688,2006 1661,2058 1762,2076 1824,2080 1641,2020 1798,2085 1638,2028 1802,2050 1727,1968 1677,2075 1614,1836 1751,1614 1724,2071 1688,1912 1640,2041 1688,1850 1652,1782 1638,1614 1672,1932 1680,1970 1737,2082 1805,2091 1605,1614 1686,2061 1609,1961 1761,1976 1660,2023 1616,1991 1686,2007 1680,1814 1723,2016 1733,2019 1669,1864 1742,2081 1794,1614 1768,1614 1678,1759 1695,2023 1770,2086 1701,2022 1675,1614 1691,1995 1741,2023 1685,1923 1754,2020 1796,1614 1672,1930 1632,1975 1622,1865 1717,2083 1672,2044 1647,1926 1656,1922 1750,1689 1713,2076 1725,1751 1763,1991 1797,2080 1728,2054 1629,1750 1620,2036 1724,2041 1712,2084 1648,1935 1727,1614 1660,2040 1637,1797 1646,1883 1696,1904 1637,2026 1715,2080 1696,1614 1663,1614 1730,2083 1633,1614 1758,2090 1728,2027 1673,1851 1758,2086 1670,2069 1745,2030 1658,2053 1711,1614 1763,2005 1782,2077 1675,1828 1622,1616 1804,2090 1715,2025 1697,2059 1671,1789 1695,1989 1691,2039 1717,2038 1657,1614 1613,1614 1683,1614 1663,1799 1638,2037 1710,2030 1765,1991 1685,1966 1648,1856 1690,2021 1612,1951 1704,2069 1650,2047 1685,2076 1763,2088 1688,2073 1712,2003 1729,2007 1739,2081 1632,1614 1680,1953 1644,2029 1785,2006 1682,1614 1742,1766 1723,1993 1696,2006 1700,1914 1606,1614 1708,1971 1675,1833 1695,2060 1674,1938 1720,2073 1810,2033 1783,1976 1751,2043 1673,1864 1755,2002 1657,2045 1738,2024 1796,2076 1770,2024 1645,1898 1662,1931 1742,2035 1695,1723 1819,1738 1789,2049 1800,2054 1706,2008 1595,1795 1653,2040 1751,2004 1657,2070 1651,2054 1692,1877 1668,2072 1619,1879 1722,2057 1750,2037 1696,1991 1650,1999 1727,2047 1702,1953 1615,1619 1733,1614 1674,1966 1680,2032 1646,1937 1730,2084 1745,2087 1761,2086 1746,2042 1739,1982 1668,1955 1729,2037 1800,2083 1671,2019 1674,1990 1689,1614 1783,1994 1755,2074 1647,1614 1705,2054 1713,1931 1748,1992 1603,1614 1746,2056 1766,2067 1725,1614 1634,2016 1684,1976 1656,2039 1618,1860 1603,1817 1684,1614 1611,2042 1621,2015 1663,1923 1707,1990 1745,2075 1687,1922 1626,1926 1616,1915 1686,1886 1759,2053 1772,1993 1717,1940 1673,1614 1639,1985 1785,2085 1634,2047 1716,1709 1674,1893 1617,2016 1755,2079 1697,1999 1660,2056 1665,1976 1719,1614 1751,1989 1648,1858 1635,2002 1665,2062 1709,1992 1617,1708 1643,1983 1786,2000 1697,1989 1620,2026 1636,1763 1656,1948 1694,1889 1655,1961 1619,1853 1738,1972 1742,1870 1636,1975 1677,1813 1640,1921 1764,2019 1789,1614 1645,1614 1679,2062 1651,1768 1628,1936 1663,2027 1713,2040 1780,2070 1781,1968 1665,2025 1654,1967 1705,2087 1657,1862 1636,1614 1703,2056 1656,2016 1666,2034 1623,1909 1658,1614 1663,1963 1638,1614 1693,2019 1747,2087 1658,1962 1779,2059 1705,2033 1641,1839 1696,1757 1775,2045 1750,2056 1697,1966 1793,2009 1749,2014 1651,1871 1599,1614 1748,2056 1660,1922 1744,1794 1733,2084 1671,1614 1723,2046 1779,2055 1642,1906 1647,2063 1607,1717 1669,1994 1689,2026 1752,2087 1635,1614 1629,1987 1616,1822 1709,1933 1674,1952 1661,1983 1681,1716 1677,2003 1707,1953 1763,2084 1644,2047 1653,1904 1632,1941 1677,2027 1738,2033 1789,2070 1655,1869 1685,2067 1644,1899 1798,1991 1657,2041 1738,2063 1641,1993 1776,1614 1679,2005 1793,1996 1667,2010 1678,1614 1609,1633 1724,2035 1634,1919 1654,1993 1682,2031 1670,1963 1679,2006 1773,2053 1680,2037 1676,1927 1720,2075 1799,2001 1646,1621 1677,1999 1657,1929 1613,2021 1755,2084 1680,1919 1773,2078 1718,2060 1636,1614 1611,1734 1673,2074 1722,1989 1607,1799 1759,2025 1689,1921 1757,2060 1617,2053 1730,2058 1662,2027 1760,2014 1686,1953 1667,1614 1688,2006 1679,2076 1720,1655 1760,2017 1746,2060 1768,2076 1607,1879 1708,2082 1701,2067 1686,1681 1660,1614 1714,2048 1623,2022 1651,1950 1774,2069 1642,2060 1620,1867 1648,2051 1690,2066 1700,1959 1649,1828 1717,2028 1647,1853 1790,2085 1594,1773 1703,2028 1739,2004 1668,2017 1721,2067 1605,1824 1750,2069 1616,2061 1707,2050 1713,2055 1602,1916 1764,2049 1681,2076 1712,1949 1646,1930 1685,1614 1779,2017 1664,1945 1673,2069 1634,1880 1780,2054 1694,2075 1731,2037 1787,1879 1604,1648 1659,1836 1696,2049 1633,1797 1687,1958 1630,2018 1690,1896 1632,2028 1747,2049 1654,2048 1693,2079 1789,2045 1668,1977 1709,1988 1779,1778 1641,1841 1672,1614 1763,2048 1636,1614 1703,2032 1730,1990 1676,2025 1723,2028 1622,1812 1659,1614 1764,2055 1663,2010 1593,1994 1677,1978 1669,2052 1690,2013 1672,2049 1702,2021 1721,2028 1643,1833 1671,2069 1645,1614 1602,1838 1676,2078 1714,2000 1793,1860 1683,2009 1787,2092 1627,1732 1661,1998 1745,1629 1650,2019 1682,2070 1681,2028 1688,1649 1726,2013 1710,1941 1673,1614 1679,2047 1732,2059 1660,2025 1765,2020 1665,1614 1641,2048 1674,1843 1702,1950 1619,1996 1671,2053 1723,2059 1708,1930 1674,2026 1769,2087 1662,2058 1677,2081 1686,1898 1686,1963 1703,2082 1667,1705 1650,2007 1711,2037 1658,2073 1653,2053 1687,2016 1711,2087 1728,2077 1664,1986 1775,2089 1634,1614 1708,1614 1724,1660 1738,2045 1675,1932 1621,1764 1674,2073 1767,2088 1703,2022 1668,1622 1694,1614 1715,1964 1708,2011 1744,2072 1706,2036 1685,2006 1749,1829 1748,1991 1670,1614 1651,1909 1600,1942 1618,1614 1710,2034 1613,1925 1647,1614 1695,1902 1760,2042 1680,2048 1724,2069 1669,1848 1721,1967 1670,1911 1818,2056 1652,1962 1677,1874 1614,1671 1710,2071 1728,2018 1687,2041 1801,2079 1634,1977 1681,1753 1671,2058 1769,2088 1689,1977 1662,1902 1700,2054 1689,2037 1733,2054 1757,2040 1668,1614 1682,2051 1752,2025 1691,2060 1742,1639 1637,1614 1784,2090 1796,2024 1725,2084 1713,2027 1797,2065 1697,1934 1671,1614 1771,2053 1678,2064 1688,2055 1730,2040 1705,1945 1682,2066 1627,1646 1675,2076 1621,1872 1727,2060 1712,2059 1650,1961 1784,1614 1664,1985 1670,1998 1638,1976 1660,1614 1820,2091 1675,1780 1667,2049 1671,2051 1651,1614 1734,1876 1778,2060 1753,2048 1692,1942 1624,1614 1769,2079 1667,1920 1616,1639 1743,2074 1782,2078 1740,1929 1756,2048 1684,1994 1663,1916 1675,1999 1786,2052 1656,1964 1729,1995 1718,2065 1755,2039 1610,1883 1757,2031 1675,2073 1762,2053 1664,2059 1734,1858 1627,2015 1632,2050 1710,2051 1670,2035 1685,1993 1726,2083 1639,2056 1685,2052 1715,2082 1722,2020 1753,2033 1658,1614 1683,1861 1714,2038 1669,1866 1649,1910 1639,1999 1683,1991 1671,1979 1653,1786 1691,1626 1636,1614 1723,2073 1738,2008 1680,1925 1723,2038 1683,2053 1666,1922 1720,1966 1627,1970 1667,1825 1704,1614 1831,2082 1730,2047 1632,1614 1664,2017 1650,1952 1684,2026 1673,1965 1717,1970 1730,2033 1725,1791 1641,2053 1729,2034 1655,1976 1625,1614 1629,1988 1726,2035 1624,1833 1699,2021 1772,1855 1666,2026 1709,2027 1603,1614 1621,1847 1623,2033 1711,1984 1650,2065 1694,2087 1744,1762 1663,1614 1652,1912 1627,1968 1749,1614 1691,1900 1768,1690 1673,2072 1703,1614 1670,2068 1803,2009 1647,1938 1759,2092 1629,1879 1655,1981 1644,1969 1698,1997 1750,1894 1696,2013 1647,2057 1788,2020 1787,1614 1641,2067 1667,2030 1750,2064 1648,1995 1736,2053 1616,1662 1722,2082 1680,2074 1704,2051 1636,1770 1778,2046 1641,1841 1771,1777 1629,1848 1647,2046 1615,1681 1669,2003 1652,1879 1636,1914 1770,2068 1640,2054 1667,1614 1772,2083 1648,1860 1704,1989 1672,2047 1594,1902 1790,2058 1685,1986 1666,2034 1657,1614 1665,2057 1796,2005 1619,1709 1663,1614 1651,2056 1692,1988 1653,2033 1697,2036 1674,1930 1679,1966 1757,2072 1693,1899 1632,1614 1737,2073 1782,2077 1673,1777 1713,2000 1772,1614 1674,2001 1694,2060 1652,1936 1633,1738 1776,2089 1640,1759 1657,2041 1736,1983 1726,1974 1774,2088 1663,2050 1751,1614 1737,2040 1667,2043 1615,2016 1661,1872 1675,2067 1773,2045 1677,1614 1726,1966 1659,1941 1644,1908 1695,1974 1630,1779 1664,1994 1746,2035 1709,2075 1762,2070 1745,1617 1700,2080 1734,1808 1798,2041 1688,2017 1731,1936 1733,1986 1722,2078 1668,1965 1672,2077 1780,2017 1606,1614 1685,1998 1686,2029 1654,1949 1740,2063 1665,2059 1661,1896 1741,1759 1733,2083 1664,1614 1661,1614 1676,2081 1675,2033 1706,2038 1665,2039 1781,2027 1825,2085 1691,1967 1733,2065 1627,2039 1635,1960 1657,2070 1694,1831 1603,1824 1615,2036 1805,2070 1678,1941 1776,2037 1671,2009 1667,2069 1772,1839 1598,1614 1628,1987 1688,2020 1767,2035 1658,1963 1763,2055 1720,2008 1681,1614 1669,1988 1718,2015 1772,2031 1803,2090 1618,1768 1649,1819 1628,1614 1674,2045 1693,2069 1610,1865 1616,2030 1659,2032 1772,2032 1746,2073 1640,2015 1638,1852 1682,1875 1663,2038 1652,1976 1639,1614 1727,2044 1687,1777 1678,1884 1672,1976 1681,1976 1622,1965 1619,1614 1642,1664 1727,1851 1818,2085 1610,1960 1758,2060 1680,2060 1639,1960 1648,1614 1697,1990 1749,2045 1716,1921 1692,1988 1773,2045 1739,1993 1748,2060 1715,2035 1734,2051 1711,1996 1723,1977 1678,1614 1615,2038 1621,1614 1660,1774 1680,2038 1668,2010 1679,2018 1641,2038 1781,2027 1713,2033 1623,1614 1642,2065 1640,2013 1642,1815 1672,2079 1735,1971 1676,1614 1707,2029 1695,2061 1663,1897 1711,1964 1684,2012 1677,1924 1652,2021 1647,1811 1659,1905 1646,1614 1686,2084 1680,2042 1661,2039 1675,1855 1630,1763 1730,2020 1780,2059 1719,2008 1757,1988 1692,1962 1694,1718 1783,2047 1621,1979 1681,1991 1680,2049 1670,2055 1718,2036 1605,1996 1703,1884 1596,1966 1724,1950 1638,1614 1721,2005 1765,1900 1763,2075 1708,2087 1652,2041 1636,1881 1793,2057 1691,2081 1744,1888 1724,2068 1772,2067 1689,1960 1652,1732 1671,1614 1755,2067 1735,1773 1759,2045 1666,1886 1736,1986 1731,2016 1801,2066 1723,2056 1643,1962 1750,2086 1744,2067 1650,2048 1739,1997 1731,2063 1665,1927 1627,1800 1682,1717 1713,1614 1669,1906 1653,2006 1656,2064 1637,1968 1670,1614 1685,1645 1677,1972 1607,1780 1662,1860 1787,2056 1673,2023 1673,1961 1647,1614 1732,2071 1674,2075 1605,1765 1747,2080 1619,1879 1739,2013 1666,2033 1727,2055 1698,2050 1687,2047 1749,2081 1605,1670 1646,1891 1730,2044 1791,2058 1627,1614 1710,2080 1765,2060 1671,1904 1669,1614 1756,1983 1768,2069 1659,1614 1739,1614 1655,1879 1695,1733 1730,2009 1728,2044 1672,2030 1637,1806 1825,2073 1774,2012 1663,1912 1673,2041 1798,2077 1682,2001 1723,2049 1757,1635 1701,2022 1720,1614 1599,1614 1656,2032 1656,2046 1650,2061 1631,1850 1722,1892 1762,1991 1658,2049 1678,1983 1684,2069 1701,1626 1720,2080 1641,2027 1834,1614 1660,2054 1760,2087 1717,2016 1662,1614 1796,2004 1734,2079 1590,1614 1697,2065 1709,1614 1676,1951 1676,2012 1661,1614 1722,2013 1709,2052 1676,2078 1692,2020 1638,2054 1843,2088 1613,1780 1804,2081 1688,1872 1668,2015 1681,2020 1663,2005 1694,2049 1769,2006 1821,2092 1665,2019 1625,1875 1635,1973 1675,1614 1742,1863 1656,2025 1669,2032 1789,2050 1679,2058 1643,2056 1690,1614 1800,2079 1651,2055 1660,1878 1657,2056 1766,1615 1707,1938 1689,1941 1677,1873 1699,1614 1659,1996 1689,2052 1653,1967 1721,2065 1699,1614 1643,1756 1699,2064 1655,2022 1660,1956 1672,1896 1637,1716 1670,1729 1667,1786 1811,2087 1711,2020 1660,2072 1679,2053 1652,2017 1663,1947 1741,2081 1685,2077 1744,2002 1637,1898 1671,2074 1639,1614 1633,2060 1663,2016 1663,1976 1657,1614 1788,2042 1701,2025 1710,2079 1711,2050 1642,1906 1686,2083 1654,1780 1671,1960 1666,1978 1647,1614 1688,1926 1643,2054 1739,1809 1668,1957 1781,2053 1610,1860 1654,1614 1805,2061 1712,2068 1743,2066 1800,2074 1735,1991 1648,2065 1673,1955 1692,2004 1634,2046 1677,1852 1692,2065 1660,2064 1737,2059 1631,1846 1743,2000 1678,1902 1738,1614 1627,1994 1781,2037 1661,1906 1646,1614 1662,1962 1692,2018 1657,2057 1672,2061 1649,1949 1662,1962 1735,2084 1730,2050 1707,2018 1767,1992 1700,1780 1631,1989 1657,1614 1756,2064 1641,1614 1719,1796 1673,1928 1680,2042 1685,1866 1617,1979 1641,2007 1805,2019 1707,1614 1744,2052 1679,2037 1655,2045 1628,1980 1652,2070 1631,1885 1670,1990 1667,1873 1708,2046 1656,1916 1748,2023 1666,1991 1750,2052 1710,2035 1652,1804 1660,1915 1811,2007 1671,2078 1726,2048 1790,2053 1633,2024 1773,1953 1675,1944 1688,2054 1629,1985 1658,1982 1778,2030 1768,2085 1700,2074 1644,1614 1678,2071 1652,1961 1658,2016 1722,2007 1698,1614 1727,2086 1670,1945 1674,1673 1717,1938 1658,1970 1691,1614 1630,1856 1781,2013 1645,1931 1781,2064 1783,2085 1795,2032 1777,2091 1751,2016 1644,1614 1655,1931 1665,1614 1776,1851 1688,1731 1679,1614 1631,1970 1653,1988 1681,1989 1681,2053 1607,1779 1808,2080 1702,2075 1619,1667 1679,1972 1695,2031 1633,1955 1638,1940 1694,2029 1642,2024 1824,2087 1651,1688 1807,2020 1667,1614 1672,1698 1804,1996 1651,1953 1708,1995 1740,2090 1756,2071 1603,1697 1706,2073 1647,1918 1736,2031 1695,1829 1664,1877 1779,2057 1748,2068 1740,2069 1629,2060 1716,2052 1688,1614 1635,1614 1718,2080 1709,1877 1791,2083 1679,2067 1786,2092 1652,1827 1636,2045 1672,1614 1680,2079 1738,2052 1649,1948 1633,1975 1680,1873 1638,1821 1760,2077 1629,2051 1628,1978 1631,1614 1784,2056 1664,1892 1630,1984 1735,1965 1658,2040 1638,1943 1743,2066 1668,1890 1755,2089 1635,1747 1679,1971 1691,2068 1700,2018 1745,2082 1779,2068 1673,1996 1650,2050 1771,2083 1758,1614 1677,2059 1777,2063 1751,2079 1673,1954 1790,1718 1745,2027 1691,1868 1681,1997 1812,2087 1712,1999 1707,2034 1596,1614 1675,1614 1631,1967 1724,2063 1642,1942 1726,1959 1779,1996 1636,1849 1693,2055 1706,1951 1640,1976 1639,1832 1756,2078 1631,2035 1665,1977 1682,2046 1748,2006 1638,2038 1790,2076 1793,2079 1646,1697 1742,1984 1721,2068 1672,2073 1647,1614 1733,2038 1756,1981 1714,1981 1624,1680 1721,2084 1676,1981 1793,2065 1672,1614 1671,2036 1637,2051 1789,2053 1720,1956 1669,1948 1719,2031 1709,2026 1610,1635 1681,1835 1682,2052 1697,1614 1758,2020 1619,1743 1676,2054 1669,1614 1678,1970 1626,1934 1745,1687 1640,1955 1744,1986 1801,2090 1665,1614 1785,2064 1811,1937 1689,2013 1675,2051 1769,2005 1667,1614 1657,1976 1771,2055 1734,1995 1648,1906 1768,1641 1664,2045 1627,2053 1755,1643 1762,1992 1742,2074 1650,1640 1701,2027 1784,2067 1658,1805 1652,1629 1619,1661 1669,1765 1650,1614 1669,2002 1651,1996 1651,1817 1649,2038 1710,1768 1772,2009 1717,2032 1691,1921 1801,2017 1768,2087 1693,2072 1727,2084 1798,2067 1658,1905 1671,2029 1629,1991 1669,1864 1752,2069 1701,2009 1708,2076 1710,1997 1739,2008 1620,1725 1783,2025 1628,1871 1765,2041 1682,2077 1648,2053 1660,2010 1784,2073 1711,2075 1725,2044 1676,1936 1664,2034 1683,1974 1738,1999 1601,1614 1760,2049 1770,2061 1742,2081 1757,2051 1673,2070 1661,1938 1673,2035 1660,1614 1666,1614 1759,2091 1695,2059 1633,1960 1713,1982 1724,2073 1655,1614 1645,1783 1754,2088 1674,1829 1647,2028 1707,2057 1624,1614 1625,1835 1680,1688 1719,2077 1657,1977 1765,2069 1627,1614 1705,2026 1773,2084 1694,2035 1656,1916 1639,1831 1693,1916 1784,2057 1646,1946 1799,2088 1609,1614 1700,2036 1796,2052 1728,2021 1668,1779 1622,1614 1665,2047 1681,1826 1620,1614 1611,1715 1608,1614 1619,1803 1771,2042 1811,2025 1745,2071 1815,2064 1728,2018 1637,1995 1791,2052 1645,2019 1747,2060 1736,2057 1793,2080 1663,1933 1766,2004 1726,2070 1611,1893 1720,2066 1691,1614 1689,1614 1673,2038 1637,1901 1647,1983 1653,1937 1653,1902 1665,1954 1730,2016 1643,2064 1607,1983 1641,1688 1746,2017 1757,2070 1713,2070 1778,1995 1667,1862 1729,1928 1659,1614 1632,1952 1807,1614 1652,2034 1699,1614 1660,2054 1725,2082 1710,2031 1776,2086 1611,1859 1695,2041 1624,1614 1752,2086 1760,2043 1679,1932 1729,1614 1671,2064 1700,2087 1668,1614 1756,2052 1629,1787 1775,2043 1686,2071 1652,2032 1690,2021 1664,2015 1666,2028 1783,2054 1690,1968 1660,2053 1727,2072 1672,1933 1747,2053 1678,2035 1654,2076 1701,1984 1699,2057 1625,1614 1653,2067 1727,2086 1736,2075 1736,2084 1753,2057 1675,2018 1629,2054 1709,2024 1694,1999 1691,2082 1694,2039 1626,1614 1663,2056 1734,2033 1679,1882 1686,2070 1772,2018 1592,1776 1749,2069 1635,1705 1794,2017 1662,1975 1673,1614 1618,2010 1682,1974 1664,1742 1670,1943 1669,2072 1697,2044 1656,1614 1675,2076 1742,2087 1625,1859 1656,2064 1636,1871 1688,2031 1735,1996 1779,2043 1742,2074 1750,2023 1626,1990 1673,1642 1782,2081 1776,2092 1641,1614 1766,1664 1667,1918 1684,1991 1699,1614 1652,1832 1822,2093 1661,2050 1684,2080 1636,2058 1734,1857 1781,2033 1711,2020 1688,1954 1806,2056 1635,2041 1689,1956 1656,1614 1704,2078 1671,1614 1667,2016 1675,1871 1758,2062 1776,2033 1668,1973 1689,2009 1667,2039 1690,1614 1729,1982 1659,1914 1768,1969 1638,1773 1661,2040 1693,2052 1711,2026 1765,2047 1649,2073 1749,2071 1727,2054 1756,2002 1674,2078 1641,1761 1679,1614 1685,1979 1685,1670 1778,2087 1652,1941 1651,1987 1757,2040 1684,2048 1677,1614 1654,1896 1658,2063 1650,1934 1801,1614 1771,2049 1632,1733 1669,2022 1732,2088 1743,1899 1797,2075 1644,1975 1660,1857 1692,1981 1634,1785 1785,2086 1669,1897 1657,1614 1772,1671 1781,1930 1722,1969 1737,1907 1787,2051 1670,1920 1687,2033 1657,1966 1649,2013 1785,2039 1743,1978 1661,1760 1716,2072 1811,2055 1794,2070 1651,1966 1746,2052 1726,1815 1672,1966 1676,2046 1734,2044 1783,1848 1650,2045 1671,1966 1603,1614 1655,2045 1678,2067 1655,2006 1663,2073 1799,2004 1770,2052 1716,2040 1760,1783 1652,1998 1685,2018 1678,1951 1737,2020 1629,1614 1695,2013 1676,1614 1618,1617 1665,1614 1685,2045 1737,2027 1716,2053 1681,1980 1591,1887 1615,1880 1639,2071 1731,2074 1657,2038 1609,1614 1760,2077 1798,2086 1614,1876 1770,2065 1633,1952 1687,2076 1670,1614 1676,2055 1719,2045 1666,1614 1759,1614 1676,2071 1641,1930 1634,1926 1738,1864 1677,2049 1726,1678 1616,1763 1666,2071 1683,1614 1804,2084 1642,1994 1782,1633 1789,2084 1685,1874 1772,1998 1665,2022 1649,1986 1700,1923 1753,2086 1626,1614 1692,1999 1684,2067 1654,2033 1743,2091 1768,2004 1774,2038 1764,2089 1668,2052 1725,2068 1759,2059 1762,2071 1655,1950 1640,1614 1651,2031 1745,2070 1757,2041 1758,2081 1800,2076 1787,2085 1691,1614 1741,2057 1771,2086 1731,2039 1683,2009 1635,1915 1742,2062 1788,2072 1656,1893 1610,1858 1626,1701 1795,2077 1705,2086 1771,2077 1713,2078 1635,1922 1622,1614 1739,1952 1659,2055 1678,2019 1730,1977 1681,1988 1767,2042 1698,1941 1688,1906 1652,2024 1682,1928 1657,2043 1760,2076 1690,1614 1709,2034 1718,2083 1674,1937 1751,1982 1786,1987 1797,2014 1727,2041 1596,1614 1726,1973 1742,2079 1682,2036 1773,1614 1672,2002 1704,2083 1635,1614 1721,2023 1636,2065 1766,1614 1720,2086 1719,2080 1690,1614 1671,1954 1771,1614 1721,2036 1646,1868 1653,2039 1667,2000 1635,2020 1745,2080 1671,1937 1680,2061 1641,2035 1716,2066 1647,1956 1633,1774 1675,2077 1720,1966 1757,2062 1748,2007 1719,2041 1693,2033 1668,1995 1678,1849 1646,1941 1656,1801 1640,2053 1655,1974 1669,1998 1626,2035 1750,2073 1714,1614 1782,1614 1660,1878 1608,1817 1802,2036 1691,2072 1752,2070 1630,1820 1822,1614 1658,1812 1707,2041 1707,1878 1671,1837 1803,2060 1661,1983 1730,1928 1710,2021 1594,1985 1737,1957 1626,2039 1667,1896 1638,2044 1662,1614 1655,1957 1681,1845 1676,1940 1698,1958 1666,1960 1614,2032 1711,2057 1660,1614 1845,2051 1780,2047 1626,2061 1729,2047 1743,1803 1666,1964 1691,1810 1740,1950 1739,2081 1672,2034 1793,1928 1645,2067 1658,2056 1637,1614 1659,1898 1626,1893 1673,1968 1623,2032 1654,2070 1604,1916 1725,1829 1700,1996 1702,2079 1629,2035 1726,1935 1773,2057 1703,2024 1672,2023 1684,2011 1769,2045 1642,1614 1731,1948 1662,2029 1631,1987 1687,1978 1668,1614 1779,2049 1747,1742 1730,2069 1687,1614 1673,2055 1711,1906 1770,2063 1681,2045 1665,1614 1670,1920 1677,2024 1663,1849 1664,2030 1601,1723 1610,2002 1671,1968 1685,2072 1638,2027 1670,1815 1680,1614 1678,2060 1770,1905 1683,1614 1750,2079 1667,1963 1642,1614 1744,1822 1732,1799 1746,2084 1706,2078 1670,1614 1771,2058 1660,1979 1630,2023 1698,2034 1784,2054 1697,2086 1662,1983 1595,1614 1801,1662 1729,1944 1670,2042 1680,2073 1716,2074 1696,1614 1763,2066 1638,1614 1658,2036 1670,2040 1692,2071 1699,2037 1725,2083 1777,2094 1697,2000 1661,2076 1763,2055 1775,2077 1717,1976 1681,1934 1736,2044 1718,2035 1668,2037 1693,1907 1688,2058 1742,1996 1743,2056 1763,2088 1635,2042 1772,2034 1813,2034 1756,2019 1787,1902 1718,2024 1758,2031 1630,2017 1670,1992 1680,2059 1728,2051 1697,2067 1651,1788 1628,1910 1656,1967 1723,1614 1635,2052 1747,2078 1692,2068 1637,1614 1714,1996 1688,1996 1674,1924 1644,1900 1655,1614 1727,2088 1628,1614 1661,2051 1718,1787 1721,2078 1686,2002 1650,1850 1640,1614 1710,1959 1798,1997 1782,2044 1720,2084 1793,2079 1692,2038 1773,2073 1721,1999 1775,2074 1618,1623 1655,2020 1713,2085 1645,1614 1725,2076 1687,1614 1706,2006 1669,1970 1720,2073 1652,1986 1616,1670 1766,2087 1705,2074 1684,1980 1779,2086 1705,1737 1656,1924 1654,1899 1614,1998 1670,1794 1674,1614 1729,1748 1658,1877 1645,1614 1650,1614 1681,1614 1627,2007 1653,2061 1688,2075 1640,2006 1615,2032 1756,2087 1677,2065 1689,2003 1623,1866 1627,1879 1650,2055 1668,1918 1636,1614 1773,2042 1638,1662 1680,2067 1712,2002 1670,1614 1683,2006 1708,2033 1792,2087 1759,2029 1684,1908 1638,1742 1654,1614 1669,2059 1635,1614 1659,2003 1743,2067 1760,2047 1695,2002 1652,1952 1663,1614 1669,2073 1710,2080 1811,2076 1653,1915 1652,1972 1744,2070 1667,1614 1803,2093 1658,1614 1642,2052 1651,1695 1658,2048 1692,2073 1654,2045 1630,1900 1711,2045 1708,2058 1628,1914 1722,2055 1701,2007 1618,1936 1638,1931 1606,2015 1630,1688 1632,1614 1716,2044 1650,1957 1687,2042 1704,2067 1620,1741 1688,2015 1668,2050 1629,1811 1686,1614 1676,2074 1689,2015 1642,2054 1684,1779 1702,2014 1657,2035 1766,1902 1684,2047 1733,2058 1668,1614 1641,1985 1664,2033 1812,2080 1695,1854 1622,1979 1642,2068 1643,2006 1798,2065 1767,2074 1675,2068 1662,1614 1695,1960 1668,1991 1611,1778 1785,2033 1626,2035 1747,1614 1654,1844 1626,1901 1610,1614 1661,1961 1678,2042 1717,1614 1716,1614 1671,1877 1659,2054 1677,1869 1786,2092 1652,2035 1700,2045 1724,2018 1665,1966 1751,2073 1714,2001 1785,2002 1793,2070 1787,2067 1787,2034 1701,2031 1610,1868 1771,1614 1729,2069 1666,1614 1692,2081 1732,1878 1697,1885 1655,2058 1725,2040 1790,2067 1791,2067 1742,1899 1673,2066 1766,2065 1628,1860 1613,1839 1734,1939 1838,2063 1614,1799 1662,1866 1664,2023 1821,1614 1778,2087 1660,1915 1660,2036 1608,1840 1623,1901 1744,2082 1733,1977 1730,2060 1744,2070 1660,1980 1704,1883 1720,2071 1686,2070 1681,2008 1629,1814 1724,2063 1667,1927 1793,2068 1656,1967 1761,2037 1687,1893 1659,2065 1781,2057 1718,2021 1720,2075 1692,2054 1682,2071 1669,2050 1667,1614 1719,2036 1776,2090 1719,1742 1663,2075 1661,2056 1686,2033 1818,2055 1761,2048 1747,1830 1731,2034 1773,2052 1694,1954 1809,1993 1656,2046 1620,1614 1678,1882 1698,2075 1622,1900 1645,1991 1638,2043 1719,2062 1743,2089 1751,2072 1740,1881 1649,1614 1675,2076 1728,1996 1687,2066 1676,2008 1739,2020 1645,2043 1632,1984 1714,2024 1685,1946 1664,1658 1674,2057 1655,1960 1717,2064 1664,2015 1771,1987 1670,2070 1721,2060 1749,2022 1673,1614 1788,1938 1631,1774 1682,2076 1599,1914 1716,2008 1744,2087 1738,2052 1727,1916 1718,2086 1683,2008 1705,2078 1764,1614 1789,2082 1722,1614 1664,1788 1790,2034 1754,2043 1676,2019 1706,2084 1632,1999 1643,1950 1692,1614 1656,1928 1680,2058 1744,2060 1697,2029 1649,1614 1750,2044 1666,1982 1656,2048 1619,1722 1732,2061 1681,2056 1673,1898 1757,1977 1708,1614 1690,2031 1637,1614 1659,1614 1687,2001 1654,2044 1671,1970 1669,1944 1756,1614 1732,1972 1678,2064 1673,1861 1719,2076 1737,1822 1677,1614 1684,1752 1796,2046 1664,1972 1632,1916 1699,2064 1803,2077 1725,2048 1689,2063 1618,1876 1723,2007 1677,1861 1687,2039 1685,2050 1800,1994 1721,2022 1713,1933 1617,1886 1619,1973 1694,2072 1667,2068 1650,2023 1695,1696 1671,2012 1651,2038 1667,2076 1663,1833 1662,2067 1741,2082 1772,2060 1734,1614 1781,2077 1685,2035 1651,1962 1680,2005 1684,1614 1670,1980 1635,1996 1673,2075 1763,2075 1626,1614 1607,1721 1777,2085 1680,1938 1696,2029 1789,2079 1734,2027 1615,1825 1673,2054 1636,2064 1625,1614 1746,2044 1661,1917 1690,1860 1653,1820 1609,1614 1684,1614 1805,2092 1674,2023 1767,2085 1738,2069 1787,2057 1644,1936 1779,2022 1679,2003 1669,1672 1797,2040 1636,2004 1678,2033 1739,1980 1664,1614 1698,2024 1690,1637 1750,2070 1786,2044 1643,1920 1698,1976 1702,2073 1669,2070 1723,1963 1682,1962 1797,2084 1815,2083 1752,2074 1694,1702 1646,1614 1711,1614 1653,1943 1705,1948 1601,1614 1672,2029 1702,1778 1686,1840 1668,1832 1672,2045 1669,1861 1654,1964 1719,2079 1686,1614 1811,2039 1616,1614 1648,1897 1727,1614 1681,2012 1685,2077 1656,1677 1735,1992 1707,2018 1724,2058 1788,2066 1646,1614 1698,2080 1733,2049 1777,2077 1671,1893 1693,1728 1657,1888 1699,1996 1699,1981 1606,1660 1780,2090 1648,2068 1669,2032 1773,2062 1786,2079 1769,2047 1712,2047 1665,2072 1680,2000 1661,1897 1696,1614 1682,2043 1758,2008 1704,2027 1616,2001 1613,1614 1769,2074 1709,2019 1682,1993 1677,1964 1657,1977 1727,2028 1660,2067 1738,1783 1652,1960 1615,2055 1676,2024 1710,2077 1739,2072 1648,2032 1731,1932 1752,2081 1604,2005 1773,2075 1695,1614 1616,1946 1784,2086 1674,2053 1634,1961 1785,2056 1668,2014 1716,2000 1696,2035 1763,2069 1657,1614 1678,2046 1772,2087 1667,1987 1678,2041 1742,2063 1722,2072 1774,2083 1784,2043 1731,2081 1640,1836 1699,2038 1614,1853 1750,2066 1808,1614 1668,1741 1618,1715 1689,2080 1681,2015 1750,2078 1670,1905 1669,2046 1692,2019 1610,2024 1671,1986 1696,2067 1815,2083 1761,2049 1658,2028 1678,2015 1752,2086 1772,1623 1697,2067 1661,2019 1647,1974 1721,2086 1806,1929 1677,1614 1649,1928 1700,1614 1715,2082 1653,1963 1734,2047 1706,2020 1687,1614 1784,2020 1761,2062 1704,1689 1631,1834 1679,1866 1708,1948 1686,1834 1812,2067 1617,2015 1707,1997 1666,1946 1744,2017 1658,1614 1704,2030 1660,1914 1709,2051 1659,2050 1688,2026 1739,2040 1661,1614 1733,2054 1633,1739 1597,1707 1711,1971 1657,1984 1655,1943 1655,1875 1742,1674 1772,2090 1676,2033 1720,2043 1686,2002 1669,1956 1766,2042 1733,2066 1745,2034 1771,2082 1694,1997 1707,2080 1680,1988 1622,1920 1678,1977 1773,2074 1690,1614 1739,1965 1715,2075 1800,2089 1754,2030 1650,2060 1626,1788 1704,1996 1657,1614 1685,1922 1700,1614 1798,2065 1684,2040 1667,1984 1772,2064 1804,2063 1654,2064 1709,1983 1746,1744 1790,2077 1799,2081 1704,1885 1708,2008 1718,1894 1632,2053 1619,2049 1775,1614 1775,1868 1743,2055 1804,2087 1710,2085 1720,2053 1690,2003 1650,1906 1776,2021 1670,1856 1632,1917 1704,1614 1783,1779 1668,1910 1661,2020 1754,2046 1630,2057 1648,1938 1692,1614 1751,2053 1651,1865 1814,2072 1689,2031 1749,2056 1761,2018 1680,1996 1627,1794 1624,2021 1709,1878 1694,1933 1783,2092 1731,2035 1661,2062 1691,1943 1665,1880 1724,2085 1721,2000 1804,2057 1688,2070 1756,2046 1782,2086 1688,1888 1666,2019 1711,2030 1691,2001 1675,2076 1628,1924 1736,1841 1647,1826 1744,2066 1732,2086 1621,1614 1707,1996 1602,1806 1715,2046 1623,1706 1691,1716 1629,1745 1823,2009 1761,2078 1624,1614 1685,1979 1664,2028 1689,1614 1742,1930 1736,1614 1667,1680 1769,2024 1681,1976 1622,2043 1651,1847 1708,2033 1723,2033 1685,1614 1686,1614 1669,2056 1670,2061 1677,2056 1637,1973 1661,2026 1645,1951 1755,2020 1654,1614 1682,1932 1672,1858 1644,2019 1697,1994 1716,2080 1693,1920 1644,1614 1645,1945 1739,1994 1605,1942 1645,1921 1826,1753 1679,2004 1618,1614 1758,1675 1688,2077 1719,2033 1771,2076 1771,2014 1723,2086 1641,1614 1668,1614 1673,1856 1687,2026 1745,2076 1764,1837 1784,2026 1692,1950 1782,2079 1688,2032 1641,2037 1683,2012 1661,1895 1602,1614 1716,2024 1624,1614 1822,2077 1707,1614 1660,2061 1733,2055 1793,2038 1709,1992 1730,1614 1658,2007 1662,1967 1591,2013 1668,1986 1724,1977 1701,1934 1698,2024 1800,2086 1696,1977 1776,2076 1722,2066 1669,1962 1703,1918 1680,2071 1683,2034 1711,2084 1698,1982 1723,2042 1704,1614 1718,2004 1663,2015 1607,1941 1664,1987 1683,2005 1685,1975 1659,2075 1770,1979 1772,2040 1757,2089 1640,1860 1641,1886 1781,2075 1760,1986 1667,2040 1743,2043 1665,2026 1790,1873 1681,1614 1770,1939 1624,1882 1634,1614 1688,1966 1773,2084 1665,2048 1739,2058 1683,1614 1675,1899 1677,1981 1756,2037 1660,1755 1712,2023 1643,2012 1682,1875 1700,2058 1718,1991 1598,1901 1630,1614 1680,1757 1750,1994 1652,1989 1730,1614 1629,1922 1667,1983 1633,2033 1695,2047 1657,1901 1642,1614 1640,2041 1662,1992 1762,1664 1670,2012 1807,2060 1672,2010 1682,1996 1686,1630 1686,1995 1652,2067 1761,2076 1744,1722 1674,1995 1673,1658 1688,1985 1722,2052 1702,2065 1613,1866 1680,1995 1689,2017 1720,2049 1697,2071 1712,2073 1697,1751 1724,2080 1680,2062 1671,2031 1620,2018 1671,1988 1738,2032 1659,1614 1719,2046 1751,1991 1636,1879 1664,2071 1671,2076 1732,2039 1701,2045 1648,1883 1701,1978 1651,2047 1665,1945 1736,2081 1636,2025 1641,1764 1790,1776 1727,1780 1672,2000 1615,1884 1631,2046 1675,1614 1672,1924 1664,2059 1644,1946 1691,2017 1646,1614 1612,1926 1597,1875 1710,1904 1612,1830 1663,1614 1724,1965 1756,2070 1733,2059 1812,2032 1689,2083 1765,2087 1674,1988 1791,2024 1690,2060 1760,2069 1676,2068 1642,2058 1674,1979 1694,1895 1660,1614 1648,1975 1706,2054 1705,2057 1737,2090 1679,1794 1662,2071 1596,1614 1725,2008 1684,1999 1744,2044 1664,1614 1783,2090 1662,1614 1743,2058 1800,2088 1703,1979 1712,2074 1637,1614 1796,2093 1724,2081 1679,1614 1822,2038 1636,1988 1795,2068 1701,2057 1686,2015 1669,2039 1755,2071 1701,2046 1770,2079 1641,1807 1646,1932 1764,2062 1757,2067 1683,1748 1630,1960 1678,2080 1715,1953 1695,2043 1671,2032 1739,2041 1692,2042 1674,1614 1678,1998 1720,2052 1791,2059 1675,1918 1709,1696 1609,1972 1635,1710 1804,2066 1667,1955 1620,2037 1845,2061 1681,1895 1678,2082 1645,2004 1759,1614 1699,1959 1674,2020 1664,2017 1688,2017 1637,1783 1668,1988 1645,1778 1645,1939 1635,1884 1719,2073 1647,1930 1641,1993 1742,2073 1758,2069 1655,1614 1716,2058 1759,2044 1728,1871 1662,1927 1660,1955 1621,1723 1719,1996 1690,2054 1701,1896 1702,1991 1613,1614 1746,2079 1720,2030 1769,2055 1625,1762 1683,1990 1743,2073 1635,1643 1769,2020 1760,1614 1724,1998 1679,2057 1714,2082 1669,2059 1738,1912 1689,1614 1678,1973 1762,2074 1673,2045 1642,1614 1666,1877 1699,2014 1660,1920 1679,1614 1650,1977 1696,1998 1686,1944 1712,1614 1650,2059 1612,1614 1753,1975 1677,1907 1759,1672 1719,2031 1661,1975 1633,1832 1687,1983 1655,2028 1666,1978 1732,1829 1632,1960 1654,1994 1628,2006 1641,2049 1786,2024 1677,2071 1698,1614 1652,1948 1805,2064 1813,2059 1613,1758 1683,1915 1654,1659 1789,2069 1645,2021 1786,2073 1721,2039 1739,2029 1645,1614 1745,2089 1715,2079 1734,1733 1695,2065 1795,2076 1619,1767 1712,2045 1635,2007 1683,2053 1790,2088 1670,2075 1644,2032 1614,1614 1664,1944 1758,2018 1661,1985 1682,2029 1634,2062 1740,2024 1638,1992 1758,2030 1625,1781 1674,1614 1738,2066 1667,2057 1691,1947 1641,1901 1623,1614 1732,1995 1782,2015 1658,1614 1658,1925 1647,1957 1611,1825 1647,1949 1809,2090 1638,1962 1725,1698 1752,1614 1742,2049 1609,2034 1604,1823 1628,1820 1762,1779 1687,1973 1743,2083 1717,2039 1675,1983 1655,1614 1645,1914 1688,2067 1689,2077 1651,2009 1681,2050 1744,2073 1651,2026 1749,2041 1694,2018 1655,1874 1653,1936 1669,1614 1673,2045 1727,1623 1623,1885 1795,2083 1709,2054 1661,2040 1715,2087 1673,2015 1612,1735 1616,1614 1642,1614 1632,1905 1669,1893 1655,1614 1648,1954 1655,2073 1698,2036 1665,2067 1672,1998 1706,2015 1665,1970 1737,2072 1659,1614 1808,1614 1656,2009 1690,1614 1653,1614 1713,1679 1730,2029 1608,1992 1647,1739 1633,1614 1629,1760 1594,1877 1614,1678 1640,2020 1811,2030 1659,2056 1631,1948 1691,2063 1680,2082 1765,2085 1775,2067 1723,1614 1643,1614 1699,2011 1694,2079 1758,1996 1670,2025 1763,1964 1599,2011 1651,1921 1662,1823 1686,1820 1629,1938 1651,2018 1748,2063 1630,1614 1673,1870 1706,2045 1663,1984 1774,2087 1643,1903 1679,1971 1653,1614 1643,1948 1656,1614 1684,2011 1719,2059 1726,2020 1681,1614 1603,1916 1757,2061 1740,1614 1745,2070 1675,2077 1764,1982 1631,2009 1687,1986 1660,1941 1719,2040 1671,1724 1704,1824 1714,2078 1693,2024 1642,2007 1668,2072 1632,2009 1655,1614 1728,2061 1742,1751 1745,2065 1648,1614 1666,1928 1741,1673 1622,1923 1804,2033 1677,2026 1761,2048 1661,1978 1666,2081 1727,2074 1771,2034 1652,1614 1675,2028 1669,1614 1645,1904 1816,1825 1754,2076 1771,2063 1668,1961 1677,1614 1698,1614 1784,2071 1668,1614 1665,1934 1622,1614 1640,2009 1651,1957 1765,1991 1664,1957 1605,1614 1802,2090 1727,2062 1636,1614 1675,1998 1629,2018 1665,1986 1732,2067 1724,1996 1803,2054 1712,2037 1748,2077 1716,2018 1642,1994 1679,1614 1654,1614 1671,1614 1756,2019 1746,2050 1635,2059 1707,1874 1700,2050 1729,2072 1709,2073 1638,1921 1768,2091 1627,1779 1719,1614 1650,1917 1644,1844 1726,2081 1666,1927 1647,1853 1673,2016 1711,2082 1725,1914 1719,2053 1774,2036 1653,1831 1618,1726 1615,2034 1743,2036 1672,1614 1793,2082 1650,1614 1679,2070 1683,2081 1708,2069 1775,2067 1726,2082 1702,2012 1660,1614 1673,1971 1809,2068 1790,2082 1700,2069 1687,1966 1651,1867 1637,1953 1740,2030 1679,1614 1704,2081 1607,1614 1684,2078 1714,2062 1619,1910 1622,2002 1682,2050 1800,2075 1674,2069 1682,2030 1758,2058 1686,2010 1671,1932 1712,2025 1675,2054 1760,2077 1674,2021 1662,1952 1661,1614 1628,2031 1654,2065 1782,2026 1704,1967 1680,1860 1751,2015 1799,2061 1628,1614 1683,2020 1669,2058 1679,2049 1734,2064 1643,1614 1665,2074 1669,1977 1799,2061 1808,1999 1684,2076 1708,2087 1710,2009 1729,2062 1630,1969 1723,1949 1622,1614 1674,1976 1770,1950 1606,1614 1705,1921 1801,2088 1606,1985 1757,1949 1685,1776 1705,1936 1686,2049 1648,2033 1672,2070 1731,1973 1768,2064 1646,1614 1792,2093 1672,2047 1739,2016 1609,1614 1666,2078 1678,1614 1697,1915 1632,1978 1719,2018 1764,2048 1791,2012 1696,2056 1702,1959 1644,2024 1637,2027 1635,1799 1760,2091 1754,1901 1681,2001 1774,1841 1674,2053 1698,1614 1706,1927 1613,1913 1803,1743 1668,2039 1647,1614 1760,2037 1650,2054 1702,1982 1716,2086 1691,2005 1627,1614 1744,2020 1708,1951 1634,1614 1720,2036 1615,1767 1699,1936 1620,2017 1706,2041 1707,2063 1691,1987 1744,1993 1616,1614 1664,2007 1732,2051 1665,1776 1795,2085 1728,2082 1628,2014 1744,2031 1749,2047 1663,1991 1636,1958 1679,2069 1710,2037 1655,2070 1703,1614 1667,1886 1626,2002 1716,1614 1622,1614 1614,1614 1713,2083 1656,2069 1635,1943 1685,1904 1631,2066 1616,1660 1772,2047 1751,2078 1794,2087 1686,2065 1716,1994 1665,1614 1656,1922 1605,1896 1652,1904 1658,1614 1761,2062 1703,1959 1733,2052 1656,2007 1614,2029 1765,2048 1688,2046 1647,1614 1774,1614 1669,1813 1622,2037 1706,2028 1667,2020 1637,1946 1783,2090 1700,1614 1645,1614 1741,2066 1663,1978 1648,1614 1745,2063 1746,2040 1696,2073 1660,1835 1713,1949 1637,1852 1658,1786 1699,2025 1713,1966 1712,2034 1668,1949 1666,1833 1682,2017 1684,1972 1748,2070 1699,2041 1758,2068 1736,2083 1672,1920 1618,1826 1676,2079 1686,1966 1651,1898 1599,1694 1673,1982 1654,1851 1697,1920 1650,1614 1751,2080 1676,2060 1618,1955 1802,2062 1722,2014 1667,1614 1687,1928 1670,1740 1732,2048 1667,1972 1705,2069 1677,2045 1745,2077" fill="none" stroke="none" marker-start="url(#m_lncRNA)" marker-mid="url(#m_lncRNA)" marker-end="url(#m_lncRNA)"/>
<polyline points="1520.4,1615.0 1520.8,1624.1 1519.2,1642.3 1518.2,1630.4 1521.9,1616.2 1521.5,1628.4 1519.8,1618.4 1522.4,1626.3 1520.1,1624.1 1519.9,1681.7 1522.1,1622.1 1521.2,1632.0 1521.9,1613.9 1520.5,1625.5 1523.6,1621.0 1521.0,1622.4 1521.4,1632.6 1519.6,1623.7 1521.4,1632.0 1519.0,1620.6 1522.0,1635.1 1522.6,1630.2 1522.7,1619.8 1524.3,1618.8 1523.7,1615.3 1518.4,1613.6 1519.4,1667.0 1521.5,1646.3 1520.3,1641.1 1518.8,1625.9 1521.9,1650.5 1518.6,1641.9 1521.6,1630.8 1521.2,1615.1 1522.6,1648.2 1520.4,1620.3 1521.7,1624.3 1519.8,1629.5 1518.2,1638.2 1521.1,1620.1 1521.4,1647.8 1520.5,1620.2 1521.2,1625.3 1524.0,1615.1 1520.3,1632.2 1523.9,1624.2 1522.1,1619.1 1523.1,1632.7 1524.9,1627.6 1522.4,1617.4 1526.2,1655.7 1521.5,1647.9 1524.0,1623.4 1523.7,1616.6 1524.6,1616.6 1518.9,1638.5 1518.1,1640.0 1523.2,1635.9 1520.2,1622.5 1521.6,1629.7" fill="none" stroke="none" marker-start="url(#m_tRNA)" marker-mid="url(#m_tRNA)" marker-end="url(#m_tRNA)"/>
<polyline points="1537.0,2033.6 1534.4,1932.7 1578.2,1804.5 1527.1,1742.1 1521.8,1945.3 1566.0,1861.5 1554.6,1835.0 1575.1,1613.6 1575.5,1689.8 1520.6,1613.6 1504.2,1795.6 1573.2,1980.9 1518.9,1620.8 1523.3,1778.7 1516.3,1653.2 1552.4,1883.7 1555.3,1756.9 1567.7,1950.9 1541.3,1922.7 1520.9,1613.6 1542.3,1613.6 1562.6,1727.8 1533.6,1859.5 1549.3,1920.2 1530.8,2001.0 1561.2,1652.5 1542.1,1719.0 1571.4,1638.1 1546.6,1687.3 1550.9,1893.0 1537.5,1842.1 1514.9,1620.4 1547.3,2033.0 1545.4,1613.6 1512.3,1613.6 1573.4,1665.2 1539.4,1638.2 1520.8,1812.3 1505.9,1636.2 1545.4,1661.0 1565.3,1992.7 1530.3,1974.5 1567.7,1748.3 1560.7,1828.9 1569.0,1726.2 1572.8,1616.4 1543.4,1704.1 1527.4,1613.6 1575.9,1613.6 1574.0,1772.3 1547.8,1754.9 1530.5,1873.7 1512.3,1613.6 1529.4,1860.0 1565.3,1613.6 1533.6,1987.8 1538.5,1682.4 1574.9,1680.5 1547.3,1859.7 1558.0,1816.6 1534.7,1831.9 1531.5,1989.3 1572.1,1774.2 1526.1,1678.6 1514.1,1613.6 1520.1,1666.0 1571.1,1691.8 1584.2,1778.6 1510.3,1636.3 1573.0,1993.1 1533.4,1613.6 1519.2,1844.0 1539.8,1647.6 1572.4,1706.9 1581.3,1683.5 1523.6,1613.6 1535.7,1743.6 1575.6,1767.0 1539.5,1954.7 1527.8,1613.6 1537.3,1933.6 1517.6,1707.2 1503.9,1628.7 1536.6,2032.3 1537.7,1757.1 1575.0,1632.0 1510.8,1726.2 1554.7,1860.3 1574.9,1698.7 1530.3,1629.5 1507.8,1808.9 1569.2,1815.7 1556.7,1789.4 1519.7,1692.4 1556.5,1698.2 1536.4,2005.8 1574.9,1785.9 1537.0,1613.6 1528.0,1762.5 1514.8,1811.1 1573.5,1716.5 1521.4,1931.1 1504.2,1656.0 1552.8,1775.7 1543.9,1668.4 1504.2,1623.5 1532.4,1613.6 1543.3,1621.4 1535.7,1713.3 1544.1,1713.3 1539.6,1647.0 1563.7,1685.3 1566.1,1776.3 1524.9,1968.4 1543.6,1666.3 1536.0,1732.6 1544.9,1613.6 1563.6,1639.3 1567.4,1653.1 1568.0,1917.8 1545.9,1741.5 1517.0,1682.7 1584.1,1704.8 1531.5,2011.8 1542.0,2013.0 1550.9,1744.4 1502.9,1676.4 1584.3,1650.9 1521.9,1728.1 1535.7,1799.7 1570.3,1926.9 1554.1,1832.7 1570.4,1853.2 1528.9,1989.9 1578.8,1782.3 1508.8,1620.0 1553.3,1639.7 1567.9,1645.4 1517.1,1686.7 1511.3,1613.6 1538.2,1622.2 1551.0,1845.8 1546.7,1838.4 1512.0,1716.2 1551.8,1799.5 1572.6,1931.3 1498.4,1720.8 1549.0,1644.1 1548.8,1664.9 1524.4,1669.4 1504.6,1777.4 1510.9,1803.0 1543.2,1856.1 1583.7,1740.6 1565.0,1688.5 1569.1,1681.9 1537.2,1640.3 1571.4,1624.6 1571.2,1885.2 1545.7,1688.4 1568.3,1832.9 1573.1,1800.6 1506.9,1651.0 1509.4,1626.3 1540.0,1881.7 1537.5,2030.6 1505.4,1631.6 1535.9,1995.8 1579.3,1668.0 1537.6,1711.9 1583.7,1951.1 1569.0,1940.3 1568.3,1912.5 1571.3,1645.9 1510.5,1746.1 1559.5,1710.8 1578.6,1653.0 1580.9,1996.4 1526.8,1686.1 1568.4,1747.9 1514.6,1613.6 1555.9,1613.6 1507.1,1635.3 1578.5,1778.2 1540.8,1776.9 1536.6,1642.8 1544.1,1717.5 1539.5,1874.2 1509.8,1687.7 1508.4,1828.5 1531.6,1794.3 1581.7,1793.6 1570.6,1666.3 1502.3,1613.6 1539.1,1613.6 1567.4,1944.9 1564.3,1966.9 1514.8,1835.5 1522.8,1956.4 1514.9,1661.8 1528.1,1655.7 1566.3,1668.8 1513.4,1813.9 1567.6,1823.7 1502.0,1670.9 1520.8,1886.5 1507.7,1665.0 1548.1,1806.6 1543.7,1657.9 1498.2,1639.2 1569.0,2035.4 1528.1,1699.8 1518.0,1697.9 1563.4,1711.7 1525.7,1969.0 1524.7,1625.0 1574.4,1630.6 1507.8,1682.5 1545.4,1867.4 1542.5,1728.8 1508.0,1613.6 1569.4,1746.7 1508.1,1807.9 1540.0,1617.6 1581.7,2036.5 1578.8,1662.5 1569.4,1692.6 1532.8,1613.6 1532.8,1613.6 1510.4,1783.3 1532.2,1669.1 1569.3,1716.5 1556.5,1783.4 1539.4,1647.2 1578.4,1613.7 1559.0,1667.0 1587.2,1613.6 1586.2,1697.9 1545.7,1721.9 1510.3,1677.8 1552.4,1669.7 1534.6,1686.9 1577.5,1628.9 1512.2,1735.5 1538.7,1767.6 1563.8,1792.3 1549.4,1981.4 1507.6,1641.1 1574.1,1705.9 1507.0,1613.6 1542.5,1656.9 1527.0,1622.0 1565.6,1613.6 1510.5,1789.5 1576.2,1613.6 1549.6,1934.3 1569.4,1793.7 1530.9,1761.4 1516.6,1927.3 1564.6,2020.5 1508.3,1864.8 1572.6,1645.3 1554.8,1666.5 1518.8,1821.1 1563.6,1677.9 1547.2,1706.4 1549.4,1613.6 1547.7,1877.2 1553.0,1631.1 1559.5,1696.4 1514.2,1627.2 1569.4,1677.9 1509.7,1613.6 1509.4,1617.9 1564.3,1651.2 1508.3,1643.4 1506.6,1648.0 1551.2,1634.1 1581.8,1890.6 1561.3,1713.9 1509.5,1671.2 1504.4,1838.7 1544.7,1701.4 1515.5,1733.5 1577.2,1613.6 1565.3,1674.2 1577.2,1911.1 1556.6,1666.8 1579.6,1707.6 1542.4,1815.6 1534.8,1756.2 1519.8,1903.1 1562.9,1631.7 1569.8,1646.0 1533.1,1617.1 1562.3,1920.7 1574.9,1613.7 1574.8,1823.6 1519.2,1783.6 1508.5,1796.3 1531.0,1736.4 1545.7,1699.3 1575.1,1934.6 1565.8,1979.1 1512.2,1618.7 1569.2,1983.5 1579.2,1800.7 1576.8,1648.4 1507.4,1617.4 1552.3,1615.6 1549.0,1616.9 1511.0,1630.1 1569.7,1696.8 1537.6,1656.8 1546.1,1883.5 1546.0,1660.7 1566.8,1974.2 1516.4,1634.5 1551.2,1614.6 1572.2,1782.0 1559.4,1658.9 1518.1,1716.3 1510.8,1664.9 1527.6,2000.3 1568.6,1661.2 1578.5,1998.3 1506.1,1771.7 1564.0,1654.4 1506.5,1689.4 1536.2,1668.0 1522.1,1815.8 1535.0,1824.4 1538.0,1702.9 1536.8,2010.4 1521.3,1875.4 1552.6,1661.2 1513.9,1806.0 1509.6,1648.2 1503.7,1761.2 1586.0,1825.1 1566.4,1834.3 1513.8,1758.8 1539.6,1638.1 1560.4,1660.7 1573.5,1627.9 1538.5,1797.7 1542.9,1842.3 1567.1,1645.0 1580.8,1878.4 1535.7,1756.7 1555.0,1845.7 1547.9,1754.1 1540.8,1648.5 1508.5,1800.6 1509.3,1707.0 1542.7,1903.6 1510.5,1726.4 1504.4,1815.8 1534.0,1802.4 1540.2,2019.3 1550.3,1708.3 1566.0,1689.8 1517.7,1613.6 1528.9,1981.1 1530.7,1782.4 1534.9,1651.6 1507.2,1618.4 1503.5,1851.2 1576.9,1724.1 1539.4,1613.6 1588.5,1627.0 1574.2,1623.7 1579.3,1860.8 1536.3,2030.3 1556.2,1796.3 1515.6,1709.7 1502.2,1625.4 1568.6,1618.9 1571.8,1634.8 1553.7,1619.6 1542.8,1628.9 1565.0,1676.7 1589.0,1682.8 1568.3,1709.1 1576.1,2011.1 1517.3,1941.1 1549.7,1618.7 1558.4,1940.5 1515.1,1627.1 1532.3,1944.1 1533.3,1685.7 1533.5,2008.3 1532.0,1717.7 1548.3,1774.5 1505.4,1613.6 1544.4,1953.6 1557.4,1770.0 1550.6,1705.6 1574.4,1807.7 1542.5,1677.4 1520.9,1931.4 1507.7,1613.6 1507.7,1708.6 1517.8,1727.3 1514.8,1693.8 1509.2,1613.6 1520.4,1622.0 1510.1,1883.6 1507.4,1773.1 1543.3,2009.0 1515.2,1945.9 1530.8,1980.0 1510.9,1639.6 1508.1,1613.6 1505.2,1710.5 1514.7,1705.5 1576.3,1622.4 1526.8,1723.3 1520.6,1924.9 1557.1,1639.7 1573.4,1662.6 1580.3,1673.4 1558.8,1636.5 1520.0,1657.9 1511.3,1629.1 1533.5,1824.7 1556.6,1694.7 1545.0,1628.2 1503.8,1613.6 1570.0,1613.6 1516.4,1617.1 1572.1,1862.7 1517.0,1613.6 1558.5,1788.6 1547.5,1613.6 1503.1,1699.3 1555.5,1916.7 1546.0,2024.5 1548.9,1871.9 1562.7,1696.8 1560.9,1829.7 1515.2,1619.9 1534.1,1673.1 1571.5,1628.4 1518.7,1613.6 1575.5,1736.4 1577.9,1861.8 1546.8,1673.7 1580.3,1627.0 1562.3,1613.6 1531.2,1687.7 1538.2,1716.7 1581.2,1653.2 1571.4,1618.2 1545.4,1722.0 1568.0,1742.8 1566.0,1663.7 1528.1,1773.4 1551.7,1929.5 1546.9,1672.6 1559.2,1698.1 1529.0,1925.8 1512.3,1647.8 1568.8,1655.9 1532.4,1710.8 1557.4,1670.0 1584.5,1978.2 1517.7,1616.9 1560.7,1993.6 1510.5,1732.6 1534.2,1664.8 1581.7,1613.6 1521.7,1898.7 1507.3,1818.9 1511.5,1736.6 1550.8,1648.2 1576.1,1859.4 1562.7,1613.6 1541.7,1739.0 1561.4,1653.6 1508.8,1743.1 1583.6,1675.2 1548.4,1668.4 1569.5,1672.9 1537.8,1852.1 1510.8,1769.2 1531.8,1613.6 1548.5,1820.4 1575.7,1661.7 1550.5,1671.7 1544.8,1975.9 1516.9,1663.8 1510.2,1697.8 1517.1,1618.8 1532.8,1710.4 1568.6,1683.1 1534.9,1773.0 1520.8,1635.7 1522.9,1932.2 1549.4,1613.6 1567.4,1688.0 1579.4,1618.7 1513.5,1632.4 1564.6,1891.2 1580.2,1888.8 1566.2,1891.8 1533.3,1648.6 1575.1,1693.2 1569.3,1844.2 1586.1,1877.5 1565.8,1780.6 1545.2,1846.0 1512.6,1625.8 1586.2,1613.6 1554.5,1735.2 1517.3,1681.0 1547.3,1661.7 1555.0,2000.2 1561.5,1775.1 1531.5,1927.8 1567.1,1722.0 1541.4,1661.4 1516.6,1613.6 1544.0,1613.6 1561.2,1716.2 1511.9,1706.4 1566.3,1821.6 1574.0,2013.8 1518.7,1852.1 1539.7,1723.4 1580.1,1775.0 1546.6,1629.8 1507.3,1657.0 1584.7,1836.5 1569.7,1886.1 1541.3,1641.2 1514.4,1826.0 1570.0,1613.6 1512.7,1673.5 1568.0,1613.6 1536.5,1689.2 1536.3,1982.7 1578.1,1623.5 1528.6,1627.2 1539.6,1739.8 1501.8,1695.8 1579.8,1712.0 1534.9,1615.8 1539.1,1651.6 1506.0,1893.7 1557.8,1847.3 1572.1,1679.1 1512.7,1690.9 1503.6,1641.7 1572.5,1631.2 1571.1,1766.7 1523.7,1616.9 1564.6,1632.9 1564.1,1916.1 1566.9,1620.3 1511.3,1790.2 1508.1,1642.6 1546.7,1962.9 1535.3,1613.6 1498.5,1685.2 1547.9,1817.9 1560.0,1672.4 1510.9,1701.8 1515.0,1708.6 1526.6,1897.2 1506.1,1634.3 1527.6,1985.1 1572.6,1684.6 1571.6,1613.6 1536.0,1914.9 1511.2,1785.1 1512.5,1825.0 1545.4,1791.8 1578.9,1910.5 1539.8,1724.9 1516.9,1724.1 1529.3,1655.5 1577.4,2028.0 1536.0,1984.5 1550.1,1688.5 1549.1,1753.0 1535.5,1661.6 1564.6,1719.6 1562.3,1686.1 1545.1,1874.0 1508.2,1767.0 1542.8,1692.0 1569.0,1666.0 1507.8,1642.8 1561.8,1657.7 1538.8,1794.2 1571.5,1752.9 1539.4,1613.6 1507.4,1808.5 1536.1,1634.0 1513.0,1917.4 1537.3,1718.9 1573.8,1784.1 1583.6,1693.9 1552.7,1657.8 1535.7,1744.1 1544.8,1630.8 1575.9,1708.2 1543.4,1704.5 1537.9,1747.5 1580.7,1910.4 1518.0,1739.5 1524.1,1613.8 1548.5,1647.9 1540.3,1773.3 1575.5,1761.8 1517.9,1682.3 1586.4,1675.2 1573.4,1740.3 1543.5,1653.6 1525.0,1805.5 1531.9,1873.3 1580.5,1740.6 1570.3,1618.7 1512.7,1649.6 1524.7,1855.1 1530.8,1801.6 1517.0,1613.6 1521.0,1617.3 1570.1,1678.9 1521.6,1613.6 1515.7,1858.5 1575.2,1771.2 1541.1,1796.8 1517.1,1675.1 1550.3,1613.6 1535.9,1811.0 1573.7,1613.6 1590.3,1769.6 1577.1,1640.2 1536.9,1770.4 1518.0,1784.0 1550.8,1680.9 1571.9,1756.5 1555.1,1613.6 1516.2,1941.9 1545.7,1918.4 1551.9,2005.4 1499.4,1642.8 1517.4,1925.0 1535.2,1618.3 1537.6,2004.9 1575.1,1709.3 1515.7,1754.1 1508.7,1633.5 1527.7,1637.3 1521.4,1869.5 1550.1,1826.4 1578.0,1779.3 1551.9,1688.2 1542.5,2033.4 1576.2,1613.6 1569.0,1643.9 1572.3,1615.6 1525.0,1928.1 1514.8,1878.7 1531.8,1995.1 1567.6,1630.9 1553.1,1680.5 1525.2,1952.6 1508.6,1632.8 1585.2,1765.8 1588.6,1740.1 1538.7,1960.1 1537.4,2033.5 1520.2,1946.8 1550.7,1850.7 1523.0,1794.7 1559.2,1628.5 1556.6,1627.5 1526.5,1613.6 1570.0,1693.8 1513.5,1613.6 1539.2,1613.6 1524.0,1664.8 1523.6,1701.3 1513.8,1625.0 1505.5,1708.2 1571.3,1689.8 1516.8,1613.6 1517.5,1693.7 1543.6,1912.4 1574.0,1630.6 1532.0,1710.3 1544.7,1762.1 1575.6,1616.8 1530.6,2005.8 1577.3,1647.6 1515.7,1803.0 1519.6,1658.2 1541.0,1653.9 1513.6,1842.9 1510.1,1624.4 1529.2,1792.3 1520.4,1811.3 1527.8,1639.5 1556.4,1867.4 1554.9,2002.6 1549.6,1841.3 1504.1,1809.7 1562.4,1638.7 1568.2,1753.3 1542.2,1857.4 1586.3,1835.5 1533.7,1657.4 1550.3,1673.2 1500.7,1815.9 1577.0,1761.7 1529.6,1982.5 1535.6,1993.2 1511.9,1774.3 1561.7,1826.0 1510.4,1900.0 1516.5,1791.9 1550.8,1695.0 1562.9,1623.5 1512.5,1620.1 1532.6,1672.3 1573.3,1613.6 1509.5,1801.7 1571.4,1648.3 1574.8,1875.6 1530.9,1827.5 1532.0,1922.9 1533.9,1724.3 1582.8,1820.1 1575.5,1629.9 1566.3,1827.9 1537.7,1613.6 1513.6,1617.3 1538.0,1613.6 1540.5,1776.4 1519.2,1858.0 1574.8,1671.9 1506.4,1781.3 1504.7,1613.6 1545.3,1770.0 1538.7,1634.5 1535.3,1721.8 1505.8,1684.5 1526.1,1791.6 1570.3,1724.4 1509.6,1638.3 1554.0,1819.5 1570.4,1796.8 1537.0,1978.9 1558.1,1750.9 1510.2,1673.6 1511.1,1648.6 1546.3,1965.3 1510.1,1776.5 1544.1,1760.9 1513.7,1718.5 1571.4,1649.5 1522.6,1650.4 1570.9,1617.5 1586.5,1658.0 1566.0,1865.9 1567.8,1671.2 1518.8,1882.4 1525.8,1717.3 1545.8,1791.2 1533.7,1632.9 1509.5,1613.6 1544.1,1835.1 1549.5,1999.7 1535.6,1654.8 1522.3,1842.2 1518.9,1766.4 1568.1,1640.3 1515.2,1906.9 1532.5,1661.6 1548.5,1613.6 1567.9,1693.3 1505.9,1613.6 1541.5,1997.4 1578.6,1925.3 1549.7,1937.2 1570.9,1765.7 1544.7,1829.7 1581.5,1910.9 1553.2,1903.7 1529.3,1738.3 1557.2,1682.8 1515.6,1757.2 1546.7,1679.6 1545.3,1636.3 1573.0,1649.9 1547.5,1712.2 1571.3,1735.0 1501.6,1756.5 1562.8,1705.2 1510.5,1773.1 1565.9,1719.7 1510.8,1689.9 1537.8,1783.3 1545.1,1646.1 1566.7,1648.4 1579.8,1832.0 1548.4,1680.7 1552.7,1673.7 1508.1,1638.7 1577.7,1768.4 1580.0,1720.6 1501.8,1763.7 1511.9,1613.6 1548.8,1987.0 1580.9,1873.1 1539.1,1724.5 1539.7,1861.4 1505.6,1653.6 1575.3,1794.3 1518.7,1692.5 1570.4,1767.0 1563.4,1803.8 1547.7,1613.6 1564.2,1702.0 1584.5,1686.4 1510.5,1716.7 1532.9,2007.3 1535.4,1786.2 1536.6,1851.1 1546.6,1692.7 1547.4,1613.6 1572.1,1632.4 1506.3,1871.1 1581.3,1746.4 1518.3,1773.0 1548.8,1792.4 1509.6,1619.2 1568.3,1752.6 1555.5,1973.6 1548.6,1629.7 1516.7,1673.1 1512.0,1806.2 1514.8,1712.5 1585.9,1705.6 1538.4,1659.7 1528.3,1819.5 1580.2,1912.8 1577.4,1646.5 1587.1,1613.6 1557.0,1657.4 1564.7,1702.9 1544.3,1883.7 1579.3,1790.9 1506.8,1784.6 1558.0,1732.3 1560.2,1619.8 1509.8,1613.6 1512.0,1645.0 1535.1,1733.7 1577.4,1636.9 1548.3,1790.7 1524.7,1954.1 1523.3,1614.7 1531.6,1700.6 1533.4,1613.6 1553.3,1747.5 1543.6,1638.3 1518.3,1775.2 1538.7,1859.3 1577.0,1883.3 1521.7,1742.2 1551.5,1613.6 1533.8,1714.3 1540.5,1613.6 1518.6,1641.3 1583.2,1658.8 1582.6,1635.3 1570.0,1617.2 1529.1,1926.5 1531.6,1998.0 1536.4,1980.2 1559.5,1670.8 1511.5,1613.6 1558.4,1765.9 1537.8,1613.6 1565.0,1654.0 1554.3,1613.6 1563.6,1633.9 1511.1,1613.6 1537.1,2029.1 1579.6,1739.8 1535.5,2000.8 1538.9,1966.5 1567.6,1738.4 1563.2,1633.8 1511.8,1840.4 1512.7,1673.4 1542.0,1635.4 1579.5,1929.7 1580.6,1701.9 1508.8,1674.4 1577.6,1636.2 1583.1,1683.2 1551.6,1708.2 1537.3,2017.0 1580.9,1786.4 1559.6,1943.2 1543.7,1643.9 1517.7,1615.3 1526.0,1977.7 1551.9,1784.6 1515.0,1718.8 1520.8,1656.1 1535.9,1613.6 1549.6,1930.2 1543.6,1700.6 1572.6,1613.6 1501.8,1613.6 1554.3,1632.1 1580.6,1681.4 1520.7,1817.7 1529.5,1980.0 1572.6,1812.2 1510.4,1613.6 1508.5,1855.1 1574.9,1716.9 1563.0,1689.2 1574.8,1716.6 1533.7,1693.1 1574.2,1860.4 1573.6,1639.7 1581.5,1710.6 1517.1,1922.8 1576.4,1667.5 1564.5,1740.9 1559.9,1698.6 1574.6,1768.0 1536.4,1755.4 1523.5,1664.1 1512.3,1613.6 1530.5,1629.1 1567.0,1613.6 1564.5,1844.9 1570.1,1921.0 1535.8,1827.4 1581.6,1830.7 1569.9,1680.8 1548.1,1710.0 1541.0,1919.1 1511.6,1641.4 1509.5,1676.5 1564.8,1726.6 1507.7,1780.5 1579.2,1641.7 1562.1,1614.5 1556.5,1690.4 1568.0,1671.9 1565.5,1621.3 1580.4,1824.9 1559.6,1746.8 1511.0,1661.4 1518.3,1812.0 1514.4,1823.7 1584.9,1632.9 1521.0,1630.6 1533.2,2019.2 1575.3,1613.6 1526.4,1637.1 1554.7,1783.7 1543.5,1723.6 1512.4,1613.6 1554.2,1782.4 1529.5,1647.7 1540.3,1615.5 1518.7,1785.2 1537.2,1998.4 1576.3,1668.9 1546.0,1653.0 1566.7,1940.7 1540.4,1646.9 1535.1,1891.3 1495.3,1662.0 1582.7,1985.7 1515.9,1621.3 1505.3,1702.9 1579.5,1995.1 1530.1,1717.3 1552.4,1765.1 1528.3,1632.8 1536.6,1692.9 1577.6,1737.7 1512.5,1649.4 1499.6,1768.1 1575.7,1877.5 1521.9,1633.0 1551.8,1613.6 1553.7,1742.6" fill="none" stroke="none" marker-start="url(#m_snRNA)" marker-mid="url(#m_snRNA)" marker-end="url(#m_snRNA)"/>
<path d="M1522.5 1617.3L1529.9 1618.0L1537.2 1616.7L1544.6 1615.9L1551.9 1615.0L1559.3 1616.2L1566.0 1616.4L1565.6 1623.5L1567.4 1630.7L1568.4 1637.9L1566.7 1645.0L1564.8 1652.1L1565.0 1659.3L1568.0 1666.5L1566.3 1673.6L1563.9 1680.7L1565.8 1687.9L1564.4 1695.0L1565.0 1702.2L1565.1 1709.4L1564.7 1716.5L1566.2 1723.7L1565.3 1730.8L1564.6 1738.0L1565.7 1745.1L1566.2 1752.3L1563.1 1759.4L1564.7 1766.6L1563.7 1773.9L1564.5 1781.3L1563.0 1788.7L1564.4 1796.0L1564.2 1803.4L1563.8 1810.8L1562.7 1818.1L1563.4 1825.5L1562.4 1832.8L1561.9 1840.2L1563.7 1847.6L1561.9 1854.9L1564.5 1862.3L1563.8 1869.7L1560.4 1876.9L1562.5 1885.0L1560.2 1892.7L1561.0 1900.7L1560.3 1908.6L1557.3 1916.3L1558.7 1924.4L1558.2 1932.1L1553.7 1938.6L1548.7 1943.0L1544.8 1935.8L1545.3 1927.6L1542.8 1920.0L1541.7 1912.2L1537.3 1904.8L1537.9 1897.4L1535.3 1890.3L1537.0 1882.9L1536.3 1875.7L1535.9 1868.4L1537.2 1861.0L1536.1 1853.8L1534.0 1846.6L1535.6 1839.2L1534.5 1832.0L1534.3 1824.7L1533.1 1817.5L1533.8 1810.2L1533.1 1802.9L1532.2 1795.7L1532.0 1788.4L1532.7 1781.1L1530.1 1773.9L1532.3 1766.5L1531.8 1759.2L1531.6 1751.8L1528.5 1744.6L1529.7 1737.1L1530.1 1729.7L1529.9 1722.3L1527.7 1715.1L1529.1 1707.6L1529.0 1700.2L1526.4 1693.0L1528.2 1685.5L1526.7 1678.2L1526.0 1670.9L1526.2 1663.5L1525.3 1656.1L1523.1 1648.3L1524.8 1640.2L1525.1 1632.2L1525.2 1624.2Z" fill="#ff7f0e" stroke="#ff7f0e" stroke-width="4" stroke-linejoin="round"/>
<polyline points="1541.1,1901.4 1565.4,1703.6 1526.9,1752.0 1565.6,1618.8 1566.8,1781.2 1536.1,1869.0 1568.4,1693.0 1529.6,1850.3 1530.9,1854.7 1545.5,1936.4 1567.1,1658.9 1551.7,1939.2 1570.8,1766.1 1527.4,1711.9 1522.7,1630.0 1531.3,1744.9 1567.2,1791.1 1556.6,1618.1 1567.4,1824.2 1549.0,1618.0 1540.8,1613.8 1570.0,1732.6 1529.9,1792.1 1567.6,1684.4 1565.3,1867.2 1550.1,1944.7 1565.3,1887.8 1533.6,1842.8 1531.8,1848.3 1528.3,1678.2 1553.1,1615.8 1529.6,1734.7 1536.5,1864.7 1541.2,1916.4 1528.1,1702.5 1561.7,1825.7 1560.4,1780.4 1523.0,1626.6 1565.4,1756.6 1527.5,1764.7 1531.6,1783.1 1537.3,1911.6 1568.7,1794.8 1541.5,1923.4 1568.6,1621.3 1567.2,1808.3 1532.3,1760.7 1519.5,1628.0 1537.2,1914.6 1541.9,1905.2 1565.3,1621.1 1533.3,1877.2 1526.7,1663.2 1525.9,1679.8 1563.9,1754.7 1522.8,1719.8 1559.3,1921.1 1565.5,1752.1 1520.5,1657.9 1526.6,1634.1 1561.0,1917.5 1557.4,1920.0 1523.5,1732.9 1565.7,1834.2 1529.4,1613.7 1530.3,1769.0 1568.5,1787.6 1522.5,1623.1 1546.3,1942.4 1567.8,1746.2 1559.6,1901.2 1524.9,1746.3 1532.0,1786.9 1528.6,1826.6 1532.5,1867.5 1560.7,1893.5 1565.5,1843.5 1522.9,1616.6 1566.7,1622.2 1532.5,1804.0 1527.6,1732.5 1535.1,1812.4 1532.0,1755.6 1566.3,1831.6 1561.2,1886.8 1569.1,1775.2 1561.7,1897.3 1541.3,1920.6 1515.0,1627.1 1566.6,1875.7 1529.7,1798.0 1566.1,1754.5 1567.9,1741.1 1536.6,1827.8 1567.4,1839.9 1547.0,1935.1 1527.9,1684.8 1554.8,1944.4 1563.5,1872.9 1567.6,1644.6 1569.8,1721.4 1566.0,1663.6 1566.1,1738.3 1566.4,1701.8 1530.3,1756.7 1566.7,1909.4 1524.0,1742.1 1567.8,1810.6 1558.6,1913.5 1530.7,1708.7 1565.2,1793.9 1565.3,1616.7 1569.1,1737.7 1541.3,1930.9 1570.7,1736.4 1567.1,1729.6 1533.6,1860.0 1562.7,1861.6 1534.2,1855.9 1536.8,1896.3 1565.7,1741.0 1565.0,1784.3 1526.9,1704.4 1559.9,1903.9 1539.5,1859.0 1522.9,1699.2 1569.4,1798.1 1529.3,1763.0 1561.4,1901.2 1531.2,1795.6 1569.6,1690.5 1526.0,1640.6 1536.7,1880.5 1534.8,1807.4 1538.0,1905.3 1566.9,1635.0 1539.4,1874.9 1561.3,1855.4 1544.7,1928.2 1524.0,1747.4 1524.1,1641.6 1568.9,1772.6 1564.8,1762.2 1527.6,1800.7 1568.0,1697.7 1565.1,1660.8 1530.8,1779.3 1563.3,1857.8 1535.6,1615.0 1570.6,1624.1 1546.8,1930.4 1524.1,1680.5 1537.9,1877.8 1569.8,1757.5 1532.7,1873.4 1564.3,1872.7 1554.0,1619.8 1563.9,1759.7 1530.6,1822.0 1562.4,1896.5 1565.1,1919.1 1542.3,1925.6 1561.1,1849.8 1569.9,1653.2 1526.9,1669.4 1520.5,1652.1 1568.9,1852.9 1530.6,1862.8 1565.8,1750.5 1560.9,1916.5 1547.5,1613.6 1525.4,1652.4 1543.4,1943.9 1568.3,1742.7 1566.8,1858.8 1571.8,1645.9 1566.4,1639.3 1568.9,1728.3 1522.6,1741.8 1566.9,1647.5 1534.7,1900.2 1566.2,1663.9 1556.1,1930.5 1566.3,1628.5 1566.5,1651.1 1558.1,1932.2 1560.9,1906.9 1563.5,1633.9 1532.2,1816.6 1530.3,1805.1 1570.8,1709.2 1566.5,1682.7 1519.3,1686.8 1538.6,1882.0 1535.0,1854.1 1527.3,1785.2 1561.6,1776.8 1568.5,1782.6 1568.3,1641.9 1531.5,1830.6 1567.8,1623.9 1564.1,1681.1 1562.6,1847.4 1539.0,1920.4 1563.9,1729.8 1534.5,1830.6 1525.4,1648.8 1534.6,1891.4 1522.5,1656.4 1531.1,1836.1 1559.4,1923.4 1565.3,1897.8 1532.9,1882.4 1535.5,1843.5 1536.8,1898.5 1533.7,1836.9 1529.3,1724.6 1536.5,1889.3 1526.9,1716.5 1531.8,1806.6 1562.1,1835.2 1566.4,1785.5 1562.7,1907.8 1560.4,1885.7 1527.3,1668.1 1564.1,1805.8 1568.1,1654.3 1568.7,1691.7 1569.3,1837.2 1523.8,1691.2 1553.4,1933.2 1530.8,1740.8 1563.1,1824.8 1563.3,1679.4 1520.8,1636.3 1566.3,1807.1 1552.0,1616.1 1537.3,1822.6 1571.0,1747.0 1531.4,1771.4 1564.0,1711.8 1554.1,1937.0 1522.1,1708.3 1528.5,1681.3 1562.8,1696.0 1536.5,1903.3 1565.5,1882.6 1569.0,1675.1 1527.4,1694.5 1566.3,1904.7 1570.4,1650.6 1531.0,1810.0 1569.6,1684.7 1527.1,1646.6 1570.0,1856.7 1525.1,1713.2 1566.1,1698.9 1569.2,1714.3 1570.3,1790.2 1563.4,1783.9 1535.5,1618.5 1561.3,1615.6 1567.7,1654.5 1560.7,1714.4 1562.0,1776.3 1569.4,1769.5 1523.7,1694.4 1564.6,1805.0 1569.3,1704.8 1565.5,1669.7 1523.9,1701.0 1543.4,1894.6 1532.3,1856.2 1523.1,1620.3 1572.9,1706.8 1521.0,1623.2 1527.6,1738.6 1528.5,1710.1 1572.2,1622.6 1567.6,1724.0 1531.0,1773.4 1524.0,1655.4 1566.4,1809.6 1572.0,1865.5 1534.5,1790.7 1563.6,1769.9 1535.7,1859.1 1563.5,1744.9 1557.0,1929.2 1558.6,1863.2 1524.1,1734.5 1569.0,1665.6 1516.5,1697.8 1534.6,1838.3 1564.5,1720.8 1570.7,1725.1 1522.5,1637.8 1518.2,1630.6 1523.9,1671.9 1527.5,1727.9 1564.3,1927.1 1533.3,1887.7 1531.9,1774.3 1560.8,1925.6 1527.5,1714.6 1560.4,1615.6 1519.3,1635.9 1524.5,1803.8 1535.3,1801.2 1563.3,1722.2 1536.6,1909.0 1526.3,1755.9 1531.5,1776.6 1566.1,1819.0 1531.6,1796.0 1566.2,1736.4 1562.2,1731.7 1523.7,1676.9 1527.7,1760.8 1535.1,1833.4 1566.4,1839.4 1531.4,1812.1 1531.4,1841.8 1528.1,1826.9 1525.6,1664.9 1568.9,1827.0 1524.2,1620.7 1562.9,1668.2 1564.1,1864.7 1568.6,1673.6 1533.0,1615.3 1529.6,1797.7 1566.3,1640.0 1568.5,1638.4 1569.7,1814.8 1523.1,1683.8 1563.7,1789.0 1564.5,1801.3 1561.0,1881.4 1560.7,1876.9 1543.3,1927.6 1549.6,1942.3 1568.7,1850.4 1519.9,1645.9 1551.7,1937.5 1545.0,1920.0 1530.2,1692.1 1564.0,1827.5 1519.7,1666.6 1557.4,1910.4 1567.7,1686.9 1565.6,1891.6 1557.7,1893.3 1562.8,1878.5 1539.2,1925.0 1553.7,1933.8 1538.0,1845.3 1564.8,1829.6 1529.4,1710.4 1566.6,1616.4 1542.1,1912.7 1520.0,1654.3 1525.5,1766.9 1530.5,1809.0 1566.2,1773.4 1568.2,1706.4 1534.7,1817.1 1536.8,1898.8 1567.9,1691.4 1562.2,1707.6 1523.0,1684.6 1527.6,1723.4 1572.3,1701.2 1527.9,1704.9 1533.5,1787.4 1538.4,1885.2 1532.2,1832.4 1523.8,1715.1 1567.9,1633.4 1569.7,1764.9 1570.2,1842.9 1564.1,1726.2 1569.9,1848.1 1566.0,1822.2 1526.3,1688.7 1569.5,1660.3 1529.8,1763.1 1529.1,1770.2 1563.7,1815.1 1526.8,1674.9 1528.8,1717.3 1557.8,1932.7 1566.5,1760.1 1569.2,1653.1 1569.7,1669.9 1546.0,1939.5 1562.7,1910.6 1537.2,1872.5 1565.2,1676.0 1522.7,1726.8 1536.4,1880.1 1532.3,1860.8 1566.6,1813.0 1536.3,1869.6 1526.5,1663.8 1566.3,1664.9 1569.5,1835.4 1519.7,1633.4 1535.4,1866.0 1562.8,1820.5 1542.8,1917.6 1529.5,1766.6 1557.5,1916.8 1540.2,1615.6 1564.7,1678.3 1565.4,1833.0 1566.8,1696.2 1568.6,1627.9 1532.6,1828.9 1548.6,1937.6 1537.0,1841.6 1566.4,1743.6 1563.3,1643.5 1527.1,1776.5 1531.4,1751.5 1565.9,1794.9 1557.0,1923.1 1560.3,1845.8 1526.1,1668.7 1564.8,1778.1 1541.2,1907.9 1565.5,1748.7 1564.4,1768.3 1562.3,1863.2 1527.1,1643.5 1563.1,1709.4 1570.4,1633.1 1525.9,1729.5 1528.9,1719.0 1537.6,1870.0 1566.7,1889.9 1528.4,1750.1 1522.8,1721.8 1526.3,1742.1 1561.7,1870.3 1532.0,1837.1 1525.1,1650.3 1566.7,1840.7 1532.7,1777.5 1569.3,1717.1 1567.2,1667.0 1535.9,1912.9 1523.7,1638.0 1536.9,1845.5 1562.6,1616.0 1525.8,1689.0 1565.1,1637.4 1558.3,1615.3 1529.3,1791.0 1533.0,1820.6 1529.0,1724.2 1540.2,1916.9 1567.0,1712.3 1569.9,1813.1 1566.6,1699.5 1567.5,1762.5 1569.2,1682.0 1568.6,1630.1 1533.8,1811.6 1562.5,1883.4 1531.5,1819.8 1566.9,1895.5 1569.4,1768.0 1564.7,1728.5 1539.0,1903.6 1523.9,1750.4 1540.2,1617.0 1568.1,1717.9 1543.2,1937.5 1568.4,1870.0 1536.2,1877.5 1526.0,1702.2 1526.0,1616.6 1528.0,1748.7 1569.3,1647.4 1567.9,1804.1 1563.8,1906.5 1523.7,1660.7 1534.7,1893.3 1530.4,1785.0 1525.3,1673.7 1566.1,1799.8 1535.2,1849.8 1547.6,1939.7 1560.2,1912.9 1526.6,1645.3 1567.3,1819.1 1519.8,1692.7 1524.2,1662.3 1565.7,1751.4 1570.0,1629.1 1568.5,1658.8 1520.3,1617.9 1525.1,1738.7 1541.2,1934.7 1567.1,1861.1 1531.5,1779.7 1564.2,1752.4 1563.6,1867.4 1530.6,1758.2 1561.8,1928.3 1564.8,1802.2 1526.7,1674.0 1522.8,1628.2 1522.5,1698.4 1525.6,1782.4 1533.9,1885.3 1538.6,1864.2 1532.2,1772.1 1523.4,1731.1 1564.1,1891.0 1571.2,1677.5 1527.8,1658.9 1565.0,1821.2 1543.7,1889.3 1534.6,1792.1 1533.4,1847.2 1536.1,1893.3 1552.4,1935.8 1569.2,1672.4 1535.3,1818.0 1567.8,1881.0 1542.1,1931.9 1557.4,1931.3 1570.6,1845.5 1562.8,1878.9 1565.8,1797.1 1535.4,1815.3 1566.3,1688.9 1563.8,1853.1 1568.7,1792.8" fill="none" stroke="none" marker-start="url(#m_miRNA)" marker-mid="url(#m_miRNA)" marker-end="url(#m_miRNA)"/>
<polyline points="1548.7,1778.1 1545.6,1613.6 1549.4,1622.2 1536.4,1654.2 1546.1,1633.4 1529.8,2022.2 1527.3,1799.8 1556.8,1738.2 1530.3,1629.2 1548.4,1750.8 1551.9,1666.2 1549.1,1701.3 1538.7,1733.9 1551.4,1613.6 1559.8,1660.0 1562.1,1644.9 1545.5,1812.8 1547.0,1683.1 1558.3,1613.6 1533.5,1613.6 1542.9,1677.8 1521.3,1613.6 1570.5,1614.4 1565.0,1747.8 1562.6,1619.1 1540.3,1664.2 1545.7,1613.6 1530.0,1728.9 1531.3,1622.1 1539.0,1613.6 1557.9,1624.0 1562.1,1633.7 1535.5,1676.8 1548.2,1765.7 1550.8,1633.9 1544.8,1668.6 1541.9,1703.6 1545.8,1937.7 1530.0,1623.3 1537.8,1719.3 1526.0,1673.1 1560.3,1683.3 1534.8,1677.8 1548.9,1622.1 1541.0,2028.9 1549.8,1613.6 1538.1,1852.4 1554.1,1752.0 1530.7,1625.8 1567.9,1692.5 1533.4,1636.1 1533.1,1840.4 1565.3,1630.2 1546.1,1872.9 1529.6,1714.1 1527.6,1805.8 1554.0,1650.9 1544.8,2023.2 1548.5,1837.4 1540.5,1707.1 1514.1,1730.2 1536.2,1613.6 1570.5,1875.6 1553.2,1693.5 1542.2,1635.5 1557.4,1760.2 1533.5,1613.6 1554.7,1613.6 1540.9,1613.6 1531.2,1646.6 1558.9,1619.1 1558.4,1658.1 1552.3,1636.4 1545.2,1777.6 1543.2,1726.2 1526.3,1849.1 1542.0,1938.5 1543.9,1615.7 1531.3,1621.5 1536.1,1615.4 1536.1,1882.0 1557.5,1769.7 1535.1,1919.5 1566.6,1660.9 1532.4,1867.1 1526.2,1713.9 1525.0,1613.6 1533.5,1657.2 1555.6,1647.2 1546.3,1717.9 1526.3,1613.6 1546.1,1735.3 1532.3,1654.2 1555.9,1629.9 1523.9,1613.6 1524.5,1813.6 1550.7,1659.3 1537.5,1631.5 1536.2,1669.4 1557.6,1794.4 1532.1,1776.7 1546.3,1684.8 1552.9,1664.7 1534.4,1758.8 1553.0,1648.3 1542.9,1733.2 1550.4,1724.8 1533.2,1706.5 1522.9,1697.3 1529.1,1702.9 1546.5,1685.1 1539.2,1816.8 1553.8,1791.8 1547.3,1755.9 1521.8,1684.7 1559.2,1613.6 1542.6,1820.8 1526.1,1630.3 1527.0,1642.4 1550.0,1668.1 1547.5,1772.8 1546.9,1710.1 1548.6,1894.7 1544.0,1613.6 1560.5,1687.5 1540.7,1809.4 1542.9,1877.4 1550.6,1613.6 1544.6,1918.2 1542.7,1613.6 1555.2,1709.2 1542.5,1760.1 1570.5,1738.5 1544.1,1737.6 1529.2,1708.7 1547.5,1774.5 1563.9,1869.3 1548.5,1626.2 1549.0,1726.6 1551.3,1613.6 1556.2,1659.2 1530.9,1777.3 1548.6,1701.7 1539.1,1635.2 1541.6,1789.0 1543.0,1787.5 1539.3,1627.7 1542.9,1645.7 1569.4,1891.3 1545.4,1695.4 1536.4,1620.0 1538.7,1749.7 1545.0,1613.6 1559.0,1670.4 1551.3,1684.2 1555.0,1631.0 1536.1,1618.0 1548.6,1642.9 1553.7,1649.2 1546.8,1724.1 1557.7,1744.3 1552.4,1752.2 1551.8,1894.8 1552.4,1613.6 1545.1,1642.7 1528.6,1972.5 1528.4,1667.1 1539.7,1811.1 1525.5,1719.4 1551.4,1832.1 1548.5,1824.0 1542.1,1776.6 1547.7,1624.9 1514.1,1692.7 1538.2,1879.8 1551.5,1716.4 1561.3,1613.6 1541.7,1662.5 1556.3,1966.8 1541.1,1827.0 1547.3,1619.3 1543.8,2002.2 1531.2,1704.9 1534.5,1651.1 1531.5,1686.5 1536.2,1993.9 1530.6,1625.8 1542.1,1672.7 1540.1,1807.4 1540.5,1770.7 1538.5,1653.7 1537.2,1685.9 1540.5,1637.2 1551.1,1656.0 1543.1,1861.2 1531.8,1662.3 1529.4,1613.6 1554.1,1710.8 1563.8,2006.5 1548.6,1645.7 1552.4,1644.2 1541.9,1703.7 1530.4,1613.6 1549.0,1730.6 1557.9,1790.0 1532.2,1642.8 1535.8,1624.1 1544.3,1865.9 1545.7,1668.8 1524.3,1980.7 1544.6,1617.9 1547.6,1709.2 1545.0,1935.5 1564.2,1891.4 1540.1,1675.5 1536.1,1703.4 1546.7,1661.9 1533.5,1657.4 1534.0,1754.0 1567.9,1737.5 1540.6,1905.2 1537.5,1634.3 1565.1,1657.7 1540.6,1623.8 1521.1,1623.6 1537.4,1701.9 1570.5,1957.5 1568.3,1622.9 1521.4,1613.6 1531.6,1822.2 1556.3,1613.6 1526.7,1613.6 1549.0,1618.5 1550.4,1670.7 1551.0,1684.0 1542.6,1878.7 1545.3,1698.5 1532.3,1613.6 1543.8,1709.5 1535.1,1716.0 1533.0,1926.8 1562.0,1831.5 1550.7,1881.4 1561.7,1643.5 1560.9,1728.2 1544.9,1671.3 1517.4,1616.7 1535.0,1830.4 1554.2,1613.6 1544.1,1639.3 1547.1,1676.6 1553.2,1652.8 1526.1,1710.3 1538.2,1718.8 1543.0,1759.7 1539.2,1680.3 1539.3,1850.0 1554.3,1737.6 1555.5,1704.7 1537.2,1613.6 1550.5,1915.5 1555.4,1813.8 1525.4,1613.6 1531.3,1697.9 1549.8,1613.6 1555.7,1989.5 1548.0,1638.0 1547.5,1799.5 1555.4,1770.0 1547.4,1669.5 1565.3,1748.8 1526.4,1755.5 1562.4,1888.9 1541.3,1761.9 1556.9,1841.5 1546.3,1613.6 1553.9,1664.4 1543.9,1681.8 1544.7,1668.9 1537.5,1613.6 1541.7,1980.5 1557.2,1626.7 1551.7,1630.0 1539.4,1661.6 1545.3,1640.7 1514.1,1631.0 1541.8,1646.1 1529.5,1674.8 1561.8,1658.8 1561.5,1662.6 1564.6,2017.6 1543.3,1807.6 1542.5,1734.7 1546.1,1734.1 1539.2,1683.5 1555.8,1649.6 1548.8,1694.5 1526.6,1926.5 1524.4,1613.6 1557.8,1750.7 1537.0,1625.0 1534.4,1676.7 1541.3,1656.9 1533.3,1624.1 1540.5,1622.3 1548.8,1649.4 1535.5,1636.3 1541.6,1739.5 1554.1,1828.5 1553.9,1977.2 1568.4,1787.9 1542.8,1816.9 1545.9,1649.8 1540.7,1970.7 1543.3,1628.4 1540.3,1621.8 1564.4,1669.5 1537.6,1613.6 1539.6,1656.6 1541.4,1727.6 1538.8,1925.7 1544.4,1628.3 1549.4,1613.6 1540.3,1726.0 1527.9,1634.1 1570.5,1621.0 1544.4,1613.6 1537.9,1747.3 1539.7,1613.6 1535.1,1681.8 1520.6,1686.9 1530.0,1912.6 1553.8,1793.6 1554.7,1651.8 1541.4,1991.7 1545.4,1932.7 1552.9,1696.3 1539.0,1833.6 1551.1,1668.7 1544.6,1655.3 1530.5,1613.6 1541.0,1680.3 1558.2,1613.6 1542.7,1613.6 1559.7,1621.6 1546.5,1717.5 1542.8,1689.7 1530.4,1962.0 1539.1,1749.3 1551.0,1737.6 1536.4,1868.6 1551.2,1699.4 1536.0,1764.8 1549.1,1745.5 1554.9,1677.1 1541.9,1650.6 1546.1,1643.9 1535.9,1943.3 1541.6,1652.6 1562.7,1632.3 1537.4,1617.8 1530.5,1765.7 1538.0,1986.3 1554.4,1658.2 1545.0,1719.4 1525.1,1731.7 1541.9,1801.5 1535.5,1870.8 1542.0,1620.9 1541.7,1677.5 1540.2,1727.8 1541.1,1903.3 1528.3,1715.8 1545.4,1790.0 1528.8,1613.6 1570.5,1676.4 1550.3,1817.5 1536.1,1726.2 1540.5,1849.6 1533.1,1613.6 1547.2,1667.4 1549.0,1951.0 1557.0,1666.5 1557.0,1897.8 1540.9,1725.8 1543.8,1613.6 1539.1,1679.9 1544.4,1613.7 1554.6,1613.6 1542.2,1665.7 1535.7,1712.6 1543.9,1807.0 1537.2,1640.2 1531.4,1624.4 1534.4,1640.0 1537.5,1617.0 1541.1,1675.1 1544.1,1642.0 1523.4,1803.8 1544.8,1667.0 1550.5,1911.2 1547.6,1758.3 1526.7,1733.8 1533.8,1704.6 1526.9,1760.0 1549.7,1632.9 1565.8,1760.5 1549.7,1699.3 1570.5,1613.6 1543.1,1753.0 1547.2,1613.6 1541.0,1693.1 1541.0,1706.0 1526.3,1730.9 1549.5,1662.2 1557.7,1835.3 1515.0,1784.1 1546.0,1968.2 1542.2,1713.7 1548.4,1621.5 1535.1,1648.7 1544.8,1616.4 1537.8,1613.6 1536.2,1668.1 1543.6,1638.2 1536.4,1764.9 1546.5,1785.8 1570.5,1675.6 1527.1,1628.1 1536.9,1615.1 1524.9,1661.1 1524.2,1704.6 1544.8,1613.6 1547.0,1702.6 1543.9,1636.7 1542.5,1889.7 1535.2,1968.3 1552.9,1726.5 1546.9,1758.5 1546.6,1792.1 1535.7,1821.9 1536.6,1649.9 1534.7,1923.8 1550.4,1859.0 1554.3,1734.0 1557.5,1613.6 1524.6,1677.2 1528.6,1663.8 1548.1,1940.3 1542.5,1817.5 1556.5,1662.3 1551.8,1685.3 1539.3,1613.6 1551.5,1649.1 1533.8,1760.7 1546.7,1620.2 1545.7,1679.4 1530.2,1662.3 1557.5,1726.7 1557.4,1813.1 1528.4,1634.1 1570.5,1613.6 1547.2,1613.6 1556.0,1614.0 1543.7,1624.7 1542.1,1920.7 1560.6,1631.8 1548.0,1927.6 1547.8,1751.1 1561.3,1619.4 1537.1,1638.0 1544.1,1616.2 1549.7,1763.6 1540.4,1713.7 1537.4,1614.0 1560.2,1661.3 1559.6,1647.9 1525.4,1641.7 1545.6,1661.8 1540.0,1613.6 1554.2,1752.6 1552.0,1794.2 1535.8,1613.6 1534.1,1887.1 1538.1,1638.7 1539.4,1618.2 1551.6,1613.6 1539.3,1736.2 1529.1,1834.3 1551.3,1697.6 1554.7,1623.8 1556.2,1686.0 1541.8,1709.5 1551.8,1659.8 1536.4,1647.6 1559.5,1667.8 1525.6,1717.0 1554.1,2023.7 1535.5,1613.6 1539.9,1620.4 1535.8,1787.0 1549.4,1664.1 1548.1,1725.4 1562.2,1652.9 1539.6,1675.4 1552.7,1933.3 1536.8,1630.3 1555.0,1625.6 1545.2,1644.9 1560.9,1795.9 1539.9,1808.0 1532.3,1631.1 1565.3,1719.1 1553.4,1679.3 1551.7,1677.8 1539.6,1653.2 1538.8,1617.7 1536.0,1696.8 1547.7,1683.9 1534.7,1819.2 1517.7,1858.3 1554.1,1909.3 1567.7,1702.9 1550.2,1643.7 1524.5,1644.0 1536.7,1632.4 1546.2,1727.9 1557.9,1613.6 1539.2,1689.8 1525.0,1712.3 1542.4,1954.1 1530.8,1722.0 1537.9,1731.7 1549.0,1707.9 1548.3,1698.1 1538.1,1914.0 1536.3,1680.0 1536.0,1809.2 1536.6,1613.6 1539.3,1636.0 1547.4,1913.8 1540.0,1909.3 1548.8,1750.3 1552.5,1627.7 1558.2,1967.7 1564.8,1686.7 1544.6,1652.8 1558.0,1908.4 1531.2,1634.1 1559.2,1620.9 1554.6,1891.8 1537.7,1672.5 1542.3,1647.0 1523.6,1613.6 1540.7,1733.6 1526.4,1731.9 1559.9,1747.2 1549.1,1622.0 1539.3,1998.6 1547.6,1752.9 1540.3,1666.2 1541.0,1613.6 1548.7,1685.5 1535.1,2015.8 1532.4,1751.1 1557.3,1913.0 1546.8,1708.6 1554.9,1706.3 1542.7,1613.6 1554.0,1669.5 1518.7,1613.6 1526.8,1774.5 1539.7,1863.2 1527.9,1732.0 1538.0,1624.7 1546.8,1640.0 1546.6,1678.2 1534.7,1658.9 1552.0,2001.2 1553.0,1632.8 1543.0,1650.5 1530.6,1742.2 1529.5,1735.1 1549.9,1720.8 1536.1,1702.6 1528.6,1903.7 1537.7,1775.0 1531.2,1670.3 1564.6,1781.3 1534.5,1613.6 1546.6,1635.9 1548.8,1698.7 1543.4,1774.7 1534.5,1613.6 1545.1,1706.8 1533.2,1774.8 1536.3,1951.7 1545.3,1810.2 1551.0,1643.7 1545.2,1613.6 1538.9,1613.6 1541.6,1832.7 1542.4,1637.2 1540.0,1613.6 1543.5,1700.3 1534.9,1613.6 1535.0,1756.4 1540.8,1915.8 1555.6,1789.4 1534.4,1613.6 1551.9,1705.6 1538.7,1671.4 1538.8,1652.5 1551.4,1773.7 1542.8,1637.9 1554.5,1613.6 1532.4,1615.2 1537.9,1855.5 1539.6,1827.2 1540.1,1622.4 1554.5,1623.6 1558.8,1961.2 1570.5,1666.4 1546.0,1642.6 1539.2,1852.4 1521.0,1798.3 1540.9,1646.3 1542.8,1763.3 1561.5,1988.4 1549.5,1678.5 1552.9,1972.3 1548.7,1693.6 1530.5,1700.6 1538.3,1772.8 1545.0,1789.7 1542.6,1613.6 1524.9,1859.4 1541.2,1644.5 1548.3,1747.4 1550.2,1728.0 1526.0,1682.8 1560.0,1623.8 1537.5,1613.6 1560.2,1681.8 1534.6,1643.2 1545.2,1618.7 1534.9,1777.8 1550.3,1630.8 1528.8,1763.2 1542.8,1659.8 1553.8,1687.9 1540.4,1702.8 1552.9,1613.6 1545.3,1867.6 1556.9,1780.5 1560.5,1762.3 1530.9,1645.8 1542.1,1919.0 1526.6,1620.3 1542.5,1682.8 1540.0,1635.8 1538.2,1770.3 1529.5,1753.9 1567.8,1865.4 1544.1,1998.7 1532.9,1754.1 1544.0,1618.3 1540.8,1738.7 1550.9,1739.0 1570.0,1613.6 1564.8,1709.2 1533.4,2023.8 1547.8,1815.5 1543.8,1816.6 1548.3,1650.9 1533.9,1644.9 1527.1,1720.1 1551.9,1687.6 1555.5,1672.3 1541.5,1848.3 1557.1,1613.6 1526.5,1750.3 1538.4,1613.6 1550.4,1613.6 1546.7,1613.6 1536.9,1865.0 1540.8,1778.6 1552.2,1686.4 1517.4,1819.7 1555.5,1793.2 1532.3,1782.7 1544.6,1686.6 1551.4,1671.1 1545.2,1708.1 1549.8,1614.0 1536.2,1769.5 1524.9,1700.6 1562.8,1649.4 1543.7,1778.6 1551.4,1814.6 1552.7,1658.1 1567.8,1664.2 1530.3,1616.1 1570.5,1661.3 1548.7,1709.5 1525.2,1613.6 1527.0,1614.2 1534.7,1666.7 1529.3,1761.2 1545.0,1952.1 1544.4,1665.7 1534.1,1842.2 1544.2,1901.2 1568.0,1636.5 1529.1,1613.6 1548.9,1728.7 1534.8,1872.5 1550.6,1811.2 1542.9,1679.2 1560.9,1651.1 1528.2,1621.1 1527.0,1750.3 1538.6,1626.7 1543.6,1665.8 1550.3,1730.4 1547.0,1685.8 1529.7,1974.3 1533.0,1647.5 1535.6,1771.6 1552.6,1729.6 1537.0,1819.2 1541.3,1648.8 1554.8,1626.7 1547.1,1711.9 1538.4,1821.5 1549.4,1777.7 1551.5,1621.4 1538.2,1771.9 1537.7,1738.2 1524.1,1669.2 1550.9,1953.7 1554.9,1957.8 1548.3,1715.0 1550.7,1679.3 1548.2,1850.8 1531.7,1644.0 1543.2,1807.5 1566.4,1947.3 1550.9,1613.6 1533.2,1700.8 1540.8,1700.3 1544.3,1781.7 1548.2,1618.3 1558.9,1742.2 1533.3,1774.7 1549.2,1851.5 1543.1,1639.9 1539.2,1681.4 1530.7,1864.4 1535.5,1663.9 1531.6,1614.4 1543.1,1622.3 1553.1,1712.6 1524.5,1633.7 1550.6,1638.2 1553.5,1839.6 1547.6,1613.6 1553.1,1615.4 1554.4,1879.4 1539.8,1704.2 1542.3,1613.6 1537.3,1690.0 1557.8,1663.9 1548.4,1670.1 1535.8,1653.1 1529.6,1687.9 1549.1,1695.9 1560.4,1613.6 1547.8,1632.3 1542.0,1613.6 1550.0,1620.5 1562.0,1652.7 1550.3,1675.4 1551.7,1827.4 1538.8,1639.1 1543.3,1782.6 1546.0,1654.3 1540.9,1787.8 1547.8,1914.4 1536.7,1613.6 1570.0,1628.0 1553.3,1642.3 1545.3,1964.7 1552.2,1973.0 1547.4,1646.2 1556.9,1964.3 1535.4,1613.6 1540.7,1636.8 1531.9,1617.5 1550.5,1730.0 1535.7,1912.6 1542.8,1633.7 1551.1,1741.0 1531.4,1875.8 1570.5,1820.9 1544.9,1613.6 1521.9,1735.8 1557.7,1915.1 1521.3,1636.9 1531.1,1788.5 1523.9,1644.2 1560.8,1639.8 1533.5,1721.1 1533.7,2020.4 1547.5,1677.2 1544.3,1828.3 1535.8,1907.2 1524.9,1746.4 1526.9,1613.6 1566.7,1748.1 1550.4,1813.3 1561.2,1613.6 1535.4,1926.9 1551.4,1623.2 1548.3,1614.8 1559.5,1677.5 1546.6,1698.0 1544.6,1832.9 1547.9,1635.6 1530.9,1666.2 1541.0,1648.6 1540.9,1641.8 1566.3,1963.4 1538.3,1969.4 1557.4,1709.8 1563.4,1617.9 1537.4,1613.6 1535.8,1795.7 1530.4,1628.2 1549.0,1895.6 1535.5,1717.3 1542.1,1613.6 1546.8,1755.5 1542.6,1614.4 1529.4,1651.8 1523.3,1712.2 1543.6,1750.6 1545.1,1830.1 1538.9,1635.4 1556.9,1832.6 1554.3,1675.9 1543.6,1891.5 1539.7,1627.2 1550.3,1686.3 1545.0,1796.6 1527.8,1673.2 1555.3,1631.5 1536.6,1613.6 1527.4,1825.7 1536.2,1617.1 1525.7,1623.7 1546.7,1968.1 1547.5,1670.2 1534.5,1726.1 1563.5,1614.0 1548.2,1655.0 1548.9,1743.7 1519.4,1799.9 1566.7,1628.7 1566.9,1882.6 1551.9,1907.1 1544.9,1649.6 1536.7,1882.4 1531.4,1613.6 1522.5,1807.3 1542.2,1921.1 1551.2,1621.0 1551.1,1650.3 1550.2,1686.7 1567.6,1855.6 1545.3,1643.3 1530.8,1628.8 1554.9,1730.6 1549.8,1613.6 1547.2,1764.2 1538.7,1720.7 1556.5,1669.0 1547.8,1776.2 1560.2,1720.8 1549.0,1680.2 1530.0,1793.3 1538.4,1948.3 1557.4,1711.1 1537.3,1613.6 1538.1,1732.2 1557.8,1618.2 1542.0,1688.7 1528.9,1613.6 1528.6,1631.4 1542.1,1862.9 1548.1,1927.2 1548.4,1613.6 1539.2,1670.6 1530.3,1613.6 1555.9,1781.0 1546.0,1705.9 1540.5,1639.6 1546.9,1879.8 1523.8,1694.1 1527.2,1902.4 1542.4,1754.2 1535.8,1673.9 1549.9,1699.7 1539.1,1658.6 1540.6,1694.1 1547.1,1865.7 1544.6,1834.3 1542.7,1617.3 1539.0,1827.3 1538.2,1634.5 1548.3,1773.4 1539.4,1746.1 1531.8,1937.8 1534.4,1688.4 1553.5,1633.8 1538.1,1613.6 1543.6,1725.0 1544.0,1659.4 1563.9,1682.8 1532.3,1651.1 1555.6,1649.1 1530.8,1747.3 1549.5,1753.7 1560.1,1816.8 1555.1,1681.4 1543.8,1792.9 1563.0,1661.9 1528.8,1619.8 1542.3,1666.0 1536.2,1625.4 1558.1,1704.1 1542.6,1700.1 1542.7,1624.4 1552.0,1798.6 1529.2,1825.6 1564.1,1753.5 1531.3,1634.1 1539.6,1633.2 1542.8,1663.2 1549.7,1692.4 1553.1,1761.3 1541.2,1640.9 1532.2,1668.6 1556.1,1622.9 1557.5,1613.6 1543.3,1624.3 1514.1,1634.3 1557.0,1743.6 1563.5,2032.5 1522.0,1629.1 1533.9,1683.3 1553.6,1652.7 1551.0,1637.3 1540.9,1779.1 1519.0,1678.4 1547.2,1618.5 1549.2,1625.3 1531.2,1746.9 1542.2,1625.4 1540.4,1743.0 1545.5,1658.7 1532.8,1649.2 1564.5,1641.3 1525.5,1619.5 1541.3,1893.5 1552.7,1789.3 1546.2,1853.5 1535.2,1616.0 1528.1,1780.4 1531.6,1872.5 1548.9,1653.2 1544.2,1645.4 1531.3,1720.4 1517.3,1646.1 1547.9,1613.6 1545.4,1624.9 1553.0,1614.9 1524.5,1661.2 1549.8,1759.0 1536.1,1622.0 1546.9,1721.7 1535.8,1643.3 1542.5,1615.3 1520.7,1625.7 1553.1,1690.0 1554.1,1768.7 1538.2,1613.6 1517.0,1673.8 1557.5,1669.7 1555.6,1733.1 1545.8,1681.0 1553.9,1694.2 1530.9,1795.8 1563.0,1667.4 1543.1,1616.7 1569.4,1682.5 1537.5,1715.7 1549.2,1621.1 1545.4,1613.6 1546.7,1736.2 1535.5,1626.6 1540.3,1613.6 1548.7,1617.3 1546.8,1956.4 1553.2,1640.1 1527.9,1661.9 1555.5,1735.3 1515.4,1771.2 1537.0,1750.0 1544.9,1765.0 1530.5,1762.1 1514.1,1668.9 1539.7,1701.4 1536.5,1786.2 1550.7,1632.9 1549.7,1745.0 1522.3,1694.9 1545.8,1929.5 1542.6,1628.8 1540.9,1642.8 1554.0,1913.7 1535.0,1613.6 1552.4,1625.7 1539.4,1796.3 1520.8,1807.2 1540.6,1801.1 1526.6,1647.8 1531.2,1690.9 1517.0,1648.4 1536.3,1653.5 1554.9,1811.7 1549.1,1724.7 1548.4,1924.0 1536.7,1709.0 1524.8,1656.1 1538.7,1640.6 1546.1,1613.6 1536.4,1709.7 1529.6,1916.5 1552.7,1615.7 1553.3,1680.8 1552.4,1977.1 1547.2,1674.4 1548.7,1648.0 1551.2,1671.3 1514.1,1652.4 1544.3,1653.3 1552.3,1682.5 1542.4,1954.7 1533.1,1658.7 1541.0,1616.7 1570.5,1622.8 1557.4,1613.6 1530.9,1675.6 1552.4,1762.6 1563.4,1637.3 1534.2,1821.2 1544.9,1730.2 1526.4,1737.8 1541.4,1620.8 1546.6,1711.3 1553.6,1700.9 1526.3,2030.6 1533.2,1631.1 1550.5,1630.4 1559.1,1638.0 1552.0,1673.7 1557.3,1800.8 1539.6,1972.5 1568.4,1646.2 1529.5,1641.0 1540.1,1750.1 1548.8,1835.6 1522.1,1827.6 1521.4,1613.6 1563.6,1739.7 1546.2,1849.1 1553.3,1645.7 1526.6,1928.9 1523.7,1687.4 1520.1,1798.6 1540.6,1762.5 1528.2,1623.1 1545.1,1625.7 1556.5,1880.8 1545.3,1753.2 1550.2,1678.0 1517.1,1704.8 1527.7,1708.1 1568.6,1617.2 1543.2,2007.8 1536.1,1797.9 1524.8,1814.5 1565.2,1675.6 1530.0,1812.7 1532.9,1962.3 1535.7,1761.1 1532.3,1664.4 1546.9,1777.3 1552.7,1694.5 1554.6,1728.9 1542.0,1899.4 1544.0,1899.3 1519.2,1647.1 1526.9,1658.9 1529.8,1613.6 1547.0,1637.9 1532.4,1659.5 1550.5,1690.7 1536.4,1809.0 1522.7,1725.2 1543.6,1632.4 1557.1,1633.8 1551.5,1714.6 1525.1,1690.3 1555.7,1713.4 1534.3,1876.6 1549.7,1857.4 1542.5,1747.4 1550.7,1653.2 1524.9,1628.6 1539.5,1903.8 1538.4,1634.1 1557.4,1633.5 1530.2,1677.4 1538.0,1721.3 1528.7,1631.9 1543.5,1702.4 1547.0,1676.6 1519.1,1647.1 1528.9,1942.3 1550.9,1746.6 1550.8,1675.6 1553.8,1692.1 1559.4,1617.1 1542.4,1871.3 1528.8,1642.5 1556.5,1631.1 1553.1,1613.6 1528.7,1865.9 1529.5,1749.5 1548.6,1681.2 1543.8,1699.0 1557.4,1679.6 1546.6,1613.6 1544.1,1681.4 1533.7,1698.0 1565.4,1613.6 1543.5,1613.6 1539.1,1762.8 1543.8,1613.6 1538.8,1613.6 1538.2,1613.6 1541.8,1636.4 1543.1,1613.6 1538.1,1613.6 1541.1,1753.6 1537.8,1919.4 1539.7,1822.8 1570.5,1659.6 1550.5,1992.6 1543.0,1682.8 1552.2,1726.3 1547.8,1725.9 1531.6,1701.0 1548.2,1921.9 1528.6,1634.2 1568.5,1613.6 1541.0,1998.5 1546.7,1815.5 1533.1,1781.1 1534.7,1629.4 1546.8,1635.3 1548.5,1630.1 1530.3,1647.0 1547.4,1741.6 1516.6,1613.6 1546.9,1907.9 1534.4,1649.9 1541.5,1613.6 1556.9,1613.6 1557.5,1823.1 1554.2,1688.1 1543.1,1629.8 1536.9,1917.6 1556.8,1722.3 1546.4,1968.5 1557.0,1632.3 1556.6,1751.0 1547.8,1613.6 1529.7,1714.3 1535.6,1613.6 1551.9,1674.6 1526.9,1613.6 1550.3,1669.5 1532.7,1852.4 1541.6,1660.4 1527.5,2011.2 1546.1,1613.6 1531.1,1714.0 1546.8,1706.4 1542.3,1881.2 1531.0,1720.5 1537.1,1613.6 1543.0,1628.4 1531.6,1798.9 1536.2,1735.9 1542.0,1765.9 1530.0,1753.6 1531.7,1834.9 1548.0,1693.9 1541.0,1690.2 1547.8,1818.3 1538.2,1641.2 1553.8,1656.0 1558.6,1766.8 1548.6,1626.2 1543.7,1628.6 1534.8,1650.9 1554.5,1634.3 1539.7,1654.1 1553.4,1700.1 1540.2,1641.1 1550.7,1690.9 1534.1,1839.9 1516.4,1700.5 1549.8,1746.0 1537.2,1637.7 1566.8,1613.6 1529.9,1969.1 1551.5,1613.6 1562.2,1752.9 1549.0,1613.6 1544.0,1684.1 1564.8,1613.6 1539.6,1636.5 1558.0,1643.0 1514.1,1903.4 1544.5,1628.8 1539.5,1638.2 1533.5,1613.6 1526.4,1925.5 1528.1,1755.1 1560.9,1662.1 1542.5,1633.1 1546.3,1632.6 1552.1,1700.3 1550.2,1846.1 1526.2,1838.3 1556.9,1680.9 1538.9,1661.2 1555.1,1727.5 1531.7,1650.6 1531.4,1736.6 1541.4,1624.5 1558.2,1755.2 1546.4,1642.7 1551.0,1677.4 1547.0,1616.7 1520.9,1613.6 1536.0,1827.0 1521.7,1735.4 1538.9,1721.9 1541.9,1882.1 1542.5,1845.9 1531.5,1798.1 1569.3,1649.4 1553.8,1763.9 1546.0,1628.4 1534.0,1621.1 1520.5,1790.3 1542.5,1730.6 1541.8,1878.0 1543.8,1746.8 1531.2,1716.0 1532.2,1752.5 1536.7,1613.6 1544.6,1668.2 1537.3,1683.9 1544.4,1986.5 1541.4,1777.5 1519.6,1758.3 1553.5,1776.4 1521.2,1613.6 1527.4,1709.9 1543.1,1646.4 1527.1,1616.7 1536.7,1898.1 1531.8,1707.2 1551.5,1641.5 1551.2,1915.8 1561.0,1729.0 1543.7,1752.2 1544.3,1712.6 1537.7,1749.1 1524.9,1613.6 1553.0,1631.6 1545.8,1969.2 1537.9,1825.0 1545.1,1776.6 1542.6,1753.9 1555.6,1703.4 1520.5,1808.3 1533.5,1629.8 1530.0,1613.6 1541.6,1642.4 1530.8,1616.2 1561.7,1819.8 1539.7,1692.1 1541.9,1625.9 1534.2,1699.6 1536.2,1732.1 1536.1,1746.8 1540.2,1704.4 1520.2,1816.5 1524.1,1654.1 1562.9,1714.5 1536.2,1906.3 1540.8,1827.6 1558.9,1639.0 1537.6,1613.6 1552.5,1620.8 1548.0,1659.0 1538.5,1649.9 1548.6,1634.6 1561.1,1655.0 1547.6,1613.6 1547.2,1710.3 1535.3,1687.9 1547.7,1719.8 1542.1,1638.5 1529.8,1666.6 1528.8,1703.9 1529.1,1901.7 1546.9,1657.9 1537.6,1643.5 1543.4,1760.3 1528.3,1638.2 1557.1,1765.3 1525.5,1613.6 1558.9,1712.2 1546.4,1702.4 1535.5,1651.3 1554.3,2000.2 1550.4,1626.1 1541.4,1613.6 1548.9,1613.6 1562.0,1713.4 1542.3,1738.7 1547.2,1648.6 1543.7,1798.2 1538.4,1626.2 1540.4,1854.8 1553.5,1806.5 1544.5,1628.4 1544.9,1710.1 1554.0,1614.1 1539.7,1613.6 1557.0,1633.9 1550.7,1841.0 1546.5,1616.9 1544.8,1620.6 1540.5,1754.6 1540.0,1629.2 1542.8,1784.6 1545.0,1823.9 1534.8,1717.6 1533.9,1738.2 1547.2,1757.6 1536.0,1622.8 1550.6,1774.4 1548.3,1729.9 1534.9,1909.5 1538.5,1834.6 1552.3,1613.6 1540.6,1778.0 1550.4,1613.6 1543.4,1613.6 1545.6,1983.8 1554.5,1641.0 1536.8,1641.8 1514.8,1840.7 1541.5,1675.3 1549.0,1711.8 1531.4,1710.3 1570.5,1711.1 1548.2,1737.2 1539.3,1881.9 1546.2,1756.4 1566.1,1833.9 1537.7,1908.9 1560.1,1630.4 1550.6,1695.0 1519.4,1884.6 1514.1,1663.0 1570.5,1748.5 1533.1,1665.1 1561.3,1674.7 1552.2,1680.6 1570.5,1775.9 1537.5,1613.6 1522.0,1627.9 1533.0,1779.8 1527.7,1640.9 1537.7,1741.0 1557.0,1733.7 1514.1,1864.5 1527.8,1613.6 1556.0,1678.1 1541.5,1682.3 1547.9,1639.4 1535.9,1613.6 1514.1,1721.8 1544.2,1613.6 1540.2,1803.4 1542.8,1613.6 1543.2,1735.7 1544.9,1657.0 1543.3,1715.0 1547.1,1710.7 1530.1,1841.8 1563.4,1613.6 1555.3,1820.6 1535.6,1631.3 1529.4,1632.4 1555.4,1613.6 1554.9,1823.0 1541.6,1790.4 1529.8,1618.1 1549.7,1984.8 1515.6,1631.2 1544.7,1624.1 1536.5,1642.7 1561.1,1741.1 1539.5,1691.0 1545.8,1843.8 1531.4,1916.6 1522.2,1714.6 1564.2,1984.8 1526.6,1873.9 1530.5,1638.8 1554.5,1782.0 1546.2,1714.4 1534.4,1647.7 1534.0,1678.5 1541.3,1613.6 1528.6,1659.4 1538.1,1755.6 1538.9,1682.1 1551.7,1677.7 1553.7,1684.6 1562.2,1613.6 1555.0,1800.6 1551.5,1661.3 1544.5,1708.1 1535.4,1655.2 1532.1,1657.4 1543.8,1861.6 1544.6,1665.9 1538.0,1621.3 1527.0,1924.9 1549.4,1635.5 1535.0,1613.6 1553.2,1650.6 1538.4,1690.6 1562.9,1652.3 1544.7,1807.5 1549.9,1827.8 1541.2,1681.3 1550.3,1847.5 1549.1,1637.2 1543.3,1830.9 1534.4,1764.8 1533.4,1753.9 1561.6,1613.6 1527.3,1776.6 1537.7,1701.1 1536.9,1982.6 1556.3,1689.8 1543.3,1671.1 1533.0,1615.7 1521.3,1785.0 1551.3,1786.8 1556.9,1668.9 1538.6,1682.6 1547.6,1613.6 1547.0,1631.8 1550.8,1712.0 1544.5,1623.4 1524.8,1748.8 1544.2,1714.7 1542.5,1617.3 1544.2,1998.9 1549.8,1755.2 1555.3,1618.5 1555.1,1621.7 1554.2,1634.0 1544.6,1656.9 1549.3,1667.7 1535.6,1802.5 1535.4,1770.6 1551.7,1727.5 1554.0,1649.9 1540.1,1682.7 1530.0,1940.7 1551.9,1629.7 1535.8,1617.1 1543.9,1613.6 1522.5,1855.9 1546.6,1655.3 1537.2,1617.9 1538.9,1617.9 1554.1,1654.9 1542.3,1622.0 1544.5,1772.0 1551.1,1621.7 1547.6,1646.7 1531.8,1685.2 1536.3,1617.3 1540.1,1769.8 1542.3,1741.3 1544.6,1634.7 1521.0,1707.3 1549.8,1978.0 1557.5,1613.6 1517.2,1813.5 1539.5,1695.9 1536.4,1853.2 1539.5,1769.9 1543.6,1720.2 1521.1,1631.3 1542.0,1613.6 1542.7,1730.4 1539.8,1665.8 1524.0,1744.7 1545.6,1701.5 1532.7,1634.8 1558.1,1620.1 1542.6,1647.6 1532.6,1629.4 1557.6,1737.1 1544.5,1613.6 1536.4,1712.5 1534.8,1688.1 1533.1,1715.9 1538.5,1627.9 1532.1,1638.4 1545.3,1634.7 1549.6,1627.0 1540.2,1613.6 1551.3,1758.5 1532.8,1781.2 1534.6,1688.5 1536.0,1743.4 1536.8,1727.5 1556.9,1853.9 1537.8,1743.3 1530.9,1760.7 1548.8,1679.4 1514.1,1752.1 1551.2,1772.7 1519.6,1816.2 1533.7,1634.3 1535.1,1613.6 1528.5,1627.0 1531.3,1730.1 1556.8,1654.2 1514.1,1613.6 1535.0,1613.6 1531.4,1692.2 1544.5,1668.8 1521.9,1936.7 1546.4,1839.6 1563.6,1638.0 1550.1,1613.6 1549.7,1867.5 1542.6,1628.0 1545.7,1613.6 1544.6,1860.9 1545.5,1652.2 1548.0,1776.5 1536.9,1622.8 1518.3,1613.6 1559.4,1771.9 1557.3,1661.2 1539.1,1848.7 1561.1,1615.9 1520.2,1682.8 1542.4,1700.1 1556.3,1769.7 1539.0,1674.1 1554.2,1614.1 1535.9,1781.0 1565.6,1613.6 1557.4,1650.5 1548.7,1645.1 1528.5,1619.5 1538.2,1613.6 1533.1,1937.7 1532.7,1735.4 1542.1,1679.4 1555.3,1665.7 1522.6,1711.8 1555.3,1733.0 1527.2,1787.7 1514.2,1689.4 1552.2,1771.3 1550.4,1889.8 1540.1,1636.9 1538.9,1814.3 1532.9,1749.8 1539.8,1978.7 1531.6,1643.0 1535.9,1792.9 1534.6,1647.4 1562.9,1744.4 1545.1,1864.4 1527.6,1645.0 1540.7,1613.6 1533.2,1631.8 1544.5,1630.8 1545.8,1886.3 1550.2,1629.2 1524.9,1613.6 1555.3,1666.0 1551.2,2000.4 1541.6,1624.6 1564.1,1613.6 1531.2,1706.6 1554.6,1734.5 1551.6,1644.3 1538.5,1649.6 1541.2,1963.8 1540.2,1744.6 1539.5,1861.6 1546.8,1613.6 1545.3,1745.5 1558.9,1733.9 1534.8,1689.9 1549.7,1918.0 1540.5,1845.6 1553.0,1667.5 1533.8,1613.6 1541.5,1773.1 1548.7,1613.9 1533.7,1827.9 1552.9,1679.7 1544.2,1832.4 1530.3,1613.6 1539.1,1653.4 1525.9,1623.1 1549.1,1816.4 1541.7,1779.9 1524.8,1744.8 1562.6,1806.3 1551.8,1803.4 1550.2,1687.7 1528.7,1952.3 1530.2,1614.1 1552.9,2014.9 1547.3,1746.7 1545.6,1672.6 1524.7,1724.5 1548.1,1659.4 1550.0,1613.6 1555.4,1689.7 1517.8,1623.6 1533.2,1802.8 1549.3,1628.5 1533.9,1643.5 1529.7,1690.5 1555.4,1691.7 1536.9,1613.6 1546.7,1613.6 1533.5,1642.5 1550.5,1613.6 1529.1,1613.6 1523.9,1632.6 1547.6,1652.3 1542.2,1668.5 1544.8,1620.2 1549.4,1952.2 1538.4,1693.2 1542.9,1726.9 1570.5,1617.9 1548.9,1641.7 1537.4,1613.6 1537.7,1874.2 1543.8,1640.4 1549.4,1870.3 1537.6,1613.7 1551.7,1931.7 1546.6,1942.7 1540.9,1720.9 1551.2,1754.1 1526.4,1618.9 1531.1,1739.0 1548.9,1630.8 1518.6,1646.2 1532.4,1748.0 1533.2,1687.4 1541.8,1675.4 1522.7,1614.9 1568.4,1690.6 1530.5,1891.0 1543.2,1652.0 1558.8,1625.6 1557.8,1613.6 1545.5,1669.3 1552.7,1650.5 1540.4,1916.8 1529.5,1687.4 1529.6,1835.0 1535.0,1710.5 1541.0,1949.3 1555.4,1990.2 1553.4,1997.6 1548.0,1619.7 1557.9,1704.2 1544.0,1613.6 1541.5,1659.0 1543.2,1723.3 1552.0,1613.6 1539.1,1770.2 1543.7,1639.3 1542.9,1670.8 1543.7,1614.5 1535.7,1666.1 1545.6,1628.7 1544.4,1805.9 1531.6,1613.6 1552.5,1704.3 1562.5,1836.2 1541.3,1817.3 1538.1,1712.3 1536.6,1613.6 1547.6,1713.7 1561.5,1723.7 1539.8,1653.9 1540.8,1648.7 1537.8,1625.3 1542.4,1862.7 1549.5,1797.2 1537.6,1675.0 1546.1,1627.5 1532.4,1882.0 1520.9,1698.7 1551.0,1613.6 1538.0,1613.6 1544.7,1723.0 1550.0,1613.6 1546.1,1734.0 1518.7,1726.4 1567.1,1651.6 1539.7,1630.9 1544.4,1640.4 1531.8,1810.0 1541.7,1613.6 1537.2,1760.9 1552.7,1614.9 1528.3,1710.1 1539.8,1738.5 1547.5,1778.1 1546.0,1691.5 1532.0,1670.8 1541.4,1876.8 1531.7,1751.2 1540.7,1649.7 1548.1,1834.3 1547.7,2003.8 1535.4,1622.6 1554.8,1884.3 1543.6,1670.0 1547.3,1743.7 1546.5,1681.7 1537.0,1686.9 1542.0,1657.2 1541.3,1619.9 1531.9,1727.8 1545.3,1633.5 1542.0,1622.4 1522.0,1654.9 1550.6,1710.8 1524.9,1742.9 1533.6,1948.1 1523.1,1694.9 1561.0,1656.8 1529.7,1730.3 1537.9,1681.1 1544.5,1710.0 1540.4,1780.9 1535.6,1796.0 1543.9,1620.9 1539.2,1662.1 1524.1,1627.2 1545.9,1842.9 1543.1,1809.8 1551.2,1695.8 1543.7,1653.0 1526.8,1671.6 1542.9,1916.3 1534.8,1679.6 1558.9,1661.2 1565.9,1707.6 1533.6,1613.6 1536.3,1762.0 1521.3,1729.0 1552.6,1655.2 1549.5,1645.4 1525.0,1719.9 1545.6,1640.1 1543.4,1613.6 1524.6,1746.6 1535.8,1645.0 1526.3,1999.9 1528.1,1696.2 1541.0,1615.8 1529.2,1662.3 1531.9,1614.7 1548.3,1986.9 1543.1,1613.6 1534.0,1733.8 1552.1,1728.5 1518.4,1774.8 1553.0,1851.6 1533.3,1893.6 1543.6,1875.9 1536.1,1674.0 1535.0,1620.4 1558.4,1679.6 1554.4,1702.6 1522.6,1876.6 1548.0,1665.7 1541.6,1874.5 1540.9,1613.6 1531.2,1613.6 1535.4,1666.8 1524.5,1668.5 1550.2,1908.6 1523.8,1779.5 1546.3,1811.1 1547.5,1717.4 1530.6,1619.3 1546.8,1624.5 1553.3,1703.4 1539.0,1622.3 1526.1,1760.2 1538.2,1698.2 1544.4,1674.1 1526.3,1723.8 1527.5,1715.7 1549.7,1625.6 1531.7,1670.9 1536.8,1936.8 1528.2,1653.8 1530.8,1685.5 1530.3,1663.7 1543.9,1991.2 1537.5,2006.4 1533.7,1764.2 1547.7,1790.6 1546.0,1615.1 1570.5,1613.6 1542.1,1616.5 1535.9,1733.9 1524.9,1614.2 1558.1,1613.6 1527.5,1719.3 1537.5,1769.5 1548.4,1666.6 1538.2,1613.6 1551.0,1881.5 1542.3,1613.6 1555.3,1905.2 1542.2,1631.7 1557.8,1756.1 1542.5,1622.8 1544.7,1843.6 1554.4,1635.7 1557.2,1745.0 1535.1,1679.8 1530.6,1613.6 1548.0,1832.1 1558.0,1951.3 1547.7,1723.4 1541.0,1661.3 1529.5,1925.5 1544.5,1906.0 1539.0,1724.6 1543.0,1820.7" fill="none" stroke="none" marker-start="url(#m_miRNA)" marker-mid="url(#m_miRNA)" marker-end="url(#m_miRNA)"/>
<polyline points="1560.9,1743.4 1560.3,1683.0 1562.4,1690.6 1610.9,1821.0 1558.3,1628.2 1554.3,2003.8 1561.0,1751.9 1552.8,1823.1 1607.5,1651.7 1560.5,1834.9 1607.6,1910.0 1559.4,1786.1 1563.6,1689.0 1568.0,1655.9 1563.2,1642.3 1556.4,1754.8 1566.6,1660.1 1562.9,1801.7 1559.4,1749.4 1559.0,1658.3 1560.4,1633.4 1613.5,1672.2 1564.9,1667.6 1566.4,1614.2 1555.2,1740.7 1564.3,1673.3 1559.6,1660.3 1616.0,1757.9 1611.7,1839.8 1556.0,1716.1 1561.0,1759.4 1612.1,1709.7 1569.9,1690.3 1562.3,1617.7 1617.9,1849.1 1560.4,1689.1 1558.3,1690.5 1559.6,1620.8 1562.5,1676.2 1562.2,1724.7" fill="none" stroke="none" marker-start="url(#m_scaRNA)" marker-mid="url(#m_scaRNA)" marker-end="url(#m_scaRNA)"/>
<polyline points="1562.1,1733.8 1549.8,1930.0 1523.6,1628.3 1559.8,1869.2 1608.0,1615.2 1536.2,1997.3 1565.1,1825.0 1606.4,1621.4 1608.6,1622.9 1561.7,1851.8 1520.4,1716.3 1601.7,1615.4 1534.9,1849.0 1560.6,1894.5 1537.1,1848.8 1565.0,1929.2 1606.2,1614.0 1559.8,1909.4 1533.1,1806.7 1566.5,1818.5 1612.1,1614.8 1601.3,1622.1 1525.9,1753.8 1562.6,1849.5 1560.0,1699.1 1563.6,1679.1 1542.7,1933.8 1559.4,1959.7 1561.4,1880.3 1617.2,1614.4 1533.6,1702.8 1529.9,1996.7 1562.5,1943.7 1564.1,1782.6 1562.0,1916.3 1614.1,1614.8 1609.1,1614.1 1564.4,1983.4 1505.4,1962.6 1562.1,1940.2 1559.7,1940.1 1564.0,1749.9 1561.8,1817.8 1511.2,1813.6 1611.9,1615.7 1564.5,1989.6 1522.2,1868.3 1535.2,2012.9 1543.9,1862.9 1524.5,1716.1 1567.9,1817.8 1563.3,1825.9 1615.3,1617.4 1535.7,1863.3 1562.9,1814.8 1562.7,2001.4 1605.6,1614.9 1563.2,1957.3 1594.6,1615.1 1617.9,1614.7 1561.4,1653.2 1561.4,1778.4 1606.4,1615.8 1605.0,1614.6 1561.8,1667.1 1614.2,1616.9 1559.9,1944.0 1608.2,1618.5 1561.5,1623.7 1543.2,1776.8 1564.2,1848.4 1548.8,1781.8 1624.9,1615.0 1610.5,1619.0 1536.3,1758.1 1522.6,1692.5 1540.6,1989.6 1616.3,1615.8 1606.0,1616.6 1524.2,1763.9 1564.2,1909.5 1562.2,1750.6 1562.4,1773.7 1620.2,1618.3 1562.0,1745.1 1616.8,1615.1 1561.8,1767.3 1566.5,1764.8 1611.7,1624.7 1610.0,1614.3 1562.6,1948.4 1610.7,1613.6 1562.7,1901.0 1545.6,1936.5 1538.1,1957.5 1563.2,1743.9 1562.5,1896.2 1625.2,1613.7 1558.4,1890.6 1564.5,1785.9 1538.0,1774.5 1607.5,1617.3 1563.4,1708.9 1613.5,1615.7 1553.7,1920.1 1564.3,1825.2 1526.6,1861.2 1529.9,1932.4 1547.0,1984.2 1561.2,1971.5 1610.5,1617.6 1562.4,1889.8 1562.7,1930.1 1563.3,1743.8 1561.0,1797.7 1562.0,1703.7 1614.8,1615.2 1524.0,1958.0 1535.5,1873.0 1562.3,1795.4 1561.0,1816.6 1560.3,1997.4 1616.2,1615.4 1511.1,1630.7 1562.0,1931.6 1563.9,1694.1 1563.7,1831.4 1562.5,1971.8 1564.0,1917.5 1615.9,1614.3 1616.4,1618.2 1563.5,1908.6 1564.4,1748.1 1560.9,1690.0 1520.7,1826.2 1560.1,1738.0 1618.4,1614.9 1616.3,1613.8 1560.7,1682.8 1543.9,1697.5 1564.2,1974.4 1565.0,1853.4 1562.7,1832.3 1599.5,1617.8 1492.1,1704.3 1562.3,1972.3 1562.6,1961.3 1564.3,1773.2 1562.4,1838.8 1558.9,1767.1 1562.5,1874.5 1529.6,1872.6 1558.0,1726.7 1504.8,1812.3 1561.4,1926.1 1614.5,1616.9 1616.9,1613.9 1562.1,1927.5 1560.1,1700.8 1563.5,1882.6 1563.7,1930.4 1598.9,1616.7 1567.6,1838.0 1498.5,1883.7 1561.4,1664.4 1595.3,1613.9 1562.1,1811.2 1564.2,1683.1 1562.6,1669.5 1510.1,1686.0 1547.5,1613.6 1524.7,1855.4 1562.6,1942.8 1559.6,1613.6 1601.5,1613.8 1561.4,1940.1 1562.4,1817.8 1562.9,1846.4 1563.7,1768.4 1562.8,1966.9 1536.2,1768.6 1560.5,2009.7 1565.3,1688.2 1563.0,1664.0 1562.2,1783.7 1606.7,1613.7 1592.5,1617.9 1545.0,1819.5 1489.2,1687.7 1560.6,1932.3 1603.0,1614.2 1542.6,1849.3 1536.0,1760.7 1563.5,1797.5 1543.5,1900.7 1564.5,2006.2 1533.3,1870.9 1561.8,1879.3 1566.5,1642.5 1562.7,1762.9 1561.6,1989.9 1524.9,1737.7 1560.3,1958.2 1612.4,1614.1 1559.5,1908.5 1560.6,1914.6 1560.0,1878.6 1563.4,1715.8 1597.5,1621.7 1611.0,1614.0 1594.3,1615.9 1559.3,1736.1 1563.2,1670.9 1563.1,1669.3 1562.2,2009.8 1539.8,1852.4 1602.7,1614.3 1561.9,1780.1 1562.2,1902.6 1558.9,1910.7" fill="none" stroke="none" marker-start="url(#m_snoRNA)" marker-mid="url(#m_snoRNA)" marker-end="url(#m_snoRNA)"/>
<polyline points="1722,1916 1632,2063 1664,1930 1669,2031 1675,1614 1721,1996 1651,1614 1730,2047 1645,2020 1709,2064 1764,2055 1677,1927 1770,1904 1639,2011 1772,1614 1753,2076 1689,2031 1738,2026 1747,2017 1787,2078 1661,2048 1645,1797 1650,2070 1661,1996 1747,2008 1741,2043 1740,2075 1620,1614 1682,2009 1730,2042 1789,2048 1621,1736 1613,1982 1663,1614 1783,2085 1721,2089 1711,2079 1724,2000 1798,2065 1695,1711 1624,1942 1610,1863 1668,2063 1679,1614 1637,1614 1755,2038 1657,2061 1655,1975 1655,1614 1653,1614 1804,2056 1640,1965 1638,2006 1642,1972 1665,1973 1599,1991 1637,1614 1646,2010 1660,1847 1613,1614 1612,1994 1711,2052 1713,2087 1649,1750 1728,1938 1751,2065 1641,1834 1674,2039 1661,2007 1617,1614 1689,2057 1781,2049 1690,1892 1711,2004 1663,1962 1661,1639 1668,1917 1757,2074 1684,1884 1718,1945 1783,2010 1747,1986 1624,1614 1676,2019 1767,2091 1729,2088 1632,1757 1630,1924 1671,2054 1638,1916 1687,1904 1624,1614 1701,1999 1647,1793 1728,2036 1667,1892 1783,2006 1713,1977 1654,1614 1663,1955 1648,2000 1691,1614 1744,2003 1662,1614 1688,1614 1724,1947 1770,1959 1646,1915 1646,1735 1639,1831 1704,2056 1675,2073 1719,2074 1792,1987 1661,2029 1681,2059 1657,2028 1638,1614 1661,1993 1649,1981 1781,2015 1695,1684 1650,2069 1690,1951 1680,1962 1664,2068 1691,2080 1795,2070 1659,1904 1716,2044 1703,2054 1673,2023 1676,1987 1678,1841 1638,1898 1711,2066 1708,2013 1663,2000 1794,1614 1702,1983 1702,1981 1638,1921 1722,2080 1624,1722 1624,1811 1610,1848 1717,2053 1672,1809 1671,2013 1667,1986 1780,2084 1638,2016 1715,2065 1708,2031 1672,2060 1820,2070 1753,2050 1613,1614 1646,1916 1707,1614 1832,2082 1711,1949 1680,1965 1629,1957 1754,2070 1616,1997 1676,2064 1734,1879 1696,2022 1634,1780 1677,1952 1675,1915 1618,1614 1626,1614 1634,1846 1768,2041 1645,1810 1744,1614 1666,1985 1718,2012 1681,1911 1789,2068 1670,1614 1699,1975 1755,2062 1690,1614 1638,1949 1650,1901 1750,2070 1722,2077 1670,1940 1706,2003 1630,1846 1688,1614 1659,1812 1620,2014 1752,2073 1789,1783 1672,2063 1670,1801 1637,1933 1664,1980 1656,2070 1666,1990 1776,2019 1657,2010 1674,1963 1707,2007 1694,1614 1738,2038 1738,1852 1625,1614 1749,2041 1679,1614 1615,2033 1666,2033 1661,2063 1648,1881 1699,1614 1691,2066 1626,1882 1722,2033 1683,2007 1690,2072 1691,2068 1674,1920 1735,2013 1638,1922 1669,1966 1768,2050 1782,2088 1680,2014 1782,2071 1686,1935 1722,2076 1724,1990 1668,1952 1687,2016 1705,2051 1653,1614 1617,2024 1749,2082 1678,2056 1762,2071 1669,2056 1792,2068 1661,2065 1807,2036 1758,2091 1812,2056 1713,1614 1791,2067 1715,2048 1782,2037 1668,2012 1671,1683 1655,1927 1800,2069 1767,2039 1678,1614 1754,2054 1691,2072 1635,2038 1772,2090 1678,1901 1732,2081 1776,2071 1621,1916 1652,1614 1712,1985 1696,2073 1659,2058 1614,1614 1675,2006 1688,2082 1719,2047 1780,1752 1602,1614 1737,1990 1620,2015 1675,1901 1634,2043 1663,2047 1669,2002 1791,2011 1676,2020 1637,1970 1686,1937 1638,1937 1652,2045 1775,2091 1676,1925 1606,1946 1758,2023 1680,1947 1697,2072 1741,2082 1692,1986 1688,1926 1689,2022 1705,1680 1669,2018 1672,1958 1639,1727 1756,2052 1793,2083 1644,1614 1814,1661 1756,2023 1733,2045 1697,2025 1770,2081 1668,1992 1710,2057 1700,2030 1663,1614 1685,1939 1610,1774 1732,2060 1622,1614 1641,1823 1669,1614 1688,1951 1736,2073 1679,2006 1804,2056 1633,1667 1627,2005 1753,1614 1644,1937 1661,1928 1651,2024 1631,1964 1639,2012 1614,1785 1653,1702 1710,1957 1742,2019 1800,2050 1777,1950 1712,2006 1703,2082 1735,2018 1753,2077 1648,2049 1778,1859 1763,2081 1748,2085 1637,2035 1683,2011 1717,2031 1651,1943 1678,1773 1591,1989 1683,2053 1667,2040 1755,2080 1623,1744 1624,1971 1653,1854 1705,2029 1719,2082 1654,1909 1668,2006 1627,1614 1749,1944 1786,2090 1654,1839 1735,2020 1760,2045 1684,1761 1664,1871 1720,2040 1750,2042 1734,2091 1672,2060 1805,2029 1657,1839 1651,1614 1715,2081 1697,1752 1659,2021 1624,1887 1800,2043 1636,1999 1747,2062 1750,2045 1784,1826 1678,2060 1603,2009 1698,2058 1640,1955 1676,2060 1639,1666 1753,2035 1736,2029 1778,2021 1762,2064 1672,2070 1652,1987 1794,2049 1664,1971 1740,2088 1647,2010 1734,2060 1654,1797 1630,1614 1738,2056 1667,1954 1678,1956 1697,1948 1732,2086 1654,1614 1784,2044 1656,1880 1662,2049 1749,2076 1673,2023 1713,2060 1733,2085 1724,2013 1614,1725 1749,2045 1632,1998 1653,2013 1701,2063 1715,2068 1653,2031 1764,2035 1782,2081 1692,1905 1733,2047 1805,2005 1735,2037 1702,2067 1659,1938 1747,2021 1657,1961 1629,1881 1682,1880 1674,1887 1686,1614 1677,1618 1675,2072 1647,1614 1751,1935 1666,2015 1678,1902 1747,2092 1682,1972 1681,2059 1644,2045 1667,1687 1792,2051 1632,1972 1644,1976 1729,2085 1739,1797 1640,1916 1708,2067 1636,1614 1642,1791 1680,1916 1731,2052 1664,1614 1595,1791 1670,2011 1752,2022 1669,2031 1687,1946 1708,2068 1659,1980 1681,2006 1671,2024 1789,1904 1664,1920 1804,1650 1726,2025 1773,2085 1726,2059 1660,2063 1629,1614 1663,1983 1666,1938 1794,2071 1699,2059 1685,2040 1705,1614 1713,2033 1727,2066 1708,2060 1656,1905 1658,1781 1657,1848 1649,2044 1676,2056 1592,1663 1726,1902 1656,1917 1603,1837 1681,1957 1676,1893 1799,2055 1776,1962 1703,2077 1772,2047 1651,1956 1760,2041 1694,2074 1686,2014 1671,2010 1739,2059 1660,1614 1632,2040 1692,1987 1689,2064 1692,1614 1645,1614 1695,2006 1663,1914 1653,1996 1805,2087 1715,1890 1669,2073 1757,2039 1806,2087 1735,2062 1782,2050 1706,2010 1666,2048 1789,2079 1703,2028 1655,2024 1708,2048 1681,2046 1799,1614 1687,2080 1768,2070 1688,2077 1724,2039 1749,2082 1662,1908 1652,2056 1694,2020 1649,1795 1775,2028 1685,2030 1669,2055 1669,2079 1606,1662 1684,1990 1678,1882 1731,2087 1680,1946 1636,1914 1629,2060 1687,1903 1752,2043 1674,1614 1652,2003 1737,1940 1680,2040 1638,2068 1793,2090 1752,2085 1642,1614 1743,1614 1681,1950 1654,1962 1603,1757 1611,1766 1688,2079 1774,1623 1645,2022 1617,1874 1682,2009 1643,1915 1713,1614 1659,1614 1659,1859 1752,2048 1721,2065 1640,1853 1661,1820 1648,2049 1644,1895 1698,2025 1658,2043 1651,2008 1663,2056 1747,2047 1729,2086 1701,2012 1784,1627 1671,2081 1668,2013 1661,1642 1857,1614 1670,1994 1766,2081 1632,1925 1797,2037 1684,2065 1704,1614 1675,2076 1614,1614 1655,1798 1753,2068 1622,1614 1620,2014 1669,2035 1711,2087 1658,1788 1615,1981 1714,1705 1804,2081 1711,1944 1654,2040 1631,2043 1607,1870 1608,2011 1709,2031 1690,2035 1762,2023 1737,2033 1685,2052 1685,2084 1694,2061 1683,1988 1670,1995 1658,2063 1735,2062 1664,1678 1729,2004 1681,1962 1701,2021 1799,2090 1621,1614 1706,2079 1688,2080 1796,1635 1700,1913 1643,1614 1723,2061 1756,2084 1802,1956 1789,2029 1707,1978 1802,2056 1723,1614 1742,2088 1716,2082 1775,2042 1695,2047 1699,1960 1684,1614 1746,2081 1666,1697 1655,2000 1647,1983 1684,1614 1679,2042 1700,2021 1680,1938 1633,1839 1720,2065 1749,2026 1679,1716 1674,2053 1672,2012 1742,1978 1639,1995 1724,1902 1624,1614 1670,1975 1712,1990 1681,1793 1734,2050 1738,1963 1720,2009 1676,1907 1710,2040 1693,2025 1681,2010 1728,2017 1653,1967 1660,2042 1792,2044 1770,2075 1604,1925 1747,2090 1770,2065 1673,2048 1675,1980 1662,1964 1651,1970 1749,2026 1749,1726 1651,1920 1659,2000 1775,2054 1685,1815 1797,2035 1631,1904 1677,1905 1642,1904 1656,2011 1793,2088 1696,2077 1762,2065 1629,1614 1653,1614 1689,1614 1755,1999 1649,2062 1730,2009 1615,1614 1637,2014 1686,2060 1648,2031 1617,1809 1655,2064 1668,2071 1623,2018 1686,1884 1608,1849 1679,1614 1644,2030 1779,2061 1646,1968 1662,2028 1665,1969 1608,1626 1633,2026 1682,1857 1754,2077 1651,1989 1685,2042 1736,2008 1739,2062 1662,2003 1789,2079 1783,2074 1767,2085 1786,2083 1674,2010 1792,1994 1727,2006 1755,2056 1663,2029 1668,2057 1629,2062 1675,2055 1754,2016 1651,2041 1626,1984 1759,2086 1773,2029 1680,1917 1764,2090 1690,1997 1815,2089 1715,2084 1640,1794 1701,2081 1817,2086 1692,1614 1646,1768 1690,2057 1716,2062 1676,2077 1613,1941 1796,2025 1657,2040 1667,2022 1671,1955 1677,1999 1637,1614 1773,1976 1646,1957 1618,1721 1719,2063 1656,2030 1728,2073 1631,2006 1651,2062 1665,1963 1658,1983 1734,2027 1649,1926 1680,2034 1724,1985 1745,2032 1689,1899 1633,2019 1667,2071 1710,1932 1752,1614 1649,1948 1685,1968 1686,1773 1669,2001 1668,1614 1763,2087 1705,2048 1776,2083 1643,1981 1776,2046 1663,1933 1666,1884 1743,2070 1665,1614 1716,2032 1738,1964 1695,1833 1702,2062 1657,1927 1773,1977 1609,1614 1664,2027 1646,2036 1662,2046 1649,1828 1815,1978 1720,1836 1673,1993 1663,1614 1667,1991 1671,2003 1751,2026 1622,1614 1664,1816 1780,2013 1665,1868 1690,2015 1679,1614 1692,2047 1767,2073 1673,2031 1612,1848 1836,2059 1651,2036 1815,2003 1725,1964 1766,2061 1646,2037 1687,1881 1652,1891 1614,1869 1607,1614 1733,2054 1656,1969 1627,1988 1664,2034 1674,1955 1704,1897 1775,2063 1678,2008 1719,2033 1654,2063 1669,2010 1695,2029 1729,2066 1659,1969 1593,1614 1698,2043 1659,1905 1732,2081 1775,2076 1663,2001 1680,2061 1683,1848 1653,1928 1698,1993 1680,2073 1622,2030 1698,2055 1798,1978 1720,2042 1652,2054 1689,2062 1645,1614 1611,1827 1671,2067 1671,1695 1661,1792 1762,2023 1675,1989 1713,2045 1802,2086 1727,2041 1684,1949 1791,2057 1645,1614 1681,1874 1741,2091 1796,2028 1651,1906 1774,2072 1736,2004 1805,2084 1663,2015 1662,1978 1694,1614 1694,2082 1678,2077 1659,1997 1721,1614 1665,1995 1632,1981 1655,1956 1657,2017 1763,1987 1601,1995 1838,2023 1697,2065 1634,1748 1720,1614 1672,2075 1638,1614 1705,2031 1745,2052 1714,1970 1766,2081 1650,2015 1687,2011 1653,1914 1640,1614 1684,2004 1685,2081 1661,2011 1637,2025 1657,2021 1727,2061 1690,2078 1664,1887 1756,1614 1635,1614 1631,1614 1606,1884 1796,2072 1609,1614 1783,2072 1757,1614 1631,1965 1668,2051 1676,1614 1678,1761 1631,2034 1728,2003 1670,2069 1759,2049 1784,2067 1795,2048 1784,2062 1706,2054 1715,2054 1773,2052 1630,1971 1682,1614 1758,2074 1804,1992 1821,2066 1675,1956 1610,1679 1648,1801 1680,2043 1650,2017 1663,1844 1672,2019 1675,1962 1738,2088 1722,2087 1796,2039 1611,1967 1658,2021 1738,2086 1660,1871 1776,2066 1724,1793 1692,1614 1781,1992 1634,1858 1684,1918 1630,1785 1746,1614 1658,1614 1659,1862 1664,1943 1673,2010 1746,2066 1733,2079 1625,1924 1653,2055 1660,1614 1724,2073 1652,2019 1702,2082 1722,2010 1680,1998 1629,1915 1751,1910 1660,2056 1717,2066 1785,2063 1649,1798 1663,1614 1779,2077 1735,2052 1686,1974 1625,2002 1636,2054 1655,2019 1674,1614 1681,2059 1692,1905 1680,1943 1734,2057 1713,1614 1675,2047 1740,2064 1672,2025 1666,2037 1662,1972 1831,2090 1782,2077 1725,2031 1640,2069 1658,1614 1618,1614 1836,2069 1706,2053 1713,1822 1661,1952 1687,1917 1671,1892 1639,1790 1662,1819 1658,1927 1716,2041 1725,1614 1770,2045 1673,2023 1692,1614 1678,1614 1672,1614 1757,2009 1779,2078 1687,1730 1622,1985 1653,1614 1729,2023 1651,1962 1762,2054 1699,1963 1708,2044 1778,2040 1718,2059 1640,1730 1670,1614 1679,1992 1710,2056 1662,1886 1687,2069 1651,1942 1784,2052 1724,2014 1688,2052 1817,2086 1672,1995 1705,2082 1691,1634 1643,2023 1641,1762 1673,1638 1653,1943 1649,1614 1638,1614 1616,1614 1714,2049 1779,2074 1672,1923 1655,2070 1630,1700 1636,2012 1662,1985 1672,2066 1654,2039 1670,2045 1710,2047 1612,1945 1703,2039 1655,1956 1803,1999 1630,1614 1619,1756 1755,2020 1647,1614 1672,2061 1653,2062 1763,2004 1749,2054 1768,2028 1624,1637 1702,2087 1752,1969 1622,1614 1617,1852 1635,1809 1627,1614 1641,2071 1719,2048 1761,2058 1614,1614 1730,2082 1673,2067 1687,1685 1616,2056 1683,1620 1675,1919 1633,1966 1610,1715 1793,2014 1794,2082 1690,1938 1737,2084 1648,1614 1691,1904 1772,2071 1690,1614 1733,2082 1717,2016 1639,1614 1665,1614 1736,1936 1769,1990 1670,1944 1660,2038 1751,1998 1722,1864 1663,1851 1631,1927 1665,2050 1658,2067 1601,1614 1718,2035 1679,1996 1655,2063 1658,2065 1637,1740 1702,1987 1742,1979 1640,2037 1673,2043 1663,2029 1692,2053 1648,1912 1792,2058 1777,2091 1689,2022 1698,1971 1769,2074 1649,1873 1671,2049 1655,2039 1664,1804 1676,2016 1668,2072 1685,2046 1789,1720 1750,1614 1689,2060 1742,2044 1756,2027 1778,1996 1649,2052 1664,2056 1687,1936 1643,2049 1663,1968 1653,1906 1632,1614 1816,2024 1691,2065 1683,1656 1788,2065 1613,1705 1622,1754 1742,1854 1687,2070 1749,2049 1649,2034 1732,2045 1780,2087 1783,2025 1601,1956 1664,2020 1634,2014 1628,1911 1691,2030 1744,2084 1624,1878 1772,2049 1679,1874 1679,1917 1674,1878 1759,2038 1676,2027 1675,1841 1661,1899 1775,1943 1682,1892 1702,2051 1715,2079 1656,2028 1708,2070 1642,1978 1635,2054 1741,2035 1739,2076 1652,2034 1749,2085 1668,2026 1757,2051 1660,1956 1761,2039 1687,2048 1721,1980 1672,1932 1704,2002 1687,1725 1657,1875 1680,1919 1695,1614 1714,2086 1674,1983 1616,1827 1689,1964 1715,2041 1620,1888 1766,2029 1675,2014 1754,2032 1606,2046 1653,2037 1791,2074 1770,2085 1715,2080 1678,2060 1731,2081 1645,1614 1759,2079 1645,1760 1632,2056 1756,2023 1678,2047 1785,2048 1762,1982 1727,2052 1756,2022 1623,1709 1662,1984 1665,2033 1786,2061 1732,2085 1676,2029 1766,2032 1686,2070 1708,1614 1795,2049 1632,2019 1703,2076 1772,2071 1787,1947 1772,2064 1703,2085 1734,1614 1788,2080 1682,2071 1781,2086 1617,1998 1626,1614 1711,2001 1626,2046 1667,1614 1657,1997 1681,2030 1656,2043 1765,2088 1703,1614 1632,1614 1656,1960 1699,1816 1779,2085 1717,1979 1651,1952 1694,1803 1630,1614 1794,2076 1763,2071 1733,2039 1688,1614 1617,1614 1700,1867 1638,1808 1637,1865 1719,2053 1707,1827 1708,2069 1693,2074 1741,2041 1756,2073 1603,1946 1769,2084 1664,1953 1668,1987 1787,1799 1731,1722 1756,1838 1786,1968 1683,1914 1724,1948 1827,1973 1717,1614 1717,2062 1678,1614 1650,2020 1787,2042 1642,1614 1715,2062 1686,2000 1643,2046 1790,2088 1660,2021 1718,1993 1616,1796 1733,2013 1677,2036 1768,2075 1647,2066 1730,2030 1640,1805 1716,1980 1641,2022 1629,1707 1686,1978 1683,1614 1810,1917 1661,2064 1759,1614 1650,1960 1662,1614 1647,1941 1614,1614 1746,2090 1685,2075 1717,2072 1791,2078 1677,2046 1671,2045 1712,1999 1659,1831 1651,2058 1781,2088 1685,1996 1658,2058 1630,2056 1746,1997 1760,2059 1673,1891 1731,2083 1672,1989 1742,2042 1649,1885 1728,2083 1683,2059 1769,2071 1595,1614 1639,1926 1763,2032 1633,1614 1647,2031 1698,2001 1781,2079 1746,2077 1794,2066 1645,1991 1793,1972 1764,2028 1762,2059 1667,2027 1610,1859 1696,2082 1664,1813 1671,2055 1791,2044 1712,1614 1697,1933 1775,1852 1637,1985 1656,2060 1718,2006 1716,2025 1625,1614 1707,1742 1693,2072 1779,2079 1624,1963 1684,2074 1652,1665 1655,1855 1660,1614 1674,1958 1698,2083 1703,1614 1670,1978 1671,2046 1631,1963 1656,2075 1702,2014 1706,1949 1660,1940 1668,2062 1700,2061 1775,2084 1758,2059 1675,1901 1609,1712 1663,1959 1637,2020 1648,1944 1739,2083 1761,2086 1620,1859 1782,2078 1678,1614 1654,2024 1751,2085 1622,1725 1652,2042 1697,1870 1663,1614 1681,2058 1728,1996 1704,2060 1687,2010 1690,2072 1715,2075 1719,2059 1790,2078 1640,2001 1674,1900 1788,1985 1751,2077 1643,1880 1710,1953 1720,2059 1684,2021 1675,2062 1671,2006 1800,2080 1659,2014 1672,2033 1665,2060 1666,2067 1672,1952 1664,2051 1655,1929 1701,2069 1712,2055 1776,2035 1739,1921 1609,1839 1737,2060 1705,2067 1684,2035 1620,1645 1723,2049 1611,1614 1685,2008" fill="none" stroke="none" marker-start="url(#m_lncRNA)" marker-mid="url(#m_lncRNA)" marker-end="url(#m_lncRNA)"/>
<polyline points="1507.5,1759.3 1511.2,1739.1 1522.0,1762.3 1548.6,1638.4 1563.0,2021.3 1583.9,1651.2 1508.8,1752.7 1544.4,1719.0 1526.9,1883.4 1509.0,1839.7 1510.8,1651.9 1527.2,1663.6 1586.8,1618.6 1537.8,1767.4 1582.0,1658.9 1528.8,1843.0 1579.6,1947.9 1559.5,1689.2 1536.8,1856.4 1571.5,1847.7 1522.6,1930.0 1573.1,1647.3 1499.6,1670.4 1526.7,1818.4 1527.3,1872.1 1544.6,1772.6 1569.9,1832.9 1513.1,1645.3 1555.4,1976.8 1593.9,1680.9 1502.5,1615.9 1514.7,1748.7 1561.9,1955.8 1544.1,1787.0 1535.7,1613.6 1515.9,1811.3 1571.4,1756.4 1520.4,1894.8 1501.9,1660.5 1529.7,1681.6 1512.5,1827.3 1562.7,1790.0 1546.0,1781.6 1513.4,1676.5 1524.4,1712.1 1537.4,2032.8 1558.8,1881.6 1566.5,1645.1 1509.9,1670.8 1513.2,1665.6 1514.1,1662.7 1509.4,1616.1 1550.2,1865.2 1529.7,1613.6 1566.8,1994.5 1502.2,1816.9 1514.8,1613.6 1590.7,1959.1 1541.1,2035.4 1575.8,1645.2 1544.0,1943.2 1527.6,1981.8 1571.9,1649.0 1511.0,1677.7 1508.3,1613.6 1572.2,1707.6 1546.8,1671.9 1582.9,1959.3 1540.0,1613.6 1544.7,1646.9 1577.9,1632.5 1559.5,1715.3 1508.9,1666.3 1536.5,2032.7 1506.9,1735.4 1541.5,1701.3 1517.4,1664.2 1511.0,1842.6 1513.9,1638.3 1551.6,1929.4 1519.8,1834.3 1578.8,1614.6 1577.0,1657.7 1513.2,1842.2 1545.9,1740.5 1580.4,1613.6 1544.2,1809.9 1583.3,1681.9 1545.1,1630.1 1525.3,1711.9 1511.0,1679.8 1567.5,1698.0 1576.9,2003.7 1507.4,1737.3 1542.4,1771.6 1559.0,1779.8 1575.2,1717.2 1511.5,1819.5 1517.2,1903.0 1566.6,1883.0 1518.7,1719.2 1547.3,1784.3 1579.7,1718.7 1540.9,1760.3 1510.3,1685.9 1509.9,1775.4 1554.1,1714.7 1569.8,1828.3 1516.5,1642.7 1542.3,1732.6 1537.6,1776.7 1513.5,1623.3 1557.7,1741.4 1566.7,1614.6 1578.8,1874.3 1579.7,1618.6 1582.8,1868.4 1569.6,1753.5 1523.4,1626.0 1571.8,1770.1 1540.0,1761.8 1552.3,1675.3 1579.7,1613.6 1571.9,1858.2 1540.7,1942.3 1541.1,1667.5 1513.4,1641.7 1532.7,1632.3 1562.0,1777.9 1541.4,1613.6 1513.7,1668.6 1548.1,1644.5 1528.4,1838.4 1514.0,1613.6 1511.2,1640.2 1581.9,2007.2 1535.3,1714.0 1506.0,1659.3 1554.2,1660.3 1518.4,1613.6 1520.2,1942.2 1527.7,1873.0 1570.7,1986.2 1517.6,1728.2 1545.5,2035.4 1510.5,1854.1 1533.1,1802.5 1557.7,2000.1 1574.6,1639.7 1566.2,1869.3 1569.6,1615.8 1511.3,1704.7 1579.1,1626.3 1508.4,1680.3 1554.7,1846.8 1566.2,1670.5 1578.5,1946.4 1517.2,1613.6 1567.8,1613.6 1510.8,1661.7 1545.5,1734.1 1511.0,1666.3 1573.6,1777.2 1540.2,1613.6 1499.6,1769.8 1509.1,1824.7 1519.7,1706.3 1528.5,1728.0 1528.6,1810.3 1515.1,1625.0 1572.0,1696.8 1562.1,1640.3 1543.0,1753.5 1584.3,1708.7 1574.5,1621.5 1547.2,1998.2 1519.1,1636.6 1542.8,1664.4 1534.2,2020.5 1546.2,1617.0 1570.6,1820.4 1570.2,1997.5 1521.5,1655.7 1579.1,1699.2 1549.0,1713.6 1505.1,1620.8 1505.7,1878.6 1539.1,1652.7 1508.6,1897.6 1576.9,1915.6 1512.9,1907.0 1547.0,1767.2 1511.6,1717.9 1525.7,1959.2 1564.8,1668.8 1506.3,1635.6 1582.1,1782.2 1536.2,1712.2 1558.8,1625.0 1569.5,1754.6 1575.2,1623.2 1568.9,1661.6 1581.5,1683.2 1504.7,1803.4 1517.8,1739.6 1562.6,1768.0 1542.1,1702.3 1573.8,1698.6 1533.1,1719.4 1529.5,1613.6 1551.5,1703.8 1538.3,1799.8 1516.7,1907.6 1562.9,1613.6 1537.2,1613.6 1568.9,1613.6 1577.3,2022.6 1582.2,1656.4 1544.4,1962.9 1519.4,1811.7 1503.3,1649.9 1573.9,1650.5 1505.1,1624.0 1515.3,1616.2 1555.3,1645.1 1578.8,1636.4 1520.3,1809.7 1515.9,1913.4 1573.8,1672.9 1563.3,1946.1 1570.7,1757.9 1516.8,1839.7 1513.0,1631.0 1577.1,2031.3 1577.2,1682.8 1516.8,1720.1 1527.5,1962.2 1562.4,1801.7 1564.9,1993.2 1566.0,1655.9 1508.9,1669.3 1543.4,1846.2 1518.6,1728.0 1577.0,1662.8 1519.3,1919.8 1543.8,1784.4 1510.0,1613.6 1534.0,1873.7 1578.2,1898.0 1514.2,1894.7 1549.6,1701.3 1516.5,1613.6 1532.8,1617.7 1547.6,1716.5 1508.6,1613.6 1514.5,1620.7 1511.7,1714.8 1516.7,1842.2 1537.8,1696.6 1572.2,1630.0 1553.7,1971.5 1522.1,1771.4 1509.5,1819.9 1525.3,1987.9 1498.9,1815.1 1548.1,1869.2 1536.5,2030.9 1508.5,1870.6 1565.5,1632.4 1561.2,1622.5 1573.0,1710.6 1537.2,1998.6 1563.7,1627.0 1541.2,1731.6 1573.0,1626.9 1511.1,1758.5 1560.5,1751.0 1531.3,1613.6 1590.5,1657.3 1587.5,1785.7 1514.4,1660.5 1566.3,1715.1 1567.0,1720.7 1571.1,1727.7 1574.5,1793.5 1527.2,1613.6 1510.0,1671.3 1509.1,1712.8 1576.5,1731.1 1557.4,1922.8 1573.2,1678.5 1513.0,1727.4 1529.0,1756.5 1503.7,1613.6 1510.7,1662.0 1574.9,1668.9 1566.0,1794.8 1543.6,1613.6 1516.6,1740.0 1513.6,1681.0 1533.1,1686.5 1536.7,2030.1 1542.3,1617.7 1553.9,1861.6 1535.2,1979.0 1509.1,1613.6 1570.5,1670.3 1549.2,1819.3 1550.0,1648.7 1545.8,1753.4 1548.6,1613.6 1513.0,1623.2 1540.1,1613.6 1567.8,1628.7 1580.2,1667.3 1499.3,1671.1 1565.4,1677.2 1532.7,1613.6 1565.6,1656.0 1578.1,1869.9 1529.4,1990.1 1572.7,1787.5 1532.7,2013.4 1541.7,1894.0 1572.7,1629.3 1532.6,1957.1 1568.3,1712.3 1512.9,1704.2 1539.6,1903.6 1546.4,1614.8 1540.8,1941.4 1542.5,1925.1 1512.5,1669.6 1559.7,1927.0 1551.6,1756.9 1537.5,1994.8 1534.3,2017.1 1564.8,1613.6 1524.5,1961.6 1554.7,1739.5 1511.3,1637.4 1527.5,1660.1 1519.4,1671.6 1578.4,1648.6 1509.0,1674.9 1581.5,1744.6 1519.5,1686.7 1533.5,1713.5 1551.7,1729.4 1579.6,1879.3 1537.3,1777.7 1540.6,1743.9 1508.6,1613.6 1561.5,1658.3 1516.5,1892.3 1568.7,1957.2 1508.5,1810.4 1552.7,1795.5 1575.6,1638.3 1551.8,1752.9 1504.1,1876.0 1529.8,1678.2 1524.4,1948.7 1562.9,1761.8 1546.9,2028.3 1534.8,1762.5 1533.6,1690.8 1579.4,1758.9 1535.8,1675.0 1562.8,1690.6 1536.8,1865.5 1530.7,1744.6 1539.3,1786.9 1576.3,1881.2 1507.6,1645.8 1545.8,1772.5 1518.9,1758.3 1574.9,1776.5 1572.6,1650.7 1578.2,1764.7 1560.1,1807.4 1518.2,1788.5 1579.8,1718.6 1582.9,1668.9 1578.5,1641.0 1524.7,1941.9 1532.5,1861.5 1526.3,1703.9 1542.5,1651.7 1567.1,1777.8 1512.8,1644.3 1528.3,1613.6 1581.0,1795.7 1515.6,1692.3 1580.7,1672.9 1515.7,1740.3 1574.8,1752.9 1560.8,1613.6 1563.5,1655.7 1585.4,1638.1 1566.2,1771.0 1567.6,1787.2 1566.8,1779.9 1547.1,1709.0 1565.0,1678.4 1541.9,1675.3 1529.9,1674.2 1562.3,1613.6 1559.0,2010.9 1554.8,1649.8 1529.5,1613.6 1519.9,1630.1 1545.1,1682.7 1549.5,1625.0 1508.1,1617.6 1534.5,1799.8 1548.4,1613.6 1533.6,1663.1 1531.9,1768.1 1571.8,1727.5 1510.2,1764.1 1508.8,1778.7 1513.6,1708.2 1546.8,1733.5 1513.2,1613.6 1571.9,1763.3 1539.7,1660.2 1523.7,1917.3 1590.0,1666.7 1566.9,1787.7 1550.4,1893.3 1525.4,1791.8 1536.3,1992.9 1559.4,1951.8 1516.0,1794.6 1570.9,1842.8 1549.2,2030.9 1581.0,1796.1 1508.3,1734.3 1549.2,1793.8 1579.2,1720.7 1583.7,1917.5 1573.6,1642.6 1535.8,1901.8 1575.9,1863.0 1536.7,1721.7 1577.5,1620.7 1556.8,1644.0 1563.1,1653.9 1530.6,1919.2 1542.3,1614.2 1509.2,1684.1 1542.1,1826.2 1574.9,1635.9 1506.4,1663.7 1566.7,1847.6 1523.7,1808.6 1557.9,1613.6 1513.0,1751.4 1573.6,1829.3 1535.9,1615.2 1516.3,1892.7 1570.2,1613.6 1514.4,1867.3 1578.7,1951.1 1544.5,1709.7 1567.1,1935.4 1508.1,1680.6 1548.1,1770.6 1540.7,1807.7 1528.2,1620.3 1540.9,1620.0 1507.9,1758.9 1538.0,1866.4 1532.2,1652.5 1527.6,1974.5 1565.9,1636.7 1519.2,1692.5 1562.9,1658.8 1547.9,1981.9 1560.1,1946.3 1514.8,1685.9 1575.3,1688.5 1510.3,1613.6 1569.6,1613.6 1553.1,1613.6 1570.9,1695.1 1580.9,1765.9 1532.8,1753.2 1509.5,1786.6 1550.9,2011.0 1509.1,1614.5 1546.9,1761.3 1568.6,1637.0 1537.5,1621.6 1533.4,2012.7 1550.8,1967.8 1540.5,1913.3 1518.4,1928.0 1542.8,1613.6 1550.8,1729.6 1539.0,1679.3 1514.7,1613.9 1576.0,1613.6 1521.3,1936.0 1503.4,1662.9 1546.3,1978.6 1511.3,1634.0 1542.5,1716.8 1572.0,1686.5 1532.5,1727.5 1582.6,1865.1 1547.6,1613.6 1520.7,1731.0 1521.6,1622.5 1534.5,1742.1 1506.4,1613.6 1503.4,1765.3 1585.7,1613.6 1509.7,1916.8 1498.0,1821.5 1576.5,1749.8 1549.4,1691.8 1531.5,1623.1 1545.4,1664.0 1510.1,1727.2 1540.4,1855.8 1536.1,1769.4 1564.7,1820.3 1506.0,1677.7 1505.0,1702.9 1522.3,1705.0 1561.3,1613.6 1539.0,1668.1 1539.4,1628.5 1575.3,1619.2 1577.8,1687.1 1541.0,1722.3 1515.4,1613.6 1534.8,1926.4 1554.9,1678.7 1572.6,1922.4 1582.8,1845.6 1532.4,1745.4 1570.5,1794.7 1538.6,1806.9 1576.8,1613.6 1566.9,1613.6 1545.2,2036.5 1514.8,1730.4 1538.3,1952.4 1575.4,1972.5 1537.1,1706.0 1509.1,1619.0 1546.6,1684.8 1552.5,1655.4 1550.2,1777.4 1511.9,1739.5 1521.1,1710.4 1560.5,1917.6 1516.8,1613.6 1529.9,1659.4 1510.1,1706.1 1550.8,1702.8 1508.1,1645.0 1553.6,1613.6 1587.9,1911.4 1533.2,1632.7 1551.5,1856.1 1519.0,1751.4 1550.6,2031.1 1524.9,1617.6 1518.5,1789.8 1550.3,1747.4 1523.0,1892.7 1506.8,1803.4 1572.0,1613.6 1569.6,1634.5 1572.3,1750.6 1581.0,1780.7 1560.0,1707.3 1509.6,1812.3 1535.2,1613.6 1520.7,1823.3 1547.9,1707.0 1512.5,1802.6 1502.8,1788.0 1539.6,1842.0 1543.9,1626.4 1560.4,1725.4 1574.6,1932.2 1539.4,1630.4 1512.4,1718.6 1523.3,1633.1 1536.2,1946.5 1526.6,1954.3 1516.2,1637.9 1545.2,1960.2 1517.1,1688.0 1573.4,1741.6" fill="none" stroke="none" marker-start="url(#m_snRNA)" marker-mid="url(#m_snRNA)" marker-end="url(#m_snRNA)"/>
<polyline points="1565.3,1713.9 1539.0,1688.6 1546.9,1683.7 1536.9,1679.6 1544.5,1870.7 1536.5,1623.0 1541.4,1949.2 1545.1,1661.1 1563.5,1673.2 1533.5,1648.0 1532.2,1733.6 1539.1,1682.7 1533.4,1977.8 1533.1,1639.3 1532.1,1767.7 1541.3,1757.9 1532.0,1650.7 1543.5,1840.6 1546.7,1661.6 1540.9,1741.6 1526.2,1940.7 1560.4,1673.1 1540.7,1654.4 1546.4,1634.8 1540.7,1929.4 1553.6,1633.5 1534.0,1613.6 1540.0,1643.5 1524.3,1733.2 1541.9,1622.4 1552.0,1685.9 1537.3,1815.5 1542.2,1679.0 1551.8,1696.7 1550.9,1800.7 1544.0,1720.1 1533.0,1673.8 1535.6,1613.6 1546.7,1613.6 1543.8,1628.8 1550.5,1613.6 1548.6,1896.0 1545.6,1613.6 1530.3,1691.0 1521.0,1621.0 1547.7,1725.0 1522.7,1900.6 1543.6,1744.4 1539.5,1862.5 1555.3,1809.9 1530.0,1656.5 1534.8,1885.6 1541.5,1781.0 1534.9,1976.0 1535.9,1824.9 1546.0,1666.3 1545.0,1832.2 1533.2,1779.1 1549.5,1783.9 1549.2,1619.9 1543.5,1613.6 1532.4,1664.8 1552.3,1662.1 1529.4,1613.6 1545.0,1687.4 1550.2,2000.5 1539.0,1613.6 1548.9,1613.6 1559.7,1727.1 1557.0,1665.7 1537.5,2021.2 1525.5,1665.6 1555.9,1625.8 1545.8,1709.3 1543.9,1618.1 1532.1,1868.7 1561.5,1613.6 1546.6,1624.7 1542.0,1708.3 1553.0,1662.1 1537.9,1690.7 1540.0,1657.4 1528.4,1792.9 1553.8,1991.8 1556.8,1621.6 1546.1,1655.4 1542.4,1638.4 1539.6,1682.2 1541.0,1659.1 1529.6,1613.6 1541.0,1649.1 1540.1,1613.6 1543.8,1708.8 1550.4,1691.1 1522.0,1680.7 1552.9,1714.9 1514.1,1616.1 1540.7,1667.0 1543.4,1613.6 1548.6,1613.6 1550.8,1638.7 1549.8,1771.7 1542.1,1699.4 1540.6,1792.3 1551.0,1762.9 1532.3,1726.7 1562.6,1832.7 1544.5,1953.9 1539.0,1739.3 1555.5,1837.8 1548.6,1801.7 1538.6,1625.9 1530.1,1634.7 1541.5,1652.1 1528.0,1633.8 1550.2,1780.4 1538.9,1883.2 1559.3,1671.7 1546.9,1674.6 1546.6,2018.1 1532.7,1917.5 1539.2,1658.0 1563.4,1811.9 1533.0,1688.8 1533.2,1638.4 1532.7,2007.1 1546.4,1654.5 1556.2,1635.8 1542.1,1657.7 1554.5,1615.9 1570.5,1882.5 1543.6,1861.8 1530.0,1763.2 1543.8,1645.1 1546.8,1852.8 1539.7,1765.9 1549.0,1613.6 1539.3,1775.0 1549.4,1666.4 1528.6,1640.6 1538.5,1631.6 1545.7,1613.6 1546.9,1656.7 1547.1,1648.5 1542.9,1881.7 1546.8,1623.5 1536.2,1733.1 1546.0,1683.1 1546.9,1613.6 1547.4,1667.9 1535.8,1921.9 1520.4,1763.1 1546.9,1735.3 1546.7,1913.4 1555.0,1673.0 1538.5,1788.5 1544.5,1633.3 1540.1,1682.6 1549.1,1674.2 1519.9,1613.6 1535.5,1679.7 1534.0,1613.6 1555.1,1619.3 1547.9,1881.7 1528.7,1620.2 1524.3,1757.0 1535.3,1657.3 1532.9,1936.4 1530.4,1736.1 1550.0,1891.7 1542.3,2030.9 1551.7,1857.1 1540.2,1734.5 1544.9,1923.0 1525.6,1722.4 1560.9,1694.9 1536.9,1701.9 1528.6,1613.6 1519.9,1688.1 1521.3,1898.0 1558.9,1687.2 1551.1,1953.7 1548.3,1629.2 1544.5,1626.3 1538.8,1677.5 1548.9,1710.1 1537.8,1627.1 1543.0,1872.0 1535.1,1631.2 1550.5,1727.9 1540.2,1943.4 1527.1,1916.7 1560.3,1619.1 1549.7,1703.2 1543.0,1615.4 1537.1,1615.2 1554.0,1870.2 1558.6,1755.2 1524.6,1615.4 1555.9,1648.1 1568.1,1787.6 1540.3,1809.4 1538.6,1738.7 1539.7,1694.0 1545.5,1645.5 1557.0,1937.7 1523.6,1686.1 1535.8,1710.7 1541.2,1737.8 1539.1,1738.4 1536.5,1888.0 1548.9,1891.3 1537.4,1912.2 1535.5,1650.4 1527.0,1613.6 1559.5,1741.2 1524.5,1704.1 1552.3,1831.1 1544.8,1704.0 1542.6,1693.4 1546.4,1661.4 1533.5,1755.9 1536.0,1630.0 1550.7,1824.2 1546.6,1713.2 1547.0,1652.8 1549.4,1693.5 1549.9,1811.1 1524.9,1660.0 1546.4,1900.3 1555.3,1642.0 1557.6,1785.1 1536.9,1739.4 1545.8,1888.0 1532.5,1630.9 1568.2,1933.3 1553.1,1643.9 1540.3,1813.4 1561.4,1613.6 1523.5,1613.6 1552.1,1653.6 1546.1,1640.8 1540.5,1815.5 1523.1,1667.3 1559.4,1645.5 1543.7,1902.8 1549.5,1732.6 1532.4,1886.0 1526.0,1734.7 1538.8,1629.5 1541.7,1613.6 1548.0,1960.1 1534.1,1670.4 1540.3,1613.6 1522.4,1876.6 1525.1,1810.7 1535.6,1654.7 1525.7,1613.6 1541.3,1776.1 1539.7,1687.9 1549.3,1623.0 1542.6,1994.3 1553.2,1766.8 1533.9,1676.7 1547.6,1997.3 1542.9,1617.1 1529.1,1688.0 1521.3,1763.7 1536.4,1678.5 1561.0,1646.4 1535.0,1667.4 1537.3,1613.6 1557.4,1738.6 1545.4,1650.1 1537.4,1713.1 1531.4,1915.0 1534.9,1619.8 1551.1,1722.1 1560.8,1613.6 1532.5,1747.0 1518.8,1653.6 1557.8,1704.6 1547.9,1969.3 1529.1,1724.6 1533.3,1782.1 1540.7,1627.2 1524.1,1676.4 1541.6,1613.6 1557.9,1661.4 1551.0,1783.7 1534.7,1620.5 1544.7,1738.2 1529.2,1916.8 1531.1,1980.7 1557.2,1758.1 1555.1,1816.0 1551.1,1690.6 1539.9,1785.7 1547.6,1872.6 1536.3,1681.9 1536.9,1697.3 1562.1,1613.6 1547.2,1613.6 1555.1,1621.7 1536.7,1651.7 1545.4,1726.6 1549.2,1740.2 1550.4,1734.9 1539.8,1773.8 1547.0,1695.1 1570.5,1613.6 1532.8,1873.8 1542.6,1614.3 1552.2,1614.9 1559.4,1816.5 1532.5,1973.4 1549.7,1770.5 1533.6,1643.2 1556.0,1717.8 1547.5,1977.7 1534.0,1680.8 1551.3,1717.5 1543.3,2030.1 1553.8,1776.3 1554.0,1806.2 1542.6,1966.0 1541.6,1861.0 1546.4,1843.4 1543.7,1620.8 1546.8,1928.9 1544.7,1844.5 1557.1,1700.7 1553.0,1679.3 1558.2,1653.7 1547.6,1613.6 1543.5,1721.9 1531.8,1824.3 1560.9,1695.5 1568.0,1953.9 1535.6,1745.3 1538.5,1638.4 1514.7,1717.2 1526.4,1693.2 1556.8,1689.4 1556.3,1923.2 1568.1,1639.6 1534.1,1752.5 1565.2,1639.3 1528.3,1629.8 1538.7,1905.5 1569.2,1615.4 1559.8,1782.5 1547.6,1817.4 1538.4,1659.7 1562.8,1755.1 1523.8,1613.6 1548.5,1686.6 1535.8,1653.4 1539.8,1613.6 1546.0,1676.4 1527.4,1911.5 1520.7,1721.5 1535.2,1642.3 1539.0,1619.9 1545.2,1629.2 1552.7,1657.7 1516.7,1968.2 1539.5,1616.3 1542.8,1661.7 1531.4,1630.5 1548.3,1735.3 1537.4,1646.9 1544.9,1676.2 1564.9,1734.0 1526.3,1613.6 1537.4,1656.2 1550.7,1816.2 1541.4,1613.6 1542.4,1703.5 1565.9,1692.2 1537.7,1882.1 1526.9,1640.7 1528.3,1724.7 1539.3,1664.1 1557.8,1613.6 1529.3,1686.9 1545.0,1633.7 1542.8,1615.3 1551.8,1650.5 1548.9,1932.3 1559.7,1619.2 1527.1,1830.1 1522.8,1663.6 1543.1,1735.4 1529.3,1765.4 1520.9,1770.7 1553.2,1613.6 1539.1,1749.5 1543.0,1762.0 1550.0,1699.9 1546.5,1684.9 1538.7,1695.9 1553.5,1623.0 1555.4,1916.9 1551.9,1645.0 1540.3,1745.3 1538.4,1901.5 1538.0,1743.4 1555.3,1795.1 1561.9,1701.4 1559.3,1646.1 1536.0,1613.6 1554.0,1637.2 1554.6,1839.0 1514.1,1924.8 1545.0,1904.6 1538.5,1641.8 1550.8,1633.6 1548.7,1690.4 1534.7,1655.6 1527.3,1749.9 1554.8,2017.8 1551.5,1613.6 1518.7,1615.4 1528.1,1613.6 1551.4,1683.8 1549.9,1613.6 1527.6,1638.5 1531.3,1613.6 1559.7,1853.7 1552.2,1615.4 1533.0,1774.0 1542.6,1847.3 1541.3,1658.4 1563.2,1613.9 1545.5,1896.3 1545.7,1723.4 1539.6,1959.8 1549.9,1775.6 1544.4,1703.4 1529.9,1964.3 1520.2,1701.7 1517.0,1726.7 1559.1,1627.4 1542.2,1646.3 1520.1,1912.9 1570.5,1895.8 1520.2,1613.6 1514.1,1837.6 1546.5,1917.3 1554.8,1624.0 1539.9,1731.0 1519.9,1762.1 1555.1,1985.8 1537.6,1732.8 1547.2,2005.2 1554.7,1927.5 1557.9,2031.9 1541.0,1660.7 1529.5,1850.9 1550.7,1683.5 1526.4,1641.1 1534.1,1764.2 1560.6,1688.5 1522.9,1995.1 1540.2,1908.9 1559.7,1617.8 1537.5,1631.9 1529.9,1659.8 1542.7,1905.6 1554.1,1645.2 1557.5,1670.4 1548.4,1636.4 1524.6,1704.3 1546.8,1613.6 1543.8,1798.6 1559.4,1934.4 1514.1,1613.6 1538.1,1613.6 1552.3,1676.8 1552.3,1621.7 1514.1,1672.3 1545.4,1678.8 1544.9,1655.1 1520.2,1697.8 1549.4,1622.3 1531.3,1646.3 1540.5,1705.7 1557.0,1668.8 1542.2,2009.8 1561.3,1717.6 1533.3,1780.1 1547.1,1768.5 1542.1,1722.1 1532.6,1739.2 1532.1,1892.5 1548.8,1668.8 1558.6,1639.5 1548.5,1662.6 1545.9,1848.3 1559.2,1621.6 1534.9,1661.1 1535.4,1673.7 1548.5,1613.6 1542.4,1613.6 1514.1,1666.2 1519.3,1663.4 1554.3,1800.3 1565.8,1644.3 1551.2,1698.3 1556.5,1764.5 1533.6,1866.9 1544.0,1706.3 1538.1,1840.6 1529.4,1616.7 1537.5,1689.2 1548.5,1794.4 1555.4,1628.2 1539.3,1675.8 1552.4,1613.6 1540.3,1666.7 1532.2,1613.6 1548.6,1731.2 1546.6,1621.1 1528.4,1613.6 1560.7,1916.9 1567.3,1613.6 1551.2,1791.8 1527.9,1613.6 1519.7,1745.8 1534.1,1675.2 1551.2,1620.7 1546.1,1650.4 1525.5,1713.5 1536.9,1866.0 1551.3,1766.4 1525.1,1767.9 1543.7,1814.2 1531.0,2022.3 1539.3,1631.2 1556.7,1745.4 1545.6,1651.3 1556.1,1718.6 1524.7,1613.6 1552.4,1944.2 1541.3,1654.3 1548.5,1613.6 1543.0,1831.1 1558.6,1934.1 1529.4,1849.2 1515.0,1710.3 1533.6,1686.5 1543.9,1613.6 1540.4,1741.7 1537.7,1661.7 1532.9,1665.5 1534.6,1617.6 1542.3,1613.6 1529.4,1681.0 1561.9,1660.3 1531.4,1869.3 1549.5,1708.3 1545.2,1635.5 1557.6,1623.2 1548.3,1613.6 1543.5,1695.8 1553.3,1622.6 1522.2,1695.7 1528.9,1654.2 1554.4,1962.5 1550.2,1630.2 1525.5,1620.5 1522.6,1648.8 1547.2,1942.9 1556.0,2019.9 1554.8,1613.6 1551.2,1613.6 1529.5,1859.2 1545.7,1675.2 1538.2,1613.6 1545.0,1670.6 1544.4,1613.6 1551.4,1613.6 1543.6,1797.0 1528.9,1613.6 1553.6,1615.7 1570.5,1661.0 1546.9,1614.1 1537.1,1861.5 1539.5,1802.8 1560.4,1751.7 1535.7,1843.6 1543.7,1621.5 1555.5,1669.2 1556.1,1668.4 1545.5,1644.7 1527.4,1721.0 1550.1,1695.9 1532.0,1700.5 1543.0,1613.6 1545.1,1613.6 1545.7,1745.1 1531.1,1863.5 1552.9,1634.3 1552.2,1901.7 1522.5,1662.8 1554.1,1697.6 1537.3,1917.1 1543.6,1802.9 1551.7,1805.0 1542.5,1862.7 1541.8,1688.2 1543.0,1632.6 1546.8,1660.8 1544.3,1640.1 1554.9,1724.3 1524.1,1682.6 1544.6,1897.4 1558.9,1692.4 1514.1,1832.5 1541.1,1723.1 1543.0,1700.7 1528.2,1713.3 1546.3,1716.9 1535.1,1654.2 1531.2,1885.3 1542.6,1630.9 1558.9,1778.8 1546.1,1954.9 1541.1,1613.7 1530.1,1674.4 1542.4,1879.0 1545.1,1629.2 1548.3,1616.7 1527.8,1764.6 1545.6,1731.6 1549.7,1832.8 1544.4,1928.3 1539.2,1657.8 1551.7,1676.0 1552.8,1641.9 1553.6,2022.3 1556.8,1752.0 1547.5,1720.9 1543.0,1613.6 1545.8,1865.9 1534.1,1976.1 1544.9,1697.4 1538.6,1709.3 1558.1,1912.7 1524.4,1867.9 1525.5,1669.0 1543.3,1849.5 1543.5,1751.1 1548.4,1622.2 1545.1,1798.4 1534.2,1749.3 1551.7,1706.3 1546.4,1776.3 1534.0,1827.4 1520.5,1613.6 1549.7,1758.2 1533.8,1960.8 1536.5,1863.1 1538.8,1634.0 1542.5,1624.4 1521.8,1902.4 1543.6,2004.2 1529.2,1860.0 1533.4,1661.5 1543.7,1647.4 1559.3,1721.0 1544.3,1658.4 1546.5,1677.4 1548.3,1656.0 1541.2,1753.4 1534.3,1968.2 1538.4,1737.4 1540.5,1634.7 1553.9,1783.4 1564.8,1623.4 1561.1,1743.1 1523.9,1684.5 1530.4,1687.6 1547.1,1814.7 1554.4,1651.3 1548.1,1860.6 1542.6,1722.8 1556.7,1897.5 1557.0,1655.8 1548.2,1730.0 1531.2,1650.6 1536.1,1720.4 1519.9,1672.7 1554.1,1617.3 1526.7,1623.5 1540.4,1965.6 1526.7,1620.2 1545.6,1648.1 1544.5,1673.0" fill="none" stroke="none" marker-start="url(#m_miRNA)" marker-mid="url(#m_miRNA)" marker-end="url(#m_miRNA)"/>
<polyline points="1612.9,1616.4 1496.0,1681.7 1597.6,1615.1 1601.6,1615.2 1610.1,1613.7 1563.6,1866.2 1565.7,1905.7 1562.4,1828.7 1556.9,1835.6 1562.0,1794.4 1549.5,1839.6 1562.3,1630.3 1592.2,1614.0 1561.6,1647.7 1501.1,1918.8 1563.9,1788.2 1564.6,1678.8 1563.0,1776.4 1559.3,1753.8 1562.8,1880.7 1559.4,1841.9 1560.5,1951.7 1560.9,1739.5 1559.7,1808.1 1562.9,1727.5 1564.5,1941.8 1560.4,1944.4 1498.0,1870.4 1540.1,1800.4 1511.4,1657.1 1563.4,1710.0 1562.4,1975.6 1561.4,1906.4 1612.3,1620.1 1566.4,1886.1 1531.9,1884.0 1554.3,1756.5 1562.8,1833.6 1606.1,1614.2 1564.7,1831.2 1559.9,1755.9 1546.6,1750.2 1560.5,2006.6 1562.4,1853.6 1559.3,1628.3 1603.8,1613.9 1561.8,1782.3 1604.3,1614.0 1508.4,1648.3 1560.9,1681.9 1562.4,1762.1 1559.8,1944.2 1502.6,1617.5 1564.7,1767.7 1518.9,1744.7 1562.6,1793.7 1609.2,1613.6 1521.6,1866.1 1562.6,1930.2 1562.5,1939.3 1610.1,1623.7 1566.4,1942.9 1559.1,1895.1 1559.8,1896.4 1552.5,1762.2 1560.5,1760.3 1523.7,1885.4 1561.9,1976.4 1562.7,1890.1 1602.8,1614.1 1514.1,1649.4 1559.2,1802.1 1560.9,1906.5 1561.0,1890.8 1616.6,1614.1 1562.2,1903.8 1562.4,1646.3 1534.3,1852.5 1503.0,1677.7 1564.1,1870.7 1502.3,1645.0 1560.2,1753.6 1541.0,1900.0 1563.0,1782.2 1504.3,1764.8 1561.3,1796.1 1564.7,1734.4 1563.2,1821.0 1498.5,1813.0 1602.8,1621.9 1563.6,1773.4 1613.1,1621.0 1566.8,1940.6 1565.4,1870.2 1543.2,1994.7 1561.4,1777.0 1532.4,1745.7 1561.4,1854.1 1562.6,1918.1 1560.0,1844.3 1609.7,1616.1 1561.1,1923.8 1564.8,1823.5 1566.0,1752.2 1563.0,1816.5 1611.6,1614.0 1562.4,1906.9 1509.8,1639.6 1561.0,1613.6 1529.5,1882.7" fill="none" stroke="none" marker-start="url(#m_snoRNA)" marker-mid="url(#m_snoRNA)" marker-end="url(#m_snoRNA)"/>
<polyline points="1498.5,1652.6 1482.8,1784.3 1659.7,1984.3 1556.1,1985.9 1552.0,1688.9 1536.4,1944.8 1558.4,1862.9 1551.0,1736.9 1557.5,1782.2" fill="none" stroke="none" marker-start="url(#m_rRNA)" marker-mid="url(#m_rRNA)" marker-end="url(#m_rRNA)"/>
<polyline points="1806.9,1613.6 1815.2,1613.6 1830.7,1613.6 1842.8,1613.6 1894.2,1613.6 1905.2,1613.6 1880.4,1754.4 1852.7,1861.6 1887.0,1921.2 1900.8,1991.4 1840.0,1980.9 1833.4,2004.1 1918.5,2060.4 2006.3,2077.0 1870.4,2090.8 1878.7,2078.6 1894.2,2088.0 1862.1,2064.8 1853.9,2081.4 1846.7,2056.5 1819.6,1744.5 1808.0,1733.5 1815.2,1781.5 1787.6,1651.7 1765.5,1642.3 1740.6,1645.1 1783.7,1668.3 1809.7,1932.3 1797.0,1925.6 1793.1,1888.1 1488.2,1836.2 1779.3,1721.3 1784.8,1726.8 1751.7,1714.1" fill="none" stroke="none" marker-start="url(#m_lncRNA)" marker-mid="url(#m_lncRNA)" marker-end="url(#m_lncRNA)"/>
<polyline points="1421.9,1613.6 1425.8,1613.6 1425.8,1640.7 1429.4,1613.6 1429.4,1639.3 1429.4,1664.9 1432.9,1613.6 1432.9,1638.0 1432.9,1662.4 1432.9,1686.8 1436.2,1613.6 1436.2,1636.8 1436.2,1660.0 1436.2,1683.3 1436.2,1706.5 1439.4,1613.6 1439.4,1635.8 1439.4,1657.9 1439.4,1680.1 1439.4,1702.3 1439.4,1724.4 1442.4,1613.6 1442.4,1634.8 1442.4,1656.0 1442.4,1677.2 1442.4,1698.4 1442.4,1719.6 1442.4,1740.8 1445.3,1613.6 1445.3,1633.9 1445.3,1654.2 1445.3,1674.6 1445.3,1694.9 1445.3,1715.2 1445.3,1735.5 1445.3,1755.8 1448.1,1613.6 1448.1,1633.1 1448.1,1652.6 1448.1,1672.1 1448.1,1691.6 1448.1,1711.1 1448.1,1730.6 1448.1,1750.2 1448.1,1769.7 1450.7,1613.6 1450.7,1632.4 1450.7,1651.1 1450.7,1669.9 1450.7,1688.6 1450.7,1707.4 1450.7,1726.1 1450.7,1744.9 1450.7,1763.7 1450.7,1782.4 1453.3,1613.6 1453.3,1631.7 1453.3,1649.7 1453.3,1667.8 1453.3,1685.9 1453.3,1703.9 1453.3,1722.0 1453.3,1740.0 1453.3,1758.1 1453.3,1776.2 1453.3,1794.2 1455.8,1613.6 1455.8,1631.0 1455.8,1648.4 1455.8,1665.9 1455.8,1683.3 1455.8,1700.7 1455.8,1718.1 1455.8,1735.5 1455.8,1752.9 1455.8,1770.4 1455.8,1787.8 1455.8,1805.2 1458.2,1613.6 1458.2,1630.4 1458.2,1647.2 1458.2,1664.1 1458.2,1680.9 1458.2,1697.7 1458.2,1714.5 1458.2,1731.3 1458.2,1748.1 1458.2,1765.0 1458.2,1781.8 1458.2,1798.6 1458.2,1815.4 1460.5,1613.6 1460.5,1629.9 1460.5,1646.1 1460.5,1662.4 1460.5,1678.6 1460.5,1694.9 1460.5,1711.1 1460.5,1727.4 1460.5,1743.7 1460.5,1759.9 1460.5,1776.2 1460.5,1792.4 1460.5,1808.7 1460.5,1824.9 1462.7,1613.6 1462.7,1629.3 1462.7,1645.1 1462.7,1660.8 1462.7,1676.5 1462.7,1692.3 1462.7,1708.0 1462.7,1723.7 1462.7,1739.5 1462.7,1755.2 1462.7,1770.9 1462.7,1786.7 1462.7,1802.4 1462.7,1818.1 1462.7,1833.9 1464.9,1613.6 1464.9,1628.8 1464.9,1644.1 1464.9,1659.3 1464.9,1674.6 1464.9,1689.8 1464.9,1705.0 1464.9,1720.3 1464.9,1735.5 1464.9,1750.8 1464.9,1766.0 1464.9,1781.2 1464.9,1796.5 1464.9,1811.7 1464.9,1827.0 1464.9,1842.2 1466.9,1613.6 1466.9,1628.4 1466.9,1643.2 1466.9,1657.9 1466.9,1672.7 1466.9,1687.5 1466.9,1702.3 1466.9,1717.1 1466.9,1731.8 1466.9,1746.6 1466.9,1761.4 1466.9,1776.2 1466.9,1790.9 1466.9,1805.7 1466.9,1820.5 1466.9,1835.3" fill="none" stroke="none" marker-start="url(#m_piRNA)" marker-mid="url(#m_piRNA)" marker-end="url(#m_piRNA)"/>
<path d="M1393.7 1591.0V2116.2H2036.0" fill="none" stroke="#000" stroke-width="2.2" stroke-linecap="square"/>
<path d="M1542.3 2116.2v5.5M1698.8 2116.2v5.5M1855.3 2116.2v5.5M2011.8 2116.2v5.5M1393.7 1613.6h-5.5M1393.7 1735.5h-5.5M1393.7 1857.4h-5.5M1393.7 1979.4h-5.5M1393.7 2101.3h-5.5" stroke="#333" stroke-width="2.2" fill="none"/>
<text x="1542.3" y="2140.3" font-size="18.3" fill="#4d4d4d" text-anchor="middle" class="ls">1e+02</text>
<text x="1698.8" y="2140.3" font-size="18.3" fill="#4d4d4d" text-anchor="middle" class="ls">1e+03</text>
<text x="1855.3" y="2140.3" font-size="18.3" fill="#4d4d4d" text-anchor="middle" class="ls">1e+04</text>
<text x="2011.8" y="2140.3" font-size="18.3" fill="#4d4d4d" text-anchor="middle" class="ls">1e+05</text>
<text x="1382.7" y="1619.9" font-size="18.3" fill="#4d4d4d" text-anchor="end" class="ls">100</text>
<text x="1382.7" y="1741.8" font-size="18.3" fill="#4d4d4d" text-anchor="end" class="ls">75</text>
<text x="1382.7" y="1863.7" font-size="18.3" fill="#4d4d4d" text-anchor="end" class="ls">50</text>
<text x="1382.7" y="1985.7" font-size="18.3" fill="#4d4d4d" text-anchor="end" class="ls">25</text>
<text x="1382.7" y="2107.6" font-size="18.3" fill="#4d4d4d" text-anchor="end" class="ls">0</text>
<text x="1713.7" y="2166.3" font-size="23" text-anchor="middle" class="ls">Sequence reference length</text>
<text transform="translate(1340.3 1853.5) rotate(-90)" font-size="23" text-anchor="middle" class="ls">Percentage longest covered region</text>
<text x="1714.7" y="1461.5" font-size="27.75" text-anchor="middle" class="ls">Tabula muris senis cohort</text>
<text x="1139.4" y="1712.3" font-size="23" class="ls">Molecule class</text>
<circle cx="1158.2" cy="1743.9" r="3.9" fill="#1f77b4" fill-opacity=".42" stroke="#1f77b4" stroke-opacity=".5" stroke-width="1.8"/>
<text x="1187.6" y="1750.4" font-size="18.2" class="ls">lncRNA</text>
<circle cx="1158.2" cy="1779.9" r="3.9" fill="#ff7f0e" fill-opacity=".42" stroke="#ff7f0e" stroke-opacity=".5" stroke-width="1.8"/>
<text x="1187.6" y="1786.4" font-size="18.2" class="ls">miRNA</text>
<circle cx="1158.2" cy="1815.8" r="3.9" fill="#2ca02c" fill-opacity=".42" stroke="#2ca02c" stroke-opacity=".5" stroke-width="1.8"/>
<text x="1187.6" y="1822.3" font-size="18.2" class="ls">piRNA</text>
<circle cx="1158.2" cy="1851.8" r="3.9" fill="#d62728" fill-opacity=".42" stroke="#d62728" stroke-opacity=".5" stroke-width="1.8"/>
<text x="1187.6" y="1858.2" font-size="18.2" class="ls">rRNA</text>
<circle cx="1158.2" cy="1887.7" r="3.9" fill="#9467bd" fill-opacity=".42" stroke="#9467bd" stroke-opacity=".5" stroke-width="1.8"/>
<text x="1187.6" y="1894.2" font-size="18.2" class="ls">scaRNA</text>
<circle cx="1158.2" cy="1923.7" r="3.9" fill="#8c564b" fill-opacity=".42" stroke="#8c564b" stroke-opacity=".5" stroke-width="1.8"/>
<text x="1187.6" y="1930.2" font-size="18.2" class="ls">snoRNA</text>
<circle cx="1158.2" cy="1959.6" r="3.9" fill="#e377c2" fill-opacity=".42" stroke="#e377c2" stroke-opacity=".5" stroke-width="1.8"/>
<text x="1187.6" y="1966.1" font-size="18.2" class="ls">snRNA</text>
<circle cx="1158.2" cy="1995.6" r="3.9" fill="#7f7f7f" fill-opacity=".42" stroke="#7f7f7f" stroke-opacity=".5" stroke-width="1.8"/>
<text x="1187.6" y="2002.1" font-size="18.2" class="ls">tRNA</text>
<path d="M1571.8 1584.8C1573.0 1583.5 1577.1 1578.2 1579.3 1577.1C1581.5 1576.0 1583.1 1577.7 1584.8 1578.0C1586.5 1578.4 1587.6 1579.0 1589.6 1579.0C1591.6 1579.0 1594.5 1578.5 1596.8 1578.0C1599.1 1577.6 1601.1 1577.4 1603.3 1576.1C1605.5 1574.8 1607.5 1572.7 1609.8 1570.3C1612.1 1567.9 1614.8 1565.3 1617.1 1561.6C1619.4 1557.9 1621.5 1552.8 1623.8 1548.1C1626.1 1543.5 1628.5 1538.5 1630.8 1533.7C1633.1 1528.8 1635.5 1523.7 1637.8 1519.2C1640.1 1514.7 1642.8 1509.0 1644.5 1506.6C1646.2 1504.2 1646.4 1505.3 1647.8 1504.7C1649.2 1504.1 1651.1 1503.9 1652.8 1502.8C1654.5 1501.6 1656.0 1499.9 1657.8 1498.0C1659.6 1496.0 1661.9 1492.8 1663.8 1491.2C1665.7 1489.6 1667.5 1488.1 1669.2 1488.3C1670.9 1488.5 1672.0 1489.6 1673.8 1492.2C1675.6 1494.7 1677.8 1499.9 1679.8 1503.7C1681.8 1507.6 1683.7 1511.8 1685.8 1515.3C1687.9 1518.9 1690.4 1523.1 1692.6 1525.0C1694.8 1526.8 1696.4 1526.2 1698.8 1526.4C1701.2 1526.7 1703.8 1526.5 1706.8 1526.4C1709.8 1526.3 1714.3 1526.5 1716.6 1525.9C1718.9 1525.4 1719.4 1523.8 1720.8 1523.0C1722.2 1522.2 1723.7 1520.8 1725.2 1521.1C1726.7 1521.4 1728.2 1523.2 1729.8 1525.0C1731.4 1526.7 1733.0 1529.6 1734.8 1531.7C1736.6 1533.8 1738.6 1536.2 1740.6 1537.5C1742.6 1538.8 1744.5 1538.8 1746.8 1539.4C1749.1 1540.1 1751.6 1539.9 1754.3 1541.4C1757.0 1542.8 1759.9 1545.9 1762.8 1548.1C1765.7 1550.4 1768.7 1552.6 1771.5 1554.9C1774.3 1557.1 1776.9 1559.4 1779.8 1561.6C1782.7 1563.9 1785.9 1566.3 1788.7 1568.4C1791.5 1570.5 1793.9 1572.4 1796.8 1574.2C1799.7 1576.0 1802.8 1577.6 1805.8 1579.0C1808.8 1580.4 1812.0 1581.6 1814.8 1582.4C1817.6 1583.2 1819.1 1583.4 1822.8 1583.8C1826.5 1584.2 1834.5 1584.6 1836.8 1584.8Z" fill="#1f77b4" fill-opacity="0.45" stroke="none"/>
<path d="M1434.8 1584.8L1438.8 1583.8L1442.8 1581.9L1445.8 1580.0L1447.8 1571.3L1449.8 1569.4L1451.3 1565.5L1453.3 1562.6L1454.8 1555.8L1456.3 1548.1L1457.3 1541.4L1458.3 1543.3L1458.8 1526.9L1459.6 1507.6L1460.3 1488.3L1461.3 1488.3L1461.8 1507.6L1462.3 1526.9L1462.8 1544.3L1463.8 1542.3L1464.3 1560.7L1465.3 1577.1L1466.3 1580.0L1467.3 1584.8Z" fill="#2ca02c" fill-opacity="0.4" stroke="none"/>
<path d="M1514.8 1584.8L1517.5 1581.9L1518.8 1546.2L1520.2 1488.3L1521.4 1541.4L1522.6 1577.1L1523.8 1582.9L1526.8 1584.8Z" fill="#7f7f7f" fill-opacity="0.5" stroke="none"/>
<path d="M1501.8 1584.8C1502.6 1584.2 1505.5 1581.3 1506.8 1580.9C1508.1 1580.6 1508.1 1582.7 1509.8 1582.9C1511.5 1583.0 1514.0 1582.4 1516.8 1581.9C1519.6 1581.4 1523.8 1580.8 1526.8 1580.0C1529.8 1579.2 1532.5 1578.5 1534.8 1577.1C1537.1 1575.6 1539.4 1576.4 1540.8 1571.3C1542.2 1566.1 1542.6 1556.8 1543.3 1546.2C1544.0 1535.6 1544.3 1517.2 1544.8 1507.6C1545.3 1497.9 1545.8 1487.5 1546.3 1488.3C1546.8 1489.1 1547.3 1502.8 1547.8 1512.4C1548.3 1522.1 1548.8 1537.4 1549.3 1546.2C1549.8 1555.0 1550.0 1561.0 1550.8 1565.5C1551.5 1570.0 1552.5 1571.3 1553.8 1573.2C1555.1 1575.2 1557.1 1576.0 1558.8 1577.1C1560.5 1578.2 1562.1 1579.8 1563.8 1580.0C1565.5 1580.1 1567.3 1578.8 1568.8 1578.0C1570.3 1577.2 1571.8 1574.8 1572.8 1575.1C1573.8 1575.5 1573.8 1579.7 1574.8 1580.0C1575.8 1580.3 1577.8 1576.8 1578.8 1577.1C1579.8 1577.4 1579.5 1580.9 1580.8 1581.9C1582.1 1582.9 1584.1 1582.4 1586.8 1582.9C1589.5 1583.4 1595.1 1584.5 1596.8 1584.8Z" fill="#e377c2" fill-opacity="0.4" stroke="none"/>
<path d="M1506.8 1584.8C1507.8 1583.8 1511.1 1581.3 1512.8 1579.0C1514.5 1576.8 1515.5 1574.2 1516.8 1571.3C1518.1 1568.4 1519.4 1564.4 1520.8 1561.6C1522.2 1558.9 1523.8 1555.2 1525.0 1554.9C1526.2 1554.6 1526.8 1557.8 1527.8 1559.7C1528.8 1561.6 1529.8 1564.9 1530.8 1566.5C1531.8 1568.1 1532.9 1569.2 1533.8 1569.4C1534.7 1569.5 1535.5 1567.3 1536.3 1567.4C1537.1 1567.6 1538.0 1569.0 1538.8 1570.3C1539.5 1571.6 1539.8 1574.7 1540.8 1575.1C1541.8 1575.6 1543.6 1572.9 1544.8 1573.2C1546.0 1573.5 1546.5 1576.0 1547.8 1577.1C1549.1 1578.2 1551.0 1579.2 1552.8 1580.0C1554.6 1580.8 1556.5 1581.4 1558.8 1581.9C1561.1 1582.4 1562.1 1582.5 1566.8 1582.9C1571.5 1583.2 1582.6 1583.8 1586.8 1583.8C1591.0 1583.8 1590.1 1582.9 1591.8 1582.9C1593.5 1582.9 1595.1 1583.5 1596.8 1583.8C1598.5 1584.2 1601.0 1584.6 1601.8 1584.8Z" fill="#8c564b" fill-opacity="0.25" stroke="none"/>
<path d="M1514.8 1584.8C1516.8 1584.2 1523.1 1581.9 1526.8 1580.9C1530.5 1580.0 1533.8 1579.7 1536.8 1579.0C1539.8 1578.4 1542.5 1578.4 1544.8 1577.1C1547.1 1575.8 1549.1 1576.4 1550.8 1571.3C1552.5 1566.1 1553.8 1555.2 1554.8 1546.2C1555.8 1537.2 1556.1 1525.6 1556.8 1517.2C1557.5 1508.9 1558.1 1500.8 1558.8 1496.0C1559.5 1491.2 1560.0 1488.3 1560.8 1488.3C1561.5 1488.3 1562.5 1490.4 1563.3 1496.0C1564.1 1501.6 1565.0 1512.9 1565.8 1522.1C1566.6 1531.2 1567.5 1542.5 1568.3 1551.0C1569.0 1559.5 1569.5 1568.4 1570.3 1573.2C1571.0 1578.0 1571.7 1578.5 1572.8 1580.0C1573.9 1581.4 1574.5 1581.4 1576.8 1581.9C1579.1 1582.4 1582.6 1582.7 1586.8 1582.9C1591.0 1583.0 1598.8 1583.5 1601.8 1582.9C1604.8 1582.2 1603.9 1581.3 1604.8 1579.0C1605.7 1576.8 1606.5 1571.9 1607.3 1569.4C1608.1 1566.8 1609.0 1563.4 1609.8 1563.6C1610.6 1563.7 1611.5 1567.8 1612.3 1570.3C1613.1 1572.9 1614.0 1576.9 1614.8 1579.0C1615.5 1581.1 1615.6 1582.1 1616.8 1582.9C1618.0 1583.7 1620.5 1584.0 1621.8 1583.8C1623.1 1583.7 1623.6 1582.5 1624.8 1581.9C1626.0 1581.3 1627.5 1580.6 1628.8 1580.5C1630.1 1580.3 1631.5 1581.0 1632.8 1580.9C1634.1 1580.9 1635.6 1579.8 1636.8 1580.0C1638.0 1580.1 1638.8 1581.1 1639.8 1581.9C1640.8 1582.7 1642.3 1584.3 1642.8 1584.8Z" fill="#9467bd" fill-opacity="0.55" stroke="none"/>
<path d="M1528.8 1584.8C1530.1 1584.0 1534.5 1581.9 1536.8 1580.0C1539.1 1578.0 1541.1 1577.2 1542.8 1573.2C1544.5 1569.2 1545.6 1563.6 1546.8 1555.8C1548.0 1548.1 1548.9 1536.5 1549.8 1526.9C1550.7 1517.2 1551.7 1504.4 1552.3 1498.0C1552.9 1491.5 1553.2 1487.5 1553.6 1488.3C1554.0 1489.1 1554.3 1493.9 1554.8 1502.8C1555.3 1511.6 1556.1 1530.6 1556.8 1541.4C1557.5 1552.2 1558.0 1561.5 1558.8 1567.4C1559.6 1573.4 1560.5 1574.7 1561.8 1577.1C1563.1 1579.5 1565.1 1580.6 1566.8 1581.9C1568.5 1583.2 1571.0 1584.3 1571.8 1584.8Z" fill="#d62728" fill-opacity="0.35" stroke="none"/>
<path d="M1512.8 1584.8C1514.3 1584.3 1519.3 1583.2 1521.8 1581.9C1524.3 1580.6 1526.4 1581.4 1527.7 1577.1C1529.0 1572.7 1529.1 1565.8 1529.8 1555.8C1530.5 1545.9 1531.1 1528.5 1531.8 1517.2C1532.5 1506.0 1533.4 1489.1 1534.2 1488.3C1534.9 1487.5 1535.5 1502.8 1536.3 1512.4C1537.1 1522.1 1538.0 1536.5 1538.8 1546.2C1539.6 1555.9 1540.5 1565.5 1541.3 1570.3C1542.1 1575.2 1542.9 1575.6 1543.8 1575.1C1544.7 1574.7 1546.0 1569.4 1546.8 1567.4C1547.6 1565.5 1548.1 1563.1 1548.8 1563.6C1549.5 1564.1 1549.8 1568.2 1550.8 1570.3C1551.8 1572.4 1553.5 1574.5 1554.8 1576.1C1556.1 1577.7 1557.5 1578.8 1558.8 1580.0C1560.1 1581.1 1561.1 1582.1 1562.8 1582.9C1564.5 1583.7 1567.8 1584.5 1568.8 1584.8Z" fill="#ff7f0e" fill-opacity="0.4" stroke="none"/>
<path d="M1571.8 1584.8C1573.0 1583.5 1577.1 1578.2 1579.3 1577.1C1581.5 1576.0 1583.1 1577.7 1584.8 1578.0C1586.5 1578.4 1587.6 1579.0 1589.6 1579.0C1591.6 1579.0 1594.5 1578.5 1596.8 1578.0C1599.1 1577.6 1601.1 1577.4 1603.3 1576.1C1605.5 1574.8 1607.5 1572.7 1609.8 1570.3C1612.1 1567.9 1614.8 1565.3 1617.1 1561.6C1619.4 1557.9 1621.5 1552.8 1623.8 1548.1C1626.1 1543.5 1628.5 1538.5 1630.8 1533.7C1633.1 1528.8 1635.5 1523.7 1637.8 1519.2C1640.1 1514.7 1642.8 1509.0 1644.5 1506.6C1646.2 1504.2 1646.4 1505.3 1647.8 1504.7C1649.2 1504.1 1651.1 1503.9 1652.8 1502.8C1654.5 1501.6 1656.0 1499.9 1657.8 1498.0C1659.6 1496.0 1661.9 1492.8 1663.8 1491.2C1665.7 1489.6 1667.5 1488.1 1669.2 1488.3C1670.9 1488.5 1672.0 1489.6 1673.8 1492.2C1675.6 1494.7 1677.8 1499.9 1679.8 1503.7C1681.8 1507.6 1683.7 1511.8 1685.8 1515.3C1687.9 1518.9 1690.4 1523.1 1692.6 1525.0C1694.8 1526.8 1696.4 1526.2 1698.8 1526.4C1701.2 1526.7 1703.8 1526.5 1706.8 1526.4C1709.8 1526.3 1714.3 1526.5 1716.6 1525.9C1718.9 1525.4 1719.4 1523.8 1720.8 1523.0C1722.2 1522.2 1723.7 1520.8 1725.2 1521.1C1726.7 1521.4 1728.2 1523.2 1729.8 1525.0C1731.4 1526.7 1733.0 1529.6 1734.8 1531.7C1736.6 1533.8 1738.6 1536.2 1740.6 1537.5C1742.6 1538.8 1744.5 1538.8 1746.8 1539.4C1749.1 1540.1 1751.6 1539.9 1754.3 1541.4C1757.0 1542.8 1759.9 1545.9 1762.8 1548.1C1765.7 1550.4 1768.7 1552.6 1771.5 1554.9C1774.3 1557.1 1776.9 1559.4 1779.8 1561.6C1782.7 1563.9 1785.9 1566.3 1788.7 1568.4C1791.5 1570.5 1793.9 1572.4 1796.8 1574.2C1799.7 1576.0 1802.8 1577.6 1805.8 1579.0C1808.8 1580.4 1812.0 1581.6 1814.8 1582.4C1817.6 1583.2 1819.1 1583.4 1822.8 1583.8C1826.5 1584.2 1834.5 1584.6 1836.8 1584.8" fill="none" stroke="#1f77b4" stroke-width="2.0" stroke-linejoin="round"/>
<path d="M1434.8 1584.8L1438.8 1583.8L1442.8 1581.9L1445.8 1580.0L1447.8 1571.3L1449.8 1569.4L1451.3 1565.5L1453.3 1562.6L1454.8 1555.8L1456.3 1548.1L1457.3 1541.4L1458.3 1543.3L1458.8 1526.9L1459.6 1507.6L1460.3 1488.3L1461.3 1488.3L1461.8 1507.6L1462.3 1526.9L1462.8 1544.3L1463.8 1542.3L1464.3 1560.7L1465.3 1577.1L1466.3 1580.0L1467.3 1584.8" fill="none" stroke="#2ca02c" stroke-width="2.6" stroke-linejoin="round"/>
<path d="M1514.8 1584.8L1517.5 1581.9L1518.8 1546.2L1520.2 1488.3L1521.4 1541.4L1522.6 1577.1L1523.8 1582.9L1526.8 1584.8" fill="none" stroke="#7f7f7f" stroke-width="2.0" stroke-linejoin="round"/>
<path d="M1501.8 1584.8C1502.6 1584.2 1505.5 1581.3 1506.8 1580.9C1508.1 1580.6 1508.1 1582.7 1509.8 1582.9C1511.5 1583.0 1514.0 1582.4 1516.8 1581.9C1519.6 1581.4 1523.8 1580.8 1526.8 1580.0C1529.8 1579.2 1532.5 1578.5 1534.8 1577.1C1537.1 1575.6 1539.4 1576.4 1540.8 1571.3C1542.2 1566.1 1542.6 1556.8 1543.3 1546.2C1544.0 1535.6 1544.3 1517.2 1544.8 1507.6C1545.3 1497.9 1545.8 1487.5 1546.3 1488.3C1546.8 1489.1 1547.3 1502.8 1547.8 1512.4C1548.3 1522.1 1548.8 1537.4 1549.3 1546.2C1549.8 1555.0 1550.0 1561.0 1550.8 1565.5C1551.5 1570.0 1552.5 1571.3 1553.8 1573.2C1555.1 1575.2 1557.1 1576.0 1558.8 1577.1C1560.5 1578.2 1562.1 1579.8 1563.8 1580.0C1565.5 1580.1 1567.3 1578.8 1568.8 1578.0C1570.3 1577.2 1571.8 1574.8 1572.8 1575.1C1573.8 1575.5 1573.8 1579.7 1574.8 1580.0C1575.8 1580.3 1577.8 1576.8 1578.8 1577.1C1579.8 1577.4 1579.5 1580.9 1580.8 1581.9C1582.1 1582.9 1584.1 1582.4 1586.8 1582.9C1589.5 1583.4 1595.1 1584.5 1596.8 1584.8" fill="none" stroke="#e377c2" stroke-width="2.0" stroke-linejoin="round"/>
<path d="M1506.8 1584.8C1507.8 1583.8 1511.1 1581.3 1512.8 1579.0C1514.5 1576.8 1515.5 1574.2 1516.8 1571.3C1518.1 1568.4 1519.4 1564.4 1520.8 1561.6C1522.2 1558.9 1523.8 1555.2 1525.0 1554.9C1526.2 1554.6 1526.8 1557.8 1527.8 1559.7C1528.8 1561.6 1529.8 1564.9 1530.8 1566.5C1531.8 1568.1 1532.9 1569.2 1533.8 1569.4C1534.7 1569.5 1535.5 1567.3 1536.3 1567.4C1537.1 1567.6 1538.0 1569.0 1538.8 1570.3C1539.5 1571.6 1539.8 1574.7 1540.8 1575.1C1541.8 1575.6 1543.6 1572.9 1544.8 1573.2C1546.0 1573.5 1546.5 1576.0 1547.8 1577.1C1549.1 1578.2 1551.0 1579.2 1552.8 1580.0C1554.6 1580.8 1556.5 1581.4 1558.8 1581.9C1561.1 1582.4 1562.1 1582.5 1566.8 1582.9C1571.5 1583.2 1582.6 1583.8 1586.8 1583.8C1591.0 1583.8 1590.1 1582.9 1591.8 1582.9C1593.5 1582.9 1595.1 1583.5 1596.8 1583.8C1598.5 1584.2 1601.0 1584.6 1601.8 1584.8" fill="none" stroke="#8c564b" stroke-width="2.0" stroke-linejoin="round"/>
<path d="M1514.8 1584.8C1516.8 1584.2 1523.1 1581.9 1526.8 1580.9C1530.5 1580.0 1533.8 1579.7 1536.8 1579.0C1539.8 1578.4 1542.5 1578.4 1544.8 1577.1C1547.1 1575.8 1549.1 1576.4 1550.8 1571.3C1552.5 1566.1 1553.8 1555.2 1554.8 1546.2C1555.8 1537.2 1556.1 1525.6 1556.8 1517.2C1557.5 1508.9 1558.1 1500.8 1558.8 1496.0C1559.5 1491.2 1560.0 1488.3 1560.8 1488.3C1561.5 1488.3 1562.5 1490.4 1563.3 1496.0C1564.1 1501.6 1565.0 1512.9 1565.8 1522.1C1566.6 1531.2 1567.5 1542.5 1568.3 1551.0C1569.0 1559.5 1569.5 1568.4 1570.3 1573.2C1571.0 1578.0 1571.7 1578.5 1572.8 1580.0C1573.9 1581.4 1574.5 1581.4 1576.8 1581.9C1579.1 1582.4 1582.6 1582.7 1586.8 1582.9C1591.0 1583.0 1598.8 1583.5 1601.8 1582.9C1604.8 1582.2 1603.9 1581.3 1604.8 1579.0C1605.7 1576.8 1606.5 1571.9 1607.3 1569.4C1608.1 1566.8 1609.0 1563.4 1609.8 1563.6C1610.6 1563.7 1611.5 1567.8 1612.3 1570.3C1613.1 1572.9 1614.0 1576.9 1614.8 1579.0C1615.5 1581.1 1615.6 1582.1 1616.8 1582.9C1618.0 1583.7 1620.5 1584.0 1621.8 1583.8C1623.1 1583.7 1623.6 1582.5 1624.8 1581.9C1626.0 1581.3 1627.5 1580.6 1628.8 1580.5C1630.1 1580.3 1631.5 1581.0 1632.8 1580.9C1634.1 1580.9 1635.6 1579.8 1636.8 1580.0C1638.0 1580.1 1638.8 1581.1 1639.8 1581.9C1640.8 1582.7 1642.3 1584.3 1642.8 1584.8" fill="none" stroke="#9467bd" stroke-width="2.0" stroke-linejoin="round"/>
<path d="M1528.8 1584.8C1530.1 1584.0 1534.5 1581.9 1536.8 1580.0C1539.1 1578.0 1541.1 1577.2 1542.8 1573.2C1544.5 1569.2 1545.6 1563.6 1546.8 1555.8C1548.0 1548.1 1548.9 1536.5 1549.8 1526.9C1550.7 1517.2 1551.7 1504.4 1552.3 1498.0C1552.9 1491.5 1553.2 1487.5 1553.6 1488.3C1554.0 1489.1 1554.3 1493.9 1554.8 1502.8C1555.3 1511.6 1556.1 1530.6 1556.8 1541.4C1557.5 1552.2 1558.0 1561.5 1558.8 1567.4C1559.6 1573.4 1560.5 1574.7 1561.8 1577.1C1563.1 1579.5 1565.1 1580.6 1566.8 1581.9C1568.5 1583.2 1571.0 1584.3 1571.8 1584.8" fill="none" stroke="#d62728" stroke-width="2.0" stroke-linejoin="round"/>
<path d="M1512.8 1584.8C1514.3 1584.3 1519.3 1583.2 1521.8 1581.9C1524.3 1580.6 1526.4 1581.4 1527.7 1577.1C1529.0 1572.7 1529.1 1565.8 1529.8 1555.8C1530.5 1545.9 1531.1 1528.5 1531.8 1517.2C1532.5 1506.0 1533.4 1489.1 1534.2 1488.3C1534.9 1487.5 1535.5 1502.8 1536.3 1512.4C1537.1 1522.1 1538.0 1536.5 1538.8 1546.2C1539.6 1555.9 1540.5 1565.5 1541.3 1570.3C1542.1 1575.2 1542.9 1575.6 1543.8 1575.1C1544.7 1574.7 1546.0 1569.4 1546.8 1567.4C1547.6 1565.5 1548.1 1563.1 1548.8 1563.6C1549.5 1564.1 1549.8 1568.2 1550.8 1570.3C1551.8 1572.4 1553.5 1574.5 1554.8 1576.1C1556.1 1577.7 1557.5 1578.8 1558.8 1580.0C1560.1 1581.1 1561.1 1582.1 1562.8 1582.9C1564.5 1583.7 1567.8 1584.5 1568.8 1584.8" fill="none" stroke="#ff7f0e" stroke-width="2.0" stroke-linejoin="round"/>
<path d="M1421.4 1584.8H2007.3" stroke="#ff7f0e" stroke-width="2.2"/>
<path d="M2063.3 1614.3C2063.1 1615.4 2064.0 1618.3 2061.9 1620.8C2059.8 1623.2 2053.5 1625.9 2050.8 1629.1C2048.0 1632.4 2046.3 1628.2 2045.2 1640.3C2044.0 1652.4 2043.7 1677.6 2043.8 1701.8C2043.9 1726.1 2045.0 1762.4 2045.7 1785.7C2046.4 1809.0 2046.9 1825.3 2048.0 1841.6C2049.0 1857.9 2050.5 1871.9 2052.1 1883.5C2053.8 1895.2 2055.9 1904.0 2057.7 1911.5C2059.6 1919.0 2061.5 1924.1 2063.3 1928.3C2065.2 1932.5 2066.6 1934.1 2068.9 1936.7C2071.3 1939.2 2075.4 1940.9 2077.3 1943.6C2079.2 1946.4 2078.5 1948.5 2080.1 1953.4C2081.7 1958.3 2083.6 1966.5 2087.1 1973.0C2090.6 1979.5 2095.9 1986.5 2101.1 1992.6C2106.2 1998.6 2111.8 2003.3 2117.8 2009.3C2123.9 2015.4 2131.8 2022.9 2137.4 2028.9C2143.0 2035.0 2147.8 2040.6 2151.4 2045.7C2155.0 2050.8 2158.5 2055.5 2158.9 2059.7C2159.4 2063.9 2157.8 2067.8 2154.2 2070.8C2150.6 2073.9 2144.4 2076.0 2137.4 2077.8C2130.4 2079.7 2121.6 2080.6 2112.3 2082.0C2102.9 2083.4 2090.6 2085.8 2081.5 2086.2C2072.4 2086.7 2061.7 2085.1 2057.7 2084.8L2042.4 2084.8L2042.4 1614.3Z" fill="#1f77b4" fill-opacity=".5"/>
<path d="M2137.4 1615.2C2133.2 1616.1 2119.7 1618.4 2112.3 1620.8C2104.8 1623.1 2097.1 1625.9 2092.7 1629.1C2088.3 1632.4 2087.3 1635.2 2085.7 1640.3C2084.1 1645.4 2084.1 1652.0 2082.9 1659.9C2081.7 1667.8 2079.6 1678.5 2078.7 1687.8C2077.8 1697.2 2077.1 1707.4 2077.3 1715.8C2077.5 1724.2 2078.0 1731.2 2080.1 1738.2C2082.2 1745.2 2085.5 1751.2 2089.9 1757.7C2094.3 1764.3 2099.7 1770.8 2106.7 1777.3C2113.7 1783.8 2124.4 1791.8 2131.8 1796.9C2139.3 1802.0 2146.9 1805.0 2151.4 1808.1C2155.9 1811.1 2158.5 1812.7 2158.9 1815.0C2159.4 1817.4 2158.7 1819.7 2154.2 1822.0C2149.7 1824.4 2140.2 1826.9 2131.8 1829.0C2123.4 1831.1 2113.2 1832.8 2103.9 1834.6C2094.6 1836.5 2084.3 1837.9 2075.9 1840.2C2067.5 1842.5 2059.1 1845.8 2053.5 1848.6C2048.0 1851.4 2044.2 1855.6 2042.4 1857.0L2042.4 1857.0L2042.4 1614.3Z" fill="#2ca02c" fill-opacity=".5"/>
<path d="M2158.9 1616.6C2158.2 1619.1 2157.3 1626.6 2154.2 1631.9C2151.1 1637.3 2145.3 1643.4 2140.2 1648.7C2135.1 1654.1 2129.0 1659.0 2123.4 1664.1C2117.8 1669.2 2111.3 1674.6 2106.7 1679.5C2102.0 1684.4 2098.0 1688.3 2095.5 1693.4C2092.9 1698.6 2092.0 1704.2 2091.3 1710.2C2090.6 1716.3 2091.1 1721.9 2091.3 1729.8C2091.5 1737.7 2092.2 1748.4 2092.7 1757.7C2093.2 1767.1 2094.0 1776.4 2094.1 1785.7C2094.2 1795.0 2093.9 1804.3 2093.2 1813.7C2092.5 1823.0 2091.6 1832.3 2089.9 1841.6C2088.2 1850.9 2085.5 1860.2 2082.9 1869.6C2080.3 1878.9 2077.3 1888.2 2074.5 1897.5C2071.7 1906.8 2068.9 1916.2 2066.1 1925.5C2063.3 1934.8 2060.3 1944.1 2057.7 1953.4C2055.2 1962.8 2052.8 1972.1 2050.8 1981.4C2048.7 1990.7 2047.0 2000.0 2045.7 2009.3C2044.4 2018.7 2043.5 2025.2 2042.9 2037.3C2042.4 2049.4 2042.5 2074.6 2042.4 2082.0L2042.4 2082.0L2042.4 1614.3Z" fill="#fff"/>
<path d="M2143.0 1614.3C2145.6 1615.4 2156.5 1617.8 2158.4 1620.8C2160.2 1623.7 2157.2 1627.7 2154.2 1631.9C2151.2 1636.1 2146.5 1641.5 2140.2 1645.9C2133.9 1650.3 2120.9 1654.3 2116.4 1658.5C2112.0 1662.7 2115.8 1666.6 2113.7 1671.1C2111.6 1675.5 2108.8 1679.9 2103.9 1685.1C2099.0 1690.2 2090.4 1696.2 2084.3 1701.8C2078.2 1707.4 2072.0 1713.0 2067.5 1718.6C2063.1 1724.2 2060.1 1728.9 2057.7 1735.4C2055.4 1741.9 2054.9 1747.0 2053.5 1757.7C2052.1 1768.5 2050.5 1785.7 2049.4 1799.7C2048.2 1813.7 2047.0 1825.3 2046.6 1841.6C2046.1 1857.9 2046.3 1878.9 2046.6 1897.5C2046.8 1916.2 2048.2 1934.8 2048.0 1953.4C2047.7 1972.1 2046.1 1990.7 2045.2 2009.3C2044.2 2028.0 2042.8 2055.9 2042.4 2065.3L2042.4 2065.3L2042.4 1614.3Z" fill="#fff"/>
<clipPath id="clipR2042"><path d="M2143.0 1614.3C2145.6 1615.4 2156.5 1617.8 2158.4 1620.8C2160.2 1623.7 2157.2 1627.7 2154.2 1631.9C2151.2 1636.1 2146.5 1641.5 2140.2 1645.9C2133.9 1650.3 2120.9 1654.3 2116.4 1658.5C2112.0 1662.7 2115.8 1666.6 2113.7 1671.1C2111.6 1675.5 2108.8 1679.9 2103.9 1685.1C2099.0 1690.2 2090.4 1696.2 2084.3 1701.8C2078.2 1707.4 2072.0 1713.0 2067.5 1718.6C2063.1 1724.2 2060.1 1728.9 2057.7 1735.4C2055.4 1741.9 2054.9 1747.0 2053.5 1757.7C2052.1 1768.5 2050.5 1785.7 2049.4 1799.7C2048.2 1813.7 2047.0 1825.3 2046.6 1841.6C2046.1 1857.9 2046.3 1878.9 2046.6 1897.5C2046.8 1916.2 2048.2 1934.8 2048.0 1953.4C2047.7 1972.1 2046.1 1990.7 2045.2 2009.3C2044.2 2028.0 2042.8 2055.9 2042.4 2065.3L2182.4 2065.3L2182.4 1614.3Z"/></clipPath>
<path d="M2157.0 1615.2C2156.1 1618.0 2155.6 1625.9 2151.4 1631.9C2147.2 1638.0 2138.3 1645.4 2131.8 1651.5C2125.3 1657.6 2118.8 1662.7 2112.3 1668.3C2105.7 1673.9 2098.0 1679.5 2092.7 1685.1C2087.3 1690.6 2083.4 1695.8 2080.1 1701.8C2076.8 1707.9 2075.0 1713.9 2073.1 1721.4C2071.3 1728.9 2069.2 1735.8 2068.9 1746.6C2068.7 1757.3 2070.6 1772.2 2071.7 1785.7C2072.9 1799.2 2074.5 1816.0 2075.9 1827.6C2077.3 1839.3 2078.9 1846.3 2080.1 1855.6C2081.3 1864.9 2083.4 1874.2 2082.9 1883.5C2082.4 1892.9 2079.2 1902.2 2077.3 1911.5C2075.4 1920.8 2074.3 1930.1 2071.7 1939.5C2069.2 1948.8 2065.0 1958.1 2061.9 1967.4C2058.9 1976.7 2056.1 1983.7 2053.5 1995.4C2051.0 2007.0 2048.2 2025.7 2046.6 2037.3C2044.9 2049.0 2044.2 2060.6 2043.8 2065.3L2042.4 2065.3L2042.4 1614.3Z" fill="#e377c2" fill-opacity=".5" clip-path="url(#clipR2042)"/>
<path d="M2158.9 1615.7C2158.1 1618.9 2157.2 1628.3 2153.6 1634.7C2150.0 1641.2 2143.8 1647.8 2137.4 1654.3C2131.0 1660.8 2122.5 1667.3 2115.1 1673.9C2107.6 1680.4 2099.2 1687.4 2092.7 1693.4C2086.2 1699.5 2080.6 1704.2 2075.9 1710.2C2071.3 1716.3 2068.0 1721.9 2064.7 1729.8C2061.5 1737.7 2058.7 1746.1 2056.3 1757.7C2054.0 1769.4 2051.9 1785.7 2050.8 1799.7C2049.6 1813.7 2048.9 1827.6 2049.4 1841.6C2049.8 1855.6 2051.5 1869.6 2053.5 1883.5C2055.6 1897.5 2061.0 1911.5 2061.9 1925.5C2062.9 1939.5 2060.8 1953.4 2059.1 1967.4C2057.5 1981.4 2054.2 1995.4 2052.1 2009.3C2050.1 2023.3 2048.0 2039.2 2046.6 2051.3C2045.2 2063.4 2044.2 2076.9 2043.8 2082.0L2042.4 2082.0L2042.4 1614.3Z" fill="#9467bd" fill-opacity=".5" clip-path="url(#clipR2042)"/>
<path d="M2143.0 1614.3C2145.6 1615.4 2156.5 1617.8 2158.4 1620.8C2160.2 1623.7 2157.2 1627.7 2154.2 1631.9C2151.2 1636.1 2146.5 1641.5 2140.2 1645.9C2133.9 1650.3 2120.9 1654.3 2116.4 1658.5C2112.0 1662.7 2115.8 1666.6 2113.7 1671.1C2111.6 1675.5 2108.8 1679.9 2103.9 1685.1C2099.0 1690.2 2090.4 1696.2 2084.3 1701.8C2078.2 1707.4 2072.0 1713.0 2067.5 1718.6C2063.1 1724.2 2060.1 1728.9 2057.7 1735.4C2055.4 1741.9 2054.9 1747.0 2053.5 1757.7C2052.1 1768.5 2050.5 1785.7 2049.4 1799.7C2048.2 1813.7 2047.0 1825.3 2046.6 1841.6C2046.1 1857.9 2046.3 1878.9 2046.6 1897.5C2046.8 1916.2 2048.2 1934.8 2048.0 1953.4C2047.7 1972.1 2046.1 1990.7 2045.2 2009.3C2044.2 2028.0 2042.8 2055.9 2042.4 2065.3L2042.4 2065.3L2042.4 1614.3Z" fill="#ff7f0e" fill-opacity=".5"/>
<path d="M2158.9 1616.6C2158.2 1619.1 2157.3 1626.6 2154.2 1631.9C2151.1 1637.3 2145.3 1643.4 2140.2 1648.7C2135.1 1654.1 2129.0 1659.0 2123.4 1664.1C2117.8 1669.2 2111.3 1674.6 2106.7 1679.5C2102.0 1684.4 2098.0 1688.3 2095.5 1693.4C2092.9 1698.6 2092.0 1704.2 2091.3 1710.2C2090.6 1716.3 2091.1 1721.9 2091.3 1729.8C2091.5 1737.7 2092.2 1748.4 2092.7 1757.7C2093.2 1767.1 2094.0 1776.4 2094.1 1785.7C2094.2 1795.0 2093.9 1804.3 2093.2 1813.7C2092.5 1823.0 2091.6 1832.3 2089.9 1841.6C2088.2 1850.9 2085.5 1860.2 2082.9 1869.6C2080.3 1878.9 2077.3 1888.2 2074.5 1897.5C2071.7 1906.8 2068.9 1916.2 2066.1 1925.5C2063.3 1934.8 2060.3 1944.1 2057.7 1953.4C2055.2 1962.8 2052.8 1972.1 2050.8 1981.4C2048.7 1990.7 2047.0 2000.0 2045.7 2009.3C2044.4 2018.7 2043.5 2025.2 2042.9 2037.3C2042.4 2049.4 2042.5 2074.6 2042.4 2082.0L2042.4 2082.0L2042.4 1614.3Z" fill="#d62728" fill-opacity=".5"/>
<path d="M2063.3 1614.3C2063.1 1615.4 2064.0 1618.3 2061.9 1620.8C2059.8 1623.2 2053.5 1625.9 2050.8 1629.1C2048.0 1632.4 2046.3 1628.2 2045.2 1640.3C2044.0 1652.4 2043.7 1677.6 2043.8 1701.8C2043.9 1726.1 2045.0 1762.4 2045.7 1785.7C2046.4 1809.0 2046.9 1825.3 2048.0 1841.6C2049.0 1857.9 2050.5 1871.9 2052.1 1883.5C2053.8 1895.2 2055.9 1904.0 2057.7 1911.5C2059.6 1919.0 2061.5 1924.1 2063.3 1928.3C2065.2 1932.5 2066.6 1934.1 2068.9 1936.7C2071.3 1939.2 2075.4 1940.9 2077.3 1943.6C2079.2 1946.4 2078.5 1948.5 2080.1 1953.4C2081.7 1958.3 2083.6 1966.5 2087.1 1973.0C2090.6 1979.5 2095.9 1986.5 2101.1 1992.6C2106.2 1998.6 2111.8 2003.3 2117.8 2009.3C2123.9 2015.4 2131.8 2022.9 2137.4 2028.9C2143.0 2035.0 2147.8 2040.6 2151.4 2045.7C2155.0 2050.8 2158.5 2055.5 2158.9 2059.7C2159.4 2063.9 2157.8 2067.8 2154.2 2070.8C2150.6 2073.9 2144.4 2076.0 2137.4 2077.8C2130.4 2079.7 2121.6 2080.6 2112.3 2082.0C2102.9 2083.4 2090.6 2085.8 2081.5 2086.2C2072.4 2086.7 2061.7 2085.1 2057.7 2084.8" fill="none" stroke="#1f77b4" stroke-width="2.0"/>
<path d="M2137.4 1615.2C2133.2 1616.1 2119.7 1618.4 2112.3 1620.8C2104.8 1623.1 2097.1 1625.9 2092.7 1629.1C2088.3 1632.4 2087.3 1635.2 2085.7 1640.3C2084.1 1645.4 2084.1 1652.0 2082.9 1659.9C2081.7 1667.8 2079.6 1678.5 2078.7 1687.8C2077.8 1697.2 2077.1 1707.4 2077.3 1715.8C2077.5 1724.2 2078.0 1731.2 2080.1 1738.2C2082.2 1745.2 2085.5 1751.2 2089.9 1757.7C2094.3 1764.3 2099.7 1770.8 2106.7 1777.3C2113.7 1783.8 2124.4 1791.8 2131.8 1796.9C2139.3 1802.0 2146.9 1805.0 2151.4 1808.1C2155.9 1811.1 2158.5 1812.7 2158.9 1815.0C2159.4 1817.4 2158.7 1819.7 2154.2 1822.0C2149.7 1824.4 2140.2 1826.9 2131.8 1829.0C2123.4 1831.1 2113.2 1832.8 2103.9 1834.6C2094.6 1836.5 2084.3 1837.9 2075.9 1840.2C2067.5 1842.5 2059.1 1845.8 2053.5 1848.6C2048.0 1851.4 2044.2 1855.6 2042.4 1857.0" fill="none" stroke="#2ca02c" stroke-width="2.0"/>
<path d="M2042.9 1626.3C2044.7 1625.9 2043.4 1624.7 2053.5 1623.5C2063.7 1622.4 2089.0 1620.7 2103.9 1619.4C2118.8 1618.0 2134.6 1616.5 2143.0 1615.7C2151.4 1614.9 2152.3 1614.8 2154.2 1614.6" fill="none" stroke="#7f7f7f" stroke-width="2.0"/>
<path d="M2157.0 1615.2C2156.1 1618.0 2155.6 1625.9 2151.4 1631.9C2147.2 1638.0 2138.3 1645.4 2131.8 1651.5C2125.3 1657.6 2118.8 1662.7 2112.3 1668.3C2105.7 1673.9 2098.0 1679.5 2092.7 1685.1C2087.3 1690.6 2083.4 1695.8 2080.1 1701.8C2076.8 1707.9 2075.0 1713.9 2073.1 1721.4C2071.3 1728.9 2069.2 1735.8 2068.9 1746.6C2068.7 1757.3 2070.6 1772.2 2071.7 1785.7C2072.9 1799.2 2074.5 1816.0 2075.9 1827.6C2077.3 1839.3 2078.9 1846.3 2080.1 1855.6C2081.3 1864.9 2083.4 1874.2 2082.9 1883.5C2082.4 1892.9 2079.2 1902.2 2077.3 1911.5C2075.4 1920.8 2074.3 1930.1 2071.7 1939.5C2069.2 1948.8 2065.0 1958.1 2061.9 1967.4C2058.9 1976.7 2056.1 1983.7 2053.5 1995.4C2051.0 2007.0 2048.2 2025.7 2046.6 2037.3C2044.9 2049.0 2044.2 2060.6 2043.8 2065.3" fill="none" stroke="#e377c2" stroke-width="2.0"/>
<path d="M2158.4 1618.0C2155.8 1620.3 2149.8 1626.8 2143.0 1631.9C2136.3 1637.1 2126.7 1643.1 2117.8 1648.7C2109.0 1654.3 2097.8 1659.9 2089.9 1665.5C2082.0 1671.1 2074.7 1676.2 2070.3 1682.3C2065.9 1688.3 2064.7 1693.9 2063.3 1701.8C2061.9 1709.7 2061.5 1718.1 2061.9 1729.8C2062.4 1741.4 2064.5 1757.7 2066.1 1771.7C2067.8 1785.7 2070.3 1799.7 2071.7 1813.7C2073.1 1827.6 2074.3 1841.6 2074.5 1855.6C2074.7 1869.6 2074.3 1883.5 2073.1 1897.5C2072.0 1911.5 2069.9 1927.8 2067.5 1939.5C2065.2 1951.1 2061.9 1958.1 2059.1 1967.4C2056.3 1976.7 2053.1 1983.7 2050.8 1995.4C2048.4 2007.0 2046.1 2030.3 2045.2 2037.3" fill="none" stroke="#8c564b" stroke-width="2.0"/>
<path d="M2158.9 1615.7C2158.1 1618.9 2157.2 1628.3 2153.6 1634.7C2150.0 1641.2 2143.8 1647.8 2137.4 1654.3C2131.0 1660.8 2122.5 1667.3 2115.1 1673.9C2107.6 1680.4 2099.2 1687.4 2092.7 1693.4C2086.2 1699.5 2080.6 1704.2 2075.9 1710.2C2071.3 1716.3 2068.0 1721.9 2064.7 1729.8C2061.5 1737.7 2058.7 1746.1 2056.3 1757.7C2054.0 1769.4 2051.9 1785.7 2050.8 1799.7C2049.6 1813.7 2048.9 1827.6 2049.4 1841.6C2049.8 1855.6 2051.5 1869.6 2053.5 1883.5C2055.6 1897.5 2061.0 1911.5 2061.9 1925.5C2062.9 1939.5 2060.8 1953.4 2059.1 1967.4C2057.5 1981.4 2054.2 1995.4 2052.1 2009.3C2050.1 2023.3 2048.0 2039.2 2046.6 2051.3C2045.2 2063.4 2044.2 2076.9 2043.8 2082.0" fill="none" stroke="#9467bd" stroke-width="2.0"/>
<path d="M2158.9 1616.6C2158.2 1619.1 2157.3 1626.6 2154.2 1631.9C2151.1 1637.3 2145.3 1643.4 2140.2 1648.7C2135.1 1654.1 2129.0 1659.0 2123.4 1664.1C2117.8 1669.2 2111.3 1674.6 2106.7 1679.5C2102.0 1684.4 2098.0 1688.3 2095.5 1693.4C2092.9 1698.6 2092.0 1704.2 2091.3 1710.2C2090.6 1716.3 2091.1 1721.9 2091.3 1729.8C2091.5 1737.7 2092.2 1748.4 2092.7 1757.7C2093.2 1767.1 2094.0 1776.4 2094.1 1785.7C2094.2 1795.0 2093.9 1804.3 2093.2 1813.7C2092.5 1823.0 2091.6 1832.3 2089.9 1841.6C2088.2 1850.9 2085.5 1860.2 2082.9 1869.6C2080.3 1878.9 2077.3 1888.2 2074.5 1897.5C2071.7 1906.8 2068.9 1916.2 2066.1 1925.5C2063.3 1934.8 2060.3 1944.1 2057.7 1953.4C2055.2 1962.8 2052.8 1972.1 2050.8 1981.4C2048.7 1990.7 2047.0 2000.0 2045.7 2009.3C2044.4 2018.7 2043.5 2025.2 2042.9 2037.3C2042.4 2049.4 2042.5 2074.6 2042.4 2082.0" fill="none" stroke="#d62728" stroke-width="2.0"/>
<path d="M2143.0 1614.3C2145.6 1615.4 2156.5 1617.8 2158.4 1620.8C2160.2 1623.7 2157.2 1627.7 2154.2 1631.9C2151.2 1636.1 2146.5 1641.5 2140.2 1645.9C2133.9 1650.3 2120.9 1654.3 2116.4 1658.5C2112.0 1662.7 2115.8 1666.6 2113.7 1671.1C2111.6 1675.5 2108.8 1679.9 2103.9 1685.1C2099.0 1690.2 2090.4 1696.2 2084.3 1701.8C2078.2 1707.4 2072.0 1713.0 2067.5 1718.6C2063.1 1724.2 2060.1 1728.9 2057.7 1735.4C2055.4 1741.9 2054.9 1747.0 2053.5 1757.7C2052.1 1768.5 2050.5 1785.7 2049.4 1799.7C2048.2 1813.7 2047.0 1825.3 2046.6 1841.6C2046.1 1857.9 2046.3 1878.9 2046.6 1897.5C2046.8 1916.2 2048.2 1934.8 2048.0 1953.4C2047.7 1972.1 2046.1 1990.7 2045.2 2009.3C2044.2 2028.0 2042.8 2055.9 2042.4 2065.3" fill="none" stroke="#ff7f0e" stroke-width="2.0"/>
<path d="M2042.4 1614.3V2084.8" stroke="#7f7f7f" stroke-width="1.6" stroke-opacity=".8"/></g>
</svg></body></html>
